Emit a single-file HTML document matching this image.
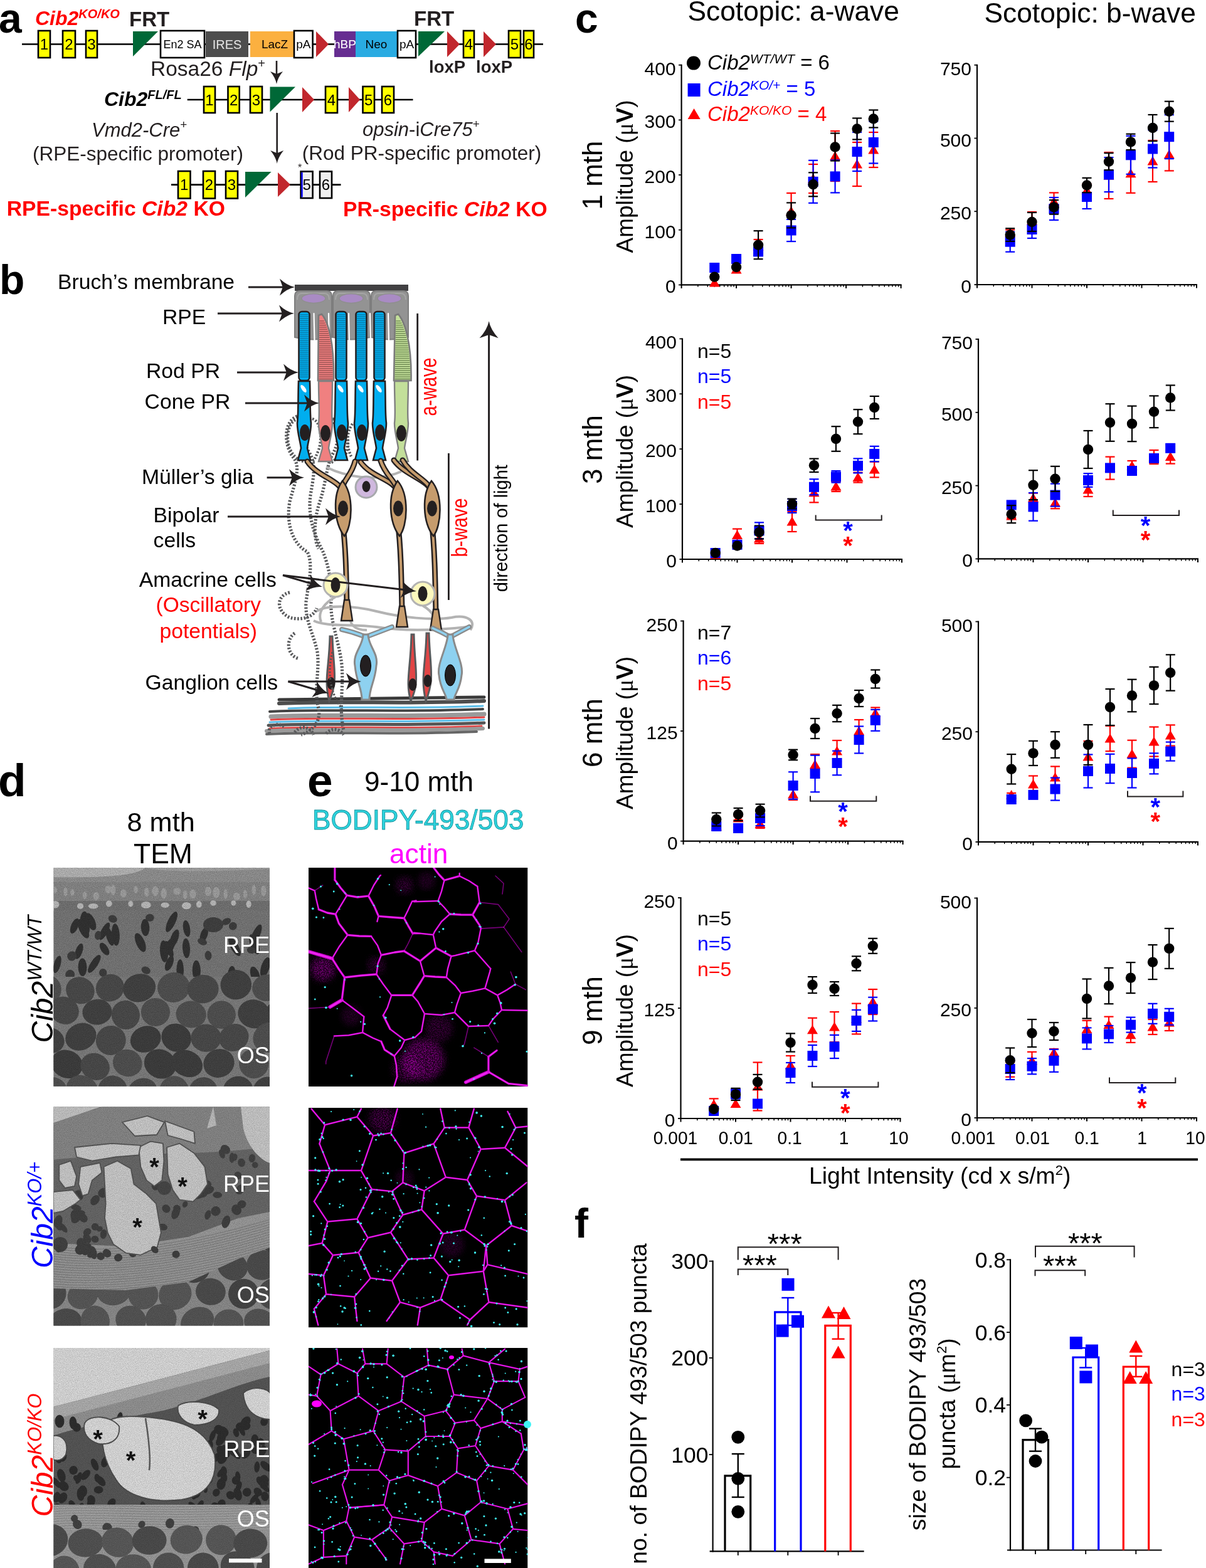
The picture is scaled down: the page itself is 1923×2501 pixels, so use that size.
<!DOCTYPE html>
<html><head><meta charset="utf-8"><title>Figure</title>
<style>
html,body{margin:0;padding:0;background:#fff;width:1923px;height:2501px;overflow:hidden}
svg{display:block}
text{font-family:"Liberation Sans", Arial, sans-serif}
</style></head><body>
<svg width="1923" height="2501" viewBox="0 0 1923 2501">
<text x="-2" y="52" font-size="66" font-weight="bold">a</text>
<line x1="35" y1="70.5" x2="866" y2="70.5" stroke="#000" stroke-width="2.6"/>
<rect x="61" y="49" width="19" height="43" fill="#FFFF00" stroke="#000" stroke-width="2.6"/>
<text x="70.5" y="79.1" font-size="24" text-anchor="middle">1</text>
<rect x="100" y="49" width="20" height="43" fill="#FFFF00" stroke="#000" stroke-width="2.6"/>
<text x="110" y="79.1" font-size="24" text-anchor="middle">2</text>
<rect x="137" y="49" width="18" height="43" fill="#FFFF00" stroke="#000" stroke-width="2.6"/>
<text x="146" y="79.1" font-size="24" text-anchor="middle">3</text>
<polygon points="212,50 252,50 212,90" fill="#006837"/>
<rect x="256" y="49" width="70" height="43" fill="#fff" stroke="#000" stroke-width="2.6"/>
<text x="291" y="77" font-size="18" text-anchor="middle">En2 SA</text>
<rect x="328" y="50" width="68" height="41" fill="#4D4D4D"/>
<text x="362" y="77.7" font-size="20" text-anchor="middle" fill="#E6E6E6">IRES</text>
<rect x="402" y="50" width="72" height="41" fill="#FBB040"/>
<text x="438" y="77.3" font-size="19" text-anchor="middle">LacZ</text>
<rect x="399" y="50" width="5" height="41" fill="#FBB040"/>
<rect x="469" y="49" width="29.6" height="43" fill="#fff" stroke="#000" stroke-width="2.6"/>
<text x="483.8" y="77.3" font-size="19" text-anchor="middle">pA</text>
<polygon points="504,50 524,70.5 504,91" fill="#C1272D"/>
<rect x="533" y="50" width="34" height="41" fill="#662D91"/>
<text x="550" y="77.3" font-size="19" text-anchor="middle" fill="#fff">hBP</text>
<rect x="567" y="50" width="66" height="41" fill="#29ABE2"/>
<text x="600" y="77.3" font-size="19" text-anchor="middle">Neo</text>
<rect x="634" y="49" width="29" height="43" fill="#fff" stroke="#000" stroke-width="2.6"/>
<text x="648.5" y="77.3" font-size="19" text-anchor="middle">pA</text>
<polygon points="667,50 709,50 667,90" fill="#006837"/>
<polygon points="713,50 733,70.5 713,91" fill="#C1272D"/>
<rect x="739" y="49" width="17" height="43" fill="#FFFF00" stroke="#000" stroke-width="2.6"/>
<text x="747.5" y="79.1" font-size="24" text-anchor="middle">4</text>
<polygon points="771,50 791,70.5 771,91" fill="#C1272D"/>
<rect x="811" y="49" width="19" height="43" fill="#FFFF00" stroke="#000" stroke-width="2.6"/>
<text x="820.5" y="79.1" font-size="24" text-anchor="middle">5</text>
<rect x="835" y="49" width="16" height="43" fill="#FFFF00" stroke="#000" stroke-width="2.6"/>
<text x="843" y="79.1" font-size="24" text-anchor="middle">6</text>
<text x="206" y="42" font-size="33" font-weight="bold" fill="#231F20">FRT</text>
<text x="660" y="41" font-size="33" font-weight="bold" fill="#231F20">FRT</text>
<text x="684" y="116" font-size="27.5" font-weight="bold" fill="#231F20">loxP</text>
<text x="759" y="116" font-size="27.5" font-weight="bold" fill="#231F20">loxP</text>
<text x="56" y="40" font-size="32" font-weight="bold" font-style="italic" fill="#FF0000">Cib2<tspan font-size="20" dy="-11">KO/KO</tspan></text>
<text x="240" y="120.5" font-size="33.5" fill="#231F20">Rosa26 <tspan font-style="italic">Flp</tspan><tspan font-size="20" dy="-13">+</tspan></text>
<line x1="441" y1="97" x2="441" y2="122" stroke="#231F20" stroke-width="2.6"/>
<path d="M441 134 Q439.2 124 431 114 L441 118 L451 114 Q442.8 124 441 134 Z" fill="#231F20"/>
<text x="166" y="169" font-size="32" font-weight="bold" font-style="italic" fill="#000">Cib2<tspan font-size="20" dy="-11">FL/FL</tspan></text>
<line x1="298.7" y1="159" x2="658.5" y2="159" stroke="#000" stroke-width="2.6"/>
<rect x="325" y="138" width="18" height="42" fill="#FFFF00" stroke="#000" stroke-width="2.6"/>
<text x="334" y="167.6" font-size="24" text-anchor="middle">1</text>
<rect x="363.5" y="138" width="18.2" height="42" fill="#FFFF00" stroke="#000" stroke-width="2.6"/>
<text x="372.6" y="167.6" font-size="24" text-anchor="middle">2</text>
<rect x="399" y="138" width="19" height="42" fill="#FFFF00" stroke="#000" stroke-width="2.6"/>
<text x="408.5" y="167.6" font-size="24" text-anchor="middle">3</text>
<polygon points="430.5,138.5 471,138.5 430.5,178.6" fill="#006837"/>
<polygon points="482,139 501,159 482,179" fill="#C1272D"/>
<rect x="519" y="138" width="19" height="42" fill="#FFFF00" stroke="#000" stroke-width="2.6"/>
<text x="528.5" y="167.6" font-size="24" text-anchor="middle">4</text>
<polygon points="556,139 574,159 556,179" fill="#C1272D"/>
<rect x="578.5" y="138" width="18.5" height="42" fill="#FFFF00" stroke="#000" stroke-width="2.6"/>
<text x="587.8" y="167.6" font-size="24" text-anchor="middle">5</text>
<rect x="609" y="138" width="19" height="42" fill="#FFFF00" stroke="#000" stroke-width="2.6"/>
<text x="618.5" y="167.6" font-size="24" text-anchor="middle">6</text>
<line x1="441.7" y1="180" x2="441.7" y2="248" stroke="#231F20" stroke-width="2.6"/>
<path d="M441.7 261 Q439.8 250.5 431.2 240 L441.7 244.2 L452.2 240 Q443.6 250.5 441.7 261 Z" fill="#231F20"/>
<text x="146" y="218" font-size="31" font-style="italic" fill="#231F20">Vmd2-Cre<tspan font-style="normal" font-size="19" dy="-13">+</tspan></text>
<text x="52" y="256" font-size="31.5" fill="#231F20">(RPE-specific promoter)</text>
<text x="578" y="216.7" font-size="31" fill="#231F20"><tspan font-style="italic">opsin</tspan>-i<tspan font-style="italic">Cre75</tspan><tspan font-size="19" dy="-13">+</tspan></text>
<text x="481.7" y="254.6" font-size="31.5" fill="#231F20">(Rod PR-specific promoter)</text>
<line x1="273" y1="294.6" x2="543.5" y2="294.6" stroke="#000" stroke-width="2.6"/>
<rect x="284" y="273" width="19.5" height="43.5" fill="#FFFF00" stroke="#000" stroke-width="2.6"/>
<text x="293.8" y="303.4" font-size="24" text-anchor="middle">1</text>
<rect x="324" y="273" width="19" height="43.5" fill="#FFFF00" stroke="#000" stroke-width="2.6"/>
<text x="333.5" y="303.4" font-size="24" text-anchor="middle">2</text>
<rect x="360" y="273" width="19" height="43.5" fill="#FFFF00" stroke="#000" stroke-width="2.6"/>
<text x="369.5" y="303.4" font-size="24" text-anchor="middle">3</text>
<polygon points="391,274 432.6,274 391,315" fill="#006837"/>
<polygon points="443,275 463,294.5 443,314" fill="#C1272D"/>
<rect x="479.6" y="273.5" width="19" height="42.5" fill="#EFEFEF" stroke="#000" stroke-width="2.6"/>
<text x="489.1" y="303.4" font-size="24" text-anchor="middle">5</text>
<line x1="481.5" y1="275" x2="481.5" y2="314.5" stroke="#0000FF" stroke-width="2.4"/>
<rect x="510" y="273.5" width="19" height="42.5" fill="#EFEFEF" stroke="#000" stroke-width="2.6"/>
<text x="519.5" y="303.4" font-size="24" text-anchor="middle">6</text>
<text x="475" y="273" font-size="16" fill="#231F20">*</text>
<text x="10.7" y="344" font-size="33.7" font-weight="bold" fill="#FF0000">RPE-specific <tspan font-style="italic">Cib2</tspan> KO</text>
<text x="547" y="345" font-size="33.7" font-weight="bold" fill="#FF0000">PR-specific <tspan font-style="italic">Cib2</tspan> KO</text>
<text x="-1" y="469" font-size="66" font-weight="bold">b</text>
<text x="92" y="461" font-size="33.7">Bruch’s membrane</text>
<text x="259" y="517" font-size="33.7">RPE</text>
<text x="233" y="603" font-size="33.7">Rod PR</text>
<text x="230.6" y="652" font-size="33.7">Cone PR</text>
<text x="226" y="772" font-size="33.7">Müller’s glia</text>
<text x="244.6" y="833" font-size="33.7">Bipolar</text>
<text x="244.6" y="873" font-size="33.7">cells</text>
<text x="221.7" y="935.8" font-size="33.7">Amacrine cells</text>
<text x="248.5" y="976" font-size="33.5" fill="#FF0000">(Oscillatory</text>
<text x="254.5" y="1017.6" font-size="33.7" fill="#FF0000">potentials)</text>
<text x="231.5" y="1100" font-size="33.7">Ganglion cells</text>
<path d="M445 1122 C 565 1117, 632 1124, 772 1118" fill="none" stroke="#4D4D4D" stroke-width="6" stroke-linecap="round"/>
<path d="M460 1130 C 580 1125, 630 1132, 770 1126" fill="none" stroke="#5BBDE8" stroke-width="3" stroke-linecap="round"/>
<path d="M430 1135 C 550 1130, 630 1137, 770 1131" fill="none" stroke="#444" stroke-width="4" stroke-linecap="round"/>
<path d="M432 1143 C 552 1138, 632 1145, 772 1139" fill="none" stroke="#9A9A9A" stroke-width="7" stroke-linecap="round"/>
<path d="M432 1148 C 552 1143, 632 1150, 772 1144" fill="none" stroke="#E24545" stroke-width="3" stroke-linecap="round"/>
<path d="M430 1152 C 550 1147, 632 1154, 772 1148" fill="none" stroke="#5BBDE8" stroke-width="3" stroke-linecap="round"/>
<path d="M428 1157 C 548 1152, 632 1159, 772 1153" fill="none" stroke="#555" stroke-width="5" stroke-linecap="round"/>
<path d="M430 1162 C 550 1157, 628 1164, 768 1158" fill="none" stroke="#E24545" stroke-width="3" stroke-linecap="round"/>
<path d="M425 1166 C 545 1161, 630 1168, 770 1162" fill="none" stroke="#9A9A9A" stroke-width="6" stroke-linecap="round"/>
<path d="M425 1171 C 545 1166, 620 1173, 760 1167" fill="none" stroke="#666" stroke-width="4" stroke-linecap="round"/>
<line x1="445" y1="1116" x2="772" y2="1112" stroke="#3a3a3a" stroke-width="5" stroke-linecap="round"/>
<path d="M474 664 C452 672 452 710 468 730 C480 745 470 770 462 800 C455 840 470 870 490 880 C500 900 492 930 488 960 C486 990 500 1010 506 1040 C510 1070 500 1100 508 1130 C512 1150 500 1165 480 1172" fill="none" stroke="#58595B" stroke-width="5.2" stroke-dasharray="2.6 2.6" stroke-linecap="butt"/>
<path d="M495 660 C482 668 480 700 492 720 C505 740 500 760 495 790 C490 830 505 860 515 880 C525 905 530 935 528 960 C526 990 540 1020 545 1060 C548 1100 540 1130 548 1165" fill="none" stroke="#58595B" stroke-width="5.2" stroke-dasharray="2.6 2.6" stroke-linecap="butt"/>
<path d="M520 664 C540 670 545 700 530 725 C520 745 520 770 510 800 C500 830 500 860 508 875" fill="none" stroke="#58595B" stroke-width="5.2" stroke-dasharray="2.6 2.6" stroke-linecap="butt"/>
<path d="M538 670 C555 680 560 710 548 730" fill="none" stroke="#58595B" stroke-width="5.2" stroke-dasharray="2.6 2.6" stroke-linecap="butt"/>
<path d="M462 945 C440 950 440 975 462 985 C480 990 500 985 505 970" fill="none" stroke="#58595B" stroke-width="5.2" stroke-dasharray="2.6 2.6" stroke-linecap="butt"/>
<path d="M470 1010 C455 1020 458 1045 475 1050" fill="none" stroke="#58595B" stroke-width="5.2" stroke-dasharray="2.6 2.6" stroke-linecap="butt"/>
<path d="M430 1170 C425 1160 440 1150 455 1160 M470 1168 C480 1155 495 1160 500 1172 M520 1170 C530 1160 540 1162 548 1172" fill="none" stroke="#58595B" stroke-width="5.2" stroke-dasharray="2.6 2.6" stroke-linecap="butt"/>
<path d="M476 668 C458 672 456 700 462 715 C468 730 480 738 492 736" fill="none" stroke="#58595B" stroke-width="4.4" stroke-dasharray="2.6 2.6" stroke-linecap="butt"/>
<path d="M498 668 C512 672 514 700 508 718 C503 730 500 736 497 738" fill="none" stroke="#58595B" stroke-width="4.4" stroke-dasharray="2.6 2.6" stroke-linecap="butt"/>
<path d="M530 668 C546 672 548 700 542 718 C538 730 532 736 528 738" fill="none" stroke="#58595B" stroke-width="4.4" stroke-dasharray="2.6 2.6" stroke-linecap="butt"/>
<path d="M562 676 C552 690 552 712 560 728" fill="none" stroke="#58595B" stroke-width="4.4" stroke-dasharray="2.6 2.6" stroke-linecap="butt"/>
<path d="M505 975 C520 965 560 965 600 975 C640 985 690 990 720 985 C745 980 760 990 750 1005" fill="none" stroke="#B3B3B3" stroke-width="4"/>
<path d="M500 990 C520 1000 560 995 600 1000 C650 1008 700 1005 745 1000" fill="none" stroke="#B3B3B3" stroke-width="4"/>
<path d="M535 952 C520 960 505 975 512 992" fill="none" stroke="#B3B3B3" stroke-width="4"/>
<path d="M674 966 C690 975 700 990 690 1005" fill="none" stroke="#B3B3B3" stroke-width="4"/>
<path d="M560 980 C555 995 565 1005 585 1005" fill="none" stroke="#B3B3B3" stroke-width="4"/>
<rect x="470" y="454" width="181" height="10" fill="#414042"/>
<path d="M470 472 Q470 464 478 464 H521 Q529 464 529 472 V538 Q499 545 470 538 Z" fill="#939393" stroke="#7d7d7d" stroke-width="2"/>
<path d="M474 478 Q474 468 481 468 H517 Q525 468 525 478" fill="none" stroke="#a5a5a5" stroke-width="2"/>
<path d="M531 472 Q531 464 539 464 H582 Q590 464 590 472 V538 Q560 545 531 538 Z" fill="#939393" stroke="#7d7d7d" stroke-width="2"/>
<path d="M535 478 Q535 468 542 468 H578 Q586 468 586 478" fill="none" stroke="#a5a5a5" stroke-width="2"/>
<path d="M592 472 Q592 464 600 464 H643 Q651 464 651 472 V538 Q621 545 592 538 Z" fill="#939393" stroke="#7d7d7d" stroke-width="2"/>
<path d="M596 478 Q596 468 603 468 H639 Q647 468 647 478" fill="none" stroke="#a5a5a5" stroke-width="2"/>
<path d="M500.5 500 L501.5 544" fill="none" stroke="#ffffff" stroke-width="2.2" stroke-linecap="round"/>
<path d="M524 500 L525 544" fill="none" stroke="#ffffff" stroke-width="2.2" stroke-linecap="round"/>
<path d="M556 500 L557 544" fill="none" stroke="#ffffff" stroke-width="2.2" stroke-linecap="round"/>
<path d="M590 500 L591 544" fill="none" stroke="#ffffff" stroke-width="2.2" stroke-linecap="round"/>
<path d="M619 500 L620 544" fill="none" stroke="#ffffff" stroke-width="2.2" stroke-linecap="round"/>
<ellipse cx="500" cy="476" rx="19" ry="7.5" fill="#A98BC4" stroke="#8f8f8f" stroke-width="1.5"/>
<ellipse cx="560" cy="476" rx="19" ry="7.5" fill="#A98BC4" stroke="#8f8f8f" stroke-width="1.5"/>
<ellipse cx="621" cy="476" rx="19" ry="7.5" fill="#A98BC4" stroke="#8f8f8f" stroke-width="1.5"/>
<rect x="476.5" y="497" width="17" height="110" fill="#00AEEF" stroke="#231F20" stroke-width="2.6" rx="5"/>
<line x1="477.5" y1="502" x2="492.5" y2="502" stroke="#0b6a92" stroke-width="1.1"/>
<line x1="477.5" y1="505.2" x2="492.5" y2="505.2" stroke="#0b6a92" stroke-width="1.1"/>
<line x1="477.5" y1="508.4" x2="492.5" y2="508.4" stroke="#0b6a92" stroke-width="1.1"/>
<line x1="477.5" y1="511.6" x2="492.5" y2="511.6" stroke="#0b6a92" stroke-width="1.1"/>
<line x1="477.5" y1="514.8" x2="492.5" y2="514.8" stroke="#0b6a92" stroke-width="1.1"/>
<line x1="477.5" y1="518" x2="492.5" y2="518" stroke="#0b6a92" stroke-width="1.1"/>
<line x1="477.5" y1="521.2" x2="492.5" y2="521.2" stroke="#0b6a92" stroke-width="1.1"/>
<line x1="477.5" y1="524.4" x2="492.5" y2="524.4" stroke="#0b6a92" stroke-width="1.1"/>
<line x1="477.5" y1="527.6" x2="492.5" y2="527.6" stroke="#0b6a92" stroke-width="1.1"/>
<line x1="477.5" y1="530.8" x2="492.5" y2="530.8" stroke="#0b6a92" stroke-width="1.1"/>
<line x1="477.5" y1="534" x2="492.5" y2="534" stroke="#0b6a92" stroke-width="1.1"/>
<line x1="477.5" y1="537.2" x2="492.5" y2="537.2" stroke="#0b6a92" stroke-width="1.1"/>
<line x1="477.5" y1="540.4" x2="492.5" y2="540.4" stroke="#0b6a92" stroke-width="1.1"/>
<line x1="477.5" y1="543.6" x2="492.5" y2="543.6" stroke="#0b6a92" stroke-width="1.1"/>
<line x1="477.5" y1="546.8" x2="492.5" y2="546.8" stroke="#0b6a92" stroke-width="1.1"/>
<line x1="477.5" y1="550" x2="492.5" y2="550" stroke="#0b6a92" stroke-width="1.1"/>
<line x1="477.5" y1="553.2" x2="492.5" y2="553.2" stroke="#0b6a92" stroke-width="1.1"/>
<line x1="477.5" y1="556.4" x2="492.5" y2="556.4" stroke="#0b6a92" stroke-width="1.1"/>
<line x1="477.5" y1="559.6" x2="492.5" y2="559.6" stroke="#0b6a92" stroke-width="1.1"/>
<line x1="477.5" y1="562.8" x2="492.5" y2="562.8" stroke="#0b6a92" stroke-width="1.1"/>
<line x1="477.5" y1="566" x2="492.5" y2="566" stroke="#0b6a92" stroke-width="1.1"/>
<line x1="477.5" y1="569.2" x2="492.5" y2="569.2" stroke="#0b6a92" stroke-width="1.1"/>
<line x1="477.5" y1="572.4" x2="492.5" y2="572.4" stroke="#0b6a92" stroke-width="1.1"/>
<line x1="477.5" y1="575.6" x2="492.5" y2="575.6" stroke="#0b6a92" stroke-width="1.1"/>
<line x1="477.5" y1="578.8" x2="492.5" y2="578.8" stroke="#0b6a92" stroke-width="1.1"/>
<line x1="477.5" y1="582" x2="492.5" y2="582" stroke="#0b6a92" stroke-width="1.1"/>
<line x1="477.5" y1="585.2" x2="492.5" y2="585.2" stroke="#0b6a92" stroke-width="1.1"/>
<line x1="477.5" y1="588.4" x2="492.5" y2="588.4" stroke="#0b6a92" stroke-width="1.1"/>
<line x1="477.5" y1="591.6" x2="492.5" y2="591.6" stroke="#0b6a92" stroke-width="1.1"/>
<line x1="477.5" y1="594.8" x2="492.5" y2="594.8" stroke="#0b6a92" stroke-width="1.1"/>
<line x1="477.5" y1="598" x2="492.5" y2="598" stroke="#0b6a92" stroke-width="1.1"/>
<line x1="477.5" y1="601.2" x2="492.5" y2="601.2" stroke="#0b6a92" stroke-width="1.1"/>
<path d="M476 608 C475 640 476 660 474 675 C474 690 479 705 480 715 L475 734 L495 734 L490 715 C491 705 496 690 496 675 C494 660 495 640 494 608 Z" fill="#00AEEF" stroke="#231F20" stroke-width="2.6"/>
<ellipse cx="486" cy="690" rx="8" ry="13" fill="#231F20"/>
<ellipse cx="484" cy="620" rx="3" ry="7" fill="#fff" transform="rotate(-35 484 620)"/>
<path d="M508 503 L507 607 L532 607 C533 548 524 514 513 501 Z" fill="#F08080" stroke="#7a7a7a" stroke-width="2.6"/>
<line x1="509.4" y1="512" x2="516.8" y2="512" stroke="#8c4a4a" stroke-width="1.2"/>
<line x1="509.4" y1="515.3" x2="518.4" y2="515.3" stroke="#8c4a4a" stroke-width="1.2"/>
<line x1="509.4" y1="518.6" x2="520" y2="518.6" stroke="#8c4a4a" stroke-width="1.2"/>
<line x1="509.3" y1="521.9" x2="520.9" y2="521.9" stroke="#8c4a4a" stroke-width="1.2"/>
<line x1="509.3" y1="525.2" x2="521.9" y2="525.2" stroke="#8c4a4a" stroke-width="1.2"/>
<line x1="509.3" y1="528.5" x2="523.2" y2="528.5" stroke="#8c4a4a" stroke-width="1.2"/>
<line x1="509.2" y1="531.8" x2="524.1" y2="531.8" stroke="#8c4a4a" stroke-width="1.2"/>
<line x1="509.2" y1="535.1" x2="524.9" y2="535.1" stroke="#8c4a4a" stroke-width="1.2"/>
<line x1="509.2" y1="538.4" x2="525.2" y2="538.4" stroke="#8c4a4a" stroke-width="1.2"/>
<line x1="509.1" y1="541.7" x2="526" y2="541.7" stroke="#8c4a4a" stroke-width="1.2"/>
<line x1="509.1" y1="545" x2="526.7" y2="545" stroke="#8c4a4a" stroke-width="1.2"/>
<line x1="509.1" y1="548.3" x2="527.3" y2="548.3" stroke="#8c4a4a" stroke-width="1.2"/>
<line x1="509" y1="551.6" x2="527.6" y2="551.6" stroke="#8c4a4a" stroke-width="1.2"/>
<line x1="509" y1="554.9" x2="528.1" y2="554.9" stroke="#8c4a4a" stroke-width="1.2"/>
<line x1="509" y1="558.2" x2="528.4" y2="558.2" stroke="#8c4a4a" stroke-width="1.2"/>
<line x1="508.9" y1="561.5" x2="528.9" y2="561.5" stroke="#8c4a4a" stroke-width="1.2"/>
<line x1="508.9" y1="564.8" x2="529.1" y2="564.8" stroke="#8c4a4a" stroke-width="1.2"/>
<line x1="508.9" y1="568.1" x2="529.5" y2="568.1" stroke="#8c4a4a" stroke-width="1.2"/>
<line x1="508.8" y1="571.4" x2="529.6" y2="571.4" stroke="#8c4a4a" stroke-width="1.2"/>
<line x1="508.8" y1="574.7" x2="529.9" y2="574.7" stroke="#8c4a4a" stroke-width="1.2"/>
<line x1="508.8" y1="578" x2="530.1" y2="578" stroke="#8c4a4a" stroke-width="1.2"/>
<line x1="508.7" y1="581.3" x2="530.2" y2="581.3" stroke="#8c4a4a" stroke-width="1.2"/>
<line x1="508.7" y1="584.6" x2="530.3" y2="584.6" stroke="#8c4a4a" stroke-width="1.2"/>
<line x1="508.7" y1="587.9" x2="530.5" y2="587.9" stroke="#8c4a4a" stroke-width="1.2"/>
<line x1="508.7" y1="591.2" x2="530.5" y2="591.2" stroke="#8c4a4a" stroke-width="1.2"/>
<line x1="508.6" y1="594.5" x2="530.5" y2="594.5" stroke="#8c4a4a" stroke-width="1.2"/>
<line x1="508.6" y1="597.8" x2="530.6" y2="597.8" stroke="#8c4a4a" stroke-width="1.2"/>
<line x1="508.6" y1="601.1" x2="530.6" y2="601.1" stroke="#8c4a4a" stroke-width="1.2"/>
<line x1="508.5" y1="604.4" x2="530.6" y2="604.4" stroke="#8c4a4a" stroke-width="1.2"/>
<path d="M508 608 C508 640 510 660 508 675 C508 690 513 705 514 715 L508 736 L530 736 L524 715 C525 705 530 690 530 675 C528 660 530 640 530 608 Z" fill="#F08080" stroke="#808080" stroke-width="2.4"/>
<ellipse cx="519" cy="691" rx="8" ry="13" fill="#231F20"/>
<rect x="535.5" y="497" width="17" height="110" fill="#00AEEF" stroke="#231F20" stroke-width="2.6" rx="5"/>
<line x1="536.5" y1="502" x2="551.5" y2="502" stroke="#0b6a92" stroke-width="1.1"/>
<line x1="536.5" y1="505.2" x2="551.5" y2="505.2" stroke="#0b6a92" stroke-width="1.1"/>
<line x1="536.5" y1="508.4" x2="551.5" y2="508.4" stroke="#0b6a92" stroke-width="1.1"/>
<line x1="536.5" y1="511.6" x2="551.5" y2="511.6" stroke="#0b6a92" stroke-width="1.1"/>
<line x1="536.5" y1="514.8" x2="551.5" y2="514.8" stroke="#0b6a92" stroke-width="1.1"/>
<line x1="536.5" y1="518" x2="551.5" y2="518" stroke="#0b6a92" stroke-width="1.1"/>
<line x1="536.5" y1="521.2" x2="551.5" y2="521.2" stroke="#0b6a92" stroke-width="1.1"/>
<line x1="536.5" y1="524.4" x2="551.5" y2="524.4" stroke="#0b6a92" stroke-width="1.1"/>
<line x1="536.5" y1="527.6" x2="551.5" y2="527.6" stroke="#0b6a92" stroke-width="1.1"/>
<line x1="536.5" y1="530.8" x2="551.5" y2="530.8" stroke="#0b6a92" stroke-width="1.1"/>
<line x1="536.5" y1="534" x2="551.5" y2="534" stroke="#0b6a92" stroke-width="1.1"/>
<line x1="536.5" y1="537.2" x2="551.5" y2="537.2" stroke="#0b6a92" stroke-width="1.1"/>
<line x1="536.5" y1="540.4" x2="551.5" y2="540.4" stroke="#0b6a92" stroke-width="1.1"/>
<line x1="536.5" y1="543.6" x2="551.5" y2="543.6" stroke="#0b6a92" stroke-width="1.1"/>
<line x1="536.5" y1="546.8" x2="551.5" y2="546.8" stroke="#0b6a92" stroke-width="1.1"/>
<line x1="536.5" y1="550" x2="551.5" y2="550" stroke="#0b6a92" stroke-width="1.1"/>
<line x1="536.5" y1="553.2" x2="551.5" y2="553.2" stroke="#0b6a92" stroke-width="1.1"/>
<line x1="536.5" y1="556.4" x2="551.5" y2="556.4" stroke="#0b6a92" stroke-width="1.1"/>
<line x1="536.5" y1="559.6" x2="551.5" y2="559.6" stroke="#0b6a92" stroke-width="1.1"/>
<line x1="536.5" y1="562.8" x2="551.5" y2="562.8" stroke="#0b6a92" stroke-width="1.1"/>
<line x1="536.5" y1="566" x2="551.5" y2="566" stroke="#0b6a92" stroke-width="1.1"/>
<line x1="536.5" y1="569.2" x2="551.5" y2="569.2" stroke="#0b6a92" stroke-width="1.1"/>
<line x1="536.5" y1="572.4" x2="551.5" y2="572.4" stroke="#0b6a92" stroke-width="1.1"/>
<line x1="536.5" y1="575.6" x2="551.5" y2="575.6" stroke="#0b6a92" stroke-width="1.1"/>
<line x1="536.5" y1="578.8" x2="551.5" y2="578.8" stroke="#0b6a92" stroke-width="1.1"/>
<line x1="536.5" y1="582" x2="551.5" y2="582" stroke="#0b6a92" stroke-width="1.1"/>
<line x1="536.5" y1="585.2" x2="551.5" y2="585.2" stroke="#0b6a92" stroke-width="1.1"/>
<line x1="536.5" y1="588.4" x2="551.5" y2="588.4" stroke="#0b6a92" stroke-width="1.1"/>
<line x1="536.5" y1="591.6" x2="551.5" y2="591.6" stroke="#0b6a92" stroke-width="1.1"/>
<line x1="536.5" y1="594.8" x2="551.5" y2="594.8" stroke="#0b6a92" stroke-width="1.1"/>
<line x1="536.5" y1="598" x2="551.5" y2="598" stroke="#0b6a92" stroke-width="1.1"/>
<line x1="536.5" y1="601.2" x2="551.5" y2="601.2" stroke="#0b6a92" stroke-width="1.1"/>
<path d="M535 608 C534 640 535 660 533 675 C533 690 538 705 539 715 L534 734 L554 734 L549 715 C550 705 555 690 555 675 C553 660 554 640 553 608 Z" fill="#00AEEF" stroke="#231F20" stroke-width="2.6"/>
<ellipse cx="545" cy="690" rx="8" ry="13" fill="#231F20"/>
<ellipse cx="543" cy="620" rx="3" ry="7" fill="#fff" transform="rotate(-35 543 620)"/>
<rect x="567.5" y="497" width="17" height="110" fill="#00AEEF" stroke="#231F20" stroke-width="2.6" rx="5"/>
<line x1="568.5" y1="502" x2="583.5" y2="502" stroke="#0b6a92" stroke-width="1.1"/>
<line x1="568.5" y1="505.2" x2="583.5" y2="505.2" stroke="#0b6a92" stroke-width="1.1"/>
<line x1="568.5" y1="508.4" x2="583.5" y2="508.4" stroke="#0b6a92" stroke-width="1.1"/>
<line x1="568.5" y1="511.6" x2="583.5" y2="511.6" stroke="#0b6a92" stroke-width="1.1"/>
<line x1="568.5" y1="514.8" x2="583.5" y2="514.8" stroke="#0b6a92" stroke-width="1.1"/>
<line x1="568.5" y1="518" x2="583.5" y2="518" stroke="#0b6a92" stroke-width="1.1"/>
<line x1="568.5" y1="521.2" x2="583.5" y2="521.2" stroke="#0b6a92" stroke-width="1.1"/>
<line x1="568.5" y1="524.4" x2="583.5" y2="524.4" stroke="#0b6a92" stroke-width="1.1"/>
<line x1="568.5" y1="527.6" x2="583.5" y2="527.6" stroke="#0b6a92" stroke-width="1.1"/>
<line x1="568.5" y1="530.8" x2="583.5" y2="530.8" stroke="#0b6a92" stroke-width="1.1"/>
<line x1="568.5" y1="534" x2="583.5" y2="534" stroke="#0b6a92" stroke-width="1.1"/>
<line x1="568.5" y1="537.2" x2="583.5" y2="537.2" stroke="#0b6a92" stroke-width="1.1"/>
<line x1="568.5" y1="540.4" x2="583.5" y2="540.4" stroke="#0b6a92" stroke-width="1.1"/>
<line x1="568.5" y1="543.6" x2="583.5" y2="543.6" stroke="#0b6a92" stroke-width="1.1"/>
<line x1="568.5" y1="546.8" x2="583.5" y2="546.8" stroke="#0b6a92" stroke-width="1.1"/>
<line x1="568.5" y1="550" x2="583.5" y2="550" stroke="#0b6a92" stroke-width="1.1"/>
<line x1="568.5" y1="553.2" x2="583.5" y2="553.2" stroke="#0b6a92" stroke-width="1.1"/>
<line x1="568.5" y1="556.4" x2="583.5" y2="556.4" stroke="#0b6a92" stroke-width="1.1"/>
<line x1="568.5" y1="559.6" x2="583.5" y2="559.6" stroke="#0b6a92" stroke-width="1.1"/>
<line x1="568.5" y1="562.8" x2="583.5" y2="562.8" stroke="#0b6a92" stroke-width="1.1"/>
<line x1="568.5" y1="566" x2="583.5" y2="566" stroke="#0b6a92" stroke-width="1.1"/>
<line x1="568.5" y1="569.2" x2="583.5" y2="569.2" stroke="#0b6a92" stroke-width="1.1"/>
<line x1="568.5" y1="572.4" x2="583.5" y2="572.4" stroke="#0b6a92" stroke-width="1.1"/>
<line x1="568.5" y1="575.6" x2="583.5" y2="575.6" stroke="#0b6a92" stroke-width="1.1"/>
<line x1="568.5" y1="578.8" x2="583.5" y2="578.8" stroke="#0b6a92" stroke-width="1.1"/>
<line x1="568.5" y1="582" x2="583.5" y2="582" stroke="#0b6a92" stroke-width="1.1"/>
<line x1="568.5" y1="585.2" x2="583.5" y2="585.2" stroke="#0b6a92" stroke-width="1.1"/>
<line x1="568.5" y1="588.4" x2="583.5" y2="588.4" stroke="#0b6a92" stroke-width="1.1"/>
<line x1="568.5" y1="591.6" x2="583.5" y2="591.6" stroke="#0b6a92" stroke-width="1.1"/>
<line x1="568.5" y1="594.8" x2="583.5" y2="594.8" stroke="#0b6a92" stroke-width="1.1"/>
<line x1="568.5" y1="598" x2="583.5" y2="598" stroke="#0b6a92" stroke-width="1.1"/>
<line x1="568.5" y1="601.2" x2="583.5" y2="601.2" stroke="#0b6a92" stroke-width="1.1"/>
<path d="M567 608 C566 640 567 660 565 675 C565 690 570 705 571 715 L566 734 L586 734 L581 715 C582 705 587 690 587 675 C585 660 586 640 585 608 Z" fill="#00AEEF" stroke="#231F20" stroke-width="2.6"/>
<ellipse cx="577" cy="690" rx="8" ry="13" fill="#231F20"/>
<ellipse cx="575" cy="620" rx="3" ry="7" fill="#fff" transform="rotate(-35 575 620)"/>
<rect x="596.5" y="497" width="17" height="110" fill="#00AEEF" stroke="#231F20" stroke-width="2.6" rx="5"/>
<line x1="597.5" y1="502" x2="612.5" y2="502" stroke="#0b6a92" stroke-width="1.1"/>
<line x1="597.5" y1="505.2" x2="612.5" y2="505.2" stroke="#0b6a92" stroke-width="1.1"/>
<line x1="597.5" y1="508.4" x2="612.5" y2="508.4" stroke="#0b6a92" stroke-width="1.1"/>
<line x1="597.5" y1="511.6" x2="612.5" y2="511.6" stroke="#0b6a92" stroke-width="1.1"/>
<line x1="597.5" y1="514.8" x2="612.5" y2="514.8" stroke="#0b6a92" stroke-width="1.1"/>
<line x1="597.5" y1="518" x2="612.5" y2="518" stroke="#0b6a92" stroke-width="1.1"/>
<line x1="597.5" y1="521.2" x2="612.5" y2="521.2" stroke="#0b6a92" stroke-width="1.1"/>
<line x1="597.5" y1="524.4" x2="612.5" y2="524.4" stroke="#0b6a92" stroke-width="1.1"/>
<line x1="597.5" y1="527.6" x2="612.5" y2="527.6" stroke="#0b6a92" stroke-width="1.1"/>
<line x1="597.5" y1="530.8" x2="612.5" y2="530.8" stroke="#0b6a92" stroke-width="1.1"/>
<line x1="597.5" y1="534" x2="612.5" y2="534" stroke="#0b6a92" stroke-width="1.1"/>
<line x1="597.5" y1="537.2" x2="612.5" y2="537.2" stroke="#0b6a92" stroke-width="1.1"/>
<line x1="597.5" y1="540.4" x2="612.5" y2="540.4" stroke="#0b6a92" stroke-width="1.1"/>
<line x1="597.5" y1="543.6" x2="612.5" y2="543.6" stroke="#0b6a92" stroke-width="1.1"/>
<line x1="597.5" y1="546.8" x2="612.5" y2="546.8" stroke="#0b6a92" stroke-width="1.1"/>
<line x1="597.5" y1="550" x2="612.5" y2="550" stroke="#0b6a92" stroke-width="1.1"/>
<line x1="597.5" y1="553.2" x2="612.5" y2="553.2" stroke="#0b6a92" stroke-width="1.1"/>
<line x1="597.5" y1="556.4" x2="612.5" y2="556.4" stroke="#0b6a92" stroke-width="1.1"/>
<line x1="597.5" y1="559.6" x2="612.5" y2="559.6" stroke="#0b6a92" stroke-width="1.1"/>
<line x1="597.5" y1="562.8" x2="612.5" y2="562.8" stroke="#0b6a92" stroke-width="1.1"/>
<line x1="597.5" y1="566" x2="612.5" y2="566" stroke="#0b6a92" stroke-width="1.1"/>
<line x1="597.5" y1="569.2" x2="612.5" y2="569.2" stroke="#0b6a92" stroke-width="1.1"/>
<line x1="597.5" y1="572.4" x2="612.5" y2="572.4" stroke="#0b6a92" stroke-width="1.1"/>
<line x1="597.5" y1="575.6" x2="612.5" y2="575.6" stroke="#0b6a92" stroke-width="1.1"/>
<line x1="597.5" y1="578.8" x2="612.5" y2="578.8" stroke="#0b6a92" stroke-width="1.1"/>
<line x1="597.5" y1="582" x2="612.5" y2="582" stroke="#0b6a92" stroke-width="1.1"/>
<line x1="597.5" y1="585.2" x2="612.5" y2="585.2" stroke="#0b6a92" stroke-width="1.1"/>
<line x1="597.5" y1="588.4" x2="612.5" y2="588.4" stroke="#0b6a92" stroke-width="1.1"/>
<line x1="597.5" y1="591.6" x2="612.5" y2="591.6" stroke="#0b6a92" stroke-width="1.1"/>
<line x1="597.5" y1="594.8" x2="612.5" y2="594.8" stroke="#0b6a92" stroke-width="1.1"/>
<line x1="597.5" y1="598" x2="612.5" y2="598" stroke="#0b6a92" stroke-width="1.1"/>
<line x1="597.5" y1="601.2" x2="612.5" y2="601.2" stroke="#0b6a92" stroke-width="1.1"/>
<path d="M596 608 C595 640 596 660 594 675 C594 690 599 705 600 715 L595 734 L615 734 L610 715 C611 705 616 690 616 675 C614 660 615 640 614 608 Z" fill="#00AEEF" stroke="#231F20" stroke-width="2.6"/>
<ellipse cx="606" cy="690" rx="8" ry="13" fill="#231F20"/>
<ellipse cx="604" cy="620" rx="3" ry="7" fill="#fff" transform="rotate(-35 604 620)"/>
<path d="M630 503 L628 607 L655.5 607 C656.5 548 646 514 635 501 Z" fill="#C3DF9A" stroke="#7a7a7a" stroke-width="2.6"/>
<line x1="631.3" y1="512" x2="638.9" y2="512" stroke="#5f7a45" stroke-width="1.2"/>
<line x1="631.3" y1="515.3" x2="640.6" y2="515.3" stroke="#5f7a45" stroke-width="1.2"/>
<line x1="631.2" y1="518.6" x2="642.3" y2="518.6" stroke="#5f7a45" stroke-width="1.2"/>
<line x1="631.1" y1="521.9" x2="643.3" y2="521.9" stroke="#5f7a45" stroke-width="1.2"/>
<line x1="631.1" y1="525.2" x2="644.3" y2="525.2" stroke="#5f7a45" stroke-width="1.2"/>
<line x1="631" y1="528.5" x2="645.8" y2="528.5" stroke="#5f7a45" stroke-width="1.2"/>
<line x1="630.9" y1="531.8" x2="646.7" y2="531.8" stroke="#5f7a45" stroke-width="1.2"/>
<line x1="630.9" y1="535.1" x2="647.6" y2="535.1" stroke="#5f7a45" stroke-width="1.2"/>
<line x1="630.8" y1="538.4" x2="648" y2="538.4" stroke="#5f7a45" stroke-width="1.2"/>
<line x1="630.8" y1="541.7" x2="648.8" y2="541.7" stroke="#5f7a45" stroke-width="1.2"/>
<line x1="630.7" y1="545" x2="649.6" y2="545" stroke="#5f7a45" stroke-width="1.2"/>
<line x1="630.6" y1="548.3" x2="650.3" y2="548.3" stroke="#5f7a45" stroke-width="1.2"/>
<line x1="630.6" y1="551.6" x2="650.6" y2="551.6" stroke="#5f7a45" stroke-width="1.2"/>
<line x1="630.5" y1="554.9" x2="651.2" y2="554.9" stroke="#5f7a45" stroke-width="1.2"/>
<line x1="630.4" y1="558.2" x2="651.5" y2="558.2" stroke="#5f7a45" stroke-width="1.2"/>
<line x1="630.4" y1="561.5" x2="652" y2="561.5" stroke="#5f7a45" stroke-width="1.2"/>
<line x1="630.3" y1="564.8" x2="652.3" y2="564.8" stroke="#5f7a45" stroke-width="1.2"/>
<line x1="630.2" y1="568.1" x2="652.7" y2="568.1" stroke="#5f7a45" stroke-width="1.2"/>
<line x1="630.2" y1="571.4" x2="652.9" y2="571.4" stroke="#5f7a45" stroke-width="1.2"/>
<line x1="630.1" y1="574.7" x2="653.3" y2="574.7" stroke="#5f7a45" stroke-width="1.2"/>
<line x1="630.1" y1="578" x2="653.4" y2="578" stroke="#5f7a45" stroke-width="1.2"/>
<line x1="630" y1="581.3" x2="653.6" y2="581.3" stroke="#5f7a45" stroke-width="1.2"/>
<line x1="629.9" y1="584.6" x2="653.7" y2="584.6" stroke="#5f7a45" stroke-width="1.2"/>
<line x1="629.9" y1="587.9" x2="653.9" y2="587.9" stroke="#5f7a45" stroke-width="1.2"/>
<line x1="629.8" y1="591.2" x2="654" y2="591.2" stroke="#5f7a45" stroke-width="1.2"/>
<line x1="629.7" y1="594.5" x2="654" y2="594.5" stroke="#5f7a45" stroke-width="1.2"/>
<line x1="629.7" y1="597.8" x2="654" y2="597.8" stroke="#5f7a45" stroke-width="1.2"/>
<line x1="629.6" y1="601.1" x2="654.1" y2="601.1" stroke="#5f7a45" stroke-width="1.2"/>
<line x1="629.6" y1="604.4" x2="654.1" y2="604.4" stroke="#5f7a45" stroke-width="1.2"/>
<path d="M629 608 C629 640 631 660 629 675 C629 690 634 705 635 715 L629 736 L651 736 L645 715 C646 705 651 690 651 675 C649 660 651 640 651 608 Z" fill="#C3DF9A" stroke="#808080" stroke-width="2.4"/>
<ellipse cx="640" cy="691" rx="8" ry="13" fill="#231F20"/>
<path d="M520 745 C550 760 600 770 640 752" fill="none" stroke="#B3B3B3" stroke-width="4"/>
<circle cx="584" cy="777" r="17" fill="#CFB8DE" stroke="#A7A9AC" stroke-width="3"/>
<ellipse cx="584" cy="776" rx="6.5" ry="9" fill="#231F20"/>
<path d="M490 736 C506.8 761 544 766 546 786" fill="none" stroke="#231F20" stroke-width="9" stroke-linecap="round"/>
<path d="M490 736 C506.8 761 544 766 546 786" fill="none" stroke="#C69C6D" stroke-width="4.4" stroke-linecap="round"/>
<path d="M566 736 C560 761 544 766 546 786" fill="none" stroke="#231F20" stroke-width="9" stroke-linecap="round"/>
<path d="M566 736 C560 761 544 766 546 786" fill="none" stroke="#C69C6D" stroke-width="4.4" stroke-linecap="round"/>
<path d="M546 831 C551 871 552 905 553 965" fill="none" stroke="#231F20" stroke-width="9"/>
<path d="M546 831 C551 871 552 905 553 965" fill="none" stroke="#C69C6D" stroke-width="4"/>
<polygon points="549,957 557,957 562,990 544,990" fill="#C69C6D" stroke="#231F20" stroke-width="2.4"/>
<path d="M546 767 C565 789 562 839 549 855 C532 833 530 789 546 767 Z" fill="#C69C6D" stroke="#231F20" stroke-width="2.6"/>
<ellipse cx="547" cy="811" rx="8" ry="12.5" fill="#231F20"/>
<path d="M575 737 C592.7 762 632 766 634 786" fill="none" stroke="#231F20" stroke-width="9" stroke-linecap="round"/>
<path d="M575 737 C592.7 762 632 766 634 786" fill="none" stroke="#C69C6D" stroke-width="4.4" stroke-linecap="round"/>
<path d="M607 735 C615.1 760 632 766 634 786" fill="none" stroke="#231F20" stroke-width="9" stroke-linecap="round"/>
<path d="M607 735 C615.1 760 632 766 634 786" fill="none" stroke="#C69C6D" stroke-width="4.4" stroke-linecap="round"/>
<path d="M634 831 C639 871 640 915 641 975" fill="none" stroke="#231F20" stroke-width="9"/>
<path d="M634 831 C639 871 640 915 641 975" fill="none" stroke="#C69C6D" stroke-width="4"/>
<polygon points="637,967 645,967 650,1000 632,1000" fill="#C69C6D" stroke="#231F20" stroke-width="2.4"/>
<path d="M634 767 C653 789 650 839 637 855 C620 833 618 789 634 767 Z" fill="#C69C6D" stroke="#231F20" stroke-width="2.6"/>
<ellipse cx="635" cy="811" rx="8" ry="12.5" fill="#231F20"/>
<path d="M628 734 C646 759 686 766 688 786" fill="none" stroke="#231F20" stroke-width="9" stroke-linecap="round"/>
<path d="M628 734 C646 759 686 766 688 786" fill="none" stroke="#C69C6D" stroke-width="4.4" stroke-linecap="round"/>
<path d="M642 734 C655.8 759 686 766 688 786" fill="none" stroke="#231F20" stroke-width="9" stroke-linecap="round"/>
<path d="M642 734 C655.8 759 686 766 688 786" fill="none" stroke="#C69C6D" stroke-width="4.4" stroke-linecap="round"/>
<path d="M688 831 C693 871 694 920 695 980" fill="none" stroke="#231F20" stroke-width="9"/>
<path d="M688 831 C693 871 694 920 695 980" fill="none" stroke="#C69C6D" stroke-width="4"/>
<polygon points="691,972 699,972 704,1005 686,1005" fill="#C69C6D" stroke="#231F20" stroke-width="2.4"/>
<path d="M688 767 C707 789 704 839 691 855 C674 833 672 789 688 767 Z" fill="#C69C6D" stroke="#231F20" stroke-width="2.6"/>
<ellipse cx="689" cy="811" rx="8" ry="12.5" fill="#231F20"/>
<circle cx="535" cy="933" r="19" fill="#FCF8BE" stroke="#B3B3B3" stroke-width="3"/>
<ellipse cx="535" cy="933" rx="7.5" ry="12" fill="#231F20"/>
<circle cx="674" cy="947" r="19" fill="#FCF8BE" stroke="#B3B3B3" stroke-width="3"/>
<ellipse cx="674" cy="947" rx="7.5" ry="12" fill="#231F20"/>
<path d="M583 1016 Q564 1008 545 1004" fill="none" stroke="#8A8A8A" stroke-width="8" stroke-linecap="round"/>
<path d="M583 1016 Q564 1008 545 1004" fill="none" stroke="#8ED1F0" stroke-width="3.5" stroke-linecap="round"/>
<path d="M583 1016 Q604 1008 625 1000" fill="none" stroke="#8A8A8A" stroke-width="8" stroke-linecap="round"/>
<path d="M583 1016 Q604 1008 625 1000" fill="none" stroke="#8ED1F0" stroke-width="3.5" stroke-linecap="round"/>
<path d="M579 1012 C579 1030 562 1042.2 566 1062 C568 1087.2 577 1096.2 577 1116 L589 1116 C589 1096.2 598 1087.2 600 1062 C604 1042.2 587 1030 587 1012 Z" fill="#8ED1F0" stroke="#8A8A8A" stroke-width="3"/>
<ellipse cx="583" cy="1062" rx="8.5" ry="17" fill="#231F20" stroke="#000" stroke-width="1"/>
<path d="M718 1016 Q704 1008 690 1002" fill="none" stroke="#8A8A8A" stroke-width="8" stroke-linecap="round"/>
<path d="M718 1016 Q704 1008 690 1002" fill="none" stroke="#8ED1F0" stroke-width="3.5" stroke-linecap="round"/>
<path d="M718 1016 Q733 1008 748 1000" fill="none" stroke="#8A8A8A" stroke-width="8" stroke-linecap="round"/>
<path d="M718 1016 Q733 1008 748 1000" fill="none" stroke="#8ED1F0" stroke-width="3.5" stroke-linecap="round"/>
<path d="M714 1012 C714 1030 696 1059.4 700 1077 C702 1099.4 712 1107.4 712 1116 L724 1116 C724 1107.4 734 1099.4 736 1077 C740 1059.4 722 1030 722 1012 Z" fill="#8ED1F0" stroke="#8A8A8A" stroke-width="3"/>
<ellipse cx="718" cy="1077" rx="8.5" ry="17" fill="#231F20" stroke="#000" stroke-width="1"/>
<path d="M526 1015 C525 1065 516 1085 525 1118 C540 1085 531 1065 530 1015 Z" fill="#E24545" stroke="#58595B" stroke-width="3"/>
<ellipse cx="528" cy="1090" rx="6.5" ry="10" fill="#231F20"/>
<path d="M656 1012 C655 1067 646 1087 655 1118 C670 1087 661 1067 660 1012 Z" fill="#E24545" stroke="#58595B" stroke-width="3"/>
<ellipse cx="658" cy="1092" rx="6.5" ry="10" fill="#231F20"/>
<path d="M680 1010 C679 1061 670 1081 679 1118 C694 1081 685 1061 684 1010 Z" fill="#E24545" stroke="#58595B" stroke-width="3"/>
<ellipse cx="682" cy="1086" rx="6.5" ry="10" fill="#231F20"/>
<path d="M530 1040 C520 1080 530 1110 545 1130" fill="none" stroke="#555" stroke-width="3.2" stroke-dasharray="2.6 2.6" stroke-linecap="butt"/>
<line x1="396" y1="458" x2="453.2" y2="458" stroke="#231F20" stroke-width="3"/>
<path d="M470 458 Q458 460.4 446 471.5 L450.8 458 L446 444.5 Q458 455.6 470 458 Z" fill="#231F20"/>
<line x1="347" y1="500" x2="452.2" y2="500" stroke="#231F20" stroke-width="3"/>
<path d="M469 500 Q457 502.4 445 513.5 L449.8 500 L445 486.5 Q457 497.6 469 500 Z" fill="#231F20"/>
<line x1="378" y1="594" x2="459.2" y2="594" stroke="#231F20" stroke-width="3"/>
<path d="M476 594 Q464 596.4 452 607.5 L456.8 594 L452 580.5 Q464 591.6 476 594 Z" fill="#231F20"/>
<line x1="391" y1="643" x2="492.2" y2="643" stroke="#231F20" stroke-width="3"/>
<path d="M509 643 Q497 645.4 485 656.5 L489.8 643 L485 629.5 Q497 640.6 509 643 Z" fill="#231F20"/>
<line x1="425.6" y1="761.7" x2="468.2" y2="761.7" stroke="#231F20" stroke-width="3"/>
<path d="M485 761.7 Q473 764.1 461 775.2 L465.8 761.7 L461 748.2 Q473 759.3 485 761.7 Z" fill="#231F20"/>
<line x1="363" y1="824" x2="526.2" y2="824" stroke="#231F20" stroke-width="3"/>
<path d="M543 824 Q531 826.4 519 837.5 L523.8 824 L519 810.5 Q531 821.6 543 824 Z" fill="#231F20"/>
<line x1="451" y1="917.6" x2="497.9" y2="931.3" stroke="#231F20" stroke-width="3"/>
<path d="M514 936 Q501.8 935 487.2 942.2 L495.6 930.6 L494.7 916.3 Q503.2 930.3 514 936 Z" fill="#231F20"/>
<line x1="451" y1="917.6" x2="647.3" y2="941" stroke="#231F20" stroke-width="3"/>
<path d="M664 943 Q651.8 944 638.6 953.6 L644.9 940.7 L641.8 926.8 Q652.4 939.2 664 943 Z" fill="#231F20"/>
<line x1="459.5" y1="1087" x2="507.9" y2="1101.3" stroke="#231F20" stroke-width="3"/>
<path d="M524 1106 Q511.8 1104.9 497.2 1112.2 L505.6 1100.6 L504.8 1086.3 Q513.2 1100.3 524 1106 Z" fill="#231F20"/>
<line x1="459.5" y1="1087" x2="559.2" y2="1087" stroke="#231F20" stroke-width="3"/>
<path d="M576 1087 Q564 1089.4 552 1100.5 L556.8 1087 L552 1073.5 Q564 1084.6 576 1087 Z" fill="#231F20"/>
<line x1="665.7" y1="500" x2="665.7" y2="734.5" stroke="#231F20" stroke-width="2.8"/>
<line x1="715.4" y1="723" x2="715.4" y2="957" stroke="#231F20" stroke-width="2.8"/>
<text transform="translate(695.8,617) rotate(-90)" font-size="37" text-anchor="middle" fill="#FF0000" textLength="93" lengthAdjust="spacingAndGlyphs">a-wave</text>
<text transform="translate(745.3,841.5) rotate(-90)" font-size="35" text-anchor="middle" fill="#FF0000" textLength="94" lengthAdjust="spacingAndGlyphs">b-wave</text>
<line x1="779.6" y1="530" x2="779.6" y2="1162.5" stroke="#231F20" stroke-width="3"/>
<path d="M779.6 512.3 Q782.3 525.8 794.6 539.3 L779.6 533.9 L764.6 539.3 Q776.9 525.8 779.6 512.3 Z" fill="#231F20"/>
<text transform="translate(808.5,842.7) rotate(-90)" font-size="29" text-anchor="middle">direction of light</text>
<text x="917" y="52" font-size="66" font-weight="bold">c</text>
<text x="1096.5" y="33" font-size="44.3">Scotopic: a-wave</text>
<text x="1569.5" y="36" font-size="44.3">Scotopic: b-wave</text>
<text transform="translate(960,279.5) rotate(-90)" font-size="44" text-anchor="middle">1 mth</text>
<text transform="translate(1008.5,281.5) rotate(-90)" font-size="37" text-anchor="middle">Amplitude (<tspan font-family="Liberation Serif">μ</tspan><tspan font-weight="bold">V</tspan>)</text>
<text transform="translate(960,717) rotate(-90)" font-size="44" text-anchor="middle">3 mth</text>
<text transform="translate(1008.5,720) rotate(-90)" font-size="37" text-anchor="middle">Amplitude (<tspan font-family="Liberation Serif">μ</tspan><tspan font-weight="bold">V</tspan>)</text>
<text transform="translate(960,1169) rotate(-90)" font-size="44" text-anchor="middle">6 mth</text>
<text transform="translate(1008.5,1169) rotate(-90)" font-size="37" text-anchor="middle">Amplitude (<tspan font-family="Liberation Serif">μ</tspan><tspan font-weight="bold">V</tspan>)</text>
<text transform="translate(960,1612) rotate(-90)" font-size="44" text-anchor="middle">9 mth</text>
<text transform="translate(1008.5,1612) rotate(-90)" font-size="37" text-anchor="middle">Amplitude (<tspan font-family="Liberation Serif">μ</tspan><tspan font-weight="bold">V</tspan>)</text>
<line x1="1086.6" y1="102.7" x2="1086.6" y2="455.4" stroke="#000" stroke-width="2.2"/>
<line x1="1082.1" y1="454.4" x2="1086.6" y2="454.4" stroke="#000" stroke-width="1.8"/>
<text x="1077.6" y="467.4" font-size="30" text-anchor="end">0</text>
<line x1="1082.1" y1="366.7" x2="1086.6" y2="366.7" stroke="#000" stroke-width="1.8"/>
<text x="1077.6" y="379.7" font-size="30" text-anchor="end">100</text>
<line x1="1082.1" y1="279" x2="1086.6" y2="279" stroke="#000" stroke-width="1.8"/>
<text x="1077.6" y="292" font-size="30" text-anchor="end">200</text>
<line x1="1082.1" y1="191.4" x2="1086.6" y2="191.4" stroke="#000" stroke-width="1.8"/>
<text x="1077.6" y="204.4" font-size="30" text-anchor="end">300</text>
<line x1="1082.1" y1="103.7" x2="1086.6" y2="103.7" stroke="#000" stroke-width="1.8"/>
<text x="1077.6" y="119.7" font-size="30" text-anchor="end">400</text>
<line x1="1085.6" y1="454.4" x2="1437.6" y2="454.4" stroke="#000" stroke-width="2.2"/>
<line x1="1086.6" y1="454.4" x2="1086.6" y2="459.9" stroke="#000" stroke-width="2"/>
<line x1="1112.9" y1="454.4" x2="1112.9" y2="457.6" stroke="#000" stroke-width="1.5"/>
<line x1="1128.3" y1="454.4" x2="1128.3" y2="457.6" stroke="#000" stroke-width="1.5"/>
<line x1="1139.3" y1="454.4" x2="1139.3" y2="457.6" stroke="#000" stroke-width="1.5"/>
<line x1="1147.8" y1="454.4" x2="1147.8" y2="457.6" stroke="#000" stroke-width="1.5"/>
<line x1="1154.7" y1="454.4" x2="1154.7" y2="457.6" stroke="#000" stroke-width="1.5"/>
<line x1="1160.5" y1="454.4" x2="1160.5" y2="457.6" stroke="#000" stroke-width="1.5"/>
<line x1="1165.6" y1="454.4" x2="1165.6" y2="457.6" stroke="#000" stroke-width="1.5"/>
<line x1="1170.1" y1="454.4" x2="1170.1" y2="457.6" stroke="#000" stroke-width="1.5"/>
<line x1="1174.1" y1="454.4" x2="1174.1" y2="459.9" stroke="#000" stroke-width="2"/>
<line x1="1200.4" y1="454.4" x2="1200.4" y2="457.6" stroke="#000" stroke-width="1.5"/>
<line x1="1215.8" y1="454.4" x2="1215.8" y2="457.6" stroke="#000" stroke-width="1.5"/>
<line x1="1226.8" y1="454.4" x2="1226.8" y2="457.6" stroke="#000" stroke-width="1.5"/>
<line x1="1235.3" y1="454.4" x2="1235.3" y2="457.6" stroke="#000" stroke-width="1.5"/>
<line x1="1242.2" y1="454.4" x2="1242.2" y2="457.6" stroke="#000" stroke-width="1.5"/>
<line x1="1248" y1="454.4" x2="1248" y2="457.6" stroke="#000" stroke-width="1.5"/>
<line x1="1253.1" y1="454.4" x2="1253.1" y2="457.6" stroke="#000" stroke-width="1.5"/>
<line x1="1257.6" y1="454.4" x2="1257.6" y2="457.6" stroke="#000" stroke-width="1.5"/>
<line x1="1261.6" y1="454.4" x2="1261.6" y2="459.9" stroke="#000" stroke-width="2"/>
<line x1="1287.9" y1="454.4" x2="1287.9" y2="457.6" stroke="#000" stroke-width="1.5"/>
<line x1="1303.3" y1="454.4" x2="1303.3" y2="457.6" stroke="#000" stroke-width="1.5"/>
<line x1="1314.3" y1="454.4" x2="1314.3" y2="457.6" stroke="#000" stroke-width="1.5"/>
<line x1="1322.8" y1="454.4" x2="1322.8" y2="457.6" stroke="#000" stroke-width="1.5"/>
<line x1="1329.7" y1="454.4" x2="1329.7" y2="457.6" stroke="#000" stroke-width="1.5"/>
<line x1="1335.5" y1="454.4" x2="1335.5" y2="457.6" stroke="#000" stroke-width="1.5"/>
<line x1="1340.6" y1="454.4" x2="1340.6" y2="457.6" stroke="#000" stroke-width="1.5"/>
<line x1="1345.1" y1="454.4" x2="1345.1" y2="457.6" stroke="#000" stroke-width="1.5"/>
<line x1="1349.1" y1="454.4" x2="1349.1" y2="459.9" stroke="#000" stroke-width="2"/>
<line x1="1375.4" y1="454.4" x2="1375.4" y2="457.6" stroke="#000" stroke-width="1.5"/>
<line x1="1390.8" y1="454.4" x2="1390.8" y2="457.6" stroke="#000" stroke-width="1.5"/>
<line x1="1401.8" y1="454.4" x2="1401.8" y2="457.6" stroke="#000" stroke-width="1.5"/>
<line x1="1410.3" y1="454.4" x2="1410.3" y2="457.6" stroke="#000" stroke-width="1.5"/>
<line x1="1417.2" y1="454.4" x2="1417.2" y2="457.6" stroke="#000" stroke-width="1.5"/>
<line x1="1423" y1="454.4" x2="1423" y2="457.6" stroke="#000" stroke-width="1.5"/>
<line x1="1428.1" y1="454.4" x2="1428.1" y2="457.6" stroke="#000" stroke-width="1.5"/>
<line x1="1432.6" y1="454.4" x2="1432.6" y2="457.6" stroke="#000" stroke-width="1.5"/>
<line x1="1436.6" y1="454.4" x2="1436.6" y2="459.9" stroke="#000" stroke-width="2"/>
<line x1="1558" y1="102.7" x2="1558" y2="455" stroke="#000" stroke-width="2.2"/>
<line x1="1553.5" y1="454" x2="1558" y2="454" stroke="#000" stroke-width="1.8"/>
<text x="1549" y="467" font-size="30" text-anchor="end">0</text>
<line x1="1553.5" y1="337.2" x2="1558" y2="337.2" stroke="#000" stroke-width="1.8"/>
<text x="1549" y="350.2" font-size="30" text-anchor="end">250</text>
<line x1="1553.5" y1="220.5" x2="1558" y2="220.5" stroke="#000" stroke-width="1.8"/>
<text x="1549" y="233.5" font-size="30" text-anchor="end">500</text>
<line x1="1553.5" y1="103.7" x2="1558" y2="103.7" stroke="#000" stroke-width="1.8"/>
<text x="1549" y="119.7" font-size="30" text-anchor="end">750</text>
<line x1="1557" y1="454" x2="1909" y2="454" stroke="#000" stroke-width="2.2"/>
<line x1="1558" y1="454" x2="1558" y2="459.5" stroke="#000" stroke-width="2"/>
<line x1="1584.3" y1="454" x2="1584.3" y2="457.2" stroke="#000" stroke-width="1.5"/>
<line x1="1599.7" y1="454" x2="1599.7" y2="457.2" stroke="#000" stroke-width="1.5"/>
<line x1="1610.7" y1="454" x2="1610.7" y2="457.2" stroke="#000" stroke-width="1.5"/>
<line x1="1619.2" y1="454" x2="1619.2" y2="457.2" stroke="#000" stroke-width="1.5"/>
<line x1="1626.1" y1="454" x2="1626.1" y2="457.2" stroke="#000" stroke-width="1.5"/>
<line x1="1631.9" y1="454" x2="1631.9" y2="457.2" stroke="#000" stroke-width="1.5"/>
<line x1="1637" y1="454" x2="1637" y2="457.2" stroke="#000" stroke-width="1.5"/>
<line x1="1641.5" y1="454" x2="1641.5" y2="457.2" stroke="#000" stroke-width="1.5"/>
<line x1="1645.5" y1="454" x2="1645.5" y2="459.5" stroke="#000" stroke-width="2"/>
<line x1="1671.8" y1="454" x2="1671.8" y2="457.2" stroke="#000" stroke-width="1.5"/>
<line x1="1687.2" y1="454" x2="1687.2" y2="457.2" stroke="#000" stroke-width="1.5"/>
<line x1="1698.2" y1="454" x2="1698.2" y2="457.2" stroke="#000" stroke-width="1.5"/>
<line x1="1706.7" y1="454" x2="1706.7" y2="457.2" stroke="#000" stroke-width="1.5"/>
<line x1="1713.6" y1="454" x2="1713.6" y2="457.2" stroke="#000" stroke-width="1.5"/>
<line x1="1719.4" y1="454" x2="1719.4" y2="457.2" stroke="#000" stroke-width="1.5"/>
<line x1="1724.5" y1="454" x2="1724.5" y2="457.2" stroke="#000" stroke-width="1.5"/>
<line x1="1729" y1="454" x2="1729" y2="457.2" stroke="#000" stroke-width="1.5"/>
<line x1="1733" y1="454" x2="1733" y2="459.5" stroke="#000" stroke-width="2"/>
<line x1="1759.3" y1="454" x2="1759.3" y2="457.2" stroke="#000" stroke-width="1.5"/>
<line x1="1774.7" y1="454" x2="1774.7" y2="457.2" stroke="#000" stroke-width="1.5"/>
<line x1="1785.7" y1="454" x2="1785.7" y2="457.2" stroke="#000" stroke-width="1.5"/>
<line x1="1794.2" y1="454" x2="1794.2" y2="457.2" stroke="#000" stroke-width="1.5"/>
<line x1="1801.1" y1="454" x2="1801.1" y2="457.2" stroke="#000" stroke-width="1.5"/>
<line x1="1806.9" y1="454" x2="1806.9" y2="457.2" stroke="#000" stroke-width="1.5"/>
<line x1="1812" y1="454" x2="1812" y2="457.2" stroke="#000" stroke-width="1.5"/>
<line x1="1816.5" y1="454" x2="1816.5" y2="457.2" stroke="#000" stroke-width="1.5"/>
<line x1="1820.5" y1="454" x2="1820.5" y2="459.5" stroke="#000" stroke-width="2"/>
<line x1="1846.8" y1="454" x2="1846.8" y2="457.2" stroke="#000" stroke-width="1.5"/>
<line x1="1862.2" y1="454" x2="1862.2" y2="457.2" stroke="#000" stroke-width="1.5"/>
<line x1="1873.2" y1="454" x2="1873.2" y2="457.2" stroke="#000" stroke-width="1.5"/>
<line x1="1881.7" y1="454" x2="1881.7" y2="457.2" stroke="#000" stroke-width="1.5"/>
<line x1="1888.6" y1="454" x2="1888.6" y2="457.2" stroke="#000" stroke-width="1.5"/>
<line x1="1894.4" y1="454" x2="1894.4" y2="457.2" stroke="#000" stroke-width="1.5"/>
<line x1="1899.5" y1="454" x2="1899.5" y2="457.2" stroke="#000" stroke-width="1.5"/>
<line x1="1904" y1="454" x2="1904" y2="457.2" stroke="#000" stroke-width="1.5"/>
<line x1="1908" y1="454" x2="1908" y2="459.5" stroke="#000" stroke-width="2"/>
<circle cx="1106" cy="100.6" r="11" fill="#000"/>
<text x="1128" y="111" font-size="33"><tspan font-style="italic">Cib2</tspan><tspan font-size="21" dy="-10" font-style="italic">WT/WT</tspan><tspan dy="10"> = 6</tspan></text>
<rect x="1096.6" y="133" width="20" height="21" fill="#0000FF"/>
<text x="1128" y="152.5" font-size="33" fill="#0000FF"><tspan font-style="italic">Cib2</tspan><tspan font-size="21" dy="-10" font-style="italic">KO/+</tspan><tspan dy="10"> = 5</tspan></text>
<polygon points="1096.6,190 1116.7,190 1106.6,173" fill="#FF0000"/>
<text x="1128" y="193" font-size="33" fill="#FF0000"><tspan font-style="italic">Cib2</tspan><tspan font-size="21" dy="-10" font-style="italic">KO/KO</tspan><tspan dy="10"> = 4</tspan></text>
<line x1="1209.1" y1="382" x2="1209.1" y2="404" stroke="#FF0000" stroke-width="2.2"/>
<line x1="1201.6" y1="382" x2="1216.6" y2="382" stroke="#FF0000" stroke-width="2.2"/>
<line x1="1201.6" y1="404" x2="1216.6" y2="404" stroke="#FF0000" stroke-width="2.2"/>
<line x1="1261.6" y1="308" x2="1261.6" y2="366" stroke="#FF0000" stroke-width="2.2"/>
<line x1="1254.1" y1="308" x2="1269.1" y2="308" stroke="#FF0000" stroke-width="2.2"/>
<line x1="1254.1" y1="366" x2="1269.1" y2="366" stroke="#FF0000" stroke-width="2.2"/>
<line x1="1296.6" y1="262" x2="1296.6" y2="308" stroke="#FF0000" stroke-width="2.2"/>
<line x1="1289.1" y1="262" x2="1304.1" y2="262" stroke="#FF0000" stroke-width="2.2"/>
<line x1="1289.1" y1="308" x2="1304.1" y2="308" stroke="#FF0000" stroke-width="2.2"/>
<line x1="1331.6" y1="209" x2="1331.6" y2="289" stroke="#FF0000" stroke-width="2.2"/>
<line x1="1324.1" y1="209" x2="1339.1" y2="209" stroke="#FF0000" stroke-width="2.2"/>
<line x1="1324.1" y1="289" x2="1339.1" y2="289" stroke="#FF0000" stroke-width="2.2"/>
<line x1="1366.6" y1="227" x2="1366.6" y2="297" stroke="#FF0000" stroke-width="2.2"/>
<line x1="1359.1" y1="227" x2="1374.1" y2="227" stroke="#FF0000" stroke-width="2.2"/>
<line x1="1359.1" y1="297" x2="1374.1" y2="297" stroke="#FF0000" stroke-width="2.2"/>
<line x1="1392.8" y1="211" x2="1392.8" y2="267" stroke="#FF0000" stroke-width="2.2"/>
<line x1="1385.3" y1="211" x2="1400.3" y2="211" stroke="#FF0000" stroke-width="2.2"/>
<line x1="1385.3" y1="267" x2="1400.3" y2="267" stroke="#FF0000" stroke-width="2.2"/>
<polygon points="1130.8,457.5 1147.8,457.5 1139.3,443" fill="#FF0000"/>
<polygon points="1165.6,436.5 1182.6,436.5 1174.1,422" fill="#FF0000"/>
<polygon points="1200.6,399.5 1217.6,399.5 1209.1,385" fill="#FF0000"/>
<polygon points="1253.1,343.5 1270.1,343.5 1261.6,329" fill="#FF0000"/>
<polygon points="1288.1,291.5 1305.1,291.5 1296.6,277" fill="#FF0000"/>
<polygon points="1323.1,255.5 1340.1,255.5 1331.6,241" fill="#FF0000"/>
<polygon points="1358.1,268.5 1375.1,268.5 1366.6,254" fill="#FF0000"/>
<polygon points="1384.3,245.5 1401.3,245.5 1392.8,231" fill="#FF0000"/>
<line x1="1209.1" y1="395.4" x2="1209.1" y2="407.4" stroke="#0000FF" stroke-width="2.2"/>
<line x1="1201.6" y1="395.4" x2="1216.6" y2="395.4" stroke="#0000FF" stroke-width="2.2"/>
<line x1="1201.6" y1="407.4" x2="1216.6" y2="407.4" stroke="#0000FF" stroke-width="2.2"/>
<line x1="1261.6" y1="349.9" x2="1261.6" y2="385.1" stroke="#0000FF" stroke-width="2.2"/>
<line x1="1254.1" y1="349.9" x2="1269.1" y2="349.9" stroke="#0000FF" stroke-width="2.2"/>
<line x1="1254.1" y1="385.1" x2="1269.1" y2="385.1" stroke="#0000FF" stroke-width="2.2"/>
<line x1="1296.6" y1="255.8" x2="1296.6" y2="323.8" stroke="#0000FF" stroke-width="2.2"/>
<line x1="1289.1" y1="255.8" x2="1304.1" y2="255.8" stroke="#0000FF" stroke-width="2.2"/>
<line x1="1289.1" y1="323.8" x2="1304.1" y2="323.8" stroke="#0000FF" stroke-width="2.2"/>
<line x1="1331.6" y1="255.4" x2="1331.6" y2="307.4" stroke="#0000FF" stroke-width="2.2"/>
<line x1="1324.1" y1="255.4" x2="1339.1" y2="255.4" stroke="#0000FF" stroke-width="2.2"/>
<line x1="1324.1" y1="307.4" x2="1339.1" y2="307.4" stroke="#0000FF" stroke-width="2.2"/>
<line x1="1366.6" y1="211" x2="1366.6" y2="273" stroke="#0000FF" stroke-width="2.2"/>
<line x1="1359.1" y1="211" x2="1374.1" y2="211" stroke="#0000FF" stroke-width="2.2"/>
<line x1="1359.1" y1="273" x2="1374.1" y2="273" stroke="#0000FF" stroke-width="2.2"/>
<line x1="1392.8" y1="193.5" x2="1392.8" y2="260.5" stroke="#0000FF" stroke-width="2.2"/>
<line x1="1385.3" y1="193.5" x2="1400.3" y2="193.5" stroke="#0000FF" stroke-width="2.2"/>
<line x1="1385.3" y1="260.5" x2="1400.3" y2="260.5" stroke="#0000FF" stroke-width="2.2"/>
<rect x="1131.3" y="419" width="16" height="16" fill="#0000FF"/>
<rect x="1166.1" y="405" width="16" height="16" fill="#0000FF"/>
<rect x="1201.1" y="393.4" width="16" height="16" fill="#0000FF"/>
<rect x="1253.6" y="359.5" width="16" height="16" fill="#0000FF"/>
<rect x="1288.6" y="281.8" width="16" height="16" fill="#0000FF"/>
<rect x="1323.6" y="273.4" width="16" height="16" fill="#0000FF"/>
<rect x="1358.6" y="234" width="16" height="16" fill="#0000FF"/>
<rect x="1384.8" y="219" width="16" height="16" fill="#0000FF"/>
<line x1="1209.1" y1="368.2" x2="1209.1" y2="413.2" stroke="#000" stroke-width="2.2"/>
<line x1="1201.6" y1="368.2" x2="1216.6" y2="368.2" stroke="#000" stroke-width="2.2"/>
<line x1="1201.6" y1="413.2" x2="1216.6" y2="413.2" stroke="#000" stroke-width="2.2"/>
<line x1="1261.6" y1="323.4" x2="1261.6" y2="363.4" stroke="#000" stroke-width="2.2"/>
<line x1="1254.1" y1="323.4" x2="1269.1" y2="323.4" stroke="#000" stroke-width="2.2"/>
<line x1="1254.1" y1="363.4" x2="1269.1" y2="363.4" stroke="#000" stroke-width="2.2"/>
<line x1="1296.6" y1="275.3" x2="1296.6" y2="313.3" stroke="#000" stroke-width="2.2"/>
<line x1="1289.1" y1="275.3" x2="1304.1" y2="275.3" stroke="#000" stroke-width="2.2"/>
<line x1="1289.1" y1="313.3" x2="1304.1" y2="313.3" stroke="#000" stroke-width="2.2"/>
<line x1="1331.6" y1="212.5" x2="1331.6" y2="256.5" stroke="#000" stroke-width="2.2"/>
<line x1="1324.1" y1="212.5" x2="1339.1" y2="212.5" stroke="#000" stroke-width="2.2"/>
<line x1="1324.1" y1="256.5" x2="1339.1" y2="256.5" stroke="#000" stroke-width="2.2"/>
<line x1="1366.6" y1="188.5" x2="1366.6" y2="222.5" stroke="#000" stroke-width="2.2"/>
<line x1="1359.1" y1="188.5" x2="1374.1" y2="188.5" stroke="#000" stroke-width="2.2"/>
<line x1="1359.1" y1="222.5" x2="1374.1" y2="222.5" stroke="#000" stroke-width="2.2"/>
<line x1="1392.8" y1="175.5" x2="1392.8" y2="203.5" stroke="#000" stroke-width="2.2"/>
<line x1="1385.3" y1="175.5" x2="1400.3" y2="175.5" stroke="#000" stroke-width="2.2"/>
<line x1="1385.3" y1="203.5" x2="1400.3" y2="203.5" stroke="#000" stroke-width="2.2"/>
<circle cx="1139.3" cy="441.6" r="8.2" fill="#000"/>
<circle cx="1174.1" cy="426" r="8.2" fill="#000"/>
<circle cx="1209.1" cy="390.7" r="8.2" fill="#000"/>
<circle cx="1261.6" cy="343.4" r="8.2" fill="#000"/>
<circle cx="1296.6" cy="294.3" r="8.2" fill="#000"/>
<circle cx="1331.6" cy="234.5" r="8.2" fill="#000"/>
<circle cx="1366.6" cy="205.5" r="8.2" fill="#000"/>
<circle cx="1392.8" cy="189.5" r="8.2" fill="#000"/>
<line x1="1610.7" y1="366.5" x2="1610.7" y2="375.5" stroke="#FF0000" stroke-width="2.2"/>
<line x1="1603.2" y1="366.5" x2="1618.2" y2="366.5" stroke="#FF0000" stroke-width="2.2"/>
<line x1="1603.2" y1="375.5" x2="1618.2" y2="375.5" stroke="#FF0000" stroke-width="2.2"/>
<line x1="1645.5" y1="338" x2="1645.5" y2="366" stroke="#FF0000" stroke-width="2.2"/>
<line x1="1638" y1="338" x2="1653" y2="338" stroke="#FF0000" stroke-width="2.2"/>
<line x1="1638" y1="366" x2="1653" y2="366" stroke="#FF0000" stroke-width="2.2"/>
<line x1="1680.5" y1="307.4" x2="1680.5" y2="335.4" stroke="#FF0000" stroke-width="2.2"/>
<line x1="1673" y1="307.4" x2="1688" y2="307.4" stroke="#FF0000" stroke-width="2.2"/>
<line x1="1673" y1="335.4" x2="1688" y2="335.4" stroke="#FF0000" stroke-width="2.2"/>
<line x1="1733" y1="293.6" x2="1733" y2="313.6" stroke="#FF0000" stroke-width="2.2"/>
<line x1="1725.5" y1="293.6" x2="1740.5" y2="293.6" stroke="#FF0000" stroke-width="2.2"/>
<line x1="1725.5" y1="313.6" x2="1740.5" y2="313.6" stroke="#FF0000" stroke-width="2.2"/>
<line x1="1768" y1="243" x2="1768" y2="317" stroke="#FF0000" stroke-width="2.2"/>
<line x1="1760.5" y1="243" x2="1775.5" y2="243" stroke="#FF0000" stroke-width="2.2"/>
<line x1="1760.5" y1="317" x2="1775.5" y2="317" stroke="#FF0000" stroke-width="2.2"/>
<line x1="1803" y1="245.8" x2="1803" y2="307.8" stroke="#FF0000" stroke-width="2.2"/>
<line x1="1795.5" y1="245.8" x2="1810.5" y2="245.8" stroke="#FF0000" stroke-width="2.2"/>
<line x1="1795.5" y1="307.8" x2="1810.5" y2="307.8" stroke="#FF0000" stroke-width="2.2"/>
<line x1="1838" y1="224" x2="1838" y2="290" stroke="#FF0000" stroke-width="2.2"/>
<line x1="1830.5" y1="224" x2="1845.5" y2="224" stroke="#FF0000" stroke-width="2.2"/>
<line x1="1830.5" y1="290" x2="1845.5" y2="290" stroke="#FF0000" stroke-width="2.2"/>
<line x1="1864.2" y1="220.4" x2="1864.2" y2="272.4" stroke="#FF0000" stroke-width="2.2"/>
<line x1="1856.8" y1="220.4" x2="1871.8" y2="220.4" stroke="#FF0000" stroke-width="2.2"/>
<line x1="1856.8" y1="272.4" x2="1871.8" y2="272.4" stroke="#FF0000" stroke-width="2.2"/>
<polygon points="1602.2,377.5 1619.2,377.5 1610.7,363" fill="#FF0000"/>
<polygon points="1637,358.5 1654,358.5 1645.5,344" fill="#FF0000"/>
<polygon points="1672,327.9 1689,327.9 1680.5,313.4" fill="#FF0000"/>
<polygon points="1724.5,310.1 1741.5,310.1 1733,295.6" fill="#FF0000"/>
<polygon points="1759.5,286.5 1776.5,286.5 1768,272" fill="#FF0000"/>
<polygon points="1794.5,283.3 1811.5,283.3 1803,268.8" fill="#FF0000"/>
<polygon points="1829.5,263.5 1846.5,263.5 1838,249" fill="#FF0000"/>
<polygon points="1855.8,252.9 1872.8,252.9 1864.2,238.4" fill="#FF0000"/>
<line x1="1610.7" y1="369.7" x2="1610.7" y2="401.7" stroke="#0000FF" stroke-width="2.2"/>
<line x1="1603.2" y1="369.7" x2="1618.2" y2="369.7" stroke="#0000FF" stroke-width="2.2"/>
<line x1="1603.2" y1="401.7" x2="1618.2" y2="401.7" stroke="#0000FF" stroke-width="2.2"/>
<line x1="1645.5" y1="352" x2="1645.5" y2="380" stroke="#0000FF" stroke-width="2.2"/>
<line x1="1638" y1="352" x2="1653" y2="352" stroke="#0000FF" stroke-width="2.2"/>
<line x1="1638" y1="380" x2="1653" y2="380" stroke="#0000FF" stroke-width="2.2"/>
<line x1="1680.5" y1="315" x2="1680.5" y2="351" stroke="#0000FF" stroke-width="2.2"/>
<line x1="1673" y1="315" x2="1688" y2="315" stroke="#0000FF" stroke-width="2.2"/>
<line x1="1673" y1="351" x2="1688" y2="351" stroke="#0000FF" stroke-width="2.2"/>
<line x1="1733" y1="295" x2="1733" y2="333" stroke="#0000FF" stroke-width="2.2"/>
<line x1="1725.5" y1="295" x2="1740.5" y2="295" stroke="#0000FF" stroke-width="2.2"/>
<line x1="1725.5" y1="333" x2="1740.5" y2="333" stroke="#0000FF" stroke-width="2.2"/>
<line x1="1768" y1="251.1" x2="1768" y2="306.1" stroke="#0000FF" stroke-width="2.2"/>
<line x1="1760.5" y1="251.1" x2="1775.5" y2="251.1" stroke="#0000FF" stroke-width="2.2"/>
<line x1="1760.5" y1="306.1" x2="1775.5" y2="306.1" stroke="#0000FF" stroke-width="2.2"/>
<line x1="1803" y1="216.8" x2="1803" y2="277.8" stroke="#0000FF" stroke-width="2.2"/>
<line x1="1795.5" y1="216.8" x2="1810.5" y2="216.8" stroke="#0000FF" stroke-width="2.2"/>
<line x1="1795.5" y1="277.8" x2="1810.5" y2="277.8" stroke="#0000FF" stroke-width="2.2"/>
<line x1="1838" y1="207.5" x2="1838" y2="267.5" stroke="#0000FF" stroke-width="2.2"/>
<line x1="1830.5" y1="207.5" x2="1845.5" y2="207.5" stroke="#0000FF" stroke-width="2.2"/>
<line x1="1830.5" y1="267.5" x2="1845.5" y2="267.5" stroke="#0000FF" stroke-width="2.2"/>
<line x1="1864.2" y1="183.2" x2="1864.2" y2="253.2" stroke="#0000FF" stroke-width="2.2"/>
<line x1="1856.8" y1="183.2" x2="1871.8" y2="183.2" stroke="#0000FF" stroke-width="2.2"/>
<line x1="1856.8" y1="253.2" x2="1871.8" y2="253.2" stroke="#0000FF" stroke-width="2.2"/>
<rect x="1602.7" y="377.7" width="16" height="16" fill="#0000FF"/>
<rect x="1637.5" y="358" width="16" height="16" fill="#0000FF"/>
<rect x="1672.5" y="325" width="16" height="16" fill="#0000FF"/>
<rect x="1725" y="306" width="16" height="16" fill="#0000FF"/>
<rect x="1760" y="270.6" width="16" height="16" fill="#0000FF"/>
<rect x="1795" y="239.3" width="16" height="16" fill="#0000FF"/>
<rect x="1830" y="229.5" width="16" height="16" fill="#0000FF"/>
<rect x="1856.2" y="210.2" width="16" height="16" fill="#0000FF"/>
<line x1="1610.7" y1="364.3" x2="1610.7" y2="384.9" stroke="#000" stroke-width="2.2"/>
<line x1="1603.2" y1="364.3" x2="1618.2" y2="364.3" stroke="#000" stroke-width="2.2"/>
<line x1="1603.2" y1="384.9" x2="1618.2" y2="384.9" stroke="#000" stroke-width="2.2"/>
<line x1="1645.5" y1="339" x2="1645.5" y2="369" stroke="#000" stroke-width="2.2"/>
<line x1="1638" y1="339" x2="1653" y2="339" stroke="#000" stroke-width="2.2"/>
<line x1="1638" y1="369" x2="1653" y2="369" stroke="#000" stroke-width="2.2"/>
<line x1="1680.5" y1="319.1" x2="1680.5" y2="341.7" stroke="#000" stroke-width="2.2"/>
<line x1="1673" y1="319.1" x2="1688" y2="319.1" stroke="#000" stroke-width="2.2"/>
<line x1="1673" y1="341.7" x2="1688" y2="341.7" stroke="#000" stroke-width="2.2"/>
<line x1="1733" y1="283.8" x2="1733" y2="307.2" stroke="#000" stroke-width="2.2"/>
<line x1="1725.5" y1="283.8" x2="1740.5" y2="283.8" stroke="#000" stroke-width="2.2"/>
<line x1="1725.5" y1="307.2" x2="1740.5" y2="307.2" stroke="#000" stroke-width="2.2"/>
<line x1="1768" y1="244.2" x2="1768" y2="271.2" stroke="#000" stroke-width="2.2"/>
<line x1="1760.5" y1="244.2" x2="1775.5" y2="244.2" stroke="#000" stroke-width="2.2"/>
<line x1="1760.5" y1="271.2" x2="1775.5" y2="271.2" stroke="#000" stroke-width="2.2"/>
<line x1="1803" y1="213.7" x2="1803" y2="239.1" stroke="#000" stroke-width="2.2"/>
<line x1="1795.5" y1="213.7" x2="1810.5" y2="213.7" stroke="#000" stroke-width="2.2"/>
<line x1="1795.5" y1="239.1" x2="1810.5" y2="239.1" stroke="#000" stroke-width="2.2"/>
<line x1="1838" y1="183" x2="1838" y2="225" stroke="#000" stroke-width="2.2"/>
<line x1="1830.5" y1="183" x2="1845.5" y2="183" stroke="#000" stroke-width="2.2"/>
<line x1="1830.5" y1="225" x2="1845.5" y2="225" stroke="#000" stroke-width="2.2"/>
<line x1="1864.2" y1="161.7" x2="1864.2" y2="193.7" stroke="#000" stroke-width="2.2"/>
<line x1="1856.8" y1="161.7" x2="1871.8" y2="161.7" stroke="#000" stroke-width="2.2"/>
<line x1="1856.8" y1="193.7" x2="1871.8" y2="193.7" stroke="#000" stroke-width="2.2"/>
<circle cx="1610.7" cy="374.6" r="8.2" fill="#000"/>
<circle cx="1645.5" cy="354" r="8.2" fill="#000"/>
<circle cx="1680.5" cy="330.4" r="8.2" fill="#000"/>
<circle cx="1733" cy="295.5" r="8.2" fill="#000"/>
<circle cx="1768" cy="257.7" r="8.2" fill="#000"/>
<circle cx="1803" cy="226.4" r="8.2" fill="#000"/>
<circle cx="1838" cy="204" r="8.2" fill="#000"/>
<circle cx="1864.2" cy="177.7" r="8.2" fill="#000"/>
<line x1="1088" y1="539.4" x2="1088" y2="893" stroke="#000" stroke-width="2.2"/>
<line x1="1083.5" y1="892" x2="1088" y2="892" stroke="#000" stroke-width="1.8"/>
<text x="1079" y="905" font-size="30" text-anchor="end">0</text>
<line x1="1083.5" y1="804.1" x2="1088" y2="804.1" stroke="#000" stroke-width="1.8"/>
<text x="1079" y="817.1" font-size="30" text-anchor="end">100</text>
<line x1="1083.5" y1="716.2" x2="1088" y2="716.2" stroke="#000" stroke-width="1.8"/>
<text x="1079" y="729.2" font-size="30" text-anchor="end">200</text>
<line x1="1083.5" y1="628.3" x2="1088" y2="628.3" stroke="#000" stroke-width="1.8"/>
<text x="1079" y="641.3" font-size="30" text-anchor="end">300</text>
<line x1="1083.5" y1="540.4" x2="1088" y2="540.4" stroke="#000" stroke-width="1.8"/>
<text x="1079" y="556.4" font-size="30" text-anchor="end">400</text>
<line x1="1087" y1="892" x2="1439" y2="892" stroke="#000" stroke-width="2.2"/>
<line x1="1088" y1="892" x2="1088" y2="897.5" stroke="#000" stroke-width="2"/>
<line x1="1114.3" y1="892" x2="1114.3" y2="895.2" stroke="#000" stroke-width="1.5"/>
<line x1="1129.7" y1="892" x2="1129.7" y2="895.2" stroke="#000" stroke-width="1.5"/>
<line x1="1140.7" y1="892" x2="1140.7" y2="895.2" stroke="#000" stroke-width="1.5"/>
<line x1="1149.2" y1="892" x2="1149.2" y2="895.2" stroke="#000" stroke-width="1.5"/>
<line x1="1156.1" y1="892" x2="1156.1" y2="895.2" stroke="#000" stroke-width="1.5"/>
<line x1="1161.9" y1="892" x2="1161.9" y2="895.2" stroke="#000" stroke-width="1.5"/>
<line x1="1167" y1="892" x2="1167" y2="895.2" stroke="#000" stroke-width="1.5"/>
<line x1="1171.5" y1="892" x2="1171.5" y2="895.2" stroke="#000" stroke-width="1.5"/>
<line x1="1175.5" y1="892" x2="1175.5" y2="897.5" stroke="#000" stroke-width="2"/>
<line x1="1201.8" y1="892" x2="1201.8" y2="895.2" stroke="#000" stroke-width="1.5"/>
<line x1="1217.2" y1="892" x2="1217.2" y2="895.2" stroke="#000" stroke-width="1.5"/>
<line x1="1228.2" y1="892" x2="1228.2" y2="895.2" stroke="#000" stroke-width="1.5"/>
<line x1="1236.7" y1="892" x2="1236.7" y2="895.2" stroke="#000" stroke-width="1.5"/>
<line x1="1243.6" y1="892" x2="1243.6" y2="895.2" stroke="#000" stroke-width="1.5"/>
<line x1="1249.4" y1="892" x2="1249.4" y2="895.2" stroke="#000" stroke-width="1.5"/>
<line x1="1254.5" y1="892" x2="1254.5" y2="895.2" stroke="#000" stroke-width="1.5"/>
<line x1="1259" y1="892" x2="1259" y2="895.2" stroke="#000" stroke-width="1.5"/>
<line x1="1263" y1="892" x2="1263" y2="897.5" stroke="#000" stroke-width="2"/>
<line x1="1289.3" y1="892" x2="1289.3" y2="895.2" stroke="#000" stroke-width="1.5"/>
<line x1="1304.7" y1="892" x2="1304.7" y2="895.2" stroke="#000" stroke-width="1.5"/>
<line x1="1315.7" y1="892" x2="1315.7" y2="895.2" stroke="#000" stroke-width="1.5"/>
<line x1="1324.2" y1="892" x2="1324.2" y2="895.2" stroke="#000" stroke-width="1.5"/>
<line x1="1331.1" y1="892" x2="1331.1" y2="895.2" stroke="#000" stroke-width="1.5"/>
<line x1="1336.9" y1="892" x2="1336.9" y2="895.2" stroke="#000" stroke-width="1.5"/>
<line x1="1342" y1="892" x2="1342" y2="895.2" stroke="#000" stroke-width="1.5"/>
<line x1="1346.5" y1="892" x2="1346.5" y2="895.2" stroke="#000" stroke-width="1.5"/>
<line x1="1350.5" y1="892" x2="1350.5" y2="897.5" stroke="#000" stroke-width="2"/>
<line x1="1376.8" y1="892" x2="1376.8" y2="895.2" stroke="#000" stroke-width="1.5"/>
<line x1="1392.2" y1="892" x2="1392.2" y2="895.2" stroke="#000" stroke-width="1.5"/>
<line x1="1403.2" y1="892" x2="1403.2" y2="895.2" stroke="#000" stroke-width="1.5"/>
<line x1="1411.7" y1="892" x2="1411.7" y2="895.2" stroke="#000" stroke-width="1.5"/>
<line x1="1418.6" y1="892" x2="1418.6" y2="895.2" stroke="#000" stroke-width="1.5"/>
<line x1="1424.4" y1="892" x2="1424.4" y2="895.2" stroke="#000" stroke-width="1.5"/>
<line x1="1429.5" y1="892" x2="1429.5" y2="895.2" stroke="#000" stroke-width="1.5"/>
<line x1="1434" y1="892" x2="1434" y2="895.2" stroke="#000" stroke-width="1.5"/>
<line x1="1438" y1="892" x2="1438" y2="897.5" stroke="#000" stroke-width="2"/>
<line x1="1560" y1="540" x2="1560" y2="892.4" stroke="#000" stroke-width="2.2"/>
<line x1="1555.5" y1="891.4" x2="1560" y2="891.4" stroke="#000" stroke-width="1.8"/>
<text x="1551" y="904.4" font-size="30" text-anchor="end">0</text>
<line x1="1555.5" y1="774.6" x2="1560" y2="774.6" stroke="#000" stroke-width="1.8"/>
<text x="1551" y="787.6" font-size="30" text-anchor="end">250</text>
<line x1="1555.5" y1="657.8" x2="1560" y2="657.8" stroke="#000" stroke-width="1.8"/>
<text x="1551" y="670.8" font-size="30" text-anchor="end">500</text>
<line x1="1555.5" y1="541" x2="1560" y2="541" stroke="#000" stroke-width="1.8"/>
<text x="1551" y="557" font-size="30" text-anchor="end">750</text>
<line x1="1559" y1="891.4" x2="1911" y2="891.4" stroke="#000" stroke-width="2.2"/>
<line x1="1560" y1="891.4" x2="1560" y2="896.9" stroke="#000" stroke-width="2"/>
<line x1="1586.3" y1="891.4" x2="1586.3" y2="894.6" stroke="#000" stroke-width="1.5"/>
<line x1="1601.7" y1="891.4" x2="1601.7" y2="894.6" stroke="#000" stroke-width="1.5"/>
<line x1="1612.7" y1="891.4" x2="1612.7" y2="894.6" stroke="#000" stroke-width="1.5"/>
<line x1="1621.2" y1="891.4" x2="1621.2" y2="894.6" stroke="#000" stroke-width="1.5"/>
<line x1="1628.1" y1="891.4" x2="1628.1" y2="894.6" stroke="#000" stroke-width="1.5"/>
<line x1="1633.9" y1="891.4" x2="1633.9" y2="894.6" stroke="#000" stroke-width="1.5"/>
<line x1="1639" y1="891.4" x2="1639" y2="894.6" stroke="#000" stroke-width="1.5"/>
<line x1="1643.5" y1="891.4" x2="1643.5" y2="894.6" stroke="#000" stroke-width="1.5"/>
<line x1="1647.5" y1="891.4" x2="1647.5" y2="896.9" stroke="#000" stroke-width="2"/>
<line x1="1673.8" y1="891.4" x2="1673.8" y2="894.6" stroke="#000" stroke-width="1.5"/>
<line x1="1689.2" y1="891.4" x2="1689.2" y2="894.6" stroke="#000" stroke-width="1.5"/>
<line x1="1700.2" y1="891.4" x2="1700.2" y2="894.6" stroke="#000" stroke-width="1.5"/>
<line x1="1708.7" y1="891.4" x2="1708.7" y2="894.6" stroke="#000" stroke-width="1.5"/>
<line x1="1715.6" y1="891.4" x2="1715.6" y2="894.6" stroke="#000" stroke-width="1.5"/>
<line x1="1721.4" y1="891.4" x2="1721.4" y2="894.6" stroke="#000" stroke-width="1.5"/>
<line x1="1726.5" y1="891.4" x2="1726.5" y2="894.6" stroke="#000" stroke-width="1.5"/>
<line x1="1731" y1="891.4" x2="1731" y2="894.6" stroke="#000" stroke-width="1.5"/>
<line x1="1735" y1="891.4" x2="1735" y2="896.9" stroke="#000" stroke-width="2"/>
<line x1="1761.3" y1="891.4" x2="1761.3" y2="894.6" stroke="#000" stroke-width="1.5"/>
<line x1="1776.7" y1="891.4" x2="1776.7" y2="894.6" stroke="#000" stroke-width="1.5"/>
<line x1="1787.7" y1="891.4" x2="1787.7" y2="894.6" stroke="#000" stroke-width="1.5"/>
<line x1="1796.2" y1="891.4" x2="1796.2" y2="894.6" stroke="#000" stroke-width="1.5"/>
<line x1="1803.1" y1="891.4" x2="1803.1" y2="894.6" stroke="#000" stroke-width="1.5"/>
<line x1="1808.9" y1="891.4" x2="1808.9" y2="894.6" stroke="#000" stroke-width="1.5"/>
<line x1="1814" y1="891.4" x2="1814" y2="894.6" stroke="#000" stroke-width="1.5"/>
<line x1="1818.5" y1="891.4" x2="1818.5" y2="894.6" stroke="#000" stroke-width="1.5"/>
<line x1="1822.5" y1="891.4" x2="1822.5" y2="896.9" stroke="#000" stroke-width="2"/>
<line x1="1848.8" y1="891.4" x2="1848.8" y2="894.6" stroke="#000" stroke-width="1.5"/>
<line x1="1864.2" y1="891.4" x2="1864.2" y2="894.6" stroke="#000" stroke-width="1.5"/>
<line x1="1875.2" y1="891.4" x2="1875.2" y2="894.6" stroke="#000" stroke-width="1.5"/>
<line x1="1883.7" y1="891.4" x2="1883.7" y2="894.6" stroke="#000" stroke-width="1.5"/>
<line x1="1890.6" y1="891.4" x2="1890.6" y2="894.6" stroke="#000" stroke-width="1.5"/>
<line x1="1896.4" y1="891.4" x2="1896.4" y2="894.6" stroke="#000" stroke-width="1.5"/>
<line x1="1901.5" y1="891.4" x2="1901.5" y2="894.6" stroke="#000" stroke-width="1.5"/>
<line x1="1906" y1="891.4" x2="1906" y2="894.6" stroke="#000" stroke-width="1.5"/>
<line x1="1910" y1="891.4" x2="1910" y2="896.9" stroke="#000" stroke-width="2"/>
<text x="1112" y="571" font-size="32">n=5</text>
<text x="1112" y="611" font-size="32" fill="#0000FF">n=5</text>
<text x="1112" y="652" font-size="32" fill="#FF0000">n=5</text>
<line x1="1175.5" y1="843.6" x2="1175.5" y2="863.6" stroke="#FF0000" stroke-width="2.2"/>
<line x1="1168" y1="843.6" x2="1183" y2="843.6" stroke="#FF0000" stroke-width="2.2"/>
<line x1="1168" y1="863.6" x2="1183" y2="863.6" stroke="#FF0000" stroke-width="2.2"/>
<line x1="1210.5" y1="851" x2="1210.5" y2="867" stroke="#FF0000" stroke-width="2.2"/>
<line x1="1203" y1="851" x2="1218" y2="851" stroke="#FF0000" stroke-width="2.2"/>
<line x1="1203" y1="867" x2="1218" y2="867" stroke="#FF0000" stroke-width="2.2"/>
<line x1="1263" y1="816" x2="1263" y2="848" stroke="#FF0000" stroke-width="2.2"/>
<line x1="1255.5" y1="816" x2="1270.5" y2="816" stroke="#FF0000" stroke-width="2.2"/>
<line x1="1255.5" y1="848" x2="1270.5" y2="848" stroke="#FF0000" stroke-width="2.2"/>
<line x1="1298" y1="770" x2="1298" y2="801.4" stroke="#FF0000" stroke-width="2.2"/>
<line x1="1290.5" y1="770" x2="1305.5" y2="770" stroke="#FF0000" stroke-width="2.2"/>
<line x1="1290.5" y1="801.4" x2="1305.5" y2="801.4" stroke="#FF0000" stroke-width="2.2"/>
<line x1="1333" y1="768" x2="1333" y2="784" stroke="#FF0000" stroke-width="2.2"/>
<line x1="1325.5" y1="768" x2="1340.5" y2="768" stroke="#FF0000" stroke-width="2.2"/>
<line x1="1325.5" y1="784" x2="1340.5" y2="784" stroke="#FF0000" stroke-width="2.2"/>
<line x1="1368" y1="753.6" x2="1368" y2="769.6" stroke="#FF0000" stroke-width="2.2"/>
<line x1="1360.5" y1="753.6" x2="1375.5" y2="753.6" stroke="#FF0000" stroke-width="2.2"/>
<line x1="1360.5" y1="769.6" x2="1375.5" y2="769.6" stroke="#FF0000" stroke-width="2.2"/>
<line x1="1394.2" y1="736.6" x2="1394.2" y2="761.4" stroke="#FF0000" stroke-width="2.2"/>
<line x1="1386.8" y1="736.6" x2="1401.8" y2="736.6" stroke="#FF0000" stroke-width="2.2"/>
<line x1="1386.8" y1="761.4" x2="1401.8" y2="761.4" stroke="#FF0000" stroke-width="2.2"/>
<polygon points="1132.2,891.5 1149.2,891.5 1140.7,877" fill="#FF0000"/>
<polygon points="1167,860.1 1184,860.1 1175.5,845.6" fill="#FF0000"/>
<polygon points="1202,865.5 1219,865.5 1210.5,851" fill="#FF0000"/>
<polygon points="1254.5,838.5 1271.5,838.5 1263,824" fill="#FF0000"/>
<polygon points="1289.5,792.2 1306.5,792.2 1298,777.7" fill="#FF0000"/>
<polygon points="1324.5,782.5 1341.5,782.5 1333,768" fill="#FF0000"/>
<polygon points="1359.5,768.1 1376.5,768.1 1368,753.6" fill="#FF0000"/>
<polygon points="1385.8,755.5 1402.8,755.5 1394.2,741" fill="#FF0000"/>
<line x1="1210.5" y1="833.4" x2="1210.5" y2="859.4" stroke="#0000FF" stroke-width="2.2"/>
<line x1="1203" y1="833.4" x2="1218" y2="833.4" stroke="#0000FF" stroke-width="2.2"/>
<line x1="1203" y1="859.4" x2="1218" y2="859.4" stroke="#0000FF" stroke-width="2.2"/>
<line x1="1263" y1="796" x2="1263" y2="818" stroke="#0000FF" stroke-width="2.2"/>
<line x1="1255.5" y1="796" x2="1270.5" y2="796" stroke="#0000FF" stroke-width="2.2"/>
<line x1="1255.5" y1="818" x2="1270.5" y2="818" stroke="#0000FF" stroke-width="2.2"/>
<line x1="1298" y1="764.3" x2="1298" y2="789.3" stroke="#0000FF" stroke-width="2.2"/>
<line x1="1290.5" y1="764.3" x2="1305.5" y2="764.3" stroke="#0000FF" stroke-width="2.2"/>
<line x1="1290.5" y1="789.3" x2="1305.5" y2="789.3" stroke="#0000FF" stroke-width="2.2"/>
<line x1="1333" y1="751.1" x2="1333" y2="769.7" stroke="#0000FF" stroke-width="2.2"/>
<line x1="1325.5" y1="751.1" x2="1340.5" y2="751.1" stroke="#0000FF" stroke-width="2.2"/>
<line x1="1325.5" y1="769.7" x2="1340.5" y2="769.7" stroke="#0000FF" stroke-width="2.2"/>
<line x1="1368" y1="731.4" x2="1368" y2="754.4" stroke="#0000FF" stroke-width="2.2"/>
<line x1="1360.5" y1="731.4" x2="1375.5" y2="731.4" stroke="#0000FF" stroke-width="2.2"/>
<line x1="1360.5" y1="754.4" x2="1375.5" y2="754.4" stroke="#0000FF" stroke-width="2.2"/>
<line x1="1394.2" y1="711.8" x2="1394.2" y2="736.2" stroke="#0000FF" stroke-width="2.2"/>
<line x1="1386.8" y1="711.8" x2="1401.8" y2="711.8" stroke="#0000FF" stroke-width="2.2"/>
<line x1="1386.8" y1="736.2" x2="1401.8" y2="736.2" stroke="#0000FF" stroke-width="2.2"/>
<rect x="1132.7" y="874" width="16" height="16" fill="#0000FF"/>
<rect x="1167.5" y="860.8" width="16" height="16" fill="#0000FF"/>
<rect x="1202.5" y="838.4" width="16" height="16" fill="#0000FF"/>
<rect x="1255" y="799" width="16" height="16" fill="#0000FF"/>
<rect x="1290" y="768.8" width="16" height="16" fill="#0000FF"/>
<rect x="1325" y="752.4" width="16" height="16" fill="#0000FF"/>
<rect x="1360" y="734.9" width="16" height="16" fill="#0000FF"/>
<rect x="1386.2" y="716" width="16" height="16" fill="#0000FF"/>
<line x1="1210.5" y1="838.5" x2="1210.5" y2="859.5" stroke="#000" stroke-width="2.2"/>
<line x1="1203" y1="838.5" x2="1218" y2="838.5" stroke="#000" stroke-width="2.2"/>
<line x1="1203" y1="859.5" x2="1218" y2="859.5" stroke="#000" stroke-width="2.2"/>
<line x1="1263" y1="795.6" x2="1263" y2="811.6" stroke="#000" stroke-width="2.2"/>
<line x1="1255.5" y1="795.6" x2="1270.5" y2="795.6" stroke="#000" stroke-width="2.2"/>
<line x1="1255.5" y1="811.6" x2="1270.5" y2="811.6" stroke="#000" stroke-width="2.2"/>
<line x1="1298" y1="731.6" x2="1298" y2="753" stroke="#000" stroke-width="2.2"/>
<line x1="1290.5" y1="731.6" x2="1305.5" y2="731.6" stroke="#000" stroke-width="2.2"/>
<line x1="1290.5" y1="753" x2="1305.5" y2="753" stroke="#000" stroke-width="2.2"/>
<line x1="1333" y1="680.2" x2="1333" y2="719.8" stroke="#000" stroke-width="2.2"/>
<line x1="1325.5" y1="680.2" x2="1340.5" y2="680.2" stroke="#000" stroke-width="2.2"/>
<line x1="1325.5" y1="719.8" x2="1340.5" y2="719.8" stroke="#000" stroke-width="2.2"/>
<line x1="1368" y1="653.2" x2="1368" y2="692.2" stroke="#000" stroke-width="2.2"/>
<line x1="1360.5" y1="653.2" x2="1375.5" y2="653.2" stroke="#000" stroke-width="2.2"/>
<line x1="1360.5" y1="692.2" x2="1375.5" y2="692.2" stroke="#000" stroke-width="2.2"/>
<line x1="1394.2" y1="632" x2="1394.2" y2="668" stroke="#000" stroke-width="2.2"/>
<line x1="1386.8" y1="632" x2="1401.8" y2="632" stroke="#000" stroke-width="2.2"/>
<line x1="1386.8" y1="668" x2="1401.8" y2="668" stroke="#000" stroke-width="2.2"/>
<circle cx="1140.7" cy="882" r="8.2" fill="#000"/>
<circle cx="1175.5" cy="870.5" r="8.2" fill="#000"/>
<circle cx="1210.5" cy="849" r="8.2" fill="#000"/>
<circle cx="1263" cy="803.6" r="8.2" fill="#000"/>
<circle cx="1298" cy="742.3" r="8.2" fill="#000"/>
<circle cx="1333" cy="700" r="8.2" fill="#000"/>
<circle cx="1368" cy="672.7" r="8.2" fill="#000"/>
<circle cx="1394.2" cy="650" r="8.2" fill="#000"/>
<path d="M1300.7 821.4 V829.5 H1405.7 V821.4" fill="none" stroke="#231F20" stroke-width="2"/>
<text x="1352" y="860" font-size="40" text-anchor="middle" font-weight="bold" fill="#0000FF">*</text>
<text x="1352" y="884.3" font-size="40" text-anchor="middle" font-weight="bold" fill="#FF0000">*</text>
<line x1="1612.7" y1="820" x2="1612.7" y2="826" stroke="#FF0000" stroke-width="2.2"/>
<line x1="1605.2" y1="820" x2="1620.2" y2="820" stroke="#FF0000" stroke-width="2.2"/>
<line x1="1605.2" y1="826" x2="1620.2" y2="826" stroke="#FF0000" stroke-width="2.2"/>
<line x1="1647.5" y1="786.6" x2="1647.5" y2="802.6" stroke="#FF0000" stroke-width="2.2"/>
<line x1="1640" y1="786.6" x2="1655" y2="786.6" stroke="#FF0000" stroke-width="2.2"/>
<line x1="1640" y1="802.6" x2="1655" y2="802.6" stroke="#FF0000" stroke-width="2.2"/>
<line x1="1682.5" y1="792.3" x2="1682.5" y2="811.3" stroke="#FF0000" stroke-width="2.2"/>
<line x1="1675" y1="792.3" x2="1690" y2="792.3" stroke="#FF0000" stroke-width="2.2"/>
<line x1="1675" y1="811.3" x2="1690" y2="811.3" stroke="#FF0000" stroke-width="2.2"/>
<line x1="1735" y1="770" x2="1735" y2="792" stroke="#FF0000" stroke-width="2.2"/>
<line x1="1727.5" y1="770" x2="1742.5" y2="770" stroke="#FF0000" stroke-width="2.2"/>
<line x1="1727.5" y1="792" x2="1742.5" y2="792" stroke="#FF0000" stroke-width="2.2"/>
<line x1="1770" y1="728.6" x2="1770" y2="764.6" stroke="#FF0000" stroke-width="2.2"/>
<line x1="1762.5" y1="728.6" x2="1777.5" y2="728.6" stroke="#FF0000" stroke-width="2.2"/>
<line x1="1762.5" y1="764.6" x2="1777.5" y2="764.6" stroke="#FF0000" stroke-width="2.2"/>
<line x1="1805" y1="735" x2="1805" y2="751" stroke="#FF0000" stroke-width="2.2"/>
<line x1="1797.5" y1="735" x2="1812.5" y2="735" stroke="#FF0000" stroke-width="2.2"/>
<line x1="1797.5" y1="751" x2="1812.5" y2="751" stroke="#FF0000" stroke-width="2.2"/>
<line x1="1840" y1="718" x2="1840" y2="740" stroke="#FF0000" stroke-width="2.2"/>
<line x1="1832.5" y1="718" x2="1847.5" y2="718" stroke="#FF0000" stroke-width="2.2"/>
<line x1="1832.5" y1="740" x2="1847.5" y2="740" stroke="#FF0000" stroke-width="2.2"/>
<line x1="1866.2" y1="717.6" x2="1866.2" y2="739.6" stroke="#FF0000" stroke-width="2.2"/>
<line x1="1858.8" y1="717.6" x2="1873.8" y2="717.6" stroke="#FF0000" stroke-width="2.2"/>
<line x1="1858.8" y1="739.6" x2="1873.8" y2="739.6" stroke="#FF0000" stroke-width="2.2"/>
<polygon points="1604.2,829.5 1621.2,829.5 1612.7,815" fill="#FF0000"/>
<polygon points="1639,801.1 1656,801.1 1647.5,786.6" fill="#FF0000"/>
<polygon points="1674,808.3 1691,808.3 1682.5,793.8" fill="#FF0000"/>
<polygon points="1726.5,787.5 1743.5,787.5 1735,773" fill="#FF0000"/>
<polygon points="1761.5,753.1 1778.5,753.1 1770,738.6" fill="#FF0000"/>
<polygon points="1796.5,749.5 1813.5,749.5 1805,735" fill="#FF0000"/>
<polygon points="1831.5,735.5 1848.5,735.5 1840,721" fill="#FF0000"/>
<polygon points="1857.8,735.1 1874.8,735.1 1866.2,720.6" fill="#FF0000"/>
<line x1="1612.7" y1="802.4" x2="1612.7" y2="808.4" stroke="#0000FF" stroke-width="2.2"/>
<line x1="1605.2" y1="802.4" x2="1620.2" y2="802.4" stroke="#0000FF" stroke-width="2.2"/>
<line x1="1605.2" y1="808.4" x2="1620.2" y2="808.4" stroke="#0000FF" stroke-width="2.2"/>
<line x1="1647.5" y1="786.1" x2="1647.5" y2="830.7" stroke="#0000FF" stroke-width="2.2"/>
<line x1="1640" y1="786.1" x2="1655" y2="786.1" stroke="#0000FF" stroke-width="2.2"/>
<line x1="1640" y1="830.7" x2="1655" y2="830.7" stroke="#0000FF" stroke-width="2.2"/>
<line x1="1682.5" y1="771.6" x2="1682.5" y2="807.6" stroke="#0000FF" stroke-width="2.2"/>
<line x1="1675" y1="771.6" x2="1690" y2="771.6" stroke="#0000FF" stroke-width="2.2"/>
<line x1="1675" y1="807.6" x2="1690" y2="807.6" stroke="#0000FF" stroke-width="2.2"/>
<line x1="1735" y1="755.2" x2="1735" y2="776.8" stroke="#0000FF" stroke-width="2.2"/>
<line x1="1727.5" y1="755.2" x2="1742.5" y2="755.2" stroke="#0000FF" stroke-width="2.2"/>
<line x1="1727.5" y1="776.8" x2="1742.5" y2="776.8" stroke="#0000FF" stroke-width="2.2"/>
<line x1="1770" y1="741.4" x2="1770" y2="751.4" stroke="#0000FF" stroke-width="2.2"/>
<line x1="1762.5" y1="741.4" x2="1777.5" y2="741.4" stroke="#0000FF" stroke-width="2.2"/>
<line x1="1762.5" y1="751.4" x2="1777.5" y2="751.4" stroke="#0000FF" stroke-width="2.2"/>
<line x1="1805" y1="746" x2="1805" y2="756" stroke="#0000FF" stroke-width="2.2"/>
<line x1="1797.5" y1="746" x2="1812.5" y2="746" stroke="#0000FF" stroke-width="2.2"/>
<line x1="1797.5" y1="756" x2="1812.5" y2="756" stroke="#0000FF" stroke-width="2.2"/>
<line x1="1840" y1="726" x2="1840" y2="736" stroke="#0000FF" stroke-width="2.2"/>
<line x1="1832.5" y1="726" x2="1847.5" y2="726" stroke="#0000FF" stroke-width="2.2"/>
<line x1="1832.5" y1="736" x2="1847.5" y2="736" stroke="#0000FF" stroke-width="2.2"/>
<line x1="1866.2" y1="709.8" x2="1866.2" y2="719.8" stroke="#0000FF" stroke-width="2.2"/>
<line x1="1858.8" y1="709.8" x2="1873.8" y2="709.8" stroke="#0000FF" stroke-width="2.2"/>
<line x1="1858.8" y1="719.8" x2="1873.8" y2="719.8" stroke="#0000FF" stroke-width="2.2"/>
<rect x="1604.7" y="797.4" width="16" height="16" fill="#0000FF"/>
<rect x="1639.5" y="800.4" width="16" height="16" fill="#0000FF"/>
<rect x="1674.5" y="781.6" width="16" height="16" fill="#0000FF"/>
<rect x="1727" y="758" width="16" height="16" fill="#0000FF"/>
<rect x="1762" y="738.4" width="16" height="16" fill="#0000FF"/>
<rect x="1797" y="743" width="16" height="16" fill="#0000FF"/>
<rect x="1832" y="723" width="16" height="16" fill="#0000FF"/>
<rect x="1858.2" y="706.8" width="16" height="16" fill="#0000FF"/>
<line x1="1612.7" y1="806.2" x2="1612.7" y2="834.2" stroke="#000" stroke-width="2.2"/>
<line x1="1605.2" y1="806.2" x2="1620.2" y2="806.2" stroke="#000" stroke-width="2.2"/>
<line x1="1605.2" y1="834.2" x2="1620.2" y2="834.2" stroke="#000" stroke-width="2.2"/>
<line x1="1647.5" y1="750.2" x2="1647.5" y2="797.2" stroke="#000" stroke-width="2.2"/>
<line x1="1640" y1="750.2" x2="1655" y2="750.2" stroke="#000" stroke-width="2.2"/>
<line x1="1640" y1="797.2" x2="1655" y2="797.2" stroke="#000" stroke-width="2.2"/>
<line x1="1682.5" y1="743.8" x2="1682.5" y2="783.8" stroke="#000" stroke-width="2.2"/>
<line x1="1675" y1="743.8" x2="1690" y2="743.8" stroke="#000" stroke-width="2.2"/>
<line x1="1675" y1="783.8" x2="1690" y2="783.8" stroke="#000" stroke-width="2.2"/>
<line x1="1735" y1="687" x2="1735" y2="747" stroke="#000" stroke-width="2.2"/>
<line x1="1727.5" y1="687" x2="1742.5" y2="687" stroke="#000" stroke-width="2.2"/>
<line x1="1727.5" y1="747" x2="1742.5" y2="747" stroke="#000" stroke-width="2.2"/>
<line x1="1770" y1="644.2" x2="1770" y2="703.8" stroke="#000" stroke-width="2.2"/>
<line x1="1762.5" y1="644.2" x2="1777.5" y2="644.2" stroke="#000" stroke-width="2.2"/>
<line x1="1762.5" y1="703.8" x2="1777.5" y2="703.8" stroke="#000" stroke-width="2.2"/>
<line x1="1805" y1="647.6" x2="1805" y2="704.2" stroke="#000" stroke-width="2.2"/>
<line x1="1797.5" y1="647.6" x2="1812.5" y2="647.6" stroke="#000" stroke-width="2.2"/>
<line x1="1797.5" y1="704.2" x2="1812.5" y2="704.2" stroke="#000" stroke-width="2.2"/>
<line x1="1840" y1="631.4" x2="1840" y2="682.2" stroke="#000" stroke-width="2.2"/>
<line x1="1832.5" y1="631.4" x2="1847.5" y2="631.4" stroke="#000" stroke-width="2.2"/>
<line x1="1832.5" y1="682.2" x2="1847.5" y2="682.2" stroke="#000" stroke-width="2.2"/>
<line x1="1866.2" y1="614.5" x2="1866.2" y2="654.5" stroke="#000" stroke-width="2.2"/>
<line x1="1858.8" y1="614.5" x2="1873.8" y2="614.5" stroke="#000" stroke-width="2.2"/>
<line x1="1858.8" y1="654.5" x2="1873.8" y2="654.5" stroke="#000" stroke-width="2.2"/>
<circle cx="1612.7" cy="820.2" r="8.2" fill="#000"/>
<circle cx="1647.5" cy="773.8" r="8.2" fill="#000"/>
<circle cx="1682.5" cy="763.8" r="8.2" fill="#000"/>
<circle cx="1735" cy="717" r="8.2" fill="#000"/>
<circle cx="1770" cy="674" r="8.2" fill="#000"/>
<circle cx="1805" cy="675.9" r="8.2" fill="#000"/>
<circle cx="1840" cy="656.8" r="8.2" fill="#000"/>
<circle cx="1866.2" cy="634.5" r="8.2" fill="#000"/>
<path d="M1774.8 813.4 V822 H1880 V813.4" fill="none" stroke="#231F20" stroke-width="2"/>
<text x="1826.6" y="852" font-size="40" text-anchor="middle" font-weight="bold" fill="#0000FF">*</text>
<text x="1826.6" y="875.4" font-size="40" text-anchor="middle" font-weight="bold" fill="#FF0000">*</text>
<line x1="1089.6" y1="989.5" x2="1089.6" y2="1342.6" stroke="#000" stroke-width="2.2"/>
<line x1="1085.1" y1="1341.6" x2="1089.6" y2="1341.6" stroke="#000" stroke-width="1.8"/>
<text x="1080.6" y="1354.6" font-size="30" text-anchor="end">0</text>
<line x1="1085.1" y1="1166" x2="1089.6" y2="1166" stroke="#000" stroke-width="1.8"/>
<text x="1080.6" y="1179" font-size="30" text-anchor="end">125</text>
<line x1="1085.1" y1="990.5" x2="1089.6" y2="990.5" stroke="#000" stroke-width="1.8"/>
<text x="1080.6" y="1006.5" font-size="30" text-anchor="end">250</text>
<line x1="1088.6" y1="1341.6" x2="1440.6" y2="1341.6" stroke="#000" stroke-width="2.2"/>
<line x1="1089.6" y1="1341.6" x2="1089.6" y2="1347.1" stroke="#000" stroke-width="2"/>
<line x1="1115.9" y1="1341.6" x2="1115.9" y2="1344.8" stroke="#000" stroke-width="1.5"/>
<line x1="1131.3" y1="1341.6" x2="1131.3" y2="1344.8" stroke="#000" stroke-width="1.5"/>
<line x1="1142.3" y1="1341.6" x2="1142.3" y2="1344.8" stroke="#000" stroke-width="1.5"/>
<line x1="1150.8" y1="1341.6" x2="1150.8" y2="1344.8" stroke="#000" stroke-width="1.5"/>
<line x1="1157.7" y1="1341.6" x2="1157.7" y2="1344.8" stroke="#000" stroke-width="1.5"/>
<line x1="1163.5" y1="1341.6" x2="1163.5" y2="1344.8" stroke="#000" stroke-width="1.5"/>
<line x1="1168.6" y1="1341.6" x2="1168.6" y2="1344.8" stroke="#000" stroke-width="1.5"/>
<line x1="1173.1" y1="1341.6" x2="1173.1" y2="1344.8" stroke="#000" stroke-width="1.5"/>
<line x1="1177.1" y1="1341.6" x2="1177.1" y2="1347.1" stroke="#000" stroke-width="2"/>
<line x1="1203.4" y1="1341.6" x2="1203.4" y2="1344.8" stroke="#000" stroke-width="1.5"/>
<line x1="1218.8" y1="1341.6" x2="1218.8" y2="1344.8" stroke="#000" stroke-width="1.5"/>
<line x1="1229.8" y1="1341.6" x2="1229.8" y2="1344.8" stroke="#000" stroke-width="1.5"/>
<line x1="1238.3" y1="1341.6" x2="1238.3" y2="1344.8" stroke="#000" stroke-width="1.5"/>
<line x1="1245.2" y1="1341.6" x2="1245.2" y2="1344.8" stroke="#000" stroke-width="1.5"/>
<line x1="1251" y1="1341.6" x2="1251" y2="1344.8" stroke="#000" stroke-width="1.5"/>
<line x1="1256.1" y1="1341.6" x2="1256.1" y2="1344.8" stroke="#000" stroke-width="1.5"/>
<line x1="1260.6" y1="1341.6" x2="1260.6" y2="1344.8" stroke="#000" stroke-width="1.5"/>
<line x1="1264.6" y1="1341.6" x2="1264.6" y2="1347.1" stroke="#000" stroke-width="2"/>
<line x1="1290.9" y1="1341.6" x2="1290.9" y2="1344.8" stroke="#000" stroke-width="1.5"/>
<line x1="1306.3" y1="1341.6" x2="1306.3" y2="1344.8" stroke="#000" stroke-width="1.5"/>
<line x1="1317.3" y1="1341.6" x2="1317.3" y2="1344.8" stroke="#000" stroke-width="1.5"/>
<line x1="1325.8" y1="1341.6" x2="1325.8" y2="1344.8" stroke="#000" stroke-width="1.5"/>
<line x1="1332.7" y1="1341.6" x2="1332.7" y2="1344.8" stroke="#000" stroke-width="1.5"/>
<line x1="1338.5" y1="1341.6" x2="1338.5" y2="1344.8" stroke="#000" stroke-width="1.5"/>
<line x1="1343.6" y1="1341.6" x2="1343.6" y2="1344.8" stroke="#000" stroke-width="1.5"/>
<line x1="1348.1" y1="1341.6" x2="1348.1" y2="1344.8" stroke="#000" stroke-width="1.5"/>
<line x1="1352.1" y1="1341.6" x2="1352.1" y2="1347.1" stroke="#000" stroke-width="2"/>
<line x1="1378.4" y1="1341.6" x2="1378.4" y2="1344.8" stroke="#000" stroke-width="1.5"/>
<line x1="1393.8" y1="1341.6" x2="1393.8" y2="1344.8" stroke="#000" stroke-width="1.5"/>
<line x1="1404.8" y1="1341.6" x2="1404.8" y2="1344.8" stroke="#000" stroke-width="1.5"/>
<line x1="1413.3" y1="1341.6" x2="1413.3" y2="1344.8" stroke="#000" stroke-width="1.5"/>
<line x1="1420.2" y1="1341.6" x2="1420.2" y2="1344.8" stroke="#000" stroke-width="1.5"/>
<line x1="1426" y1="1341.6" x2="1426" y2="1344.8" stroke="#000" stroke-width="1.5"/>
<line x1="1431.1" y1="1341.6" x2="1431.1" y2="1344.8" stroke="#000" stroke-width="1.5"/>
<line x1="1435.6" y1="1341.6" x2="1435.6" y2="1344.8" stroke="#000" stroke-width="1.5"/>
<line x1="1439.6" y1="1341.6" x2="1439.6" y2="1347.1" stroke="#000" stroke-width="2"/>
<line x1="1560" y1="990.5" x2="1560" y2="1343.9" stroke="#000" stroke-width="2.2"/>
<line x1="1555.5" y1="1342.9" x2="1560" y2="1342.9" stroke="#000" stroke-width="1.8"/>
<text x="1551" y="1355.9" font-size="30" text-anchor="end">0</text>
<line x1="1555.5" y1="1167.2" x2="1560" y2="1167.2" stroke="#000" stroke-width="1.8"/>
<text x="1551" y="1180.2" font-size="30" text-anchor="end">250</text>
<line x1="1555.5" y1="991.5" x2="1560" y2="991.5" stroke="#000" stroke-width="1.8"/>
<text x="1551" y="1007.5" font-size="30" text-anchor="end">500</text>
<line x1="1559" y1="1342.9" x2="1911" y2="1342.9" stroke="#000" stroke-width="2.2"/>
<line x1="1560" y1="1342.9" x2="1560" y2="1348.4" stroke="#000" stroke-width="2"/>
<line x1="1586.3" y1="1342.9" x2="1586.3" y2="1346.1" stroke="#000" stroke-width="1.5"/>
<line x1="1601.7" y1="1342.9" x2="1601.7" y2="1346.1" stroke="#000" stroke-width="1.5"/>
<line x1="1612.7" y1="1342.9" x2="1612.7" y2="1346.1" stroke="#000" stroke-width="1.5"/>
<line x1="1621.2" y1="1342.9" x2="1621.2" y2="1346.1" stroke="#000" stroke-width="1.5"/>
<line x1="1628.1" y1="1342.9" x2="1628.1" y2="1346.1" stroke="#000" stroke-width="1.5"/>
<line x1="1633.9" y1="1342.9" x2="1633.9" y2="1346.1" stroke="#000" stroke-width="1.5"/>
<line x1="1639" y1="1342.9" x2="1639" y2="1346.1" stroke="#000" stroke-width="1.5"/>
<line x1="1643.5" y1="1342.9" x2="1643.5" y2="1346.1" stroke="#000" stroke-width="1.5"/>
<line x1="1647.5" y1="1342.9" x2="1647.5" y2="1348.4" stroke="#000" stroke-width="2"/>
<line x1="1673.8" y1="1342.9" x2="1673.8" y2="1346.1" stroke="#000" stroke-width="1.5"/>
<line x1="1689.2" y1="1342.9" x2="1689.2" y2="1346.1" stroke="#000" stroke-width="1.5"/>
<line x1="1700.2" y1="1342.9" x2="1700.2" y2="1346.1" stroke="#000" stroke-width="1.5"/>
<line x1="1708.7" y1="1342.9" x2="1708.7" y2="1346.1" stroke="#000" stroke-width="1.5"/>
<line x1="1715.6" y1="1342.9" x2="1715.6" y2="1346.1" stroke="#000" stroke-width="1.5"/>
<line x1="1721.4" y1="1342.9" x2="1721.4" y2="1346.1" stroke="#000" stroke-width="1.5"/>
<line x1="1726.5" y1="1342.9" x2="1726.5" y2="1346.1" stroke="#000" stroke-width="1.5"/>
<line x1="1731" y1="1342.9" x2="1731" y2="1346.1" stroke="#000" stroke-width="1.5"/>
<line x1="1735" y1="1342.9" x2="1735" y2="1348.4" stroke="#000" stroke-width="2"/>
<line x1="1761.3" y1="1342.9" x2="1761.3" y2="1346.1" stroke="#000" stroke-width="1.5"/>
<line x1="1776.7" y1="1342.9" x2="1776.7" y2="1346.1" stroke="#000" stroke-width="1.5"/>
<line x1="1787.7" y1="1342.9" x2="1787.7" y2="1346.1" stroke="#000" stroke-width="1.5"/>
<line x1="1796.2" y1="1342.9" x2="1796.2" y2="1346.1" stroke="#000" stroke-width="1.5"/>
<line x1="1803.1" y1="1342.9" x2="1803.1" y2="1346.1" stroke="#000" stroke-width="1.5"/>
<line x1="1808.9" y1="1342.9" x2="1808.9" y2="1346.1" stroke="#000" stroke-width="1.5"/>
<line x1="1814" y1="1342.9" x2="1814" y2="1346.1" stroke="#000" stroke-width="1.5"/>
<line x1="1818.5" y1="1342.9" x2="1818.5" y2="1346.1" stroke="#000" stroke-width="1.5"/>
<line x1="1822.5" y1="1342.9" x2="1822.5" y2="1348.4" stroke="#000" stroke-width="2"/>
<line x1="1848.8" y1="1342.9" x2="1848.8" y2="1346.1" stroke="#000" stroke-width="1.5"/>
<line x1="1864.2" y1="1342.9" x2="1864.2" y2="1346.1" stroke="#000" stroke-width="1.5"/>
<line x1="1875.2" y1="1342.9" x2="1875.2" y2="1346.1" stroke="#000" stroke-width="1.5"/>
<line x1="1883.7" y1="1342.9" x2="1883.7" y2="1346.1" stroke="#000" stroke-width="1.5"/>
<line x1="1890.6" y1="1342.9" x2="1890.6" y2="1346.1" stroke="#000" stroke-width="1.5"/>
<line x1="1896.4" y1="1342.9" x2="1896.4" y2="1346.1" stroke="#000" stroke-width="1.5"/>
<line x1="1901.5" y1="1342.9" x2="1901.5" y2="1346.1" stroke="#000" stroke-width="1.5"/>
<line x1="1906" y1="1342.9" x2="1906" y2="1346.1" stroke="#000" stroke-width="1.5"/>
<line x1="1910" y1="1342.9" x2="1910" y2="1348.4" stroke="#000" stroke-width="2"/>
<text x="1112" y="1019.5" font-size="32">n=7</text>
<text x="1112" y="1059.6" font-size="32" fill="#0000FF">n=6</text>
<text x="1112" y="1100.5" font-size="32" fill="#FF0000">n=5</text>
<line x1="1142.3" y1="1315" x2="1142.3" y2="1321" stroke="#FF0000" stroke-width="2.2"/>
<line x1="1134.8" y1="1315" x2="1149.8" y2="1315" stroke="#FF0000" stroke-width="2.2"/>
<line x1="1134.8" y1="1321" x2="1149.8" y2="1321" stroke="#FF0000" stroke-width="2.2"/>
<line x1="1177.1" y1="1302" x2="1177.1" y2="1308" stroke="#FF0000" stroke-width="2.2"/>
<line x1="1169.6" y1="1302" x2="1184.6" y2="1302" stroke="#FF0000" stroke-width="2.2"/>
<line x1="1169.6" y1="1308" x2="1184.6" y2="1308" stroke="#FF0000" stroke-width="2.2"/>
<line x1="1212.1" y1="1307" x2="1212.1" y2="1321" stroke="#FF0000" stroke-width="2.2"/>
<line x1="1204.6" y1="1307" x2="1219.6" y2="1307" stroke="#FF0000" stroke-width="2.2"/>
<line x1="1204.6" y1="1321" x2="1219.6" y2="1321" stroke="#FF0000" stroke-width="2.2"/>
<line x1="1264.6" y1="1258" x2="1264.6" y2="1276" stroke="#FF0000" stroke-width="2.2"/>
<line x1="1257.1" y1="1258" x2="1272.1" y2="1258" stroke="#FF0000" stroke-width="2.2"/>
<line x1="1257.1" y1="1276" x2="1272.1" y2="1276" stroke="#FF0000" stroke-width="2.2"/>
<line x1="1299.6" y1="1203.1" x2="1299.6" y2="1236.1" stroke="#FF0000" stroke-width="2.2"/>
<line x1="1292.1" y1="1203.1" x2="1307.1" y2="1203.1" stroke="#FF0000" stroke-width="2.2"/>
<line x1="1292.1" y1="1236.1" x2="1307.1" y2="1236.1" stroke="#FF0000" stroke-width="2.2"/>
<line x1="1334.6" y1="1181" x2="1334.6" y2="1215" stroke="#FF0000" stroke-width="2.2"/>
<line x1="1327.1" y1="1181" x2="1342.1" y2="1181" stroke="#FF0000" stroke-width="2.2"/>
<line x1="1327.1" y1="1215" x2="1342.1" y2="1215" stroke="#FF0000" stroke-width="2.2"/>
<line x1="1369.6" y1="1148" x2="1369.6" y2="1184" stroke="#FF0000" stroke-width="2.2"/>
<line x1="1362.1" y1="1148" x2="1377.1" y2="1148" stroke="#FF0000" stroke-width="2.2"/>
<line x1="1362.1" y1="1184" x2="1377.1" y2="1184" stroke="#FF0000" stroke-width="2.2"/>
<line x1="1395.8" y1="1128.5" x2="1395.8" y2="1146.5" stroke="#FF0000" stroke-width="2.2"/>
<line x1="1388.3" y1="1128.5" x2="1403.3" y2="1128.5" stroke="#FF0000" stroke-width="2.2"/>
<line x1="1388.3" y1="1146.5" x2="1403.3" y2="1146.5" stroke="#FF0000" stroke-width="2.2"/>
<polygon points="1133.8,1324.5 1150.8,1324.5 1142.3,1310" fill="#FF0000"/>
<polygon points="1168.6,1311.5 1185.6,1311.5 1177.1,1297" fill="#FF0000"/>
<polygon points="1203.6,1320.5 1220.6,1320.5 1212.1,1306" fill="#FF0000"/>
<polygon points="1256.1,1273.5 1273.1,1273.5 1264.6,1259" fill="#FF0000"/>
<polygon points="1291.1,1226.1 1308.1,1226.1 1299.6,1211.6" fill="#FF0000"/>
<polygon points="1326.1,1204.5 1343.1,1204.5 1334.6,1190" fill="#FF0000"/>
<polygon points="1361.1,1172.5 1378.1,1172.5 1369.6,1158" fill="#FF0000"/>
<polygon points="1387.3,1144 1404.3,1144 1395.8,1129.5" fill="#FF0000"/>
<line x1="1142.3" y1="1315" x2="1142.3" y2="1321" stroke="#0000FF" stroke-width="2.2"/>
<line x1="1134.8" y1="1315" x2="1149.8" y2="1315" stroke="#0000FF" stroke-width="2.2"/>
<line x1="1134.8" y1="1321" x2="1149.8" y2="1321" stroke="#0000FF" stroke-width="2.2"/>
<line x1="1177.1" y1="1318" x2="1177.1" y2="1324" stroke="#0000FF" stroke-width="2.2"/>
<line x1="1169.6" y1="1318" x2="1184.6" y2="1318" stroke="#0000FF" stroke-width="2.2"/>
<line x1="1169.6" y1="1324" x2="1184.6" y2="1324" stroke="#0000FF" stroke-width="2.2"/>
<line x1="1212.1" y1="1293" x2="1212.1" y2="1317" stroke="#0000FF" stroke-width="2.2"/>
<line x1="1204.6" y1="1293" x2="1219.6" y2="1293" stroke="#0000FF" stroke-width="2.2"/>
<line x1="1204.6" y1="1317" x2="1219.6" y2="1317" stroke="#0000FF" stroke-width="2.2"/>
<line x1="1264.6" y1="1231.3" x2="1264.6" y2="1274.7" stroke="#0000FF" stroke-width="2.2"/>
<line x1="1257.1" y1="1231.3" x2="1272.1" y2="1231.3" stroke="#0000FF" stroke-width="2.2"/>
<line x1="1257.1" y1="1274.7" x2="1272.1" y2="1274.7" stroke="#0000FF" stroke-width="2.2"/>
<line x1="1299.6" y1="1204.7" x2="1299.6" y2="1263.3" stroke="#0000FF" stroke-width="2.2"/>
<line x1="1292.1" y1="1204.7" x2="1307.1" y2="1204.7" stroke="#0000FF" stroke-width="2.2"/>
<line x1="1292.1" y1="1263.3" x2="1307.1" y2="1263.3" stroke="#0000FF" stroke-width="2.2"/>
<line x1="1334.6" y1="1197.7" x2="1334.6" y2="1236.3" stroke="#0000FF" stroke-width="2.2"/>
<line x1="1327.1" y1="1197.7" x2="1342.1" y2="1197.7" stroke="#0000FF" stroke-width="2.2"/>
<line x1="1327.1" y1="1236.3" x2="1342.1" y2="1236.3" stroke="#0000FF" stroke-width="2.2"/>
<line x1="1369.6" y1="1158.5" x2="1369.6" y2="1201.5" stroke="#0000FF" stroke-width="2.2"/>
<line x1="1362.1" y1="1158.5" x2="1377.1" y2="1158.5" stroke="#0000FF" stroke-width="2.2"/>
<line x1="1362.1" y1="1201.5" x2="1377.1" y2="1201.5" stroke="#0000FF" stroke-width="2.2"/>
<line x1="1395.8" y1="1131.8" x2="1395.8" y2="1165.8" stroke="#0000FF" stroke-width="2.2"/>
<line x1="1388.3" y1="1131.8" x2="1403.3" y2="1131.8" stroke="#0000FF" stroke-width="2.2"/>
<line x1="1388.3" y1="1165.8" x2="1403.3" y2="1165.8" stroke="#0000FF" stroke-width="2.2"/>
<rect x="1134.3" y="1310" width="16" height="16" fill="#0000FF"/>
<rect x="1169.1" y="1313" width="16" height="16" fill="#0000FF"/>
<rect x="1204.1" y="1297" width="16" height="16" fill="#0000FF"/>
<rect x="1256.6" y="1245" width="16" height="16" fill="#0000FF"/>
<rect x="1291.6" y="1226" width="16" height="16" fill="#0000FF"/>
<rect x="1326.6" y="1209" width="16" height="16" fill="#0000FF"/>
<rect x="1361.6" y="1172" width="16" height="16" fill="#0000FF"/>
<rect x="1387.8" y="1140.8" width="16" height="16" fill="#0000FF"/>
<line x1="1142.3" y1="1296.5" x2="1142.3" y2="1317.5" stroke="#000" stroke-width="2.2"/>
<line x1="1134.8" y1="1296.5" x2="1149.8" y2="1296.5" stroke="#000" stroke-width="2.2"/>
<line x1="1134.8" y1="1317.5" x2="1149.8" y2="1317.5" stroke="#000" stroke-width="2.2"/>
<line x1="1177.1" y1="1289" x2="1177.1" y2="1309" stroke="#000" stroke-width="2.2"/>
<line x1="1169.6" y1="1289" x2="1184.6" y2="1289" stroke="#000" stroke-width="2.2"/>
<line x1="1169.6" y1="1309" x2="1184.6" y2="1309" stroke="#000" stroke-width="2.2"/>
<line x1="1212.1" y1="1282.7" x2="1212.1" y2="1303.3" stroke="#000" stroke-width="2.2"/>
<line x1="1204.6" y1="1282.7" x2="1219.6" y2="1282.7" stroke="#000" stroke-width="2.2"/>
<line x1="1204.6" y1="1303.3" x2="1219.6" y2="1303.3" stroke="#000" stroke-width="2.2"/>
<line x1="1264.6" y1="1195.7" x2="1264.6" y2="1212.3" stroke="#000" stroke-width="2.2"/>
<line x1="1257.1" y1="1195.7" x2="1272.1" y2="1195.7" stroke="#000" stroke-width="2.2"/>
<line x1="1257.1" y1="1212.3" x2="1272.1" y2="1212.3" stroke="#000" stroke-width="2.2"/>
<line x1="1299.6" y1="1146" x2="1299.6" y2="1178" stroke="#000" stroke-width="2.2"/>
<line x1="1292.1" y1="1146" x2="1307.1" y2="1146" stroke="#000" stroke-width="2.2"/>
<line x1="1292.1" y1="1178" x2="1307.1" y2="1178" stroke="#000" stroke-width="2.2"/>
<line x1="1334.6" y1="1124.8" x2="1334.6" y2="1151.2" stroke="#000" stroke-width="2.2"/>
<line x1="1327.1" y1="1124.8" x2="1342.1" y2="1124.8" stroke="#000" stroke-width="2.2"/>
<line x1="1327.1" y1="1151.2" x2="1342.1" y2="1151.2" stroke="#000" stroke-width="2.2"/>
<line x1="1369.6" y1="1101" x2="1369.6" y2="1127" stroke="#000" stroke-width="2.2"/>
<line x1="1362.1" y1="1101" x2="1377.1" y2="1101" stroke="#000" stroke-width="2.2"/>
<line x1="1362.1" y1="1127" x2="1377.1" y2="1127" stroke="#000" stroke-width="2.2"/>
<line x1="1395.8" y1="1068.5" x2="1395.8" y2="1097.5" stroke="#000" stroke-width="2.2"/>
<line x1="1388.3" y1="1068.5" x2="1403.3" y2="1068.5" stroke="#000" stroke-width="2.2"/>
<line x1="1388.3" y1="1097.5" x2="1403.3" y2="1097.5" stroke="#000" stroke-width="2.2"/>
<circle cx="1142.3" cy="1307" r="8.2" fill="#000"/>
<circle cx="1177.1" cy="1299" r="8.2" fill="#000"/>
<circle cx="1212.1" cy="1293" r="8.2" fill="#000"/>
<circle cx="1264.6" cy="1204" r="8.2" fill="#000"/>
<circle cx="1299.6" cy="1162" r="8.2" fill="#000"/>
<circle cx="1334.6" cy="1138" r="8.2" fill="#000"/>
<circle cx="1369.6" cy="1114" r="8.2" fill="#000"/>
<circle cx="1395.8" cy="1083" r="8.2" fill="#000"/>
<path d="M1292 1269.6 V1277.7 H1397.3 V1269.6" fill="none" stroke="#231F20" stroke-width="2"/>
<text x="1344" y="1308.4" font-size="40" text-anchor="middle" font-weight="bold" fill="#0000FF">*</text>
<text x="1344" y="1331.6" font-size="40" text-anchor="middle" font-weight="bold" fill="#FF0000">*</text>
<line x1="1612.7" y1="1265" x2="1612.7" y2="1271" stroke="#FF0000" stroke-width="2.2"/>
<line x1="1605.2" y1="1265" x2="1620.2" y2="1265" stroke="#FF0000" stroke-width="2.2"/>
<line x1="1605.2" y1="1271" x2="1620.2" y2="1271" stroke="#FF0000" stroke-width="2.2"/>
<line x1="1647.5" y1="1237.5" x2="1647.5" y2="1264.5" stroke="#FF0000" stroke-width="2.2"/>
<line x1="1640" y1="1237.5" x2="1655" y2="1237.5" stroke="#FF0000" stroke-width="2.2"/>
<line x1="1640" y1="1264.5" x2="1655" y2="1264.5" stroke="#FF0000" stroke-width="2.2"/>
<line x1="1682.5" y1="1222.5" x2="1682.5" y2="1257.5" stroke="#FF0000" stroke-width="2.2"/>
<line x1="1675" y1="1222.5" x2="1690" y2="1222.5" stroke="#FF0000" stroke-width="2.2"/>
<line x1="1675" y1="1257.5" x2="1690" y2="1257.5" stroke="#FF0000" stroke-width="2.2"/>
<line x1="1735" y1="1182" x2="1735" y2="1232" stroke="#FF0000" stroke-width="2.2"/>
<line x1="1727.5" y1="1182" x2="1742.5" y2="1182" stroke="#FF0000" stroke-width="2.2"/>
<line x1="1727.5" y1="1232" x2="1742.5" y2="1232" stroke="#FF0000" stroke-width="2.2"/>
<line x1="1770" y1="1157.8" x2="1770" y2="1198.2" stroke="#FF0000" stroke-width="2.2"/>
<line x1="1762.5" y1="1157.8" x2="1777.5" y2="1157.8" stroke="#FF0000" stroke-width="2.2"/>
<line x1="1762.5" y1="1198.2" x2="1777.5" y2="1198.2" stroke="#FF0000" stroke-width="2.2"/>
<line x1="1805" y1="1180.7" x2="1805" y2="1224.7" stroke="#FF0000" stroke-width="2.2"/>
<line x1="1797.5" y1="1180.7" x2="1812.5" y2="1180.7" stroke="#FF0000" stroke-width="2.2"/>
<line x1="1797.5" y1="1224.7" x2="1812.5" y2="1224.7" stroke="#FF0000" stroke-width="2.2"/>
<line x1="1840" y1="1159.5" x2="1840" y2="1206.5" stroke="#FF0000" stroke-width="2.2"/>
<line x1="1832.5" y1="1159.5" x2="1847.5" y2="1159.5" stroke="#FF0000" stroke-width="2.2"/>
<line x1="1832.5" y1="1206.5" x2="1847.5" y2="1206.5" stroke="#FF0000" stroke-width="2.2"/>
<line x1="1866.2" y1="1156.4" x2="1866.2" y2="1189.6" stroke="#FF0000" stroke-width="2.2"/>
<line x1="1858.8" y1="1156.4" x2="1873.8" y2="1156.4" stroke="#FF0000" stroke-width="2.2"/>
<line x1="1858.8" y1="1189.6" x2="1873.8" y2="1189.6" stroke="#FF0000" stroke-width="2.2"/>
<polygon points="1604.2,1274.5 1621.2,1274.5 1612.7,1260" fill="#FF0000"/>
<polygon points="1639,1257.5 1656,1257.5 1647.5,1243" fill="#FF0000"/>
<polygon points="1674,1246.5 1691,1246.5 1682.5,1232" fill="#FF0000"/>
<polygon points="1726.5,1213.5 1743.5,1213.5 1735,1199" fill="#FF0000"/>
<polygon points="1761.5,1184.5 1778.5,1184.5 1770,1170" fill="#FF0000"/>
<polygon points="1796.5,1209.2 1813.5,1209.2 1805,1194.7" fill="#FF0000"/>
<polygon points="1831.5,1189.5 1848.5,1189.5 1840,1175" fill="#FF0000"/>
<polygon points="1857.8,1179.5 1874.8,1179.5 1866.2,1165" fill="#FF0000"/>
<line x1="1612.7" y1="1272" x2="1612.7" y2="1278" stroke="#0000FF" stroke-width="2.2"/>
<line x1="1605.2" y1="1272" x2="1620.2" y2="1272" stroke="#0000FF" stroke-width="2.2"/>
<line x1="1605.2" y1="1278" x2="1620.2" y2="1278" stroke="#0000FF" stroke-width="2.2"/>
<line x1="1647.5" y1="1264.9" x2="1647.5" y2="1270.9" stroke="#0000FF" stroke-width="2.2"/>
<line x1="1640" y1="1264.9" x2="1655" y2="1264.9" stroke="#0000FF" stroke-width="2.2"/>
<line x1="1640" y1="1270.9" x2="1655" y2="1270.9" stroke="#0000FF" stroke-width="2.2"/>
<line x1="1682.5" y1="1240.6" x2="1682.5" y2="1276.6" stroke="#0000FF" stroke-width="2.2"/>
<line x1="1675" y1="1240.6" x2="1690" y2="1240.6" stroke="#0000FF" stroke-width="2.2"/>
<line x1="1675" y1="1276.6" x2="1690" y2="1276.6" stroke="#0000FF" stroke-width="2.2"/>
<line x1="1735" y1="1203.5" x2="1735" y2="1256.5" stroke="#0000FF" stroke-width="2.2"/>
<line x1="1727.5" y1="1203.5" x2="1742.5" y2="1203.5" stroke="#0000FF" stroke-width="2.2"/>
<line x1="1727.5" y1="1256.5" x2="1742.5" y2="1256.5" stroke="#0000FF" stroke-width="2.2"/>
<line x1="1770" y1="1202.8" x2="1770" y2="1249.2" stroke="#0000FF" stroke-width="2.2"/>
<line x1="1762.5" y1="1202.8" x2="1777.5" y2="1202.8" stroke="#0000FF" stroke-width="2.2"/>
<line x1="1762.5" y1="1249.2" x2="1777.5" y2="1249.2" stroke="#0000FF" stroke-width="2.2"/>
<line x1="1805" y1="1209.5" x2="1805" y2="1256.5" stroke="#0000FF" stroke-width="2.2"/>
<line x1="1797.5" y1="1209.5" x2="1812.5" y2="1209.5" stroke="#0000FF" stroke-width="2.2"/>
<line x1="1797.5" y1="1256.5" x2="1812.5" y2="1256.5" stroke="#0000FF" stroke-width="2.2"/>
<line x1="1840" y1="1201.4" x2="1840" y2="1234.4" stroke="#0000FF" stroke-width="2.2"/>
<line x1="1832.5" y1="1201.4" x2="1847.5" y2="1201.4" stroke="#0000FF" stroke-width="2.2"/>
<line x1="1832.5" y1="1234.4" x2="1847.5" y2="1234.4" stroke="#0000FF" stroke-width="2.2"/>
<line x1="1866.2" y1="1183.6" x2="1866.2" y2="1213.6" stroke="#0000FF" stroke-width="2.2"/>
<line x1="1858.8" y1="1183.6" x2="1873.8" y2="1183.6" stroke="#0000FF" stroke-width="2.2"/>
<line x1="1858.8" y1="1213.6" x2="1873.8" y2="1213.6" stroke="#0000FF" stroke-width="2.2"/>
<rect x="1604.7" y="1267" width="16" height="16" fill="#0000FF"/>
<rect x="1639.5" y="1259.9" width="16" height="16" fill="#0000FF"/>
<rect x="1674.5" y="1250.6" width="16" height="16" fill="#0000FF"/>
<rect x="1727" y="1222" width="16" height="16" fill="#0000FF"/>
<rect x="1762" y="1218" width="16" height="16" fill="#0000FF"/>
<rect x="1797" y="1225" width="16" height="16" fill="#0000FF"/>
<rect x="1832" y="1209.9" width="16" height="16" fill="#0000FF"/>
<rect x="1858.2" y="1190.6" width="16" height="16" fill="#0000FF"/>
<line x1="1612.7" y1="1203.1" x2="1612.7" y2="1250.5" stroke="#000" stroke-width="2.2"/>
<line x1="1605.2" y1="1203.1" x2="1620.2" y2="1203.1" stroke="#000" stroke-width="2.2"/>
<line x1="1605.2" y1="1250.5" x2="1620.2" y2="1250.5" stroke="#000" stroke-width="2.2"/>
<line x1="1647.5" y1="1181.8" x2="1647.5" y2="1221" stroke="#000" stroke-width="2.2"/>
<line x1="1640" y1="1181.8" x2="1655" y2="1181.8" stroke="#000" stroke-width="2.2"/>
<line x1="1640" y1="1221" x2="1655" y2="1221" stroke="#000" stroke-width="2.2"/>
<line x1="1682.5" y1="1167.2" x2="1682.5" y2="1208.8" stroke="#000" stroke-width="2.2"/>
<line x1="1675" y1="1167.2" x2="1690" y2="1167.2" stroke="#000" stroke-width="2.2"/>
<line x1="1675" y1="1208.8" x2="1690" y2="1208.8" stroke="#000" stroke-width="2.2"/>
<line x1="1735" y1="1156" x2="1735" y2="1220" stroke="#000" stroke-width="2.2"/>
<line x1="1727.5" y1="1156" x2="1742.5" y2="1156" stroke="#000" stroke-width="2.2"/>
<line x1="1727.5" y1="1220" x2="1742.5" y2="1220" stroke="#000" stroke-width="2.2"/>
<line x1="1770" y1="1099" x2="1770" y2="1157" stroke="#000" stroke-width="2.2"/>
<line x1="1762.5" y1="1099" x2="1777.5" y2="1099" stroke="#000" stroke-width="2.2"/>
<line x1="1762.5" y1="1157" x2="1777.5" y2="1157" stroke="#000" stroke-width="2.2"/>
<line x1="1805" y1="1083.7" x2="1805" y2="1135.3" stroke="#000" stroke-width="2.2"/>
<line x1="1797.5" y1="1083.7" x2="1812.5" y2="1083.7" stroke="#000" stroke-width="2.2"/>
<line x1="1797.5" y1="1135.3" x2="1812.5" y2="1135.3" stroke="#000" stroke-width="2.2"/>
<line x1="1840" y1="1063.8" x2="1840" y2="1123" stroke="#000" stroke-width="2.2"/>
<line x1="1832.5" y1="1063.8" x2="1847.5" y2="1063.8" stroke="#000" stroke-width="2.2"/>
<line x1="1832.5" y1="1123" x2="1847.5" y2="1123" stroke="#000" stroke-width="2.2"/>
<line x1="1866.2" y1="1044.3" x2="1866.2" y2="1101.7" stroke="#000" stroke-width="2.2"/>
<line x1="1858.8" y1="1044.3" x2="1873.8" y2="1044.3" stroke="#000" stroke-width="2.2"/>
<line x1="1858.8" y1="1101.7" x2="1873.8" y2="1101.7" stroke="#000" stroke-width="2.2"/>
<circle cx="1612.7" cy="1226.8" r="8.2" fill="#000"/>
<circle cx="1647.5" cy="1201.4" r="8.2" fill="#000"/>
<circle cx="1682.5" cy="1188" r="8.2" fill="#000"/>
<circle cx="1735" cy="1188" r="8.2" fill="#000"/>
<circle cx="1770" cy="1128" r="8.2" fill="#000"/>
<circle cx="1805" cy="1109.5" r="8.2" fill="#000"/>
<circle cx="1840" cy="1093.4" r="8.2" fill="#000"/>
<circle cx="1866.2" cy="1073" r="8.2" fill="#000"/>
<path d="M1798 1261.6 V1270.5 H1886.4 V1261.6" fill="none" stroke="#231F20" stroke-width="2"/>
<text x="1842.3" y="1301" font-size="40" text-anchor="middle" font-weight="bold" fill="#0000FF">*</text>
<text x="1842.3" y="1323.6" font-size="40" text-anchor="middle" font-weight="bold" fill="#FF0000">*</text>
<line x1="1085.5" y1="1431" x2="1085.5" y2="1785" stroke="#000" stroke-width="2.2"/>
<line x1="1081" y1="1784" x2="1085.5" y2="1784" stroke="#000" stroke-width="1.8"/>
<text x="1076.5" y="1797" font-size="30" text-anchor="end">0</text>
<line x1="1081" y1="1608" x2="1085.5" y2="1608" stroke="#000" stroke-width="1.8"/>
<text x="1076.5" y="1621" font-size="30" text-anchor="end">125</text>
<line x1="1081" y1="1432" x2="1085.5" y2="1432" stroke="#000" stroke-width="1.8"/>
<text x="1076.5" y="1448" font-size="30" text-anchor="end">250</text>
<line x1="1084.5" y1="1784" x2="1436.5" y2="1784" stroke="#000" stroke-width="2.2"/>
<line x1="1085.5" y1="1784" x2="1085.5" y2="1789.5" stroke="#000" stroke-width="2"/>
<line x1="1111.8" y1="1784" x2="1111.8" y2="1787.2" stroke="#000" stroke-width="1.5"/>
<line x1="1127.2" y1="1784" x2="1127.2" y2="1787.2" stroke="#000" stroke-width="1.5"/>
<line x1="1138.2" y1="1784" x2="1138.2" y2="1787.2" stroke="#000" stroke-width="1.5"/>
<line x1="1146.7" y1="1784" x2="1146.7" y2="1787.2" stroke="#000" stroke-width="1.5"/>
<line x1="1153.6" y1="1784" x2="1153.6" y2="1787.2" stroke="#000" stroke-width="1.5"/>
<line x1="1159.4" y1="1784" x2="1159.4" y2="1787.2" stroke="#000" stroke-width="1.5"/>
<line x1="1164.5" y1="1784" x2="1164.5" y2="1787.2" stroke="#000" stroke-width="1.5"/>
<line x1="1169" y1="1784" x2="1169" y2="1787.2" stroke="#000" stroke-width="1.5"/>
<line x1="1173" y1="1784" x2="1173" y2="1789.5" stroke="#000" stroke-width="2"/>
<line x1="1199.3" y1="1784" x2="1199.3" y2="1787.2" stroke="#000" stroke-width="1.5"/>
<line x1="1214.7" y1="1784" x2="1214.7" y2="1787.2" stroke="#000" stroke-width="1.5"/>
<line x1="1225.7" y1="1784" x2="1225.7" y2="1787.2" stroke="#000" stroke-width="1.5"/>
<line x1="1234.2" y1="1784" x2="1234.2" y2="1787.2" stroke="#000" stroke-width="1.5"/>
<line x1="1241.1" y1="1784" x2="1241.1" y2="1787.2" stroke="#000" stroke-width="1.5"/>
<line x1="1246.9" y1="1784" x2="1246.9" y2="1787.2" stroke="#000" stroke-width="1.5"/>
<line x1="1252" y1="1784" x2="1252" y2="1787.2" stroke="#000" stroke-width="1.5"/>
<line x1="1256.5" y1="1784" x2="1256.5" y2="1787.2" stroke="#000" stroke-width="1.5"/>
<line x1="1260.5" y1="1784" x2="1260.5" y2="1789.5" stroke="#000" stroke-width="2"/>
<line x1="1286.8" y1="1784" x2="1286.8" y2="1787.2" stroke="#000" stroke-width="1.5"/>
<line x1="1302.2" y1="1784" x2="1302.2" y2="1787.2" stroke="#000" stroke-width="1.5"/>
<line x1="1313.2" y1="1784" x2="1313.2" y2="1787.2" stroke="#000" stroke-width="1.5"/>
<line x1="1321.7" y1="1784" x2="1321.7" y2="1787.2" stroke="#000" stroke-width="1.5"/>
<line x1="1328.6" y1="1784" x2="1328.6" y2="1787.2" stroke="#000" stroke-width="1.5"/>
<line x1="1334.4" y1="1784" x2="1334.4" y2="1787.2" stroke="#000" stroke-width="1.5"/>
<line x1="1339.5" y1="1784" x2="1339.5" y2="1787.2" stroke="#000" stroke-width="1.5"/>
<line x1="1344" y1="1784" x2="1344" y2="1787.2" stroke="#000" stroke-width="1.5"/>
<line x1="1348" y1="1784" x2="1348" y2="1789.5" stroke="#000" stroke-width="2"/>
<line x1="1374.3" y1="1784" x2="1374.3" y2="1787.2" stroke="#000" stroke-width="1.5"/>
<line x1="1389.7" y1="1784" x2="1389.7" y2="1787.2" stroke="#000" stroke-width="1.5"/>
<line x1="1400.7" y1="1784" x2="1400.7" y2="1787.2" stroke="#000" stroke-width="1.5"/>
<line x1="1409.2" y1="1784" x2="1409.2" y2="1787.2" stroke="#000" stroke-width="1.5"/>
<line x1="1416.1" y1="1784" x2="1416.1" y2="1787.2" stroke="#000" stroke-width="1.5"/>
<line x1="1421.9" y1="1784" x2="1421.9" y2="1787.2" stroke="#000" stroke-width="1.5"/>
<line x1="1427" y1="1784" x2="1427" y2="1787.2" stroke="#000" stroke-width="1.5"/>
<line x1="1431.5" y1="1784" x2="1431.5" y2="1787.2" stroke="#000" stroke-width="1.5"/>
<line x1="1435.5" y1="1784" x2="1435.5" y2="1789.5" stroke="#000" stroke-width="2"/>
<line x1="1558" y1="1431.5" x2="1558" y2="1784" stroke="#000" stroke-width="2.2"/>
<line x1="1553.5" y1="1783" x2="1558" y2="1783" stroke="#000" stroke-width="1.8"/>
<text x="1549" y="1796" font-size="30" text-anchor="end">0</text>
<line x1="1553.5" y1="1607.8" x2="1558" y2="1607.8" stroke="#000" stroke-width="1.8"/>
<text x="1549" y="1620.8" font-size="30" text-anchor="end">250</text>
<line x1="1553.5" y1="1432.5" x2="1558" y2="1432.5" stroke="#000" stroke-width="1.8"/>
<text x="1549" y="1448.5" font-size="30" text-anchor="end">500</text>
<line x1="1557" y1="1783" x2="1909" y2="1783" stroke="#000" stroke-width="2.2"/>
<line x1="1558" y1="1783" x2="1558" y2="1788.5" stroke="#000" stroke-width="2"/>
<line x1="1584.3" y1="1783" x2="1584.3" y2="1786.2" stroke="#000" stroke-width="1.5"/>
<line x1="1599.7" y1="1783" x2="1599.7" y2="1786.2" stroke="#000" stroke-width="1.5"/>
<line x1="1610.7" y1="1783" x2="1610.7" y2="1786.2" stroke="#000" stroke-width="1.5"/>
<line x1="1619.2" y1="1783" x2="1619.2" y2="1786.2" stroke="#000" stroke-width="1.5"/>
<line x1="1626.1" y1="1783" x2="1626.1" y2="1786.2" stroke="#000" stroke-width="1.5"/>
<line x1="1631.9" y1="1783" x2="1631.9" y2="1786.2" stroke="#000" stroke-width="1.5"/>
<line x1="1637" y1="1783" x2="1637" y2="1786.2" stroke="#000" stroke-width="1.5"/>
<line x1="1641.5" y1="1783" x2="1641.5" y2="1786.2" stroke="#000" stroke-width="1.5"/>
<line x1="1645.5" y1="1783" x2="1645.5" y2="1788.5" stroke="#000" stroke-width="2"/>
<line x1="1671.8" y1="1783" x2="1671.8" y2="1786.2" stroke="#000" stroke-width="1.5"/>
<line x1="1687.2" y1="1783" x2="1687.2" y2="1786.2" stroke="#000" stroke-width="1.5"/>
<line x1="1698.2" y1="1783" x2="1698.2" y2="1786.2" stroke="#000" stroke-width="1.5"/>
<line x1="1706.7" y1="1783" x2="1706.7" y2="1786.2" stroke="#000" stroke-width="1.5"/>
<line x1="1713.6" y1="1783" x2="1713.6" y2="1786.2" stroke="#000" stroke-width="1.5"/>
<line x1="1719.4" y1="1783" x2="1719.4" y2="1786.2" stroke="#000" stroke-width="1.5"/>
<line x1="1724.5" y1="1783" x2="1724.5" y2="1786.2" stroke="#000" stroke-width="1.5"/>
<line x1="1729" y1="1783" x2="1729" y2="1786.2" stroke="#000" stroke-width="1.5"/>
<line x1="1733" y1="1783" x2="1733" y2="1788.5" stroke="#000" stroke-width="2"/>
<line x1="1759.3" y1="1783" x2="1759.3" y2="1786.2" stroke="#000" stroke-width="1.5"/>
<line x1="1774.7" y1="1783" x2="1774.7" y2="1786.2" stroke="#000" stroke-width="1.5"/>
<line x1="1785.7" y1="1783" x2="1785.7" y2="1786.2" stroke="#000" stroke-width="1.5"/>
<line x1="1794.2" y1="1783" x2="1794.2" y2="1786.2" stroke="#000" stroke-width="1.5"/>
<line x1="1801.1" y1="1783" x2="1801.1" y2="1786.2" stroke="#000" stroke-width="1.5"/>
<line x1="1806.9" y1="1783" x2="1806.9" y2="1786.2" stroke="#000" stroke-width="1.5"/>
<line x1="1812" y1="1783" x2="1812" y2="1786.2" stroke="#000" stroke-width="1.5"/>
<line x1="1816.5" y1="1783" x2="1816.5" y2="1786.2" stroke="#000" stroke-width="1.5"/>
<line x1="1820.5" y1="1783" x2="1820.5" y2="1788.5" stroke="#000" stroke-width="2"/>
<line x1="1846.8" y1="1783" x2="1846.8" y2="1786.2" stroke="#000" stroke-width="1.5"/>
<line x1="1862.2" y1="1783" x2="1862.2" y2="1786.2" stroke="#000" stroke-width="1.5"/>
<line x1="1873.2" y1="1783" x2="1873.2" y2="1786.2" stroke="#000" stroke-width="1.5"/>
<line x1="1881.7" y1="1783" x2="1881.7" y2="1786.2" stroke="#000" stroke-width="1.5"/>
<line x1="1888.6" y1="1783" x2="1888.6" y2="1786.2" stroke="#000" stroke-width="1.5"/>
<line x1="1894.4" y1="1783" x2="1894.4" y2="1786.2" stroke="#000" stroke-width="1.5"/>
<line x1="1899.5" y1="1783" x2="1899.5" y2="1786.2" stroke="#000" stroke-width="1.5"/>
<line x1="1904" y1="1783" x2="1904" y2="1786.2" stroke="#000" stroke-width="1.5"/>
<line x1="1908" y1="1783" x2="1908" y2="1788.5" stroke="#000" stroke-width="2"/>
<text x="1112" y="1475.5" font-size="32">n=5</text>
<text x="1112" y="1515.7" font-size="32" fill="#0000FF">n=5</text>
<text x="1112" y="1556.9" font-size="32" fill="#FF0000">n=5</text>
<line x1="1138.2" y1="1752.4" x2="1138.2" y2="1770.4" stroke="#FF0000" stroke-width="2.2"/>
<line x1="1130.7" y1="1752.4" x2="1145.7" y2="1752.4" stroke="#FF0000" stroke-width="2.2"/>
<line x1="1130.7" y1="1770.4" x2="1145.7" y2="1770.4" stroke="#FF0000" stroke-width="2.2"/>
<line x1="1208" y1="1694.5" x2="1208" y2="1771.5" stroke="#FF0000" stroke-width="2.2"/>
<line x1="1200.5" y1="1694.5" x2="1215.5" y2="1694.5" stroke="#FF0000" stroke-width="2.2"/>
<line x1="1200.5" y1="1771.5" x2="1215.5" y2="1771.5" stroke="#FF0000" stroke-width="2.2"/>
<line x1="1260.5" y1="1684" x2="1260.5" y2="1714" stroke="#FF0000" stroke-width="2.2"/>
<line x1="1253" y1="1684" x2="1268" y2="1684" stroke="#FF0000" stroke-width="2.2"/>
<line x1="1253" y1="1714" x2="1268" y2="1714" stroke="#FF0000" stroke-width="2.2"/>
<line x1="1295.5" y1="1623.7" x2="1295.5" y2="1661.7" stroke="#FF0000" stroke-width="2.2"/>
<line x1="1288" y1="1623.7" x2="1303" y2="1623.7" stroke="#FF0000" stroke-width="2.2"/>
<line x1="1288" y1="1661.7" x2="1303" y2="1661.7" stroke="#FF0000" stroke-width="2.2"/>
<line x1="1330.5" y1="1614" x2="1330.5" y2="1662" stroke="#FF0000" stroke-width="2.2"/>
<line x1="1323" y1="1614" x2="1338" y2="1614" stroke="#FF0000" stroke-width="2.2"/>
<line x1="1323" y1="1662" x2="1338" y2="1662" stroke="#FF0000" stroke-width="2.2"/>
<line x1="1365.5" y1="1600.6" x2="1365.5" y2="1649.4" stroke="#FF0000" stroke-width="2.2"/>
<line x1="1358" y1="1600.6" x2="1373" y2="1600.6" stroke="#FF0000" stroke-width="2.2"/>
<line x1="1358" y1="1649.4" x2="1373" y2="1649.4" stroke="#FF0000" stroke-width="2.2"/>
<line x1="1391.8" y1="1578" x2="1391.8" y2="1618" stroke="#FF0000" stroke-width="2.2"/>
<line x1="1384.2" y1="1578" x2="1399.2" y2="1578" stroke="#FF0000" stroke-width="2.2"/>
<line x1="1384.2" y1="1618" x2="1399.2" y2="1618" stroke="#FF0000" stroke-width="2.2"/>
<polygon points="1129.7,1767.9 1146.7,1767.9 1138.2,1753.4" fill="#FF0000"/>
<polygon points="1164.5,1767 1181.5,1767 1173,1752.5" fill="#FF0000"/>
<polygon points="1199.5,1739.5 1216.5,1739.5 1208,1725" fill="#FF0000"/>
<polygon points="1252,1705.5 1269,1705.5 1260.5,1691" fill="#FF0000"/>
<polygon points="1287,1649.2 1304,1649.2 1295.5,1634.7" fill="#FF0000"/>
<polygon points="1322,1644.5 1339,1644.5 1330.5,1630" fill="#FF0000"/>
<polygon points="1357,1631.5 1374,1631.5 1365.5,1617" fill="#FF0000"/>
<polygon points="1383.2,1604.5 1400.2,1604.5 1391.8,1590" fill="#FF0000"/>
<line x1="1173" y1="1736.5" x2="1173" y2="1752.5" stroke="#0000FF" stroke-width="2.2"/>
<line x1="1165.5" y1="1736.5" x2="1180.5" y2="1736.5" stroke="#0000FF" stroke-width="2.2"/>
<line x1="1165.5" y1="1752.5" x2="1180.5" y2="1752.5" stroke="#0000FF" stroke-width="2.2"/>
<line x1="1260.5" y1="1695" x2="1260.5" y2="1727" stroke="#0000FF" stroke-width="2.2"/>
<line x1="1253" y1="1695" x2="1268" y2="1695" stroke="#0000FF" stroke-width="2.2"/>
<line x1="1253" y1="1727" x2="1268" y2="1727" stroke="#0000FF" stroke-width="2.2"/>
<line x1="1295.5" y1="1667" x2="1295.5" y2="1701" stroke="#0000FF" stroke-width="2.2"/>
<line x1="1288" y1="1667" x2="1303" y2="1667" stroke="#0000FF" stroke-width="2.2"/>
<line x1="1288" y1="1701" x2="1303" y2="1701" stroke="#0000FF" stroke-width="2.2"/>
<line x1="1330.5" y1="1650.9" x2="1330.5" y2="1688.1" stroke="#0000FF" stroke-width="2.2"/>
<line x1="1323" y1="1650.9" x2="1338" y2="1650.9" stroke="#0000FF" stroke-width="2.2"/>
<line x1="1323" y1="1688.1" x2="1338" y2="1688.1" stroke="#0000FF" stroke-width="2.2"/>
<line x1="1365.5" y1="1610.9" x2="1365.5" y2="1644.9" stroke="#0000FF" stroke-width="2.2"/>
<line x1="1358" y1="1610.9" x2="1373" y2="1610.9" stroke="#0000FF" stroke-width="2.2"/>
<line x1="1358" y1="1644.9" x2="1373" y2="1644.9" stroke="#0000FF" stroke-width="2.2"/>
<line x1="1391.8" y1="1590.7" x2="1391.8" y2="1628.5" stroke="#0000FF" stroke-width="2.2"/>
<line x1="1384.2" y1="1590.7" x2="1399.2" y2="1590.7" stroke="#0000FF" stroke-width="2.2"/>
<line x1="1384.2" y1="1628.5" x2="1399.2" y2="1628.5" stroke="#0000FF" stroke-width="2.2"/>
<rect x="1130.2" y="1764" width="16" height="16" fill="#0000FF"/>
<rect x="1165" y="1736.5" width="16" height="16" fill="#0000FF"/>
<rect x="1200" y="1752.5" width="16" height="16" fill="#0000FF"/>
<rect x="1252.5" y="1703" width="16" height="16" fill="#0000FF"/>
<rect x="1287.5" y="1676" width="16" height="16" fill="#0000FF"/>
<rect x="1322.5" y="1661.5" width="16" height="16" fill="#0000FF"/>
<rect x="1357.5" y="1619.9" width="16" height="16" fill="#0000FF"/>
<rect x="1383.8" y="1601.6" width="16" height="16" fill="#0000FF"/>
<line x1="1173" y1="1735.8" x2="1173" y2="1755" stroke="#000" stroke-width="2.2"/>
<line x1="1165.5" y1="1735.8" x2="1180.5" y2="1735.8" stroke="#000" stroke-width="2.2"/>
<line x1="1165.5" y1="1755" x2="1180.5" y2="1755" stroke="#000" stroke-width="2.2"/>
<line x1="1208" y1="1713.9" x2="1208" y2="1737.5" stroke="#000" stroke-width="2.2"/>
<line x1="1200.5" y1="1713.9" x2="1215.5" y2="1713.9" stroke="#000" stroke-width="2.2"/>
<line x1="1200.5" y1="1737.5" x2="1215.5" y2="1737.5" stroke="#000" stroke-width="2.2"/>
<line x1="1260.5" y1="1648.4" x2="1260.5" y2="1677.6" stroke="#000" stroke-width="2.2"/>
<line x1="1253" y1="1648.4" x2="1268" y2="1648.4" stroke="#000" stroke-width="2.2"/>
<line x1="1253" y1="1677.6" x2="1268" y2="1677.6" stroke="#000" stroke-width="2.2"/>
<line x1="1295.5" y1="1558" x2="1295.5" y2="1584" stroke="#000" stroke-width="2.2"/>
<line x1="1288" y1="1558" x2="1303" y2="1558" stroke="#000" stroke-width="2.2"/>
<line x1="1288" y1="1584" x2="1303" y2="1584" stroke="#000" stroke-width="2.2"/>
<line x1="1330.5" y1="1566" x2="1330.5" y2="1588" stroke="#000" stroke-width="2.2"/>
<line x1="1323" y1="1566" x2="1338" y2="1566" stroke="#000" stroke-width="2.2"/>
<line x1="1323" y1="1588" x2="1338" y2="1588" stroke="#000" stroke-width="2.2"/>
<line x1="1365.5" y1="1525.3" x2="1365.5" y2="1548.3" stroke="#000" stroke-width="2.2"/>
<line x1="1358" y1="1525.3" x2="1373" y2="1525.3" stroke="#000" stroke-width="2.2"/>
<line x1="1358" y1="1548.3" x2="1373" y2="1548.3" stroke="#000" stroke-width="2.2"/>
<line x1="1391.8" y1="1496.8" x2="1391.8" y2="1520.8" stroke="#000" stroke-width="2.2"/>
<line x1="1384.2" y1="1496.8" x2="1399.2" y2="1496.8" stroke="#000" stroke-width="2.2"/>
<line x1="1384.2" y1="1520.8" x2="1399.2" y2="1520.8" stroke="#000" stroke-width="2.2"/>
<circle cx="1138.2" cy="1769" r="8.2" fill="#000"/>
<circle cx="1173" cy="1745.4" r="8.2" fill="#000"/>
<circle cx="1208" cy="1725.7" r="8.2" fill="#000"/>
<circle cx="1260.5" cy="1663" r="8.2" fill="#000"/>
<circle cx="1295.5" cy="1571" r="8.2" fill="#000"/>
<circle cx="1330.5" cy="1577" r="8.2" fill="#000"/>
<circle cx="1365.5" cy="1536.8" r="8.2" fill="#000"/>
<circle cx="1391.8" cy="1508.8" r="8.2" fill="#000"/>
<path d="M1295 1725.4 V1733.8 H1400.4 V1725.4" fill="none" stroke="#231F20" stroke-width="2"/>
<text x="1347.7" y="1765.4" font-size="40" text-anchor="middle" font-weight="bold" fill="#0000FF">*</text>
<text x="1347.7" y="1788.6" font-size="40" text-anchor="middle" font-weight="bold" fill="#FF0000">*</text>
<line x1="1610.7" y1="1694.3" x2="1610.7" y2="1717.7" stroke="#FF0000" stroke-width="2.2"/>
<line x1="1603.2" y1="1694.3" x2="1618.2" y2="1694.3" stroke="#FF0000" stroke-width="2.2"/>
<line x1="1603.2" y1="1717.7" x2="1618.2" y2="1717.7" stroke="#FF0000" stroke-width="2.2"/>
<line x1="1645.5" y1="1677.8" x2="1645.5" y2="1705.8" stroke="#FF0000" stroke-width="2.2"/>
<line x1="1638" y1="1677.8" x2="1653" y2="1677.8" stroke="#FF0000" stroke-width="2.2"/>
<line x1="1638" y1="1705.8" x2="1653" y2="1705.8" stroke="#FF0000" stroke-width="2.2"/>
<line x1="1680.5" y1="1673" x2="1680.5" y2="1685" stroke="#FF0000" stroke-width="2.2"/>
<line x1="1673" y1="1673" x2="1688" y2="1673" stroke="#FF0000" stroke-width="2.2"/>
<line x1="1673" y1="1685" x2="1688" y2="1685" stroke="#FF0000" stroke-width="2.2"/>
<line x1="1733" y1="1627.8" x2="1733" y2="1655.8" stroke="#FF0000" stroke-width="2.2"/>
<line x1="1725.5" y1="1627.8" x2="1740.5" y2="1627.8" stroke="#FF0000" stroke-width="2.2"/>
<line x1="1725.5" y1="1655.8" x2="1740.5" y2="1655.8" stroke="#FF0000" stroke-width="2.2"/>
<line x1="1768" y1="1621.6" x2="1768" y2="1647.6" stroke="#FF0000" stroke-width="2.2"/>
<line x1="1760.5" y1="1621.6" x2="1775.5" y2="1621.6" stroke="#FF0000" stroke-width="2.2"/>
<line x1="1760.5" y1="1647.6" x2="1775.5" y2="1647.6" stroke="#FF0000" stroke-width="2.2"/>
<line x1="1803" y1="1638.5" x2="1803" y2="1662.9" stroke="#FF0000" stroke-width="2.2"/>
<line x1="1795.5" y1="1638.5" x2="1810.5" y2="1638.5" stroke="#FF0000" stroke-width="2.2"/>
<line x1="1795.5" y1="1662.9" x2="1810.5" y2="1662.9" stroke="#FF0000" stroke-width="2.2"/>
<line x1="1838" y1="1626" x2="1838" y2="1650" stroke="#FF0000" stroke-width="2.2"/>
<line x1="1830.5" y1="1626" x2="1845.5" y2="1626" stroke="#FF0000" stroke-width="2.2"/>
<line x1="1830.5" y1="1650" x2="1845.5" y2="1650" stroke="#FF0000" stroke-width="2.2"/>
<line x1="1864.2" y1="1618" x2="1864.2" y2="1644" stroke="#FF0000" stroke-width="2.2"/>
<line x1="1856.8" y1="1618" x2="1871.8" y2="1618" stroke="#FF0000" stroke-width="2.2"/>
<line x1="1856.8" y1="1644" x2="1871.8" y2="1644" stroke="#FF0000" stroke-width="2.2"/>
<polygon points="1602.2,1712.5 1619.2,1712.5 1610.7,1698" fill="#FF0000"/>
<polygon points="1637,1698.3 1654,1698.3 1645.5,1683.8" fill="#FF0000"/>
<polygon points="1672,1685.5 1689,1685.5 1680.5,1671" fill="#FF0000"/>
<polygon points="1724.5,1648.3 1741.5,1648.3 1733,1633.8" fill="#FF0000"/>
<polygon points="1759.5,1641.1 1776.5,1641.1 1768,1626.6" fill="#FF0000"/>
<polygon points="1794.5,1657.2 1811.5,1657.2 1803,1642.7" fill="#FF0000"/>
<polygon points="1829.5,1644.5 1846.5,1644.5 1838,1630" fill="#FF0000"/>
<polygon points="1855.8,1637.5 1872.8,1637.5 1864.2,1623" fill="#FF0000"/>
<line x1="1610.7" y1="1688" x2="1610.7" y2="1722" stroke="#0000FF" stroke-width="2.2"/>
<line x1="1603.2" y1="1688" x2="1618.2" y2="1688" stroke="#0000FF" stroke-width="2.2"/>
<line x1="1603.2" y1="1722" x2="1618.2" y2="1722" stroke="#0000FF" stroke-width="2.2"/>
<line x1="1645.5" y1="1688.1" x2="1645.5" y2="1713.3" stroke="#0000FF" stroke-width="2.2"/>
<line x1="1638" y1="1688.1" x2="1653" y2="1688.1" stroke="#0000FF" stroke-width="2.2"/>
<line x1="1638" y1="1713.3" x2="1653" y2="1713.3" stroke="#0000FF" stroke-width="2.2"/>
<line x1="1680.5" y1="1673.8" x2="1680.5" y2="1709.8" stroke="#0000FF" stroke-width="2.2"/>
<line x1="1673" y1="1673.8" x2="1688" y2="1673.8" stroke="#0000FF" stroke-width="2.2"/>
<line x1="1673" y1="1709.8" x2="1688" y2="1709.8" stroke="#0000FF" stroke-width="2.2"/>
<line x1="1733" y1="1639.4" x2="1733" y2="1673.4" stroke="#0000FF" stroke-width="2.2"/>
<line x1="1725.5" y1="1639.4" x2="1740.5" y2="1639.4" stroke="#0000FF" stroke-width="2.2"/>
<line x1="1725.5" y1="1673.4" x2="1740.5" y2="1673.4" stroke="#0000FF" stroke-width="2.2"/>
<line x1="1768" y1="1636" x2="1768" y2="1663" stroke="#0000FF" stroke-width="2.2"/>
<line x1="1760.5" y1="1636" x2="1775.5" y2="1636" stroke="#0000FF" stroke-width="2.2"/>
<line x1="1760.5" y1="1663" x2="1775.5" y2="1663" stroke="#0000FF" stroke-width="2.2"/>
<line x1="1803" y1="1622.6" x2="1803" y2="1646.6" stroke="#0000FF" stroke-width="2.2"/>
<line x1="1795.5" y1="1622.6" x2="1810.5" y2="1622.6" stroke="#0000FF" stroke-width="2.2"/>
<line x1="1795.5" y1="1646.6" x2="1810.5" y2="1646.6" stroke="#0000FF" stroke-width="2.2"/>
<line x1="1838" y1="1600.8" x2="1838" y2="1632.8" stroke="#0000FF" stroke-width="2.2"/>
<line x1="1830.5" y1="1600.8" x2="1845.5" y2="1600.8" stroke="#0000FF" stroke-width="2.2"/>
<line x1="1830.5" y1="1632.8" x2="1845.5" y2="1632.8" stroke="#0000FF" stroke-width="2.2"/>
<line x1="1864.2" y1="1608.8" x2="1864.2" y2="1634.8" stroke="#0000FF" stroke-width="2.2"/>
<line x1="1856.8" y1="1608.8" x2="1871.8" y2="1608.8" stroke="#0000FF" stroke-width="2.2"/>
<line x1="1856.8" y1="1634.8" x2="1871.8" y2="1634.8" stroke="#0000FF" stroke-width="2.2"/>
<rect x="1602.7" y="1697" width="16" height="16" fill="#0000FF"/>
<rect x="1637.5" y="1692.7" width="16" height="16" fill="#0000FF"/>
<rect x="1672.5" y="1683.8" width="16" height="16" fill="#0000FF"/>
<rect x="1725" y="1648.4" width="16" height="16" fill="#0000FF"/>
<rect x="1760" y="1641.5" width="16" height="16" fill="#0000FF"/>
<rect x="1795" y="1626.6" width="16" height="16" fill="#0000FF"/>
<rect x="1830" y="1608.8" width="16" height="16" fill="#0000FF"/>
<rect x="1856.2" y="1613.8" width="16" height="16" fill="#0000FF"/>
<line x1="1610.7" y1="1671.5" x2="1610.7" y2="1711" stroke="#000" stroke-width="2.2"/>
<line x1="1603.2" y1="1671.5" x2="1618.2" y2="1671.5" stroke="#000" stroke-width="2.2"/>
<line x1="1603.2" y1="1711" x2="1618.2" y2="1711" stroke="#000" stroke-width="2.2"/>
<line x1="1645.5" y1="1626" x2="1645.5" y2="1670" stroke="#000" stroke-width="2.2"/>
<line x1="1638" y1="1626" x2="1653" y2="1626" stroke="#000" stroke-width="2.2"/>
<line x1="1638" y1="1670" x2="1653" y2="1670" stroke="#000" stroke-width="2.2"/>
<line x1="1680.5" y1="1631" x2="1680.5" y2="1659" stroke="#000" stroke-width="2.2"/>
<line x1="1673" y1="1631" x2="1688" y2="1631" stroke="#000" stroke-width="2.2"/>
<line x1="1673" y1="1659" x2="1688" y2="1659" stroke="#000" stroke-width="2.2"/>
<line x1="1733" y1="1561.5" x2="1733" y2="1624.5" stroke="#000" stroke-width="2.2"/>
<line x1="1725.5" y1="1561.5" x2="1740.5" y2="1561.5" stroke="#000" stroke-width="2.2"/>
<line x1="1725.5" y1="1624.5" x2="1740.5" y2="1624.5" stroke="#000" stroke-width="2.2"/>
<line x1="1768" y1="1543.8" x2="1768" y2="1601.2" stroke="#000" stroke-width="2.2"/>
<line x1="1760.5" y1="1543.8" x2="1775.5" y2="1543.8" stroke="#000" stroke-width="2.2"/>
<line x1="1760.5" y1="1601.2" x2="1775.5" y2="1601.2" stroke="#000" stroke-width="2.2"/>
<line x1="1803" y1="1535.1" x2="1803" y2="1584.1" stroke="#000" stroke-width="2.2"/>
<line x1="1795.5" y1="1535.1" x2="1810.5" y2="1535.1" stroke="#000" stroke-width="2.2"/>
<line x1="1795.5" y1="1584.1" x2="1810.5" y2="1584.1" stroke="#000" stroke-width="2.2"/>
<line x1="1838" y1="1507.1" x2="1838" y2="1562.1" stroke="#000" stroke-width="2.2"/>
<line x1="1830.5" y1="1507.1" x2="1845.5" y2="1507.1" stroke="#000" stroke-width="2.2"/>
<line x1="1830.5" y1="1562.1" x2="1845.5" y2="1562.1" stroke="#000" stroke-width="2.2"/>
<line x1="1864.2" y1="1480.9" x2="1864.2" y2="1544.9" stroke="#000" stroke-width="2.2"/>
<line x1="1856.8" y1="1480.9" x2="1871.8" y2="1480.9" stroke="#000" stroke-width="2.2"/>
<line x1="1856.8" y1="1544.9" x2="1871.8" y2="1544.9" stroke="#000" stroke-width="2.2"/>
<circle cx="1610.7" cy="1691.2" r="8.2" fill="#000"/>
<circle cx="1645.5" cy="1648" r="8.2" fill="#000"/>
<circle cx="1680.5" cy="1645" r="8.2" fill="#000"/>
<circle cx="1733" cy="1593" r="8.2" fill="#000"/>
<circle cx="1768" cy="1572.5" r="8.2" fill="#000"/>
<circle cx="1803" cy="1559.6" r="8.2" fill="#000"/>
<circle cx="1838" cy="1534.6" r="8.2" fill="#000"/>
<circle cx="1864.2" cy="1512.9" r="8.2" fill="#000"/>
<path d="M1769 1718.6 V1727 H1874.3 V1718.6" fill="none" stroke="#231F20" stroke-width="2"/>
<text x="1820.9" y="1757.3" font-size="40" text-anchor="middle" font-weight="bold" fill="#0000FF">*</text>
<text x="1820.9" y="1780.5" font-size="40" text-anchor="middle" font-weight="bold" fill="#FF0000">*</text>
<text transform="translate(1077,1825) scale(0.94,1)" font-size="30" text-anchor="middle">0.001</text>
<text transform="translate(1173.3,1825) scale(0.94,1)" font-size="30" text-anchor="middle">0.01</text>
<text transform="translate(1259.2,1825) scale(0.94,1)" font-size="30" text-anchor="middle">0.1</text>
<text transform="translate(1345.5,1825) scale(0.94,1)" font-size="30" text-anchor="middle">1</text>
<text transform="translate(1433,1825) scale(0.94,1)" font-size="30" text-anchor="middle">10</text>
<text transform="translate(1551.8,1825) scale(0.94,1)" font-size="30" text-anchor="middle">0.001</text>
<text transform="translate(1646.5,1825) scale(0.94,1)" font-size="30" text-anchor="middle">0.01</text>
<text transform="translate(1733,1825) scale(0.94,1)" font-size="30" text-anchor="middle">0.1</text>
<text transform="translate(1821,1825) scale(0.94,1)" font-size="30" text-anchor="middle">1</text>
<text transform="translate(1906,1825) scale(0.94,1)" font-size="30" text-anchor="middle">10</text>
<rect x="1085" y="1847.5" width="825" height="3.8" fill="#000"/>
<text x="1290" y="1887.7" font-size="37.4">Light Intensity (cd x s/m<tspan font-size="22" dy="-14">2</tspan><tspan dy="14">)</tspan></text>
<text x="-3" y="1269.6" font-size="73" font-weight="bold">d</text>
<text x="490" y="1269.6" font-size="73" font-weight="bold">e</text>
<text x="202.5" y="1326" font-size="43.3">8 mth</text>
<text x="213" y="1376.8" font-size="44.5">TEM</text>
<text x="581" y="1261.6" font-size="44.1">9-10 mth</text>
<text x="498" y="1323" font-size="44.2" fill="#2ED3DD" stroke="#0E8E98" stroke-width="0.8">BODIPY-493/503</text>
<text x="621" y="1376.8" font-size="44.2" fill="#FF00FF">actin</text>
<text transform="translate(84,1561.6) rotate(-90)" font-size="48" font-style="italic" text-anchor="middle">Cib2<tspan font-size="31" dy="-18">WT/WT</tspan></text>
<text transform="translate(84,1938) rotate(-90)" font-size="48" font-style="italic" text-anchor="middle" fill="#0000FF">Cib2<tspan font-size="31" dy="-18">KO/+</tspan></text>
<text transform="translate(84,2321) rotate(-90)" font-size="48" font-style="italic" text-anchor="middle" fill="#FF0000">Cib2<tspan font-size="31" dy="-18">KO/KO</tspan></text>
<defs>
<filter id="grain" x="0" y="0" width="100%" height="100%">
<feTurbulence type="fractalNoise" baseFrequency="0.9" numOctaves="2" seed="3" result="n"/>
<feColorMatrix type="matrix" values="0 0 0 0 0  0 0 0 0 0  0 0 0 0 0  0 0 0 -1.2 1.1"/>
</filter>
<filter id="blur2"><feGaussianBlur stdDeviation="2"/></filter>
<filter id="blur1"><feGaussianBlur stdDeviation="1"/></filter>
<filter id="blur4"><feGaussianBlur stdDeviation="4"/></filter>
<filter id="speck" x="-20%" y="-20%" width="140%" height="140%">
<feTurbulence type="fractalNoise" baseFrequency="0.55" numOctaves="2" seed="5" result="n"/>
<feColorMatrix in="n" type="matrix" values="0 0 0 0 0.8  0 0 0 0 0  0 0 0 0 0.82  0 0 0 7 -3.3" result="m"/>
<feGaussianBlur in="SourceGraphic" stdDeviation="7" result="b"/>
<feComposite in="m" in2="b" operator="in"/>
</filter>
<clipPath id="cT1"><rect x="85.4" y="1383.9" width="344.6" height="348.8"/></clipPath>
<clipPath id="cT2"><rect x="85.4" y="1765.4" width="344.6" height="349"/></clipPath>
<clipPath id="cT3"><rect x="85.4" y="2150" width="344.6" height="351"/></clipPath>
<clipPath id="cC1"><rect x="491.9" y="1383.9" width="349.6" height="349.2"/></clipPath>
<clipPath id="cC2"><rect x="491.9" y="1766.9" width="349.6" height="350.5"/></clipPath>
<clipPath id="cC3"><rect x="491.9" y="2150" width="349.6" height="351"/></clipPath>
</defs>
<g clip-path="url(#cT1)">
<rect x="85.4" y="1383.9" width="344.6" height="348.8" fill="#838383"/>
<rect x="85.4" y="1383.9" width="344.6" height="24" fill="#a4a4a4"/>
<path d="M85 1384 H232 C222 1393 190 1401 85 1399 Z" fill="#cdcdcd"/>
<path d="M232 1384 C260 1390 300 1392 430 1386 V1384 Z" fill="#b8b8b8"/>
<rect x="85.4" y="1407" width="344.6" height="30" fill="#999999"/>
<ellipse cx="86.2" cy="1419.8" rx="5" ry="5.3" fill="#b5b5b5"/>
<ellipse cx="104.4" cy="1422.4" rx="3.2" ry="7" fill="#b5b5b5"/>
<ellipse cx="115.4" cy="1423.2" rx="3.2" ry="5.4" fill="#b5b5b5"/>
<ellipse cx="135.2" cy="1427.9" rx="3.4" ry="5.9" fill="#b5b5b5"/>
<ellipse cx="153.3" cy="1429.4" rx="4.7" ry="6.6" fill="#b5b5b5"/>
<ellipse cx="172.8" cy="1418.6" rx="5.6" ry="6.2" fill="#b5b5b5"/>
<ellipse cx="180.4" cy="1419.4" rx="3.9" ry="8.3" fill="#b5b5b5"/>
<ellipse cx="196.8" cy="1425" rx="4.9" ry="6.5" fill="#b5b5b5"/>
<ellipse cx="216.5" cy="1418.8" rx="3.2" ry="5.8" fill="#b5b5b5"/>
<ellipse cx="233.8" cy="1423.1" rx="3.9" ry="7.3" fill="#b5b5b5"/>
<ellipse cx="247.5" cy="1421.6" rx="5.4" ry="7.8" fill="#b5b5b5"/>
<ellipse cx="261.4" cy="1424.9" rx="4.6" ry="8.5" fill="#b5b5b5"/>
<ellipse cx="282.3" cy="1421.5" rx="5.9" ry="5.5" fill="#b5b5b5"/>
<ellipse cx="295.2" cy="1427.1" rx="3.5" ry="7" fill="#b5b5b5"/>
<ellipse cx="307.4" cy="1426" rx="5.3" ry="7.3" fill="#b5b5b5"/>
<ellipse cx="331.8" cy="1421.8" rx="5.1" ry="7.4" fill="#b5b5b5"/>
<ellipse cx="344.8" cy="1423.5" rx="5.5" ry="8.8" fill="#b5b5b5"/>
<ellipse cx="359.7" cy="1426" rx="3.2" ry="7.8" fill="#b5b5b5"/>
<ellipse cx="377.5" cy="1429.9" rx="5.5" ry="6.1" fill="#b5b5b5"/>
<ellipse cx="390.9" cy="1426" rx="3.1" ry="6.8" fill="#b5b5b5"/>
<ellipse cx="404.7" cy="1419.4" rx="3.2" ry="8.1" fill="#b5b5b5"/>
<ellipse cx="420.3" cy="1421" rx="4.2" ry="8.5" fill="#b5b5b5"/>
<ellipse cx="88.3" cy="1442.7" rx="6.2" ry="5.8" fill="#d4d4d4"/>
<ellipse cx="128.1" cy="1445.2" rx="5.1" ry="4.8" fill="#d4d4d4"/>
<ellipse cx="148.7" cy="1445.3" rx="7.8" ry="4.3" fill="#d4d4d4"/>
<ellipse cx="173.8" cy="1441.4" rx="4.9" ry="5" fill="#d4d4d4"/>
<ellipse cx="208.4" cy="1441.6" rx="4" ry="4.8" fill="#d4d4d4"/>
<ellipse cx="232.9" cy="1443.4" rx="7.8" ry="5.4" fill="#d4d4d4"/>
<ellipse cx="263.2" cy="1443.7" rx="6.7" ry="4.1" fill="#d4d4d4"/>
<ellipse cx="297.4" cy="1444.7" rx="7.5" ry="5.6" fill="#d4d4d4"/>
<ellipse cx="317.3" cy="1442.4" rx="4.4" ry="5.3" fill="#d4d4d4"/>
<ellipse cx="340" cy="1440.4" rx="4.8" ry="4.3" fill="#d4d4d4"/>
<ellipse cx="372.4" cy="1440.3" rx="4" ry="4.3" fill="#d4d4d4"/>
<ellipse cx="396.6" cy="1442.2" rx="4.1" ry="5.7" fill="#d4d4d4"/>
<rect x="85.4" y="1452" width="344.6" height="110" fill="#878787"/>
<ellipse cx="297.6" cy="1481.1" rx="5.5" ry="13.4" fill="#3a3a3a" transform="rotate(-9.5 297.6 1481.1)"/>
<ellipse cx="131.5" cy="1542.7" rx="7" ry="14.3" fill="#3a3a3a" transform="rotate(-1.1 131.5 1542.7)"/>
<ellipse cx="119" cy="1477" rx="5.7" ry="12.9" fill="#3a3a3a" transform="rotate(23 119 1477)"/>
<ellipse cx="144.6" cy="1470" rx="6.9" ry="14.7" fill="#3a3a3a" transform="rotate(-24.7 144.6 1470)"/>
<ellipse cx="273.6" cy="1470.4" rx="6.1" ry="17.8" fill="#3a3a3a" transform="rotate(25.4 273.6 1470.4)"/>
<ellipse cx="325.3" cy="1491" rx="5.7" ry="12.2" fill="#3a3a3a" transform="rotate(19 325.3 1491)"/>
<ellipse cx="270" cy="1536.6" rx="5.7" ry="12.6" fill="#3a3a3a" transform="rotate(21.8 270 1536.6)"/>
<ellipse cx="422.9" cy="1543" rx="6.6" ry="16.7" fill="#3a3a3a" transform="rotate(16.8 422.9 1543)"/>
<ellipse cx="166.6" cy="1513.6" rx="5.7" ry="11.2" fill="#3a3a3a" transform="rotate(-33 166.6 1513.6)"/>
<ellipse cx="184.4" cy="1490.8" rx="6.4" ry="17.7" fill="#3a3a3a" transform="rotate(-3.7 184.4 1490.8)"/>
<ellipse cx="406.7" cy="1554.9" rx="6.9" ry="13.6" fill="#3a3a3a" transform="rotate(-19.6 406.7 1554.9)"/>
<ellipse cx="166.7" cy="1485.3" rx="5.4" ry="15.4" fill="#3a3a3a" transform="rotate(28 166.7 1485.3)"/>
<ellipse cx="374.1" cy="1510.2" rx="6.3" ry="16.6" fill="#3a3a3a" transform="rotate(-29.1 374.1 1510.2)"/>
<ellipse cx="313.3" cy="1548.1" rx="6.6" ry="16.3" fill="#3a3a3a" transform="rotate(-1.5 313.3 1548.1)"/>
<ellipse cx="150.3" cy="1537.4" rx="5.7" ry="16.6" fill="#3a3a3a" transform="rotate(33 150.3 1537.4)"/>
<ellipse cx="223.8" cy="1503.3" rx="6.9" ry="16.1" fill="#3a3a3a" transform="rotate(-23.1 223.8 1503.3)"/>
<ellipse cx="132.9" cy="1481.3" rx="6.8" ry="16.6" fill="#3a3a3a" transform="rotate(-24.8 132.9 1481.3)"/>
<ellipse cx="369.4" cy="1554.3" rx="6.3" ry="13.5" fill="#3a3a3a" transform="rotate(3.4 369.4 1554.3)"/>
<ellipse cx="134.3" cy="1469.3" rx="6.9" ry="15.5" fill="#3a3a3a" transform="rotate(1.9 134.3 1469.3)"/>
<ellipse cx="405.6" cy="1506.2" rx="6.7" ry="16.8" fill="#3a3a3a" transform="rotate(-20.2 405.6 1506.2)"/>
<ellipse cx="175.1" cy="1493.8" rx="5.5" ry="15.1" fill="#3a3a3a" transform="rotate(-16.8 175.1 1493.8)"/>
<ellipse cx="231.6" cy="1479.5" rx="6.8" ry="13.5" fill="#3a3a3a" transform="rotate(-2.9 231.6 1479.5)"/>
<ellipse cx="287.2" cy="1547.6" rx="5.8" ry="17.4" fill="#3a3a3a" transform="rotate(0.1 287.2 1547.6)"/>
<ellipse cx="269.8" cy="1514.1" rx="5" ry="14.1" fill="#3a3a3a" transform="rotate(-22.2 269.8 1514.1)"/>
<ellipse cx="91.3" cy="1538.3" rx="5.3" ry="14.3" fill="#3a3a3a" transform="rotate(15.8 91.3 1538.3)"/>
<ellipse cx="278.1" cy="1496.7" rx="6" ry="14.9" fill="#3a3a3a" transform="rotate(19.9 278.1 1496.7)"/>
<ellipse cx="125.9" cy="1517.3" rx="5.5" ry="12.9" fill="#3a3a3a" transform="rotate(19.1 125.9 1517.3)"/>
<ellipse cx="261.6" cy="1517.4" rx="6.5" ry="17.4" fill="#3a3a3a" transform="rotate(-4 261.6 1517.4)"/>
<ellipse cx="297" cy="1512.5" rx="6" ry="15.8" fill="#3a3a3a" transform="rotate(-3.3 297 1512.5)"/>
<ellipse cx="270.3" cy="1510.1" rx="6.9" ry="15.9" fill="#3a3a3a" transform="rotate(26.4 270.3 1510.1)"/>
<ellipse cx="408.5" cy="1490.8" rx="6.1" ry="17.6" fill="#3a3a3a" transform="rotate(23.8 408.5 1490.8)"/>
<ellipse cx="136.4" cy="1478.7" rx="5.9" ry="11.5" fill="#3a3a3a" transform="rotate(-18.2 136.4 1478.7)"/>
<ellipse cx="114.7" cy="1524.9" rx="7.4" ry="7.7" fill="#474747" transform="rotate(27.8 114.7 1524.9)"/>
<ellipse cx="332" cy="1524.1" rx="5.4" ry="7.6" fill="#474747" transform="rotate(174.2 332 1524.1)"/>
<ellipse cx="164.2" cy="1551.5" rx="6.2" ry="6.5" fill="#474747" transform="rotate(178.2 164.2 1551.5)"/>
<ellipse cx="371.4" cy="1477.2" rx="6.3" ry="6.5" fill="#474747" transform="rotate(61 371.4 1477.2)"/>
<ellipse cx="156.2" cy="1491.9" rx="7.2" ry="5.1" fill="#474747" transform="rotate(99.7 156.2 1491.9)"/>
<ellipse cx="238.9" cy="1463.7" rx="6" ry="6.9" fill="#474747" transform="rotate(92.2 238.9 1463.7)"/>
<ellipse cx="111.7" cy="1554.6" rx="7.4" ry="7.9" fill="#474747" transform="rotate(18.9 111.7 1554.6)"/>
<ellipse cx="179.8" cy="1465.7" rx="7.3" ry="5.8" fill="#474747" transform="rotate(23.3 179.8 1465.7)"/>
<ellipse cx="232.7" cy="1547.7" rx="7.5" ry="5.8" fill="#474747" transform="rotate(26.9 232.7 1547.7)"/>
<ellipse cx="400.7" cy="1515.6" rx="7.1" ry="5.3" fill="#474747" transform="rotate(10.4 400.7 1515.6)"/>
<ellipse cx="322.6" cy="1502" rx="5.2" ry="7.8" fill="#474747" transform="rotate(114.2 322.6 1502)"/>
<ellipse cx="361" cy="1469.9" rx="7.6" ry="5.2" fill="#474747" transform="rotate(155.3 361 1469.9)"/>
<ellipse cx="340" cy="1475" rx="16" ry="12" fill="#4a4a4a"/>
<rect x="85.4" y="1558" width="344.6" height="175" fill="#8e8e8e"/>
<ellipse cx="74.3" cy="1578.8" rx="23.9" ry="23.7" fill="#5c5c5c" transform="rotate(7.3 78.2 1574.8)"/>
<ellipse cx="129.9" cy="1578.6" rx="23.2" ry="21.1" fill="#555555" transform="rotate(25.9 126.4 1574.8)"/>
<ellipse cx="175.2" cy="1574.8" rx="22.8" ry="21.6" fill="#555555" transform="rotate(-28.9 176.9 1574.8)"/>
<ellipse cx="222" cy="1574.8" rx="26.3" ry="22.3" fill="#4c4c4c" transform="rotate(-15.3 225.9 1574.8)"/>
<ellipse cx="276.9" cy="1575.2" rx="25.9" ry="23.9" fill="#5c5c5c" transform="rotate(-11.5 275.7 1574.8)"/>
<ellipse cx="323.3" cy="1577.5" rx="25.1" ry="22.7" fill="#555555" transform="rotate(-5.7 324.5 1574.8)"/>
<ellipse cx="376.6" cy="1570.9" rx="24.8" ry="23.6" fill="#4c4c4c" transform="rotate(-4.2 373.9 1574.8)"/>
<ellipse cx="425.1" cy="1576.2" rx="23.3" ry="21.3" fill="#5c5c5c" transform="rotate(-12.4 422.2 1574.8)"/>
<ellipse cx="100.4" cy="1612.1" rx="23.7" ry="21.6" fill="#555555" transform="rotate(29.1 102.2 1616.1)"/>
<ellipse cx="155.2" cy="1614.6" rx="23.6" ry="20.4" fill="#4c4c4c" transform="rotate(-7.1 151.5 1616.1)"/>
<ellipse cx="199.4" cy="1618.3" rx="22.5" ry="23.3" fill="#555555" transform="rotate(-21.4 201.4 1616.1)"/>
<ellipse cx="247.9" cy="1614.5" rx="23.1" ry="22.5" fill="#5c5c5c" transform="rotate(1.8 251.7 1616.1)"/>
<ellipse cx="304.9" cy="1617.8" rx="24.2" ry="21.4" fill="#5c5c5c" transform="rotate(7.1 302.7 1616.1)"/>
<ellipse cx="353.2" cy="1618.6" rx="22.7" ry="22.3" fill="#5c5c5c" transform="rotate(0.3 351.3 1616.1)"/>
<ellipse cx="405.3" cy="1616.8" rx="25.9" ry="22.9" fill="#4c4c4c" transform="rotate(11.6 402.7 1616.1)"/>
<ellipse cx="447.9" cy="1617.2" rx="26.2" ry="21.8" fill="#4c4c4c" transform="rotate(-2.9 451.6 1616.1)"/>
<ellipse cx="79.2" cy="1658.8" rx="24.2" ry="20.4" fill="#4c4c4c" transform="rotate(17.9 78.2 1657.4)"/>
<ellipse cx="130.5" cy="1653.9" rx="25.3" ry="21.3" fill="#4c4c4c" transform="rotate(-25.5 129.2 1657.4)"/>
<ellipse cx="176.1" cy="1658.6" rx="24.1" ry="23.4" fill="#555555" transform="rotate(-25.4 178.3 1657.4)"/>
<ellipse cx="232" cy="1658.3" rx="24.9" ry="20.7" fill="#474747" transform="rotate(-21.2 229.9 1657.4)"/>
<ellipse cx="279.9" cy="1654.4" rx="24.2" ry="22.1" fill="#474747" transform="rotate(28.4 278.9 1657.4)"/>
<ellipse cx="328.7" cy="1655.7" rx="24.3" ry="22.1" fill="#555555" transform="rotate(-2 327.3 1657.4)"/>
<ellipse cx="374.3" cy="1654" rx="24.1" ry="21.4" fill="#555555" transform="rotate(-25.4 375.8 1657.4)"/>
<ellipse cx="429.8" cy="1656.5" rx="26" ry="23.7" fill="#5c5c5c" transform="rotate(-25.5 425.8 1657.4)"/>
<ellipse cx="105.8" cy="1695.7" rx="25.6" ry="22.2" fill="#474747" transform="rotate(23.2 102.2 1698.6)"/>
<ellipse cx="153" cy="1701.6" rx="23.8" ry="21" fill="#555555" transform="rotate(27 153 1698.6)"/>
<ellipse cx="202.2" cy="1695.8" rx="23.6" ry="21.5" fill="#5c5c5c" transform="rotate(20.4 203.7 1698.6)"/>
<ellipse cx="254.5" cy="1695.6" rx="26.1" ry="23" fill="#474747" transform="rotate(24.1 251.7 1698.6)"/>
<ellipse cx="297.4" cy="1697.8" rx="25.8" ry="20.7" fill="#474747" transform="rotate(25.5 300.9 1698.6)"/>
<ellipse cx="350.2" cy="1695.1" rx="24.9" ry="22.7" fill="#4c4c4c" transform="rotate(-21.1 351.9 1698.6)"/>
<ellipse cx="403.9" cy="1696.2" rx="23.7" ry="23.8" fill="#5c5c5c" transform="rotate(23.1 403.8 1698.6)"/>
<ellipse cx="81.5" cy="1743.4" rx="24.5" ry="23" fill="#5c5c5c" transform="rotate(-27 78.2 1739.9)"/>
<ellipse cx="130" cy="1737" rx="25.8" ry="22.1" fill="#5c5c5c" transform="rotate(24.7 129.1 1739.9)"/>
<ellipse cx="179.1" cy="1738.7" rx="23.4" ry="23.1" fill="#555555" transform="rotate(28.6 179.3 1739.9)"/>
<ellipse cx="226.8" cy="1740.4" rx="23.8" ry="21" fill="#555555" transform="rotate(-20.3 228.4 1739.9)"/>
<ellipse cx="277.6" cy="1739.5" rx="23.5" ry="23.1" fill="#5c5c5c" transform="rotate(-4.4 277.2 1739.9)"/>
<ellipse cx="324.1" cy="1738.7" rx="22.5" ry="21.3" fill="#555555" transform="rotate(-14.5 327.4 1739.9)"/>
<ellipse cx="379.7" cy="1739.2" rx="23.9" ry="22.3" fill="#4c4c4c" transform="rotate(-7.4 377.7 1739.9)"/>
<ellipse cx="427" cy="1740.5" rx="23.6" ry="22.9" fill="#4c4c4c" transform="rotate(1.8 427 1739.9)"/>
<rect x="85.4" y="1383.9" width="344.6" height="348.8" filter="url(#grain)" opacity="0.35"/>
</g>
<text x="356" y="1520" font-size="36" fill="#fff">RPE</text>
<text x="377.7" y="1695.5" font-size="36" fill="#fff">OS</text>
<g clip-path="url(#cT2)">
<rect x="85.4" y="1765.4" width="344.6" height="349" fill="#737373"/>
<rect x="85.4" y="1960" width="344.6" height="155" fill="#9a9a9a"/>
<ellipse cx="74.6" cy="1980.7" rx="24.7" ry="23.7" fill="#5e5e5e" transform="rotate(-4.1 77.9 1977.5)"/>
<ellipse cx="126.2" cy="1976.9" rx="26.4" ry="24.3" fill="#555555" transform="rotate(28.1 129.1 1977.5)"/>
<ellipse cx="180.2" cy="1980.9" rx="26.7" ry="24.5" fill="#555555" transform="rotate(28.3 181.1 1977.5)"/>
<ellipse cx="229.9" cy="1974.7" rx="27.4" ry="21.7" fill="#555555" transform="rotate(19.5 232.1 1977.5)"/>
<ellipse cx="281.6" cy="1979.7" rx="23" ry="21.7" fill="#626262" transform="rotate(4.2 284.9 1977.5)"/>
<ellipse cx="338.8" cy="1978.5" rx="25.4" ry="22.9" fill="#4d4d4d" transform="rotate(15.8 335.1 1977.5)"/>
<ellipse cx="385.6" cy="1978.2" rx="24.7" ry="22.1" fill="#4d4d4d" transform="rotate(6.1 385.5 1977.5)"/>
<ellipse cx="439.5" cy="1975.7" rx="24.4" ry="24.4" fill="#4d4d4d" transform="rotate(-15.5 435.5 1977.5)"/>
<ellipse cx="99.1" cy="2019.8" rx="25.9" ry="21.5" fill="#5e5e5e" transform="rotate(-18.4 102.9 2020.5)"/>
<ellipse cx="153.1" cy="2018.3" rx="24.9" ry="22.6" fill="#626262" transform="rotate(-0.4 156.4 2020.5)"/>
<ellipse cx="208.1" cy="2019.7" rx="23" ry="22.3" fill="#626262" transform="rotate(20.7 209.2 2020.5)"/>
<ellipse cx="263.3" cy="2019" rx="26.7" ry="22.1" fill="#626262" transform="rotate(-16.7 259.5 2020.5)"/>
<ellipse cx="309.4" cy="2021.5" rx="25.7" ry="24.6" fill="#4d4d4d" transform="rotate(-0.9 312.5 2020.5)"/>
<ellipse cx="369.8" cy="2017.7" rx="24.8" ry="22" fill="#555555" transform="rotate(28.4 366.2 2020.5)"/>
<ellipse cx="418.4" cy="2018" rx="25" ry="23.9" fill="#555555" transform="rotate(-11.1 416.7 2020.5)"/>
<ellipse cx="81.4" cy="2062.1" rx="23.8" ry="24.8" fill="#555555" transform="rotate(14.8 77.9 2063.5)"/>
<ellipse cx="130.7" cy="2067.4" rx="25" ry="21.7" fill="#626262" transform="rotate(-25.3 128 2063.5)"/>
<ellipse cx="182" cy="2060.5" rx="27.3" ry="22" fill="#626262" transform="rotate(-8.6 178.4 2063.5)"/>
<ellipse cx="228.3" cy="2065.1" rx="23.9" ry="23.3" fill="#626262" transform="rotate(-3.2 231.6 2063.5)"/>
<ellipse cx="279.2" cy="2062.8" rx="26.7" ry="24.1" fill="#626262" transform="rotate(-27.6 282.9 2063.5)"/>
<ellipse cx="335.5" cy="2060" rx="23.9" ry="21.5" fill="#555555" transform="rotate(6.3 333.1 2063.5)"/>
<ellipse cx="388.2" cy="2064.4" rx="24.2" ry="23.9" fill="#4d4d4d" transform="rotate(-11 384.5 2063.5)"/>
<ellipse cx="437.4" cy="2064.3" rx="26.6" ry="24.8" fill="#555555" transform="rotate(-26.1 435.6 2063.5)"/>
<ellipse cx="102.7" cy="2110.2" rx="27.3" ry="22.7" fill="#555555" transform="rotate(-14.9 102.9 2106.5)"/>
<ellipse cx="151.7" cy="2106.5" rx="23" ry="24.7" fill="#626262" transform="rotate(-11.8 154.6 2106.5)"/>
<ellipse cx="208.2" cy="2105.1" rx="24.4" ry="22.6" fill="#5e5e5e" transform="rotate(16.9 207.4 2106.5)"/>
<ellipse cx="256.8" cy="2103.8" rx="24.8" ry="23.7" fill="#5e5e5e" transform="rotate(-1.1 257.7 2106.5)"/>
<ellipse cx="313.7" cy="2109.6" rx="27.4" ry="22.2" fill="#5e5e5e" transform="rotate(-25 309.9 2106.5)"/>
<ellipse cx="364.2" cy="2110.3" rx="23.8" ry="21.7" fill="#626262" transform="rotate(-2.3 360.3 2106.5)"/>
<ellipse cx="415.8" cy="2109.3" rx="26" ry="21.7" fill="#5e5e5e" transform="rotate(20.5 413.8 2106.5)"/>
<path d="M85 1765 H430 V1935 L380 1945 L300 1975 L200 1990 L85 1985 Z" fill="#737373"/>
<clipPath id="cBand2"><path d="M85 1983 L200 1988 L300 1973 L380 1943 L430 1933 V1990 L380 2008 L300 2045 L200 2058 L85 2055 Z"/></clipPath>
<path d="M85 1983 L200 1988 L300 1973 L380 1943 L430 1933 V1990 L380 2008 L300 2045 L200 2058 L85 2055 Z" fill="#a9a9a9"/>
<g clip-path="url(#cBand2)">
<path d="M85 1988 C200 2004 330 1975 430 1945" fill="none" stroke="#858585" stroke-width="1.3" opacity="0.75"/>
<path d="M85 1992 C200 2007.5 330 1979 430 1949" fill="none" stroke="#858585" stroke-width="1.3" opacity="0.75"/>
<path d="M85 1996 C200 2011 330 1983 430 1953" fill="none" stroke="#858585" stroke-width="1.3" opacity="0.75"/>
<path d="M85 2000 C200 2014.5 330 1987 430 1957" fill="none" stroke="#858585" stroke-width="1.3" opacity="0.75"/>
<path d="M85 2004 C200 2018 330 1991 430 1961" fill="none" stroke="#858585" stroke-width="1.3" opacity="0.75"/>
<path d="M85 2008 C200 2021.5 330 1995 430 1965" fill="none" stroke="#858585" stroke-width="1.3" opacity="0.75"/>
<path d="M85 2012 C200 2025 330 1999 430 1969" fill="none" stroke="#858585" stroke-width="1.3" opacity="0.75"/>
<path d="M85 2016 C200 2028.5 330 2003 430 1973" fill="none" stroke="#858585" stroke-width="1.3" opacity="0.75"/>
<path d="M85 2020 C200 2032 330 2007 430 1977" fill="none" stroke="#858585" stroke-width="1.3" opacity="0.75"/>
<path d="M85 2024 C200 2035.5 330 2011 430 1981" fill="none" stroke="#858585" stroke-width="1.3" opacity="0.75"/>
<path d="M85 2028 C200 2039 330 2015 430 1985" fill="none" stroke="#858585" stroke-width="1.3" opacity="0.75"/>
<path d="M85 2032 C200 2042.5 330 2019 430 1989" fill="none" stroke="#858585" stroke-width="1.3" opacity="0.75"/>
<path d="M85 2036 C200 2046 330 2023 430 1993" fill="none" stroke="#858585" stroke-width="1.3" opacity="0.75"/>
<path d="M85 2040 C200 2049.5 330 2027 430 1997" fill="none" stroke="#858585" stroke-width="1.3" opacity="0.75"/>
<path d="M85 2044 C200 2053 330 2031 430 2001" fill="none" stroke="#858585" stroke-width="1.3" opacity="0.75"/>
<path d="M85 2048 C200 2056.5 330 2035 430 2005" fill="none" stroke="#858585" stroke-width="1.3" opacity="0.75"/>
<path d="M85 2052 C200 2060 330 2039 430 2009" fill="none" stroke="#858585" stroke-width="1.3" opacity="0.75"/>
<path d="M85 2056 C200 2063.5 330 2043 430 2013" fill="none" stroke="#858585" stroke-width="1.3" opacity="0.75"/>
<path d="M85 2060 C200 2067 330 2047 430 2017" fill="none" stroke="#858585" stroke-width="1.3" opacity="0.75"/>
<path d="M85 2064 C200 2070.5 330 2051 430 2021" fill="none" stroke="#858585" stroke-width="1.3" opacity="0.75"/>
<path d="M85 2068 C200 2074 330 2055 430 2025" fill="none" stroke="#858585" stroke-width="1.3" opacity="0.75"/>
<path d="M85 2072 C200 2077.5 330 2059 430 2029" fill="none" stroke="#858585" stroke-width="1.3" opacity="0.75"/>
</g>
<path d="M85 1790 L165 1765 H430 V1830 C380 1835 330 1840 250 1840 C180 1845 120 1845 85 1850 Z" fill="#959595"/>
<path d="M85 1765 H162 L85 1791 Z" fill="#d8d8d8"/>
<path d="M317 1765 H430 V1855 C415 1850 395 1830 388 1800 L384 1765 Z" fill="#dcdcdc"/>
<path d="M340 1765 L330 1800 L345 1795 Z" fill="#d0d0d0"/>
<ellipse cx="264.9" cy="1927.9" rx="7" ry="6.2" fill="#474747" transform="rotate(44.5 264.9 1927.9)"/>
<ellipse cx="164.5" cy="1902.6" rx="7.5" ry="8.5" fill="#474747" transform="rotate(58.7 164.5 1902.6)"/>
<ellipse cx="211.6" cy="1999.1" rx="6" ry="6.4" fill="#474747" transform="rotate(145.5 211.6 1999.1)"/>
<ellipse cx="119.9" cy="1939.6" rx="7.3" ry="10" fill="#474747" transform="rotate(164.6 119.9 1939.6)"/>
<ellipse cx="125.2" cy="1906.8" rx="7.9" ry="8.5" fill="#474747" transform="rotate(167.4 125.2 1906.8)"/>
<ellipse cx="204.1" cy="1984.6" rx="5.8" ry="6.6" fill="#474747" transform="rotate(140 204.1 1984.6)"/>
<ellipse cx="383.1" cy="1897.2" rx="6.4" ry="8.7" fill="#474747" transform="rotate(39.2 383.1 1897.2)"/>
<ellipse cx="151.6" cy="1914.3" rx="6.4" ry="8.9" fill="#474747" transform="rotate(36.6 151.6 1914.3)"/>
<ellipse cx="91.6" cy="1922.6" rx="6.7" ry="6.1" fill="#474747" transform="rotate(56.2 91.6 1922.6)"/>
<ellipse cx="151.5" cy="1976.5" rx="6.2" ry="5.4" fill="#474747" transform="rotate(18.2 151.5 1976.5)"/>
<ellipse cx="139.1" cy="1965" rx="5.6" ry="6.7" fill="#474747" transform="rotate(55.4 139.1 1965)"/>
<ellipse cx="385.4" cy="1920.9" rx="6.3" ry="7.1" fill="#474747" transform="rotate(75 385.4 1920.9)"/>
<ellipse cx="315.1" cy="1908.4" rx="4" ry="10.4" fill="#474747" transform="rotate(76.3 315.1 1908.4)"/>
<ellipse cx="344" cy="1931.7" rx="7.5" ry="7.8" fill="#474747" transform="rotate(29.3 344 1931.7)"/>
<ellipse cx="92.6" cy="1948.4" rx="6.6" ry="10.5" fill="#474747" transform="rotate(16 92.6 1948.4)"/>
<ellipse cx="282.1" cy="1927.6" rx="6" ry="5.9" fill="#474747" transform="rotate(51 282.1 1927.6)"/>
<ellipse cx="121.9" cy="1941.4" rx="7.2" ry="10.8" fill="#474747" transform="rotate(35.5 121.9 1941.4)"/>
<ellipse cx="127.5" cy="1993.5" rx="7.9" ry="7.9" fill="#474747" transform="rotate(9.6 127.5 1993.5)"/>
<ellipse cx="377" cy="1929.6" rx="7.6" ry="8.7" fill="#474747" transform="rotate(148.4 377 1929.6)"/>
<ellipse cx="138" cy="1975.4" rx="4.9" ry="7.4" fill="#474747" transform="rotate(152.3 138 1975.4)"/>
<ellipse cx="346.7" cy="1906" rx="4.9" ry="7.4" fill="#474747" transform="rotate(93.2 346.7 1906)"/>
<ellipse cx="165.1" cy="1968.4" rx="7.6" ry="5.2" fill="#474747" transform="rotate(101.2 165.1 1968.4)"/>
<ellipse cx="324.3" cy="1889.4" rx="7.4" ry="5.7" fill="#474747" transform="rotate(107.9 324.3 1889.4)"/>
<ellipse cx="259.6" cy="1957.1" rx="5.2" ry="7.5" fill="#474747" transform="rotate(104.9 259.6 1957.1)"/>
<ellipse cx="95.3" cy="1956.2" rx="6" ry="6.4" fill="#474747" transform="rotate(137.4 95.3 1956.2)"/>
<ellipse cx="331.4" cy="1937.7" rx="4.7" ry="7.8" fill="#474747" transform="rotate(19.3 331.4 1937.7)"/>
<ellipse cx="128.1" cy="1934.5" rx="4.4" ry="7.7" fill="#474747" transform="rotate(91.8 128.1 1934.5)"/>
<ellipse cx="100.7" cy="1958.2" rx="4.3" ry="9.4" fill="#474747" transform="rotate(140 100.7 1958.2)"/>
<ellipse cx="247.6" cy="1891.2" rx="6" ry="7.3" fill="#474747" transform="rotate(171.2 247.6 1891.2)"/>
<ellipse cx="130.5" cy="1983.6" rx="8" ry="9.4" fill="#474747" transform="rotate(146.7 130.5 1983.6)"/>
<ellipse cx="148.4" cy="1997.9" rx="6" ry="10.7" fill="#474747" transform="rotate(164.9 148.4 1997.9)"/>
<ellipse cx="139.5" cy="1975.7" rx="7.7" ry="5.4" fill="#474747" transform="rotate(63.2 139.5 1975.7)"/>
<ellipse cx="323.9" cy="1903.3" rx="7.6" ry="6.6" fill="#474747" transform="rotate(146.8 323.9 1903.3)"/>
<ellipse cx="132.8" cy="1942.8" rx="7.7" ry="6.2" fill="#474747" transform="rotate(47.3 132.8 1942.8)"/>
<ellipse cx="138.3" cy="1992.7" rx="6.7" ry="10.4" fill="#474747" transform="rotate(30.4 138.3 1992.7)"/>
<ellipse cx="332.9" cy="1898.2" rx="6.1" ry="8.8" fill="#474747" transform="rotate(64.8 332.9 1898.2)"/>
<ellipse cx="360.4" cy="1948.8" rx="6.3" ry="10.3" fill="#474747" transform="rotate(18.8 360.4 1948.8)"/>
<ellipse cx="170.6" cy="1998.9" rx="6.3" ry="7.2" fill="#474747" transform="rotate(137.6 170.6 1998.9)"/>
<ellipse cx="320" cy="1890.6" rx="7.3" ry="6.5" fill="#474747" transform="rotate(115.1 320 1890.6)"/>
<ellipse cx="295.1" cy="1921" rx="4" ry="5.2" fill="#474747" transform="rotate(26.9 295.1 1921)"/>
<ellipse cx="280.2" cy="1934.7" rx="6.1" ry="10.4" fill="#474747" transform="rotate(23.8 280.2 1934.7)"/>
<ellipse cx="158.9" cy="1960.1" rx="4.1" ry="5" fill="#474747" transform="rotate(63.9 158.9 1960.1)"/>
<ellipse cx="121.2" cy="1926.1" rx="4.9" ry="8.5" fill="#474747" transform="rotate(106 121.2 1926.1)"/>
<ellipse cx="151.7" cy="1956.8" rx="5.9" ry="5.8" fill="#474747" transform="rotate(168.6 151.7 1956.8)"/>
<ellipse cx="353.9" cy="1840.5" rx="4.3" ry="7.6" fill="#4a4a4a" transform="rotate(156.8 353.9 1840.5)"/>
<ellipse cx="406.7" cy="1858.1" rx="4.8" ry="5" fill="#4a4a4a" transform="rotate(116.1 406.7 1858.1)"/>
<ellipse cx="385.1" cy="1854.5" rx="5.9" ry="6.8" fill="#4a4a4a" transform="rotate(168.7 385.1 1854.5)"/>
<ellipse cx="401.9" cy="1847.4" rx="6.7" ry="5.2" fill="#4a4a4a" transform="rotate(95.7 401.9 1847.4)"/>
<ellipse cx="369.8" cy="1846.6" rx="4.2" ry="8.1" fill="#4a4a4a" transform="rotate(2.2 369.8 1846.6)"/>
<ellipse cx="384" cy="1895.9" rx="4.4" ry="5.8" fill="#4a4a4a" transform="rotate(109.5 384 1895.9)"/>
<ellipse cx="379.7" cy="1874.9" rx="6.4" ry="5.7" fill="#4a4a4a" transform="rotate(55.7 379.7 1874.9)"/>
<ellipse cx="359.4" cy="1833.4" rx="6.7" ry="8.1" fill="#4a4a4a" transform="rotate(128.8 359.4 1833.4)"/>
<ellipse cx="330.6" cy="1889.1" rx="6.2" ry="6.9" fill="#4a4a4a" transform="rotate(133.5 330.6 1889.1)"/>
<ellipse cx="374.3" cy="1845.8" rx="4.3" ry="5.9" fill="#4a4a4a" transform="rotate(7 374.3 1845.8)"/>
<circle cx="262" cy="1895" r="11" fill="#4f4f4f"/>
<circle cx="96" cy="1985" r="12" fill="#4a4a4a"/>
<path d="M168.6 1919.8 L165.5 1861 L187.1 1851.7 L208.8 1864 L213.5 1888.8 L233.6 1904.3 L249 1919.8 L256.8 1966.2 L250.6 1989.4 L224.3 2001.8 L201 1998.7 L181 1984.8 L171.7 1966.2 L167 1943 Z" fill="#dedede" stroke="#5e5e5e" stroke-width="1.8" stroke-linejoin="round"/>
<path d="M221.2 1830 L239.8 1820.7 L259.9 1823.8 L261.4 1851.7 L258.3 1882.6 L246 1891.9 L233.6 1882.6 L224.3 1861 Z" fill="#dedede" stroke="#5e5e5e" stroke-width="1.8" stroke-linejoin="round"/>
<path d="M266 1830 L286.2 1823.8 L309.4 1839.3 L326.4 1861 L331 1888.8 L320.2 1904.3 L307.9 1916.7 L286.2 1913.6 L275.4 1898 L267.6 1873.3 Z" fill="#dedede" stroke="#5e5e5e" stroke-width="1.8" stroke-linejoin="round"/>
<path d="M128.3 1861 L159.3 1854.8 L162.4 1870.2 L146.9 1882.6 L140.7 1904.3 L131.4 1907.4 L125.2 1888.8 Z" fill="#dedede" stroke="#5e5e5e" stroke-width="1.8" stroke-linejoin="round"/>
<path d="M94.3 1857.9 L112.9 1851.7 L122.1 1876.4 L119 1891.9 L103.6 1895 L94.3 1882.6 Z" fill="#dedede" stroke="#5e5e5e" stroke-width="1.8" stroke-linejoin="round"/>
<path d="M85 1901.2 L116 1898 L128.3 1913.6 L120.6 1919.8 L100.5 1932 L85 1935 Z" fill="#dedede" stroke="#5e5e5e" stroke-width="1.8" stroke-linejoin="round"/>
<path d="M119 1830 L177.9 1823.8 L224.3 1826.9 L221.2 1842.4 L184 1845.5 L146.9 1851.7 L122.1 1845.5 Z" fill="#dedede" stroke="#5e5e5e" stroke-width="1.8" stroke-linejoin="round"/>
<path d="M263 1788 L309.4 1805 L311 1823.8 L286 1816 L267.6 1811 Z" fill="#dedede" stroke="#5e5e5e" stroke-width="1.8" stroke-linejoin="round"/>
<path d="M195 1790 L235 1780 L262 1790 L250 1810 L215 1812 Z" fill="#dedede" stroke="#5e5e5e" stroke-width="1.8" stroke-linejoin="round"/>
<ellipse cx="160.5" cy="2003.7" rx="6.1" ry="6.5" fill="#474747" transform="rotate(128.1 160.5 2003.7)"/>
<ellipse cx="145.9" cy="1998.8" rx="5.3" ry="6.4" fill="#474747" transform="rotate(94.2 145.9 1998.8)"/>
<ellipse cx="145.7" cy="2001.1" rx="6.9" ry="4.7" fill="#474747" transform="rotate(158.4 145.7 2001.1)"/>
<ellipse cx="93.2" cy="1991.5" rx="4.7" ry="6.2" fill="#474747" transform="rotate(170 93.2 1991.5)"/>
<ellipse cx="246.7" cy="1993.2" rx="6.6" ry="5" fill="#474747" transform="rotate(43.1 246.7 1993.2)"/>
<ellipse cx="280.6" cy="2000.8" rx="6.1" ry="6" fill="#474747" transform="rotate(176.2 280.6 2000.8)"/>
<ellipse cx="188.6" cy="2006" rx="6.1" ry="6.6" fill="#474747" transform="rotate(78.7 188.6 2006)"/>
<rect x="85.4" y="1765.4" width="344.6" height="349" filter="url(#grain)" opacity="0.3"/>
</g>
<text x="356" y="1900.7" font-size="36" fill="#fff">RPE</text>
<text x="377.7" y="2077.5" font-size="36" fill="#fff">OS</text>
<text x="246" y="1874.5" font-size="40" text-anchor="middle" font-weight="bold" fill="#111">*</text>
<text x="291" y="1905.5" font-size="40" text-anchor="middle" font-weight="bold" fill="#111">*</text>
<text x="219" y="1971.1" font-size="40" text-anchor="middle" font-weight="bold" fill="#111">*</text>
<g clip-path="url(#cT3)">
<rect x="85.4" y="2150" width="344.6" height="351" fill="#606060"/>
<path d="M85 2244 L430 2154 V2150 H85 Z" fill="#f0f0f0"/>
<path d="M85 2244 L430 2154 V2176 L85 2266 Z" fill="#c0c0c0"/>
<path d="M85 2264 L430 2174 V2196 C380 2206 330 2232 260 2250 C190 2262 120 2278 85 2290 Z" fill="#a2a2a2"/>
<ellipse cx="335.8" cy="2347.6" rx="5.1" ry="7.1" fill="#333333" transform="rotate(12.3 335.8 2347.6)"/>
<ellipse cx="114.6" cy="2398.6" rx="4.5" ry="6.1" fill="#333333" transform="rotate(-39.3 114.6 2398.6)"/>
<ellipse cx="405.7" cy="2313.7" rx="4.5" ry="6.1" fill="#333333" transform="rotate(-45.8 405.7 2313.7)"/>
<ellipse cx="326.4" cy="2372.5" rx="4.2" ry="9" fill="#333333" transform="rotate(-13.7 326.4 2372.5)"/>
<ellipse cx="367.6" cy="2384.9" rx="7.1" ry="6.3" fill="#333333" transform="rotate(36.8 367.6 2384.9)"/>
<ellipse cx="400.7" cy="2403.6" rx="4.4" ry="7" fill="#333333" transform="rotate(-38.8 400.7 2403.6)"/>
<ellipse cx="99.8" cy="2389.2" rx="6.8" ry="9.2" fill="#333333" transform="rotate(32.5 99.8 2389.2)"/>
<ellipse cx="122.2" cy="2276.7" rx="6.7" ry="7" fill="#333333" transform="rotate(-18.1 122.2 2276.7)"/>
<ellipse cx="332.8" cy="2317.2" rx="5.1" ry="10.8" fill="#333333" transform="rotate(0.4 332.8 2317.2)"/>
<ellipse cx="379.2" cy="2354.7" rx="4.1" ry="8.1" fill="#333333" transform="rotate(-6.4 379.2 2354.7)"/>
<ellipse cx="352.4" cy="2314" rx="6.5" ry="8.7" fill="#333333" transform="rotate(-28.3 352.4 2314)"/>
<ellipse cx="382.9" cy="2275.6" rx="6.9" ry="6.9" fill="#333333" transform="rotate(-49.9 382.9 2275.6)"/>
<ellipse cx="157.1" cy="2376.3" rx="7.4" ry="6" fill="#333333" transform="rotate(-0.9 157.1 2376.3)"/>
<ellipse cx="151.1" cy="2336.2" rx="5.2" ry="10.2" fill="#333333" transform="rotate(-23.9 151.1 2336.2)"/>
<ellipse cx="410.8" cy="2304.6" rx="4.8" ry="9.5" fill="#333333" transform="rotate(-0.2 410.8 2304.6)"/>
<ellipse cx="125.6" cy="2357.5" rx="4.3" ry="9.9" fill="#333333" transform="rotate(19.7 125.6 2357.5)"/>
<ellipse cx="357.1" cy="2356.2" rx="5.2" ry="8" fill="#333333" transform="rotate(-10.5 357.1 2356.2)"/>
<ellipse cx="392.5" cy="2274.9" rx="7.1" ry="6.1" fill="#333333" transform="rotate(-29.4 392.5 2274.9)"/>
<ellipse cx="178" cy="2397.2" rx="5.8" ry="7.9" fill="#333333" transform="rotate(38.4 178 2397.2)"/>
<ellipse cx="167.9" cy="2331.1" rx="5.9" ry="9.8" fill="#333333" transform="rotate(25.3 167.9 2331.1)"/>
<ellipse cx="376.3" cy="2361.3" rx="6.6" ry="6.8" fill="#333333" transform="rotate(-6.1 376.3 2361.3)"/>
<ellipse cx="352.5" cy="2348.9" rx="4.4" ry="8.3" fill="#333333" transform="rotate(38.5 352.5 2348.9)"/>
<ellipse cx="376.5" cy="2285.2" rx="4.5" ry="7.2" fill="#333333" transform="rotate(-17.3 376.5 2285.2)"/>
<ellipse cx="421.5" cy="2371.3" rx="4.4" ry="10.8" fill="#333333" transform="rotate(-39.8 421.5 2371.3)"/>
<ellipse cx="219.4" cy="2409.6" rx="6.8" ry="9.7" fill="#333333" transform="rotate(-6.5 219.4 2409.6)"/>
<ellipse cx="155.1" cy="2357.7" rx="4.4" ry="7" fill="#333333" transform="rotate(-11.2 155.1 2357.7)"/>
<ellipse cx="99.6" cy="2321.9" rx="6.8" ry="9.5" fill="#333333" transform="rotate(0 99.6 2321.9)"/>
<ellipse cx="136.5" cy="2352.6" rx="5.4" ry="9.7" fill="#333333" transform="rotate(40.8 136.5 2352.6)"/>
<ellipse cx="344.2" cy="2325.2" rx="4.8" ry="9.6" fill="#333333" transform="rotate(38 344.2 2325.2)"/>
<ellipse cx="352.7" cy="2367" rx="7" ry="9.4" fill="#333333" transform="rotate(14.2 352.7 2367)"/>
<ellipse cx="331.9" cy="2356.4" rx="4.9" ry="8.1" fill="#333333" transform="rotate(-4.5 331.9 2356.4)"/>
<ellipse cx="318.9" cy="2401.5" rx="4.6" ry="9.3" fill="#333333" transform="rotate(27.8 318.9 2401.5)"/>
<ellipse cx="421.3" cy="2267.7" rx="5.9" ry="6.8" fill="#333333" transform="rotate(28.2 421.3 2267.7)"/>
<ellipse cx="409.7" cy="2339.9" rx="4.4" ry="8.9" fill="#333333" transform="rotate(4.1 409.7 2339.9)"/>
<ellipse cx="333.3" cy="2338.8" rx="6.2" ry="10.1" fill="#333333" transform="rotate(2.2 333.3 2338.8)"/>
<ellipse cx="228.3" cy="2404.2" rx="4.7" ry="9.4" fill="#333333" transform="rotate(-10.8 228.3 2404.2)"/>
<ellipse cx="348.8" cy="2280.4" rx="7.4" ry="7.8" fill="#333333" transform="rotate(-44.3 348.8 2280.4)"/>
<ellipse cx="92.6" cy="2324.8" rx="5.5" ry="9.5" fill="#333333" transform="rotate(-14.8 92.6 2324.8)"/>
<ellipse cx="341.6" cy="2403" rx="5.8" ry="7.1" fill="#333333" transform="rotate(30.1 341.6 2403)"/>
<ellipse cx="132.2" cy="2378.5" rx="6.8" ry="9.2" fill="#333333" transform="rotate(-3.1 132.2 2378.5)"/>
<ellipse cx="417.6" cy="2315" rx="6.2" ry="10.1" fill="#333333" transform="rotate(31.6 417.6 2315)"/>
<ellipse cx="373.1" cy="2315.2" rx="7" ry="7.3" fill="#333333" transform="rotate(-12.4 373.1 2315.2)"/>
<ellipse cx="334.9" cy="2304.2" rx="4.9" ry="7.5" fill="#333333" transform="rotate(-2 334.9 2304.2)"/>
<ellipse cx="405.6" cy="2390.2" rx="4.2" ry="10.1" fill="#333333" transform="rotate(40.6 405.6 2390.2)"/>
<ellipse cx="356.1" cy="2283.1" rx="6.9" ry="9.2" fill="#333333" transform="rotate(-48.5 356.1 2283.1)"/>
<ellipse cx="91.9" cy="2404.8" rx="6.3" ry="7.3" fill="#333333" transform="rotate(-39.8 91.9 2404.8)"/>
<ellipse cx="353.5" cy="2314" rx="4.5" ry="10.5" fill="#333333" transform="rotate(29.2 353.5 2314)"/>
<ellipse cx="145.4" cy="2395.7" rx="6.1" ry="9.9" fill="#333333" transform="rotate(16.8 145.4 2395.7)"/>
<ellipse cx="393.7" cy="2380.2" rx="6.9" ry="7" fill="#333333" transform="rotate(19.3 393.7 2380.2)"/>
<ellipse cx="90.3" cy="2388.1" rx="5.6" ry="8.8" fill="#333333" transform="rotate(16.5 90.3 2388.1)"/>
<ellipse cx="375.5" cy="2318.2" rx="5.5" ry="10.8" fill="#333333" transform="rotate(-42.5 375.5 2318.2)"/>
<ellipse cx="97.8" cy="2353.5" rx="6.4" ry="10.7" fill="#333333" transform="rotate(-17 97.8 2353.5)"/>
<ellipse cx="423.7" cy="2338.6" rx="5.7" ry="10.5" fill="#333333" transform="rotate(-46.6 423.7 2338.6)"/>
<ellipse cx="333.6" cy="2355.8" rx="5.2" ry="10.3" fill="#333333" transform="rotate(-13.4 333.6 2355.8)"/>
<ellipse cx="351.5" cy="2293.6" rx="5.5" ry="8.1" fill="#333333" transform="rotate(5.4 351.5 2293.6)"/>
<ellipse cx="370.7" cy="2305.9" rx="6.9" ry="8" fill="#333333" transform="rotate(0.4 370.7 2305.9)"/>
<ellipse cx="421.4" cy="2360.2" rx="6.8" ry="7.7" fill="#333333" transform="rotate(-18.3 421.4 2360.2)"/>
<ellipse cx="101.7" cy="2370.4" rx="7.1" ry="8.7" fill="#333333" transform="rotate(-45 101.7 2370.4)"/>
<ellipse cx="190.7" cy="2262.9" rx="4.7" ry="10.6" fill="#333333" transform="rotate(10.9 190.7 2262.9)"/>
<ellipse cx="313" cy="2380.4" rx="7.2" ry="9.1" fill="#333333" transform="rotate(11.7 313 2380.4)"/>
<ellipse cx="160.7" cy="2362.1" rx="5.6" ry="9.8" fill="#333333" transform="rotate(-39.9 160.7 2362.1)"/>
<ellipse cx="352.9" cy="2399.1" rx="6.3" ry="7.8" fill="#333333" transform="rotate(32.3 352.9 2399.1)"/>
<ellipse cx="357" cy="2346.3" rx="4.9" ry="7.5" fill="#333333" transform="rotate(-7.8 357 2346.3)"/>
<ellipse cx="307.5" cy="2402.1" rx="4.2" ry="8.8" fill="#333333" transform="rotate(-46.1 307.5 2402.1)"/>
<ellipse cx="128.6" cy="2383.5" rx="6" ry="10.6" fill="#333333" transform="rotate(-5.4 128.6 2383.5)"/>
<ellipse cx="92.8" cy="2320.1" rx="6.1" ry="10.7" fill="#333333" transform="rotate(48.1 92.8 2320.1)"/>
<ellipse cx="122.9" cy="2358.7" rx="4.7" ry="6.8" fill="#333333" transform="rotate(-48.4 122.9 2358.7)"/>
<ellipse cx="89.6" cy="2364.6" rx="4.4" ry="10.8" fill="#333333" transform="rotate(-41.2 89.6 2364.6)"/>
<ellipse cx="385.4" cy="2281.3" rx="4.1" ry="9.6" fill="#333333" transform="rotate(-25.8 385.4 2281.3)"/>
<ellipse cx="338.9" cy="2290.1" rx="4.2" ry="9.9" fill="#333333" transform="rotate(21.4 338.9 2290.1)"/>
<ellipse cx="380.6" cy="2371.5" rx="4.3" ry="9.1" fill="#333333" transform="rotate(20.9 380.6 2371.5)"/>
<ellipse cx="174.9" cy="2406.6" rx="6.5" ry="6.1" fill="#333333" transform="rotate(-48.5 174.9 2406.6)"/>
<ellipse cx="310.5" cy="2384.6" rx="4.3" ry="7.6" fill="#333333" transform="rotate(22.9 310.5 2384.6)"/>
<ellipse cx="144.8" cy="2391.1" rx="5.7" ry="6.3" fill="#333333" transform="rotate(-13.2 144.8 2391.1)"/>
<ellipse cx="360.7" cy="2316.5" rx="6.3" ry="9.1" fill="#333333" transform="rotate(-8.2 360.7 2316.5)"/>
<ellipse cx="411.2" cy="2379.7" rx="6" ry="7.5" fill="#333333" transform="rotate(-43.9 411.2 2379.7)"/>
<ellipse cx="421.1" cy="2367.5" rx="6.9" ry="7.7" fill="#333333" transform="rotate(10.6 421.1 2367.5)"/>
<ellipse cx="422.3" cy="2386.7" rx="6.1" ry="7.5" fill="#333333" transform="rotate(-7.1 422.3 2386.7)"/>
<ellipse cx="391.7" cy="2318.5" rx="6.4" ry="9" fill="#333333" transform="rotate(39.6 391.7 2318.5)"/>
<ellipse cx="364.2" cy="2304.5" rx="4" ry="7.3" fill="#333333" transform="rotate(-7.7 364.2 2304.5)"/>
<ellipse cx="391.5" cy="2268.3" rx="6.9" ry="10.1" fill="#333333" transform="rotate(36.7 391.5 2268.3)"/>
<ellipse cx="379.1" cy="2383.1" rx="6.4" ry="10.6" fill="#333333" transform="rotate(-15.3 379.1 2383.1)"/>
<ellipse cx="117.1" cy="2345.1" rx="6.8" ry="7" fill="#333333" transform="rotate(25 117.1 2345.1)"/>
<ellipse cx="406.6" cy="2297.1" rx="6.1" ry="9.4" fill="#333333" transform="rotate(-3.5 406.6 2297.1)"/>
<ellipse cx="344.9" cy="2380.7" rx="5.6" ry="6.4" fill="#333333" transform="rotate(30.7 344.9 2380.7)"/>
<ellipse cx="352.1" cy="2296.9" rx="6" ry="10.5" fill="#333333" transform="rotate(38.5 352.1 2296.9)"/>
<ellipse cx="103.3" cy="2411.6" rx="5.3" ry="6.5" fill="#333333" transform="rotate(13.3 103.3 2411.6)"/>
<ellipse cx="357.3" cy="2285.4" rx="6.1" ry="7.7" fill="#333333" transform="rotate(1.9 357.3 2285.4)"/>
<ellipse cx="95" cy="2267" rx="7.5" ry="10.3" fill="#333333" transform="rotate(-1.4 95 2267)"/>
<ellipse cx="354.5" cy="2325.9" rx="7.3" ry="9.8" fill="#333333" transform="rotate(31.9 354.5 2325.9)"/>
<ellipse cx="417.5" cy="2300.1" rx="4.1" ry="7" fill="#333333" transform="rotate(-31.9 417.5 2300.1)"/>
<ellipse cx="116.6" cy="2269.6" rx="6" ry="10.4" fill="#333333" transform="rotate(-4.2 116.6 2269.6)"/>
<ellipse cx="411.9" cy="2398.5" rx="4.2" ry="9" fill="#333333" transform="rotate(-10.3 411.9 2398.5)"/>
<ellipse cx="129" cy="2405.9" rx="4.9" ry="8.8" fill="#333333" transform="rotate(14.1 129 2405.9)"/>
<ellipse cx="415.1" cy="2362.5" rx="5.4" ry="8.2" fill="#333333" transform="rotate(-34 415.1 2362.5)"/>
<path d="M165 2275 C175 2255 215 2258 250 2262 C300 2268 330 2285 342 2320 C348 2360 330 2385 290 2392 C240 2398 200 2385 185 2360 C165 2330 160 2300 165 2275 Z" fill="#f2f2f2" stroke="#555" stroke-width="1.8"/>
<path d="M135 2270 C143 2255 178 2258 190 2275 C192 2295 178 2305 158 2303 C140 2298 131 2285 135 2270 Z" fill="#f2f2f2" stroke="#555" stroke-width="1.8"/>
<path d="M284 2242 C300 2232 335 2235 349 2248 C351 2263 335 2273 310 2273 C292 2269 281 2256 284 2242 Z" fill="#f2f2f2" stroke="#555" stroke-width="1.8"/>
<path d="M388 2222 C400 2210 430 2212 432 2226 V2264 C410 2264 390 2252 388 2222 Z" fill="#f2f2f2" stroke="#555" stroke-width="1.8"/>
<path d="M85 2290 C100 2288 110 2300 105 2320 C100 2330 90 2330 85 2328 Z" fill="#f2f2f2" stroke="#555" stroke-width="1.8"/>
<path d="M232 2262 C238 2300 240 2330 238 2345" fill="none" stroke="#666" stroke-width="2.5"/>
<rect x="85.4" y="2400" width="344.6" height="42" fill="#b3b3b3"/>
<path d="M85 2403 C150 2397 250 2409 430 2400" fill="none" stroke="#8a8a8a" stroke-width="1.2" opacity="0.7"/>
<path d="M85 2407 C150 2401 250 2413 430 2404" fill="none" stroke="#8a8a8a" stroke-width="1.2" opacity="0.7"/>
<path d="M85 2411 C150 2405 250 2417 430 2408" fill="none" stroke="#8a8a8a" stroke-width="1.2" opacity="0.7"/>
<path d="M85 2415 C150 2409 250 2421 430 2412" fill="none" stroke="#8a8a8a" stroke-width="1.2" opacity="0.7"/>
<path d="M85 2419 C150 2413 250 2425 430 2416" fill="none" stroke="#8a8a8a" stroke-width="1.2" opacity="0.7"/>
<path d="M85 2423 C150 2417 250 2429 430 2420" fill="none" stroke="#8a8a8a" stroke-width="1.2" opacity="0.7"/>
<path d="M85 2427 C150 2421 250 2433 430 2424" fill="none" stroke="#8a8a8a" stroke-width="1.2" opacity="0.7"/>
<path d="M85 2431 C150 2425 250 2437 430 2428" fill="none" stroke="#8a8a8a" stroke-width="1.2" opacity="0.7"/>
<path d="M85 2435 C150 2429 250 2441 430 2432" fill="none" stroke="#8a8a8a" stroke-width="1.2" opacity="0.7"/>
<path d="M85 2439 C150 2433 250 2445 430 2436" fill="none" stroke="#8a8a8a" stroke-width="1.2" opacity="0.7"/>
<ellipse cx="312.1" cy="2439.7" rx="5.7" ry="5.1" fill="#4a4a4a" transform="rotate(46.1 312.1 2439.7)"/>
<ellipse cx="171" cy="2436.6" rx="7.7" ry="7.5" fill="#4a4a4a" transform="rotate(8.5 171 2436.6)"/>
<ellipse cx="270.9" cy="2429.8" rx="6.9" ry="8" fill="#4a4a4a" transform="rotate(10 270.9 2429.8)"/>
<ellipse cx="123.3" cy="2431.4" rx="7.8" ry="7" fill="#4a4a4a" transform="rotate(53.8 123.3 2431.4)"/>
<ellipse cx="226" cy="2431.5" rx="5.3" ry="6" fill="#4a4a4a" transform="rotate(46.3 226 2431.5)"/>
<ellipse cx="118.6" cy="2421.8" rx="5.5" ry="5.7" fill="#4a4a4a" transform="rotate(25.8 118.6 2421.8)"/>
<rect x="85.4" y="2440" width="344.6" height="65" fill="#aaaaaa"/>
<ellipse cx="80.7" cy="2457.9" rx="28.2" ry="25.2" fill="#555555" transform="rotate(-20.6 77.6 2458.2)"/>
<ellipse cx="136.4" cy="2461.1" rx="28.1" ry="22.6" fill="#5c5c5c" transform="rotate(-3.2 132.9 2458.2)"/>
<ellipse cx="188.1" cy="2459.2" rx="26" ry="23.4" fill="#646464" transform="rotate(19.4 185.3 2458.2)"/>
<ellipse cx="238.2" cy="2456.9" rx="27.4" ry="22.8" fill="#555555" transform="rotate(-2.9 239.2 2458.2)"/>
<ellipse cx="297.8" cy="2456.3" rx="25.8" ry="22.7" fill="#646464" transform="rotate(-13.7 294.8 2458.2)"/>
<ellipse cx="352.6" cy="2456.3" rx="24.4" ry="23.9" fill="#646464" transform="rotate(-1.1 350.1 2458.2)"/>
<ellipse cx="399.2" cy="2461.4" rx="27" ry="22.9" fill="#555555" transform="rotate(-1.4 402.8 2458.2)"/>
<ellipse cx="457.9" cy="2462" rx="25.9" ry="23.1" fill="#646464" transform="rotate(-15.7 455.9 2458.2)"/>
<ellipse cx="101.9" cy="2506.1" rx="24.2" ry="24.9" fill="#646464" transform="rotate(-12.4 103.6 2502.9)"/>
<ellipse cx="159.1" cy="2503" rx="26.3" ry="23.8" fill="#5c5c5c" transform="rotate(17.4 159.5 2502.9)"/>
<ellipse cx="212.8" cy="2502.4" rx="28.2" ry="23" fill="#646464" transform="rotate(4.3 215.3 2502.9)"/>
<ellipse cx="268" cy="2500.8" rx="24.7" ry="24.4" fill="#5c5c5c" transform="rotate(19.7 267.8 2502.9)"/>
<ellipse cx="323.4" cy="2501.1" rx="24.9" ry="24.5" fill="#555555" transform="rotate(12.5 323.4 2502.9)"/>
<ellipse cx="377.1" cy="2499" rx="27.2" ry="24.1" fill="#555555" transform="rotate(20.5 378.6 2502.9)"/>
<ellipse cx="436.8" cy="2501.6" rx="27.9" ry="25.5" fill="#555555" transform="rotate(-0.4 434.3 2502.9)"/>
<rect x="85.4" y="2150" width="344.6" height="351" filter="url(#grain)" opacity="0.3"/>
</g>
<text x="356.4" y="2324" font-size="36" fill="#fff">RPE</text>
<text x="377.8" y="2434.5" font-size="36" fill="#fff">OS</text>
<text x="156" y="2309.2" font-size="40" text-anchor="middle" font-weight="bold" fill="#111">*</text>
<text x="208.6" y="2342.5" font-size="40" text-anchor="middle" font-weight="bold" fill="#111">*</text>
<text x="323" y="2277.1" font-size="40" text-anchor="middle" font-weight="bold" fill="#111">*</text>
<rect x="365" y="2486" width="52.5" height="6.4" fill="#fff"/>
<g clip-path="url(#cC1)">
<rect x="491.9" y="1383.9" width="349.6" height="349.2" fill="#000"/>
<circle cx="675" cy="1690" r="34" fill="#B000B0" opacity="0.2" filter="url(#blur4)"/>
<circle cx="675" cy="1690" r="32.3" fill="#FF00FF" opacity="0.4" filter="url(#speck)"/>
<circle cx="648" cy="1705" r="22" fill="#B000B0" opacity="0.1" filter="url(#blur4)"/>
<circle cx="648" cy="1705" r="20.9" fill="#FF00FF" opacity="0.3" filter="url(#speck)"/>
<circle cx="645" cy="1412" r="14" fill="#B000B0" opacity="0.1" filter="url(#blur4)"/>
<circle cx="645" cy="1412" r="13.3" fill="#FF00FF" opacity="0.2" filter="url(#speck)"/>
<circle cx="515" cy="1545" r="20" fill="#B000B0" opacity="0.2" filter="url(#blur4)"/>
<circle cx="515" cy="1545" r="19" fill="#FF00FF" opacity="0.4" filter="url(#speck)"/>
<circle cx="680" cy="1405" r="14" fill="#B000B0" opacity="0.1" filter="url(#blur4)"/>
<circle cx="680" cy="1405" r="13.3" fill="#FF00FF" opacity="0.1" filter="url(#speck)"/>
<circle cx="700" cy="1640" r="22" fill="#B000B0" opacity="0.1" filter="url(#blur4)"/>
<circle cx="700" cy="1640" r="20.9" fill="#FF00FF" opacity="0.2" filter="url(#speck)"/>
<circle cx="600" cy="1540" r="14" fill="#B000B0" opacity="0.1" filter="url(#blur4)"/>
<circle cx="600" cy="1540" r="13.3" fill="#FF00FF" opacity="0.2" filter="url(#speck)"/>
<circle cx="560" cy="1620" r="16" fill="#B000B0" opacity="0.1" filter="url(#blur4)"/>
<circle cx="560" cy="1620" r="15.2" fill="#FF00FF" opacity="0.1" filter="url(#speck)"/>
<path d="M533.9 1383 L533.9 1403.4" fill="none" stroke="#D400D8" stroke-width="3.3" stroke-linecap="round" stroke-linejoin="round" opacity="1"/>
<path d="M533.9 1383 L533.9 1403.4" fill="none" stroke="#FF4DFF" stroke-width="1.3" stroke-linecap="round" stroke-linejoin="round" opacity="0.6"/>
<path d="M533.9 1403.4 L543 1416 L553.2 1428.1" fill="none" stroke="#D400D8" stroke-width="3.3" stroke-linecap="round" stroke-linejoin="round" opacity="1"/>
<path d="M533.9 1403.4 L543 1416 L553.2 1428.1" fill="none" stroke="#FF4DFF" stroke-width="1.3" stroke-linecap="round" stroke-linejoin="round" opacity="0.6"/>
<path d="M553.2 1428.1 L570 1431 L587.5 1429.1" fill="none" stroke="#D400D8" stroke-width="3.3" stroke-linecap="round" stroke-linejoin="round" opacity="1"/>
<path d="M553.2 1428.1 L570 1431 L587.5 1429.1" fill="none" stroke="#FF4DFF" stroke-width="1.3" stroke-linecap="round" stroke-linejoin="round" opacity="0.6"/>
<path d="M587.5 1429.1 L596 1412 L605.7 1397" fill="none" stroke="#D400D8" stroke-width="2.5" stroke-linecap="round" stroke-linejoin="round" opacity="1"/>
<path d="M587.5 1429.1 L596 1412 L605.7 1397" fill="none" stroke="#FF4DFF" stroke-width="1" stroke-linecap="round" stroke-linejoin="round" opacity="0.6"/>
<path d="M605.7 1397 L607 1396" fill="none" stroke="#D400D8" stroke-width="2.5" stroke-linecap="round" stroke-linejoin="round" opacity="1"/>
<path d="M605.7 1397 L607 1396" fill="none" stroke="#FF4DFF" stroke-width="1" stroke-linecap="round" stroke-linejoin="round" opacity="0.6"/>
<path d="M587.5 1429.1 L597 1446 L603.6 1461.3" fill="none" stroke="#D400D8" stroke-width="3.3" stroke-linecap="round" stroke-linejoin="round" opacity="1"/>
<path d="M587.5 1429.1 L597 1446 L603.6 1461.3" fill="none" stroke="#FF4DFF" stroke-width="1.3" stroke-linecap="round" stroke-linejoin="round" opacity="0.6"/>
<path d="M603.6 1461.3 L624 1463 L644.3 1464.5" fill="none" stroke="#D400D8" stroke-width="3.3" stroke-linecap="round" stroke-linejoin="round" opacity="1"/>
<path d="M603.6 1461.3 L624 1463 L644.3 1464.5" fill="none" stroke="#FF4DFF" stroke-width="1.3" stroke-linecap="round" stroke-linejoin="round" opacity="0.6"/>
<path d="M553.2 1428.1 L543.6 1444 L535 1458.1" fill="none" stroke="#D400D8" stroke-width="2.5" stroke-linecap="round" stroke-linejoin="round" opacity="1"/>
<path d="M553.2 1428.1 L543.6 1444 L535 1458.1" fill="none" stroke="#FF4DFF" stroke-width="1" stroke-linecap="round" stroke-linejoin="round" opacity="0.6"/>
<path d="M535 1458.1 L522 1456 L508.2 1450.6" fill="none" stroke="#D400D8" stroke-width="3.3" stroke-linecap="round" stroke-linejoin="round" opacity="1"/>
<path d="M535 1458.1 L522 1456 L508.2 1450.6" fill="none" stroke="#FF4DFF" stroke-width="1.3" stroke-linecap="round" stroke-linejoin="round" opacity="0.6"/>
<path d="M508.2 1450.6 L504 1433 L501.8 1420.6" fill="none" stroke="#D400D8" stroke-width="2.5" stroke-linecap="round" stroke-linejoin="round" opacity="1"/>
<path d="M508.2 1450.6 L504 1433 L501.8 1420.6" fill="none" stroke="#FF4DFF" stroke-width="1" stroke-linecap="round" stroke-linejoin="round" opacity="0.6"/>
<path d="M501.8 1420.6 L492 1416.3" fill="none" stroke="#D400D8" stroke-width="2.5" stroke-linecap="round" stroke-linejoin="round" opacity="1"/>
<path d="M501.8 1420.6 L492 1416.3" fill="none" stroke="#FF4DFF" stroke-width="1" stroke-linecap="round" stroke-linejoin="round" opacity="0.6"/>
<path d="M501.8 1420.6 L514.6 1412" fill="none" stroke="#D400D8" stroke-width="1.6" stroke-linecap="round" stroke-linejoin="round" opacity="0.55"/>
<path d="M535 1458.1 L540.4 1473 L554.3 1491.3" fill="none" stroke="#D400D8" stroke-width="3.3" stroke-linecap="round" stroke-linejoin="round" opacity="1"/>
<path d="M535 1458.1 L540.4 1473 L554.3 1491.3" fill="none" stroke="#FF4DFF" stroke-width="1.3" stroke-linecap="round" stroke-linejoin="round" opacity="0.6"/>
<path d="M554.3 1491.3 L573 1493 L591.8 1493.4" fill="none" stroke="#D400D8" stroke-width="3.3" stroke-linecap="round" stroke-linejoin="round" opacity="1"/>
<path d="M554.3 1491.3 L573 1493 L591.8 1493.4" fill="none" stroke="#FF4DFF" stroke-width="1.3" stroke-linecap="round" stroke-linejoin="round" opacity="0.6"/>
<path d="M591.8 1493.4 L602 1508 L607.9 1523.4" fill="none" stroke="#D400D8" stroke-width="2.5" stroke-linecap="round" stroke-linejoin="round" opacity="1"/>
<path d="M591.8 1493.4 L602 1508 L607.9 1523.4" fill="none" stroke="#FF4DFF" stroke-width="1" stroke-linecap="round" stroke-linejoin="round" opacity="0.6"/>
<path d="M607.9 1523.4 L629.3 1519 L644.3 1517" fill="none" stroke="#D400D8" stroke-width="3.3" stroke-linecap="round" stroke-linejoin="round" opacity="1"/>
<path d="M607.9 1523.4 L629.3 1519 L644.3 1517" fill="none" stroke="#FF4DFF" stroke-width="1.3" stroke-linecap="round" stroke-linejoin="round" opacity="0.6"/>
<path d="M644.3 1464.5 L650.7 1476.3 L658.2 1489.1" fill="none" stroke="#D400D8" stroke-width="3.3" stroke-linecap="round" stroke-linejoin="round" opacity="1"/>
<path d="M644.3 1464.5 L650.7 1476.3 L658.2 1489.1" fill="none" stroke="#FF4DFF" stroke-width="1.3" stroke-linecap="round" stroke-linejoin="round" opacity="0.6"/>
<path d="M658.2 1489.1 L670 1489.1" fill="none" stroke="#D400D8" stroke-width="2.5" stroke-linecap="round" stroke-linejoin="round" opacity="1"/>
<path d="M658.2 1489.1 L670 1489.1" fill="none" stroke="#FF4DFF" stroke-width="1" stroke-linecap="round" stroke-linejoin="round" opacity="0.6"/>
<path d="M644.3 1464.5 L650.7 1451.6 L657.1 1437.7" fill="none" stroke="#D400D8" stroke-width="2.5" stroke-linecap="round" stroke-linejoin="round" opacity="1"/>
<path d="M644.3 1464.5 L650.7 1451.6 L657.1 1437.7" fill="none" stroke="#FF4DFF" stroke-width="1" stroke-linecap="round" stroke-linejoin="round" opacity="0.6"/>
<path d="M657.1 1437.7 L663.6 1436.6" fill="none" stroke="#D400D8" stroke-width="2.5" stroke-linecap="round" stroke-linejoin="round" opacity="1"/>
<path d="M657.1 1437.7 L663.6 1436.6" fill="none" stroke="#FF4DFF" stroke-width="1" stroke-linecap="round" stroke-linejoin="round" opacity="0.6"/>
<path d="M658.2 1489.1 L650.7 1505.2 L644.3 1517" fill="none" stroke="#D400D8" stroke-width="1.6" stroke-linecap="round" stroke-linejoin="round" opacity="0.55"/>
<path d="M644.3 1517 L669.9 1532.9" fill="none" stroke="#D400D8" stroke-width="3.3" stroke-linecap="round" stroke-linejoin="round" opacity="1"/>
<path d="M644.3 1517 L669.9 1532.9" fill="none" stroke="#FF4DFF" stroke-width="1.3" stroke-linecap="round" stroke-linejoin="round" opacity="0.6"/>
<path d="M554.3 1491.3 L540.4 1510.6 L529.6 1528.8" fill="none" stroke="#D400D8" stroke-width="2.5" stroke-linecap="round" stroke-linejoin="round" opacity="1"/>
<path d="M554.3 1491.3 L540.4 1510.6 L529.6 1528.8" fill="none" stroke="#FF4DFF" stroke-width="1" stroke-linecap="round" stroke-linejoin="round" opacity="0.6"/>
<path d="M529.6 1528.8 L493.2 1518.1" fill="none" stroke="#D400D8" stroke-width="5.5" stroke-linecap="round" stroke-linejoin="round" opacity="1"/>
<path d="M529.6 1528.8 L493.2 1518.1" fill="none" stroke="#FF4DFF" stroke-width="2.2" stroke-linecap="round" stroke-linejoin="round" opacity="0.6"/>
<path d="M529.6 1528.8 L540.4 1546 L549.5 1559" fill="none" stroke="#D400D8" stroke-width="3.3" stroke-linecap="round" stroke-linejoin="round" opacity="1"/>
<path d="M529.6 1528.8 L540.4 1546 L549.5 1559" fill="none" stroke="#FF4DFF" stroke-width="1.3" stroke-linecap="round" stroke-linejoin="round" opacity="0.6"/>
<path d="M607.9 1523.4 L602.5 1537.4 L600.4 1554" fill="none" stroke="#D400D8" stroke-width="2.5" stroke-linecap="round" stroke-linejoin="round" opacity="1"/>
<path d="M607.9 1523.4 L602.5 1537.4 L600.4 1554" fill="none" stroke="#FF4DFF" stroke-width="1" stroke-linecap="round" stroke-linejoin="round" opacity="0.6"/>
<path d="M600.4 1554 L575.7 1556 L549.5 1559" fill="none" stroke="#D400D8" stroke-width="3.3" stroke-linecap="round" stroke-linejoin="round" opacity="1"/>
<path d="M600.4 1554 L575.7 1556 L549.5 1559" fill="none" stroke="#FF4DFF" stroke-width="1.3" stroke-linecap="round" stroke-linejoin="round" opacity="0.6"/>
<path d="M603.6 1461.3 L601.4 1469.9" fill="none" stroke="#D400D8" stroke-width="2.5" stroke-linecap="round" stroke-linejoin="round" opacity="1"/>
<path d="M603.6 1461.3 L601.4 1469.9" fill="none" stroke="#FF4DFF" stroke-width="1" stroke-linecap="round" stroke-linejoin="round" opacity="0.6"/>
<path d="M690.8 1383 L700 1395 L708.5 1404" fill="none" stroke="#D400D8" stroke-width="3.3" stroke-linecap="round" stroke-linejoin="round" opacity="1"/>
<path d="M690.8 1383 L700 1395 L708.5 1404" fill="none" stroke="#FF4DFF" stroke-width="1.3" stroke-linecap="round" stroke-linejoin="round" opacity="0.6"/>
<path d="M708.5 1404 L732.7 1397.4" fill="none" stroke="#D400D8" stroke-width="3.3" stroke-linecap="round" stroke-linejoin="round" opacity="1"/>
<path d="M708.5 1404 L732.7 1397.4" fill="none" stroke="#FF4DFF" stroke-width="1.3" stroke-linecap="round" stroke-linejoin="round" opacity="0.6"/>
<path d="M732.7 1397.4 L732.7 1393" fill="none" stroke="#D400D8" stroke-width="2.5" stroke-linecap="round" stroke-linejoin="round" opacity="1"/>
<path d="M732.7 1397.4 L732.7 1393" fill="none" stroke="#FF4DFF" stroke-width="1" stroke-linecap="round" stroke-linejoin="round" opacity="0.6"/>
<path d="M732.7 1397.4 L748 1405 L761.3 1413.9" fill="none" stroke="#D400D8" stroke-width="2.5" stroke-linecap="round" stroke-linejoin="round" opacity="1"/>
<path d="M732.7 1397.4 L748 1405 L761.3 1413.9" fill="none" stroke="#FF4DFF" stroke-width="1" stroke-linecap="round" stroke-linejoin="round" opacity="0.6"/>
<path d="M761.3 1413.9 L764.6 1439.3" fill="none" stroke="#D400D8" stroke-width="2.5" stroke-linecap="round" stroke-linejoin="round" opacity="1"/>
<path d="M761.3 1413.9 L764.6 1439.3" fill="none" stroke="#FF4DFF" stroke-width="1" stroke-linecap="round" stroke-linejoin="round" opacity="0.6"/>
<path d="M764.6 1439.3 L753.6 1459.1" fill="none" stroke="#D400D8" stroke-width="3.3" stroke-linecap="round" stroke-linejoin="round" opacity="1"/>
<path d="M764.6 1439.3 L753.6 1459.1" fill="none" stroke="#FF4DFF" stroke-width="1.3" stroke-linecap="round" stroke-linejoin="round" opacity="0.6"/>
<path d="M753.6 1459.1 L735 1459 L717.3 1458" fill="none" stroke="#D400D8" stroke-width="3.3" stroke-linecap="round" stroke-linejoin="round" opacity="1"/>
<path d="M753.6 1459.1 L735 1459 L717.3 1458" fill="none" stroke="#FF4DFF" stroke-width="1.3" stroke-linecap="round" stroke-linejoin="round" opacity="0.6"/>
<path d="M717.3 1458 L708 1447 L698.5 1437.1" fill="none" stroke="#D400D8" stroke-width="2.5" stroke-linecap="round" stroke-linejoin="round" opacity="1"/>
<path d="M717.3 1458 L708 1447 L698.5 1437.1" fill="none" stroke="#FF4DFF" stroke-width="1" stroke-linecap="round" stroke-linejoin="round" opacity="0.6"/>
<path d="M698.5 1437.1 L660 1438.2" fill="none" stroke="#D400D8" stroke-width="2.5" stroke-linecap="round" stroke-linejoin="round" opacity="1"/>
<path d="M698.5 1437.1 L660 1438.2" fill="none" stroke="#FF4DFF" stroke-width="1" stroke-linecap="round" stroke-linejoin="round" opacity="0.6"/>
<path d="M708.5 1404 L704 1421.6 L698.5 1437.1" fill="none" stroke="#D400D8" stroke-width="2.5" stroke-linecap="round" stroke-linejoin="round" opacity="1"/>
<path d="M708.5 1404 L704 1421.6 L698.5 1437.1" fill="none" stroke="#FF4DFF" stroke-width="1" stroke-linecap="round" stroke-linejoin="round" opacity="0.6"/>
<path d="M717.3 1458 L704 1470 L693 1486 L690.8 1491" fill="none" stroke="#D400D8" stroke-width="2.5" stroke-linecap="round" stroke-linejoin="round" opacity="1"/>
<path d="M717.3 1458 L704 1470 L693 1486 L690.8 1491" fill="none" stroke="#FF4DFF" stroke-width="1" stroke-linecap="round" stroke-linejoin="round" opacity="0.6"/>
<path d="M690.8 1491 L660 1487.7" fill="none" stroke="#D400D8" stroke-width="2.5" stroke-linecap="round" stroke-linejoin="round" opacity="1"/>
<path d="M690.8 1491 L660 1487.7" fill="none" stroke="#FF4DFF" stroke-width="1" stroke-linecap="round" stroke-linejoin="round" opacity="0.6"/>
<path d="M690.8 1491 L695.2 1512" fill="none" stroke="#D400D8" stroke-width="2.5" stroke-linecap="round" stroke-linejoin="round" opacity="1"/>
<path d="M690.8 1491 L695.2 1512" fill="none" stroke="#FF4DFF" stroke-width="1" stroke-linecap="round" stroke-linejoin="round" opacity="0.6"/>
<path d="M695.2 1512 L719.5 1525.2" fill="none" stroke="#D400D8" stroke-width="3.3" stroke-linecap="round" stroke-linejoin="round" opacity="1"/>
<path d="M695.2 1512 L719.5 1525.2" fill="none" stroke="#FF4DFF" stroke-width="1.3" stroke-linecap="round" stroke-linejoin="round" opacity="0.6"/>
<path d="M695.2 1512 L669.9 1532.9" fill="none" stroke="#D400D8" stroke-width="3.3" stroke-linecap="round" stroke-linejoin="round" opacity="1"/>
<path d="M695.2 1512 L669.9 1532.9" fill="none" stroke="#FF4DFF" stroke-width="1.3" stroke-linecap="round" stroke-linejoin="round" opacity="0.6"/>
<path d="M669.9 1532.9 L676.5 1556.6" fill="none" stroke="#D400D8" stroke-width="2.5" stroke-linecap="round" stroke-linejoin="round" opacity="1"/>
<path d="M669.9 1532.9 L676.5 1556.6" fill="none" stroke="#FF4DFF" stroke-width="1" stroke-linecap="round" stroke-linejoin="round" opacity="0.6"/>
<path d="M676.5 1556.6 L694 1558 L711.8 1558.8" fill="none" stroke="#D400D8" stroke-width="3.3" stroke-linecap="round" stroke-linejoin="round" opacity="1"/>
<path d="M676.5 1556.6 L694 1558 L711.8 1558.8" fill="none" stroke="#FF4DFF" stroke-width="1.3" stroke-linecap="round" stroke-linejoin="round" opacity="0.6"/>
<path d="M719.5 1525.2 L714 1545 L711.8 1558.8" fill="none" stroke="#D400D8" stroke-width="2.5" stroke-linecap="round" stroke-linejoin="round" opacity="1"/>
<path d="M719.5 1525.2 L714 1545 L711.8 1558.8" fill="none" stroke="#FF4DFF" stroke-width="1" stroke-linecap="round" stroke-linejoin="round" opacity="0.6"/>
<path d="M753.6 1459.1 L764.6 1475.6 L766.8 1481.1" fill="none" stroke="#D400D8" stroke-width="3.3" stroke-linecap="round" stroke-linejoin="round" opacity="1"/>
<path d="M753.6 1459.1 L764.6 1475.6 L766.8 1481.1" fill="none" stroke="#FF4DFF" stroke-width="1.3" stroke-linecap="round" stroke-linejoin="round" opacity="0.6"/>
<path d="M766.8 1481.1 L762.4 1503 L756.9 1516.3" fill="none" stroke="#D400D8" stroke-width="2.5" stroke-linecap="round" stroke-linejoin="round" opacity="1"/>
<path d="M766.8 1481.1 L762.4 1503 L756.9 1516.3" fill="none" stroke="#FF4DFF" stroke-width="1" stroke-linecap="round" stroke-linejoin="round" opacity="0.6"/>
<path d="M756.9 1516.3 L726 1524 L719.5 1525.2" fill="none" stroke="#D400D8" stroke-width="2.5" stroke-linecap="round" stroke-linejoin="round" opacity="1"/>
<path d="M756.9 1516.3 L726 1524 L719.5 1525.2" fill="none" stroke="#FF4DFF" stroke-width="1" stroke-linecap="round" stroke-linejoin="round" opacity="0.6"/>
<path d="M756.9 1516.3 L782.2 1545" fill="none" stroke="#D400D8" stroke-width="2.5" stroke-linecap="round" stroke-linejoin="round" opacity="1"/>
<path d="M756.9 1516.3 L782.2 1545" fill="none" stroke="#FF4DFF" stroke-width="1" stroke-linecap="round" stroke-linejoin="round" opacity="0.6"/>
<path d="M782.2 1545 L781.1 1550 L773.4 1576.4" fill="none" stroke="#D400D8" stroke-width="2.5" stroke-linecap="round" stroke-linejoin="round" opacity="1"/>
<path d="M782.2 1545 L781.1 1550 L773.4 1576.4" fill="none" stroke="#FF4DFF" stroke-width="1" stroke-linecap="round" stroke-linejoin="round" opacity="0.6"/>
<path d="M766.8 1481.1 L803.2 1478.9" fill="none" stroke="#D400D8" stroke-width="1.6" stroke-linecap="round" stroke-linejoin="round" opacity="0.55"/>
<path d="M803.2 1478.9 L831.8 1518.5" fill="none" stroke="#D400D8" stroke-width="1.6" stroke-linecap="round" stroke-linejoin="round" opacity="0.55"/>
<path d="M764.6 1439.3 L794.3 1442.6 L812 1465.7 L803.2 1478.9" fill="none" stroke="#D400D8" stroke-width="1.6" stroke-linecap="round" stroke-linejoin="round" opacity="0.55"/>
<path d="M790 1397 L803 1409 L801 1426" fill="none" stroke="#D400D8" stroke-width="1.6" stroke-linecap="round" stroke-linejoin="round" opacity="0.55"/>
<path d="M549.5 1559 L547.3 1577.5 L545.1 1595.1" fill="none" stroke="#D400D8" stroke-width="3.3" stroke-linecap="round" stroke-linejoin="round" opacity="1"/>
<path d="M549.5 1559 L547.3 1577.5 L545.1 1595.1" fill="none" stroke="#FF4DFF" stroke-width="1.3" stroke-linecap="round" stroke-linejoin="round" opacity="0.6"/>
<path d="M545.1 1595.1 L526.3 1606.2" fill="none" stroke="#D400D8" stroke-width="5.5" stroke-linecap="round" stroke-linejoin="round" opacity="1"/>
<path d="M545.1 1595.1 L526.3 1606.2" fill="none" stroke="#FF4DFF" stroke-width="2.2" stroke-linecap="round" stroke-linejoin="round" opacity="0.6"/>
<path d="M526.3 1606.2 L492.2 1608.4" fill="none" stroke="#D400D8" stroke-width="1.6" stroke-linecap="round" stroke-linejoin="round" opacity="0.55"/>
<path d="M545.1 1595.1 L561.6 1607.3 L580.3 1621.6" fill="none" stroke="#D400D8" stroke-width="2.5" stroke-linecap="round" stroke-linejoin="round" opacity="1"/>
<path d="M545.1 1595.1 L561.6 1607.3 L580.3 1621.6" fill="none" stroke="#FF4DFF" stroke-width="1" stroke-linecap="round" stroke-linejoin="round" opacity="0.6"/>
<path d="M580.3 1621.6 L578.1 1646.9" fill="none" stroke="#D400D8" stroke-width="2.5" stroke-linecap="round" stroke-linejoin="round" opacity="1"/>
<path d="M580.3 1621.6 L578.1 1646.9" fill="none" stroke="#FF4DFF" stroke-width="1" stroke-linecap="round" stroke-linejoin="round" opacity="0.6"/>
<path d="M578.1 1646.9 L556 1651.3 L532.9 1652.4" fill="none" stroke="#D400D8" stroke-width="2.5" stroke-linecap="round" stroke-linejoin="round" opacity="1"/>
<path d="M578.1 1646.9 L556 1651.3 L532.9 1652.4" fill="none" stroke="#FF4DFF" stroke-width="1" stroke-linecap="round" stroke-linejoin="round" opacity="0.6"/>
<path d="M532.9 1652.4 L519.7 1693.2 L519.7 1697" fill="none" stroke="#D400D8" stroke-width="1.6" stroke-linecap="round" stroke-linejoin="round" opacity="0.55"/>
<path d="M578.1 1646.9 L594.6 1655.7 L607.8 1661.2" fill="none" stroke="#D400D8" stroke-width="2.5" stroke-linecap="round" stroke-linejoin="round" opacity="1"/>
<path d="M578.1 1646.9 L594.6 1655.7 L607.8 1661.2" fill="none" stroke="#FF4DFF" stroke-width="1" stroke-linecap="round" stroke-linejoin="round" opacity="0.6"/>
<path d="M607.8 1661.2 L613.3 1674.4 L628.8 1684.3" fill="none" stroke="#D400D8" stroke-width="3.3" stroke-linecap="round" stroke-linejoin="round" opacity="1"/>
<path d="M607.8 1661.2 L613.3 1674.4 L628.8 1684.3" fill="none" stroke="#FF4DFF" stroke-width="1.3" stroke-linecap="round" stroke-linejoin="round" opacity="0.6"/>
<path d="M628.8 1684.3 L639.8 1671 L645.3 1659" fill="none" stroke="#D400D8" stroke-width="2.5" stroke-linecap="round" stroke-linejoin="round" opacity="1"/>
<path d="M628.8 1684.3 L639.8 1671 L645.3 1659" fill="none" stroke="#FF4DFF" stroke-width="1" stroke-linecap="round" stroke-linejoin="round" opacity="0.6"/>
<path d="M622.1 1641.4 L645.3 1659" fill="none" stroke="#D400D8" stroke-width="2.5" stroke-linecap="round" stroke-linejoin="round" opacity="1"/>
<path d="M622.1 1641.4 L645.3 1659" fill="none" stroke="#FF4DFF" stroke-width="1" stroke-linecap="round" stroke-linejoin="round" opacity="0.6"/>
<path d="M622.1 1641.4 L616.6 1630.4 L611.1 1619.4" fill="none" stroke="#D400D8" stroke-width="3.3" stroke-linecap="round" stroke-linejoin="round" opacity="1"/>
<path d="M622.1 1641.4 L616.6 1630.4 L611.1 1619.4" fill="none" stroke="#FF4DFF" stroke-width="1.3" stroke-linecap="round" stroke-linejoin="round" opacity="0.6"/>
<path d="M611.1 1619.4 L617.7 1607.3 L624.3 1587.4" fill="none" stroke="#D400D8" stroke-width="2.5" stroke-linecap="round" stroke-linejoin="round" opacity="1"/>
<path d="M611.1 1619.4 L617.7 1607.3 L624.3 1587.4" fill="none" stroke="#FF4DFF" stroke-width="1" stroke-linecap="round" stroke-linejoin="round" opacity="0.6"/>
<path d="M624.3 1587.4 L611 1569.8 L600.4 1554" fill="none" stroke="#D400D8" stroke-width="2.5" stroke-linecap="round" stroke-linejoin="round" opacity="1"/>
<path d="M624.3 1587.4 L611 1569.8 L600.4 1554" fill="none" stroke="#FF4DFF" stroke-width="1" stroke-linecap="round" stroke-linejoin="round" opacity="0.6"/>
<path d="M624.3 1587.4 L657.4 1587.4" fill="none" stroke="#D400D8" stroke-width="3.3" stroke-linecap="round" stroke-linejoin="round" opacity="1"/>
<path d="M624.3 1587.4 L657.4 1587.4" fill="none" stroke="#FF4DFF" stroke-width="1.3" stroke-linecap="round" stroke-linejoin="round" opacity="0.6"/>
<path d="M657.4 1587.4 L670.6 1566.5 L676.5 1556.6" fill="none" stroke="#D400D8" stroke-width="3.3" stroke-linecap="round" stroke-linejoin="round" opacity="1"/>
<path d="M657.4 1587.4 L670.6 1566.5 L676.5 1556.6" fill="none" stroke="#FF4DFF" stroke-width="1.3" stroke-linecap="round" stroke-linejoin="round" opacity="0.6"/>
<path d="M657.4 1587.4 L666.2 1597.4 L677 1617" fill="none" stroke="#D400D8" stroke-width="2.5" stroke-linecap="round" stroke-linejoin="round" opacity="1"/>
<path d="M657.4 1587.4 L666.2 1597.4 L677 1617" fill="none" stroke="#FF4DFF" stroke-width="1" stroke-linecap="round" stroke-linejoin="round" opacity="0.6"/>
<path d="M645.3 1659 L661.8 1654.6" fill="none" stroke="#D400D8" stroke-width="2.5" stroke-linecap="round" stroke-linejoin="round" opacity="1"/>
<path d="M645.3 1659 L661.8 1654.6" fill="none" stroke="#FF4DFF" stroke-width="1" stroke-linecap="round" stroke-linejoin="round" opacity="0.6"/>
<path d="M628.8 1684.3 L631.9 1698.7 L633.2 1717.4 L627.7 1735" fill="none" stroke="#D400D8" stroke-width="2.5" stroke-linecap="round" stroke-linejoin="round" opacity="1"/>
<path d="M628.8 1684.3 L631.9 1698.7 L633.2 1717.4 L627.7 1735" fill="none" stroke="#FF4DFF" stroke-width="1" stroke-linecap="round" stroke-linejoin="round" opacity="0.6"/>
<path d="M677 1617 L704 1619 L725 1615" fill="none" stroke="#D400D8" stroke-width="2.5" stroke-linecap="round" stroke-linejoin="round" opacity="1"/>
<path d="M677 1617 L704 1619 L725 1615" fill="none" stroke="#FF4DFF" stroke-width="1" stroke-linecap="round" stroke-linejoin="round" opacity="0.6"/>
<path d="M725 1615 L728.3 1602.9 L734.9 1584.1" fill="none" stroke="#D400D8" stroke-width="2.5" stroke-linecap="round" stroke-linejoin="round" opacity="1"/>
<path d="M725 1615 L728.3 1602.9 L734.9 1584.1" fill="none" stroke="#FF4DFF" stroke-width="1" stroke-linecap="round" stroke-linejoin="round" opacity="0.6"/>
<path d="M734.9 1584.1 L726 1572 L711.8 1558.8" fill="none" stroke="#D400D8" stroke-width="2.5" stroke-linecap="round" stroke-linejoin="round" opacity="1"/>
<path d="M734.9 1584.1 L726 1572 L711.8 1558.8" fill="none" stroke="#FF4DFF" stroke-width="1" stroke-linecap="round" stroke-linejoin="round" opacity="0.6"/>
<path d="M725 1615 L737 1627 L747 1637" fill="none" stroke="#D400D8" stroke-width="2.5" stroke-linecap="round" stroke-linejoin="round" opacity="1"/>
<path d="M725 1615 L737 1627 L747 1637" fill="none" stroke="#FF4DFF" stroke-width="1" stroke-linecap="round" stroke-linejoin="round" opacity="0.6"/>
<path d="M747 1637 L778.9 1635.9" fill="none" stroke="#D400D8" stroke-width="2.5" stroke-linecap="round" stroke-linejoin="round" opacity="1"/>
<path d="M747 1637 L778.9 1635.9" fill="none" stroke="#FF4DFF" stroke-width="1" stroke-linecap="round" stroke-linejoin="round" opacity="0.6"/>
<path d="M747 1637 L740.4 1665.6 L737 1669" fill="none" stroke="#D400D8" stroke-width="1.6" stroke-linecap="round" stroke-linejoin="round" opacity="0.55"/>
<path d="M778.9 1635.9 L786.6 1624.9 L800 1611" fill="none" stroke="#D400D8" stroke-width="2.5" stroke-linecap="round" stroke-linejoin="round" opacity="1"/>
<path d="M778.9 1635.9 L786.6 1624.9 L800 1611" fill="none" stroke="#FF4DFF" stroke-width="1" stroke-linecap="round" stroke-linejoin="round" opacity="0.6"/>
<path d="M800 1611 L841.7 1611.7" fill="none" stroke="#D400D8" stroke-width="2.5" stroke-linecap="round" stroke-linejoin="round" opacity="1"/>
<path d="M800 1611 L841.7 1611.7" fill="none" stroke="#FF4DFF" stroke-width="1" stroke-linecap="round" stroke-linejoin="round" opacity="0.6"/>
<path d="M800 1611 L797.6 1599.6 L793.2 1587.4" fill="none" stroke="#D400D8" stroke-width="2.5" stroke-linecap="round" stroke-linejoin="round" opacity="1"/>
<path d="M800 1611 L797.6 1599.6 L793.2 1587.4" fill="none" stroke="#FF4DFF" stroke-width="1" stroke-linecap="round" stroke-linejoin="round" opacity="0.6"/>
<path d="M793.2 1587.4 L773.4 1576.4" fill="none" stroke="#D400D8" stroke-width="2.5" stroke-linecap="round" stroke-linejoin="round" opacity="1"/>
<path d="M793.2 1587.4 L773.4 1576.4" fill="none" stroke="#FF4DFF" stroke-width="1" stroke-linecap="round" stroke-linejoin="round" opacity="0.6"/>
<path d="M773.4 1576.4 L753.6 1580.8 L734.9 1584.1" fill="none" stroke="#D400D8" stroke-width="2.5" stroke-linecap="round" stroke-linejoin="round" opacity="1"/>
<path d="M773.4 1576.4 L753.6 1580.8 L734.9 1584.1" fill="none" stroke="#FF4DFF" stroke-width="1" stroke-linecap="round" stroke-linejoin="round" opacity="0.6"/>
<path d="M793.2 1587.4 L808.7 1578.6 L821.9 1569.8" fill="none" stroke="#D400D8" stroke-width="2.5" stroke-linecap="round" stroke-linejoin="round" opacity="1"/>
<path d="M793.2 1587.4 L808.7 1578.6 L821.9 1569.8" fill="none" stroke="#FF4DFF" stroke-width="1" stroke-linecap="round" stroke-linejoin="round" opacity="0.6"/>
<path d="M821.9 1569.8 L838.4 1578.6" fill="none" stroke="#D400D8" stroke-width="1.6" stroke-linecap="round" stroke-linejoin="round" opacity="0.55"/>
<path d="M821.9 1569.8 L814.2 1550" fill="none" stroke="#D400D8" stroke-width="1.6" stroke-linecap="round" stroke-linejoin="round" opacity="0.55"/>
<path d="M778.9 1635.9 L794.3 1662.3" fill="none" stroke="#D400D8" stroke-width="1.6" stroke-linecap="round" stroke-linejoin="round" opacity="0.55"/>
<path d="M677 1617 L672 1645 L661.8 1654.6" fill="none" stroke="#D400D8" stroke-width="2.5" stroke-linecap="round" stroke-linejoin="round" opacity="1"/>
<path d="M677 1617 L672 1645 L661.8 1654.6" fill="none" stroke="#FF4DFF" stroke-width="1" stroke-linecap="round" stroke-linejoin="round" opacity="0.6"/>
<path d="M661.8 1654.6 L660 1655" fill="none" stroke="#D400D8" stroke-width="2.5" stroke-linecap="round" stroke-linejoin="round" opacity="1"/>
<path d="M661.8 1654.6 L660 1655" fill="none" stroke="#FF4DFF" stroke-width="1" stroke-linecap="round" stroke-linejoin="round" opacity="0.6"/>
<path d="M778.9 1685.4 L755.8 1671.1" fill="none" stroke="#D400D8" stroke-width="1.6" stroke-linecap="round" stroke-linejoin="round" opacity="0.55"/>
<path d="M778.9 1685.4 L792.1 1675.5" fill="none" stroke="#D400D8" stroke-width="3.3" stroke-linecap="round" stroke-linejoin="round" opacity="1"/>
<path d="M778.9 1685.4 L792.1 1675.5" fill="none" stroke="#FF4DFF" stroke-width="1.3" stroke-linecap="round" stroke-linejoin="round" opacity="0.6"/>
<path d="M778.9 1685.4 L778.9 1709.7" fill="none" stroke="#D400D8" stroke-width="3.3" stroke-linecap="round" stroke-linejoin="round" opacity="1"/>
<path d="M778.9 1685.4 L778.9 1709.7" fill="none" stroke="#FF4DFF" stroke-width="1.3" stroke-linecap="round" stroke-linejoin="round" opacity="0.6"/>
<path d="M778.9 1709.7 L742.6 1726.2" fill="none" stroke="#D400D8" stroke-width="5.5" stroke-linecap="round" stroke-linejoin="round" opacity="1"/>
<path d="M778.9 1709.7 L742.6 1726.2" fill="none" stroke="#FF4DFF" stroke-width="2.2" stroke-linecap="round" stroke-linejoin="round" opacity="0.6"/>
<path d="M778.9 1709.7 L810.9 1728.4 L841.7 1731.7" fill="none" stroke="#D400D8" stroke-width="3.3" stroke-linecap="round" stroke-linejoin="round" opacity="1"/>
<path d="M778.9 1709.7 L810.9 1728.4 L841.7 1731.7" fill="none" stroke="#FF4DFF" stroke-width="1.3" stroke-linecap="round" stroke-linejoin="round" opacity="0.6"/>
<g fill="#3FF3F6"><circle cx="821.1" cy="1570.9" r="1.7"/><circle cx="762.6" cy="1635.2" r="1.3"/><circle cx="798.8" cy="1599.9" r="1.8"/><circle cx="720.5" cy="1598.9" r="1"/><circle cx="785.6" cy="1625.5" r="1.4"/><circle cx="606" cy="1590.3" r="1.1"/><circle cx="766.3" cy="1478.2" r="1.2"/><circle cx="840" cy="1677.3" r="1.5"/><circle cx="701.2" cy="1442.2" r="1"/><circle cx="759.7" cy="1466.9" r="0.9"/><circle cx="541.5" cy="1450.2" r="1"/><circle cx="764.1" cy="1478.1" r="1"/><circle cx="623.5" cy="1680.9" r="1"/><circle cx="708" cy="1618.1" r="1.1"/><circle cx="537.7" cy="1608.7" r="1"/><circle cx="766.1" cy="1441.2" r="1.4"/><circle cx="498.8" cy="1449.3" r="1.8"/><circle cx="693.6" cy="1398.6" r="1"/><circle cx="550.2" cy="1424.5" r="1"/><circle cx="658.7" cy="1654.3" r="1.5"/><circle cx="768" cy="1679.9" r="1.1"/><circle cx="699.2" cy="1437.7" r="1.6"/><circle cx="560.6" cy="1715.7" r="1.7"/><circle cx="639.2" cy="1420.2" r="0.9"/><circle cx="575.2" cy="1629.9" r="1.1"/><circle cx="700.4" cy="1486.4" r="1.1"/><circle cx="515.9" cy="1463.7" r="1.4"/><circle cx="706.7" cy="1481.8" r="1.7"/><circle cx="570.9" cy="1429.9" r="0.9"/><circle cx="792.8" cy="1616.4" r="1.7"/><circle cx="721.6" cy="1625.3" r="1.4"/><circle cx="596.2" cy="1444.1" r="1.2"/><circle cx="755.7" cy="1721.1" r="1.2"/><circle cx="518.2" cy="1574.6" r="1.6"/><circle cx="749.6" cy="1629.6" r="1.6"/><circle cx="614.9" cy="1623.2" r="1.7"/><circle cx="637.7" cy="1660" r="1.7"/><circle cx="710.4" cy="1517.4" r="1.4"/><circle cx="519.9" cy="1607.2" r="1.8"/><circle cx="746.5" cy="1519.5" r="1.6"/><circle cx="645.9" cy="1676.7" r="1"/><circle cx="502.3" cy="1593.9" r="1.3"/><circle cx="647.9" cy="1472" r="1.1"/><circle cx="762.1" cy="1505" r="1.6"/><circle cx="604.7" cy="1561.5" r="1.1"/><circle cx="772.9" cy="1647.4" r="1.1"/><circle cx="723.9" cy="1457" r="1.3"/><circle cx="788.6" cy="1632.3" r="1.8"/><circle cx="602.1" cy="1541" r="1.6"/><circle cx="738" cy="1668.6" r="1.8"/><circle cx="511.5" cy="1413.9" r="1.5"/><circle cx="550" cy="1562.8" r="1"/><circle cx="602.5" cy="1401.6" r="1.6"/><circle cx="532.2" cy="1422" r="1.4"/><circle cx="620.8" cy="1411.1" r="1.1"/><circle cx="581.4" cy="1633.3" r="1.6"/><circle cx="504.5" cy="1463" r="1.6"/><circle cx="822.9" cy="1558.6" r="1.8"/><circle cx="718.2" cy="1457.9" r="1"/><circle cx="537.6" cy="1409.7" r="1.6"/></g>
</g>
<g clip-path="url(#cC2)">
<rect x="491.9" y="1766.9" width="349.6" height="350.5" fill="#000"/>
<circle cx="610" cy="1785" r="22" fill="#B000B0" opacity="0.1" filter="url(#blur4)"/>
<circle cx="610" cy="1785" r="20.9" fill="#FF00FF" opacity="0.3" filter="url(#speck)"/>
<circle cx="645" cy="1880" r="14" fill="#B000B0" opacity="0.1" filter="url(#blur4)"/>
<circle cx="645" cy="1880" r="13.3" fill="#FF00FF" opacity="0.1" filter="url(#speck)"/>
<circle cx="720" cy="1985" r="20" fill="#B000B0" opacity="0.1" filter="url(#blur4)"/>
<circle cx="720" cy="1985" r="19" fill="#FF00FF" opacity="0.1" filter="url(#speck)"/>
<path d="M496.6 1768.6 L518 1794.3" fill="none" stroke="#D400D8" stroke-width="2.5" stroke-linecap="round" stroke-linejoin="round" opacity="1"/>
<path d="M496.6 1768.6 L518 1794.3" fill="none" stroke="#FF4DFF" stroke-width="1" stroke-linecap="round" stroke-linejoin="round" opacity="0.6"/>
<path d="M518 1794.3 L509.4 1824.3" fill="none" stroke="#D400D8" stroke-width="2.5" stroke-linecap="round" stroke-linejoin="round" opacity="1"/>
<path d="M518 1794.3 L509.4 1824.3" fill="none" stroke="#FF4DFF" stroke-width="1" stroke-linecap="round" stroke-linejoin="round" opacity="0.6"/>
<path d="M509.4 1824.3 L526.6 1867.1" fill="none" stroke="#D400D8" stroke-width="2.5" stroke-linecap="round" stroke-linejoin="round" opacity="1"/>
<path d="M509.4 1824.3 L526.6 1867.1" fill="none" stroke="#FF4DFF" stroke-width="1" stroke-linecap="round" stroke-linejoin="round" opacity="0.6"/>
<path d="M526.6 1867.1 L492.3 1867.1" fill="none" stroke="#D400D8" stroke-width="2.5" stroke-linecap="round" stroke-linejoin="round" opacity="1"/>
<path d="M526.6 1867.1 L492.3 1867.1" fill="none" stroke="#FF4DFF" stroke-width="1" stroke-linecap="round" stroke-linejoin="round" opacity="0.6"/>
<path d="M518 1794.3 L569.4 1781.4" fill="none" stroke="#D400D8" stroke-width="2.5" stroke-linecap="round" stroke-linejoin="round" opacity="1"/>
<path d="M518 1794.3 L569.4 1781.4" fill="none" stroke="#FF4DFF" stroke-width="1" stroke-linecap="round" stroke-linejoin="round" opacity="0.6"/>
<path d="M569.4 1781.4 L595.1 1811.4" fill="none" stroke="#D400D8" stroke-width="2.5" stroke-linecap="round" stroke-linejoin="round" opacity="1"/>
<path d="M569.4 1781.4 L595.1 1811.4" fill="none" stroke="#FF4DFF" stroke-width="1" stroke-linecap="round" stroke-linejoin="round" opacity="0.6"/>
<path d="M595.1 1811.4 L575.9 1867.1" fill="none" stroke="#D400D8" stroke-width="2.5" stroke-linecap="round" stroke-linejoin="round" opacity="1"/>
<path d="M595.1 1811.4 L575.9 1867.1" fill="none" stroke="#FF4DFF" stroke-width="1" stroke-linecap="round" stroke-linejoin="round" opacity="0.6"/>
<path d="M575.9 1867.1 L526.6 1867.1" fill="none" stroke="#D400D8" stroke-width="2.5" stroke-linecap="round" stroke-linejoin="round" opacity="1"/>
<path d="M575.9 1867.1 L526.6 1867.1" fill="none" stroke="#FF4DFF" stroke-width="1" stroke-linecap="round" stroke-linejoin="round" opacity="0.6"/>
<path d="M569.4 1781.4 L575.9 1768.6" fill="none" stroke="#D400D8" stroke-width="2.5" stroke-linecap="round" stroke-linejoin="round" opacity="1"/>
<path d="M569.4 1781.4 L575.9 1768.6" fill="none" stroke="#FF4DFF" stroke-width="1" stroke-linecap="round" stroke-linejoin="round" opacity="0.6"/>
<path d="M633.7 1768.6 L623 1807.1" fill="none" stroke="#D400D8" stroke-width="2.5" stroke-linecap="round" stroke-linejoin="round" opacity="1"/>
<path d="M633.7 1768.6 L623 1807.1" fill="none" stroke="#FF4DFF" stroke-width="1" stroke-linecap="round" stroke-linejoin="round" opacity="0.6"/>
<path d="M623 1807.1 L595.1 1811.4" fill="none" stroke="#D400D8" stroke-width="2.5" stroke-linecap="round" stroke-linejoin="round" opacity="1"/>
<path d="M623 1807.1 L595.1 1811.4" fill="none" stroke="#FF4DFF" stroke-width="1" stroke-linecap="round" stroke-linejoin="round" opacity="0.6"/>
<path d="M702.3 1768.6 L708.7 1798.6" fill="none" stroke="#D400D8" stroke-width="2.5" stroke-linecap="round" stroke-linejoin="round" opacity="1"/>
<path d="M702.3 1768.6 L708.7 1798.6" fill="none" stroke="#FF4DFF" stroke-width="1" stroke-linecap="round" stroke-linejoin="round" opacity="0.6"/>
<path d="M708.7 1798.6 L691.6 1824.3" fill="none" stroke="#D400D8" stroke-width="2.5" stroke-linecap="round" stroke-linejoin="round" opacity="1"/>
<path d="M708.7 1798.6 L691.6 1824.3" fill="none" stroke="#FF4DFF" stroke-width="1" stroke-linecap="round" stroke-linejoin="round" opacity="0.6"/>
<path d="M691.6 1824.3 L644.4 1839.3" fill="none" stroke="#D400D8" stroke-width="2.5" stroke-linecap="round" stroke-linejoin="round" opacity="1"/>
<path d="M691.6 1824.3 L644.4 1839.3" fill="none" stroke="#FF4DFF" stroke-width="1" stroke-linecap="round" stroke-linejoin="round" opacity="0.6"/>
<path d="M644.4 1839.3 L623 1807.1" fill="none" stroke="#D400D8" stroke-width="2.5" stroke-linecap="round" stroke-linejoin="round" opacity="1"/>
<path d="M644.4 1839.3 L623 1807.1" fill="none" stroke="#FF4DFF" stroke-width="1" stroke-linecap="round" stroke-linejoin="round" opacity="0.6"/>
<path d="M755.8 1768.6 L747.3 1798.6" fill="none" stroke="#D400D8" stroke-width="2.5" stroke-linecap="round" stroke-linejoin="round" opacity="1"/>
<path d="M755.8 1768.6 L747.3 1798.6" fill="none" stroke="#FF4DFF" stroke-width="1" stroke-linecap="round" stroke-linejoin="round" opacity="0.6"/>
<path d="M747.3 1798.6 L708.7 1798.6" fill="none" stroke="#D400D8" stroke-width="2.5" stroke-linecap="round" stroke-linejoin="round" opacity="1"/>
<path d="M747.3 1798.6 L708.7 1798.6" fill="none" stroke="#FF4DFF" stroke-width="1" stroke-linecap="round" stroke-linejoin="round" opacity="0.6"/>
<path d="M809.4 1772.9 L822.3 1798.6" fill="none" stroke="#D400D8" stroke-width="2.5" stroke-linecap="round" stroke-linejoin="round" opacity="1"/>
<path d="M809.4 1772.9 L822.3 1798.6" fill="none" stroke="#FF4DFF" stroke-width="1" stroke-linecap="round" stroke-linejoin="round" opacity="0.6"/>
<path d="M822.3 1798.6 L805.1 1830.7" fill="none" stroke="#D400D8" stroke-width="2.5" stroke-linecap="round" stroke-linejoin="round" opacity="1"/>
<path d="M822.3 1798.6 L805.1 1830.7" fill="none" stroke="#FF4DFF" stroke-width="1" stroke-linecap="round" stroke-linejoin="round" opacity="0.6"/>
<path d="M805.1 1830.7 L766.6 1832.9" fill="none" stroke="#D400D8" stroke-width="2.5" stroke-linecap="round" stroke-linejoin="round" opacity="1"/>
<path d="M805.1 1830.7 L766.6 1832.9" fill="none" stroke="#FF4DFF" stroke-width="1" stroke-linecap="round" stroke-linejoin="round" opacity="0.6"/>
<path d="M766.6 1832.9 L747.3 1798.6" fill="none" stroke="#D400D8" stroke-width="2.5" stroke-linecap="round" stroke-linejoin="round" opacity="1"/>
<path d="M766.6 1832.9 L747.3 1798.6" fill="none" stroke="#FF4DFF" stroke-width="1" stroke-linecap="round" stroke-linejoin="round" opacity="0.6"/>
<path d="M841.5 1796.4 L822.3 1798.6" fill="none" stroke="#D400D8" stroke-width="2.5" stroke-linecap="round" stroke-linejoin="round" opacity="1"/>
<path d="M841.5 1796.4 L822.3 1798.6" fill="none" stroke="#FF4DFF" stroke-width="1" stroke-linecap="round" stroke-linejoin="round" opacity="0.6"/>
<path d="M644.4 1839.3 L642.3 1886.4" fill="none" stroke="#D400D8" stroke-width="2.5" stroke-linecap="round" stroke-linejoin="round" opacity="1"/>
<path d="M644.4 1839.3 L642.3 1886.4" fill="none" stroke="#FF4DFF" stroke-width="1" stroke-linecap="round" stroke-linejoin="round" opacity="0.6"/>
<path d="M642.3 1886.4 L625.1 1900.3" fill="none" stroke="#D400D8" stroke-width="2.5" stroke-linecap="round" stroke-linejoin="round" opacity="1"/>
<path d="M642.3 1886.4 L625.1 1900.3" fill="none" stroke="#FF4DFF" stroke-width="1" stroke-linecap="round" stroke-linejoin="round" opacity="0.6"/>
<path d="M625.1 1900.3 L593 1897.1" fill="none" stroke="#D400D8" stroke-width="2.5" stroke-linecap="round" stroke-linejoin="round" opacity="1"/>
<path d="M625.1 1900.3 L593 1897.1" fill="none" stroke="#FF4DFF" stroke-width="1" stroke-linecap="round" stroke-linejoin="round" opacity="0.6"/>
<path d="M593 1897.1 L575.9 1867.1" fill="none" stroke="#D400D8" stroke-width="2.5" stroke-linecap="round" stroke-linejoin="round" opacity="1"/>
<path d="M593 1897.1 L575.9 1867.1" fill="none" stroke="#FF4DFF" stroke-width="1" stroke-linecap="round" stroke-linejoin="round" opacity="0.6"/>
<path d="M691.6 1824.3 L710.8 1877.8" fill="none" stroke="#D400D8" stroke-width="2.5" stroke-linecap="round" stroke-linejoin="round" opacity="1"/>
<path d="M691.6 1824.3 L710.8 1877.8" fill="none" stroke="#FF4DFF" stroke-width="1" stroke-linecap="round" stroke-linejoin="round" opacity="0.6"/>
<path d="M710.8 1877.8 L676.6 1899.3" fill="none" stroke="#D400D8" stroke-width="2.5" stroke-linecap="round" stroke-linejoin="round" opacity="1"/>
<path d="M710.8 1877.8 L676.6 1899.3" fill="none" stroke="#FF4DFF" stroke-width="1" stroke-linecap="round" stroke-linejoin="round" opacity="0.6"/>
<path d="M676.6 1899.3 L642.3 1886.4" fill="none" stroke="#D400D8" stroke-width="2.5" stroke-linecap="round" stroke-linejoin="round" opacity="1"/>
<path d="M676.6 1899.3 L642.3 1886.4" fill="none" stroke="#FF4DFF" stroke-width="1" stroke-linecap="round" stroke-linejoin="round" opacity="0.6"/>
<path d="M766.6 1832.9 L745.1 1882.1" fill="none" stroke="#D400D8" stroke-width="2.5" stroke-linecap="round" stroke-linejoin="round" opacity="1"/>
<path d="M766.6 1832.9 L745.1 1882.1" fill="none" stroke="#FF4DFF" stroke-width="1" stroke-linecap="round" stroke-linejoin="round" opacity="0.6"/>
<path d="M745.1 1882.1 L710.8 1877.8" fill="none" stroke="#D400D8" stroke-width="2.5" stroke-linecap="round" stroke-linejoin="round" opacity="1"/>
<path d="M745.1 1882.1 L710.8 1877.8" fill="none" stroke="#FF4DFF" stroke-width="1" stroke-linecap="round" stroke-linejoin="round" opacity="0.6"/>
<path d="M805.1 1830.7 L841.5 1860.7" fill="none" stroke="#D400D8" stroke-width="2.5" stroke-linecap="round" stroke-linejoin="round" opacity="1"/>
<path d="M805.1 1830.7 L841.5 1860.7" fill="none" stroke="#FF4DFF" stroke-width="1" stroke-linecap="round" stroke-linejoin="round" opacity="0.6"/>
<path d="M839.4 1886.4 L805.1 1914.3" fill="none" stroke="#D400D8" stroke-width="2.5" stroke-linecap="round" stroke-linejoin="round" opacity="1"/>
<path d="M839.4 1886.4 L805.1 1914.3" fill="none" stroke="#FF4DFF" stroke-width="1" stroke-linecap="round" stroke-linejoin="round" opacity="0.6"/>
<path d="M805.1 1914.3 L760.1 1907.8" fill="none" stroke="#D400D8" stroke-width="2.5" stroke-linecap="round" stroke-linejoin="round" opacity="1"/>
<path d="M805.1 1914.3 L760.1 1907.8" fill="none" stroke="#FF4DFF" stroke-width="1" stroke-linecap="round" stroke-linejoin="round" opacity="0.6"/>
<path d="M760.1 1907.8 L745.1 1882.1" fill="none" stroke="#D400D8" stroke-width="2.5" stroke-linecap="round" stroke-linejoin="round" opacity="1"/>
<path d="M760.1 1907.8 L745.1 1882.1" fill="none" stroke="#FF4DFF" stroke-width="1" stroke-linecap="round" stroke-linejoin="round" opacity="0.6"/>
<path d="M593 1897.1 L569.4 1944.3" fill="none" stroke="#D400D8" stroke-width="2.5" stroke-linecap="round" stroke-linejoin="round" opacity="1"/>
<path d="M593 1897.1 L569.4 1944.3" fill="none" stroke="#FF4DFF" stroke-width="1" stroke-linecap="round" stroke-linejoin="round" opacity="0.6"/>
<path d="M569.4 1944.3 L522.3 1948.6" fill="none" stroke="#D400D8" stroke-width="2.5" stroke-linecap="round" stroke-linejoin="round" opacity="1"/>
<path d="M569.4 1944.3 L522.3 1948.6" fill="none" stroke="#FF4DFF" stroke-width="1" stroke-linecap="round" stroke-linejoin="round" opacity="0.6"/>
<path d="M522.3 1948.6 L500.9 1916.4" fill="none" stroke="#D400D8" stroke-width="2.5" stroke-linecap="round" stroke-linejoin="round" opacity="1"/>
<path d="M522.3 1948.6 L500.9 1916.4" fill="none" stroke="#FF4DFF" stroke-width="1" stroke-linecap="round" stroke-linejoin="round" opacity="0.6"/>
<path d="M500.9 1916.4 L520.1 1884.3" fill="none" stroke="#D400D8" stroke-width="2.5" stroke-linecap="round" stroke-linejoin="round" opacity="1"/>
<path d="M500.9 1916.4 L520.1 1884.3" fill="none" stroke="#FF4DFF" stroke-width="1" stroke-linecap="round" stroke-linejoin="round" opacity="0.6"/>
<path d="M520.1 1884.3 L526.6 1867.1" fill="none" stroke="#D400D8" stroke-width="2.5" stroke-linecap="round" stroke-linejoin="round" opacity="1"/>
<path d="M520.1 1884.3 L526.6 1867.1" fill="none" stroke="#FF4DFF" stroke-width="1" stroke-linecap="round" stroke-linejoin="round" opacity="0.6"/>
<path d="M522.3 1948.6 L513.7 1982.8" fill="none" stroke="#D400D8" stroke-width="2.5" stroke-linecap="round" stroke-linejoin="round" opacity="1"/>
<path d="M522.3 1948.6 L513.7 1982.8" fill="none" stroke="#FF4DFF" stroke-width="1" stroke-linecap="round" stroke-linejoin="round" opacity="0.6"/>
<path d="M513.7 1982.8 L492.3 1987.1" fill="none" stroke="#D400D8" stroke-width="2.5" stroke-linecap="round" stroke-linejoin="round" opacity="1"/>
<path d="M513.7 1982.8 L492.3 1987.1" fill="none" stroke="#FF4DFF" stroke-width="1" stroke-linecap="round" stroke-linejoin="round" opacity="0.6"/>
<path d="M625.1 1900.3 L642.3 1937.8" fill="none" stroke="#D400D8" stroke-width="2.5" stroke-linecap="round" stroke-linejoin="round" opacity="1"/>
<path d="M625.1 1900.3 L642.3 1937.8" fill="none" stroke="#FF4DFF" stroke-width="1" stroke-linecap="round" stroke-linejoin="round" opacity="0.6"/>
<path d="M642.3 1937.8 L623 1965.7" fill="none" stroke="#D400D8" stroke-width="2.5" stroke-linecap="round" stroke-linejoin="round" opacity="1"/>
<path d="M642.3 1937.8 L623 1965.7" fill="none" stroke="#FF4DFF" stroke-width="1" stroke-linecap="round" stroke-linejoin="round" opacity="0.6"/>
<path d="M623 1965.7 L586.6 1974.3" fill="none" stroke="#D400D8" stroke-width="2.5" stroke-linecap="round" stroke-linejoin="round" opacity="1"/>
<path d="M623 1965.7 L586.6 1974.3" fill="none" stroke="#FF4DFF" stroke-width="1" stroke-linecap="round" stroke-linejoin="round" opacity="0.6"/>
<path d="M586.6 1974.3 L569.4 1944.3" fill="none" stroke="#D400D8" stroke-width="2.5" stroke-linecap="round" stroke-linejoin="round" opacity="1"/>
<path d="M586.6 1974.3 L569.4 1944.3" fill="none" stroke="#FF4DFF" stroke-width="1" stroke-linecap="round" stroke-linejoin="round" opacity="0.6"/>
<path d="M676.6 1899.3 L672.3 1929.3" fill="none" stroke="#D400D8" stroke-width="2.5" stroke-linecap="round" stroke-linejoin="round" opacity="1"/>
<path d="M676.6 1899.3 L672.3 1929.3" fill="none" stroke="#FF4DFF" stroke-width="1" stroke-linecap="round" stroke-linejoin="round" opacity="0.6"/>
<path d="M672.3 1929.3 L642.3 1937.8" fill="none" stroke="#D400D8" stroke-width="2.5" stroke-linecap="round" stroke-linejoin="round" opacity="1"/>
<path d="M672.3 1929.3 L642.3 1937.8" fill="none" stroke="#FF4DFF" stroke-width="1" stroke-linecap="round" stroke-linejoin="round" opacity="0.6"/>
<path d="M760.1 1907.8 L740.8 1961.4" fill="none" stroke="#D400D8" stroke-width="2.5" stroke-linecap="round" stroke-linejoin="round" opacity="1"/>
<path d="M760.1 1907.8 L740.8 1961.4" fill="none" stroke="#FF4DFF" stroke-width="1" stroke-linecap="round" stroke-linejoin="round" opacity="0.6"/>
<path d="M740.8 1961.4 L706.6 1967.8" fill="none" stroke="#D400D8" stroke-width="2.5" stroke-linecap="round" stroke-linejoin="round" opacity="1"/>
<path d="M740.8 1961.4 L706.6 1967.8" fill="none" stroke="#FF4DFF" stroke-width="1" stroke-linecap="round" stroke-linejoin="round" opacity="0.6"/>
<path d="M706.6 1967.8 L672.3 1929.3" fill="none" stroke="#D400D8" stroke-width="2.5" stroke-linecap="round" stroke-linejoin="round" opacity="1"/>
<path d="M706.6 1967.8 L672.3 1929.3" fill="none" stroke="#FF4DFF" stroke-width="1" stroke-linecap="round" stroke-linejoin="round" opacity="0.6"/>
<path d="M805.1 1914.3 L815.8 1955" fill="none" stroke="#D400D8" stroke-width="2.5" stroke-linecap="round" stroke-linejoin="round" opacity="1"/>
<path d="M805.1 1914.3 L815.8 1955" fill="none" stroke="#FF4DFF" stroke-width="1" stroke-linecap="round" stroke-linejoin="round" opacity="0.6"/>
<path d="M815.8 1955 L775.1 1987.1" fill="none" stroke="#D400D8" stroke-width="2.5" stroke-linecap="round" stroke-linejoin="round" opacity="1"/>
<path d="M815.8 1955 L775.1 1987.1" fill="none" stroke="#FF4DFF" stroke-width="1" stroke-linecap="round" stroke-linejoin="round" opacity="0.6"/>
<path d="M775.1 1987.1 L740.8 1961.4" fill="none" stroke="#D400D8" stroke-width="2.5" stroke-linecap="round" stroke-linejoin="round" opacity="1"/>
<path d="M775.1 1987.1 L740.8 1961.4" fill="none" stroke="#FF4DFF" stroke-width="1" stroke-linecap="round" stroke-linejoin="round" opacity="0.6"/>
<path d="M841.5 1963.6 L815.8 1955" fill="none" stroke="#D400D8" stroke-width="2.5" stroke-linecap="round" stroke-linejoin="round" opacity="1"/>
<path d="M841.5 1963.6 L815.8 1955" fill="none" stroke="#FF4DFF" stroke-width="1" stroke-linecap="round" stroke-linejoin="round" opacity="0.6"/>
<path d="M586.6 1974.3 L571.6 1997.8" fill="none" stroke="#D400D8" stroke-width="2.5" stroke-linecap="round" stroke-linejoin="round" opacity="1"/>
<path d="M586.6 1974.3 L571.6 1997.8" fill="none" stroke="#FF4DFF" stroke-width="1" stroke-linecap="round" stroke-linejoin="round" opacity="0.6"/>
<path d="M571.6 1997.8 L530.9 2002.1" fill="none" stroke="#D400D8" stroke-width="2.5" stroke-linecap="round" stroke-linejoin="round" opacity="1"/>
<path d="M571.6 1997.8 L530.9 2002.1" fill="none" stroke="#FF4DFF" stroke-width="1" stroke-linecap="round" stroke-linejoin="round" opacity="0.6"/>
<path d="M530.9 2002.1 L513.7 1982.8" fill="none" stroke="#D400D8" stroke-width="2.5" stroke-linecap="round" stroke-linejoin="round" opacity="1"/>
<path d="M530.9 2002.1 L513.7 1982.8" fill="none" stroke="#FF4DFF" stroke-width="1" stroke-linecap="round" stroke-linejoin="round" opacity="0.6"/>
<path d="M623 1965.7 L650.8 2008.6" fill="none" stroke="#D400D8" stroke-width="2.5" stroke-linecap="round" stroke-linejoin="round" opacity="1"/>
<path d="M623 1965.7 L650.8 2008.6" fill="none" stroke="#FF4DFF" stroke-width="1" stroke-linecap="round" stroke-linejoin="round" opacity="0.6"/>
<path d="M650.8 2008.6 L625.1 2042.8" fill="none" stroke="#D400D8" stroke-width="2.5" stroke-linecap="round" stroke-linejoin="round" opacity="1"/>
<path d="M650.8 2008.6 L625.1 2042.8" fill="none" stroke="#FF4DFF" stroke-width="1" stroke-linecap="round" stroke-linejoin="round" opacity="0.6"/>
<path d="M625.1 2042.8 L590.8 2038.6" fill="none" stroke="#D400D8" stroke-width="2.5" stroke-linecap="round" stroke-linejoin="round" opacity="1"/>
<path d="M625.1 2042.8 L590.8 2038.6" fill="none" stroke="#FF4DFF" stroke-width="1" stroke-linecap="round" stroke-linejoin="round" opacity="0.6"/>
<path d="M590.8 2038.6 L571.6 1997.8" fill="none" stroke="#D400D8" stroke-width="2.5" stroke-linecap="round" stroke-linejoin="round" opacity="1"/>
<path d="M590.8 2038.6 L571.6 1997.8" fill="none" stroke="#FF4DFF" stroke-width="1" stroke-linecap="round" stroke-linejoin="round" opacity="0.6"/>
<path d="M706.6 1967.8 L691.6 2006.4" fill="none" stroke="#D400D8" stroke-width="2.5" stroke-linecap="round" stroke-linejoin="round" opacity="1"/>
<path d="M706.6 1967.8 L691.6 2006.4" fill="none" stroke="#FF4DFF" stroke-width="1" stroke-linecap="round" stroke-linejoin="round" opacity="0.6"/>
<path d="M691.6 2006.4 L650.8 2008.6" fill="none" stroke="#D400D8" stroke-width="2.5" stroke-linecap="round" stroke-linejoin="round" opacity="1"/>
<path d="M691.6 2006.4 L650.8 2008.6" fill="none" stroke="#FF4DFF" stroke-width="1" stroke-linecap="round" stroke-linejoin="round" opacity="0.6"/>
<path d="M775.1 1987.1 L770.8 2027.8" fill="none" stroke="#D400D8" stroke-width="2.5" stroke-linecap="round" stroke-linejoin="round" opacity="1"/>
<path d="M775.1 1987.1 L770.8 2027.8" fill="none" stroke="#FF4DFF" stroke-width="1" stroke-linecap="round" stroke-linejoin="round" opacity="0.6"/>
<path d="M770.8 2027.8 L715.1 2034.3" fill="none" stroke="#D400D8" stroke-width="2.5" stroke-linecap="round" stroke-linejoin="round" opacity="1"/>
<path d="M770.8 2027.8 L715.1 2034.3" fill="none" stroke="#FF4DFF" stroke-width="1" stroke-linecap="round" stroke-linejoin="round" opacity="0.6"/>
<path d="M715.1 2034.3 L691.6 2006.4" fill="none" stroke="#D400D8" stroke-width="2.5" stroke-linecap="round" stroke-linejoin="round" opacity="1"/>
<path d="M715.1 2034.3 L691.6 2006.4" fill="none" stroke="#FF4DFF" stroke-width="1" stroke-linecap="round" stroke-linejoin="round" opacity="0.6"/>
<path d="M841.5 2032.1 L777.3 2017.1" fill="none" stroke="#D400D8" stroke-width="2.5" stroke-linecap="round" stroke-linejoin="round" opacity="1"/>
<path d="M841.5 2032.1 L777.3 2017.1" fill="none" stroke="#FF4DFF" stroke-width="1" stroke-linecap="round" stroke-linejoin="round" opacity="0.6"/>
<path d="M777.3 2017.1 L775.1 1987.1" fill="none" stroke="#D400D8" stroke-width="2.5" stroke-linecap="round" stroke-linejoin="round" opacity="1"/>
<path d="M777.3 2017.1 L775.1 1987.1" fill="none" stroke="#FF4DFF" stroke-width="1" stroke-linecap="round" stroke-linejoin="round" opacity="0.6"/>
<path d="M530.9 2002.1 L515.9 2034.3" fill="none" stroke="#D400D8" stroke-width="2.5" stroke-linecap="round" stroke-linejoin="round" opacity="1"/>
<path d="M530.9 2002.1 L515.9 2034.3" fill="none" stroke="#FF4DFF" stroke-width="1" stroke-linecap="round" stroke-linejoin="round" opacity="0.6"/>
<path d="M515.9 2034.3 L492.3 2032.1" fill="none" stroke="#D400D8" stroke-width="2.5" stroke-linecap="round" stroke-linejoin="round" opacity="1"/>
<path d="M515.9 2034.3 L492.3 2032.1" fill="none" stroke="#FF4DFF" stroke-width="1" stroke-linecap="round" stroke-linejoin="round" opacity="0.6"/>
<path d="M590.8 2038.6 L565.1 2068.5" fill="none" stroke="#D400D8" stroke-width="2.5" stroke-linecap="round" stroke-linejoin="round" opacity="1"/>
<path d="M590.8 2038.6 L565.1 2068.5" fill="none" stroke="#FF4DFF" stroke-width="1" stroke-linecap="round" stroke-linejoin="round" opacity="0.6"/>
<path d="M565.1 2068.5 L520.1 2064.3" fill="none" stroke="#D400D8" stroke-width="2.5" stroke-linecap="round" stroke-linejoin="round" opacity="1"/>
<path d="M565.1 2068.5 L520.1 2064.3" fill="none" stroke="#FF4DFF" stroke-width="1" stroke-linecap="round" stroke-linejoin="round" opacity="0.6"/>
<path d="M520.1 2064.3 L515.9 2034.3" fill="none" stroke="#D400D8" stroke-width="2.5" stroke-linecap="round" stroke-linejoin="round" opacity="1"/>
<path d="M520.1 2064.3 L515.9 2034.3" fill="none" stroke="#FF4DFF" stroke-width="1" stroke-linecap="round" stroke-linejoin="round" opacity="0.6"/>
<path d="M715.1 2034.3 L702.3 2072.8" fill="none" stroke="#D400D8" stroke-width="2.5" stroke-linecap="round" stroke-linejoin="round" opacity="1"/>
<path d="M715.1 2034.3 L702.3 2072.8" fill="none" stroke="#FF4DFF" stroke-width="1" stroke-linecap="round" stroke-linejoin="round" opacity="0.6"/>
<path d="M702.3 2072.8 L670.1 2085.7" fill="none" stroke="#D400D8" stroke-width="2.5" stroke-linecap="round" stroke-linejoin="round" opacity="1"/>
<path d="M702.3 2072.8 L670.1 2085.7" fill="none" stroke="#FF4DFF" stroke-width="1" stroke-linecap="round" stroke-linejoin="round" opacity="0.6"/>
<path d="M670.1 2085.7 L638 2077.1" fill="none" stroke="#D400D8" stroke-width="2.5" stroke-linecap="round" stroke-linejoin="round" opacity="1"/>
<path d="M670.1 2085.7 L638 2077.1" fill="none" stroke="#FF4DFF" stroke-width="1" stroke-linecap="round" stroke-linejoin="round" opacity="0.6"/>
<path d="M638 2077.1 L625.1 2042.8" fill="none" stroke="#D400D8" stroke-width="2.5" stroke-linecap="round" stroke-linejoin="round" opacity="1"/>
<path d="M638 2077.1 L625.1 2042.8" fill="none" stroke="#FF4DFF" stroke-width="1" stroke-linecap="round" stroke-linejoin="round" opacity="0.6"/>
<path d="M770.8 2027.8 L779.4 2077.1" fill="none" stroke="#D400D8" stroke-width="2.5" stroke-linecap="round" stroke-linejoin="round" opacity="1"/>
<path d="M770.8 2027.8 L779.4 2077.1" fill="none" stroke="#FF4DFF" stroke-width="1" stroke-linecap="round" stroke-linejoin="round" opacity="0.6"/>
<path d="M779.4 2077.1 L749.4 2105" fill="none" stroke="#D400D8" stroke-width="2.5" stroke-linecap="round" stroke-linejoin="round" opacity="1"/>
<path d="M779.4 2077.1 L749.4 2105" fill="none" stroke="#FF4DFF" stroke-width="1" stroke-linecap="round" stroke-linejoin="round" opacity="0.6"/>
<path d="M749.4 2105 L702.3 2072.8" fill="none" stroke="#D400D8" stroke-width="2.5" stroke-linecap="round" stroke-linejoin="round" opacity="1"/>
<path d="M749.4 2105 L702.3 2072.8" fill="none" stroke="#FF4DFF" stroke-width="1" stroke-linecap="round" stroke-linejoin="round" opacity="0.6"/>
<path d="M770.8 2027.8 L777.3 2017.1" fill="none" stroke="#D400D8" stroke-width="2.5" stroke-linecap="round" stroke-linejoin="round" opacity="1"/>
<path d="M770.8 2027.8 L777.3 2017.1" fill="none" stroke="#FF4DFF" stroke-width="1" stroke-linecap="round" stroke-linejoin="round" opacity="0.6"/>
<path d="M841.5 2085.7 L779.4 2077.1" fill="none" stroke="#D400D8" stroke-width="2.5" stroke-linecap="round" stroke-linejoin="round" opacity="1"/>
<path d="M841.5 2085.7 L779.4 2077.1" fill="none" stroke="#FF4DFF" stroke-width="1" stroke-linecap="round" stroke-linejoin="round" opacity="0.6"/>
<path d="M638 2077.1 L616.6 2107.1" fill="none" stroke="#D400D8" stroke-width="2.5" stroke-linecap="round" stroke-linejoin="round" opacity="1"/>
<path d="M638 2077.1 L616.6 2107.1" fill="none" stroke="#FF4DFF" stroke-width="1" stroke-linecap="round" stroke-linejoin="round" opacity="0.6"/>
<path d="M569.4 2107.1 L565.1 2068.5" fill="none" stroke="#D400D8" stroke-width="2.5" stroke-linecap="round" stroke-linejoin="round" opacity="1"/>
<path d="M569.4 2107.1 L565.1 2068.5" fill="none" stroke="#FF4DFF" stroke-width="1" stroke-linecap="round" stroke-linejoin="round" opacity="0.6"/>
<path d="M507.3 2113.5 L500.9 2087.8" fill="none" stroke="#D400D8" stroke-width="2.5" stroke-linecap="round" stroke-linejoin="round" opacity="1"/>
<path d="M507.3 2113.5 L500.9 2087.8" fill="none" stroke="#FF4DFF" stroke-width="1" stroke-linecap="round" stroke-linejoin="round" opacity="0.6"/>
<path d="M500.9 2087.8 L520.1 2064.3" fill="none" stroke="#D400D8" stroke-width="2.5" stroke-linecap="round" stroke-linejoin="round" opacity="1"/>
<path d="M500.9 2087.8 L520.1 2064.3" fill="none" stroke="#FF4DFF" stroke-width="1" stroke-linecap="round" stroke-linejoin="round" opacity="0.6"/>
<path d="M670.1 2085.7 L665.8 2113.5" fill="none" stroke="#D400D8" stroke-width="2.5" stroke-linecap="round" stroke-linejoin="round" opacity="1"/>
<path d="M670.1 2085.7 L665.8 2113.5" fill="none" stroke="#FF4DFF" stroke-width="1" stroke-linecap="round" stroke-linejoin="round" opacity="0.6"/>
<path d="M749.4 2105 L745.1 2113.5" fill="none" stroke="#D400D8" stroke-width="2.5" stroke-linecap="round" stroke-linejoin="round" opacity="1"/>
<path d="M749.4 2105 L745.1 2113.5" fill="none" stroke="#FF4DFF" stroke-width="1" stroke-linecap="round" stroke-linejoin="round" opacity="0.6"/>
<g fill="#3FF3F6"><circle cx="566.6" cy="2086.2" r="1.8"/><circle cx="792" cy="2079.2" r="1.4"/><circle cx="542.7" cy="1921.1" r="1"/><circle cx="512.5" cy="2053.9" r="1"/><circle cx="609.7" cy="1908.7" r="1.7"/><circle cx="536.1" cy="1866" r="1.8"/><circle cx="566.7" cy="1996.9" r="1.2"/><circle cx="549.1" cy="2011.1" r="0.9"/><circle cx="611.5" cy="1809.2" r="1.3"/><circle cx="502.9" cy="1865.9" r="1.6"/><circle cx="672.4" cy="1924.5" r="1.1"/><circle cx="658.2" cy="1933.7" r="0.9"/><circle cx="642.3" cy="1948.8" r="1.1"/><circle cx="734.3" cy="1963.7" r="1.1"/><circle cx="591.2" cy="1898.2" r="1.5"/><circle cx="632.6" cy="1981.3" r="1.5"/><circle cx="575.8" cy="2113.4" r="1.3"/><circle cx="555.5" cy="2035.5" r="1.1"/><circle cx="823.2" cy="2087.8" r="1.6"/><circle cx="512.7" cy="1807.8" r="1.2"/><circle cx="546" cy="2092" r="1.7"/><circle cx="589.6" cy="1808.3" r="1.6"/><circle cx="663.1" cy="1890.9" r="1.5"/><circle cx="758.4" cy="1815.6" r="1.2"/><circle cx="715.7" cy="1922.9" r="1.6"/><circle cx="674" cy="1776.9" r="0.9"/><circle cx="567.7" cy="2064.1" r="1.3"/><circle cx="687.7" cy="1985.9" r="1.7"/><circle cx="757.7" cy="1913.3" r="1.4"/><circle cx="767.8" cy="1970.2" r="1.2"/><circle cx="719.6" cy="1965.9" r="1.7"/><circle cx="805.7" cy="2086" r="1.4"/><circle cx="624.6" cy="1801.4" r="1.2"/><circle cx="746.4" cy="2111.3" r="1.1"/><circle cx="729.3" cy="1970.4" r="1"/><circle cx="602.5" cy="1808.4" r="1.2"/><circle cx="757.5" cy="1998" r="1.7"/><circle cx="519.9" cy="1867.1" r="1"/><circle cx="651.7" cy="2076.8" r="1"/><circle cx="676.4" cy="1911" r="1.2"/><circle cx="543.2" cy="2083.3" r="1.2"/><circle cx="627.8" cy="1942.5" r="1.5"/><circle cx="578" cy="1857.9" r="1.6"/><circle cx="507.5" cy="2075.9" r="1.4"/><circle cx="515" cy="1837.5" r="1.2"/><circle cx="647.6" cy="1889" r="1.3"/><circle cx="778.1" cy="1984.6" r="1.7"/><circle cx="604.1" cy="1811" r="1.5"/><circle cx="704.6" cy="2041.8" r="1.3"/><circle cx="583.9" cy="1909.5" r="1.2"/><circle cx="812.6" cy="1948.6" r="1.7"/><circle cx="750.5" cy="1895.7" r="1.7"/><circle cx="617.3" cy="2024.4" r="1.2"/><circle cx="524.3" cy="1871.5" r="0.9"/><circle cx="509.8" cy="1817.4" r="1.6"/><circle cx="835" cy="2038" r="1.4"/><circle cx="674.4" cy="1828.6" r="1"/><circle cx="716.4" cy="1799.1" r="1.3"/><circle cx="627.7" cy="1912.3" r="1.4"/><circle cx="589.3" cy="2091.1" r="1.3"/><circle cx="733.3" cy="2102.1" r="1.5"/><circle cx="814.9" cy="1951.8" r="1.7"/><circle cx="762.6" cy="1836.4" r="0.9"/><circle cx="630" cy="1818.9" r="1.6"/><circle cx="787.5" cy="2109.6" r="1.4"/><circle cx="772.8" cy="1987.4" r="1.3"/><circle cx="625.6" cy="2092.4" r="1"/><circle cx="825" cy="2112.7" r="1.6"/><circle cx="618.5" cy="1871.4" r="1.7"/><circle cx="725.8" cy="1771.3" r="1.1"/><circle cx="627.4" cy="1960.2" r="1.2"/><circle cx="837.9" cy="1936.9" r="1.1"/><circle cx="679.3" cy="1893.7" r="1.1"/><circle cx="777" cy="2056.3" r="1.3"/><circle cx="632.6" cy="1950.4" r="1.5"/><circle cx="512.7" cy="2033" r="1.2"/><circle cx="641.7" cy="1934" r="1.5"/><circle cx="820.6" cy="1984.4" r="1.5"/><circle cx="541.5" cy="1884.8" r="1.8"/><circle cx="506.9" cy="1882.1" r="1.4"/><circle cx="675.6" cy="2070.3" r="1"/><circle cx="705.3" cy="1788.5" r="1.2"/><circle cx="573.4" cy="1835.7" r="1.5"/><circle cx="698.1" cy="1934.7" r="1.8"/><circle cx="583.2" cy="2022" r="1.5"/><circle cx="575.5" cy="1951.3" r="1.6"/><circle cx="723.5" cy="1982.9" r="1.5"/><circle cx="519.3" cy="1882.6" r="1.2"/><circle cx="593.2" cy="1935.4" r="1.5"/><circle cx="693.7" cy="1829.7" r="1.3"/><circle cx="541.6" cy="1925.7" r="1.4"/><circle cx="695.2" cy="1830.3" r="1.3"/><circle cx="818.1" cy="1818.1" r="1.1"/><circle cx="809.9" cy="2093.5" r="1.4"/><circle cx="619.9" cy="1901.3" r="1"/><circle cx="547.1" cy="1785.9" r="1.5"/><circle cx="527.9" cy="2064.7" r="0.9"/><circle cx="570.5" cy="1949.2" r="1.7"/><circle cx="504.5" cy="2033.4" r="1.3"/><circle cx="638.9" cy="1930.7" r="1.8"/><circle cx="804.5" cy="1963.6" r="1"/><circle cx="507.6" cy="1867.3" r="1.8"/><circle cx="613.1" cy="1996.2" r="1.6"/><circle cx="819.8" cy="1801.8" r="1.4"/><circle cx="497.8" cy="2034.4" r="1.1"/><circle cx="568.6" cy="2101.4" r="1.2"/><circle cx="812.8" cy="1908.4" r="1.3"/><circle cx="524.8" cy="1863.4" r="1.5"/><circle cx="581.3" cy="1964.7" r="1.4"/><circle cx="808.2" cy="1871.6" r="1.7"/><circle cx="529.6" cy="1867.3" r="1.6"/><circle cx="801.1" cy="1797.5" r="1.8"/><circle cx="751.6" cy="2115.2" r="1.8"/><circle cx="748.2" cy="1889.5" r="1.2"/><circle cx="516.5" cy="1970" r="1.1"/><circle cx="697.2" cy="1817" r="1"/><circle cx="636.7" cy="2026.2" r="1.1"/><circle cx="539" cy="2006.1" r="1.4"/><circle cx="836.5" cy="1807.1" r="1.5"/><circle cx="817.3" cy="1905.8" r="1.5"/><circle cx="643.6" cy="1904.2" r="1.1"/><circle cx="811.3" cy="1994.8" r="1.5"/><circle cx="521.2" cy="2025.2" r="1.5"/><circle cx="600" cy="2041.3" r="1"/><circle cx="640.7" cy="1992" r="1"/><circle cx="665.1" cy="2085.6" r="1"/><circle cx="501.9" cy="2033.5" r="1.1"/><circle cx="511.2" cy="2035.2" r="1.5"/><circle cx="581.1" cy="1796.8" r="1.5"/><circle cx="686.6" cy="2002.5" r="1.5"/><circle cx="748.1" cy="1789.8" r="1.1"/><circle cx="775.6" cy="1993.8" r="1"/><circle cx="804.7" cy="1917.2" r="1"/><circle cx="748.2" cy="1887.5" r="1.2"/><circle cx="696.3" cy="1920.6" r="1.6"/><circle cx="575.3" cy="1993.2" r="1.2"/><circle cx="685.7" cy="1826.7" r="1.7"/><circle cx="579.7" cy="2017.5" r="0.9"/><circle cx="665.4" cy="2009.5" r="1.3"/><circle cx="720.7" cy="2009.4" r="1"/><circle cx="546.8" cy="1923" r="1.5"/><circle cx="780.8" cy="1876.4" r="1.2"/><circle cx="508.3" cy="2073.1" r="1.2"/><circle cx="517.7" cy="1976.2" r="1.6"/><circle cx="607.6" cy="1807.8" r="1.3"/><circle cx="520.4" cy="1877.8" r="1.1"/><circle cx="772.2" cy="1984.5" r="1.8"/><circle cx="750.1" cy="1846.4" r="1"/><circle cx="731.2" cy="2020.3" r="1"/><circle cx="679.1" cy="1797.7" r="1.1"/><circle cx="709.6" cy="1798.7" r="1"/><circle cx="615" cy="1934.4" r="1"/><circle cx="676.2" cy="2008.1" r="1.2"/><circle cx="812.8" cy="1776.8" r="1"/><circle cx="576.1" cy="1877.8" r="0.9"/><circle cx="524.2" cy="2014" r="1.7"/><circle cx="504.3" cy="2085.4" r="1.5"/><circle cx="711.3" cy="2046.2" r="1.3"/><circle cx="611.8" cy="2041.4" r="1.7"/><circle cx="607.2" cy="2019.3" r="1.1"/><circle cx="804.4" cy="2022" r="1.6"/><circle cx="499.6" cy="1939.7" r="1.6"/><circle cx="796.7" cy="2112.5" r="1.5"/><circle cx="549.1" cy="2085.9" r="1.7"/><circle cx="684.2" cy="1878.5" r="1.1"/><circle cx="646.1" cy="1838.7" r="1.8"/><circle cx="581.6" cy="2017.6" r="1.4"/><circle cx="704.9" cy="2073.1" r="1.5"/><circle cx="567.9" cy="2080.1" r="1.4"/><circle cx="585.5" cy="1879.3" r="1.7"/><circle cx="544.3" cy="2000.3" r="1.6"/><circle cx="642.5" cy="1855.4" r="1.1"/><circle cx="684.4" cy="1899.3" r="1.1"/><circle cx="521.9" cy="1955.8" r="1.3"/><circle cx="601.1" cy="1898.1" r="1"/><circle cx="643.3" cy="2031.8" r="1.2"/><circle cx="720.5" cy="1965.7" r="1.3"/><circle cx="542.5" cy="2051.1" r="1.3"/><circle cx="774.1" cy="1867.1" r="1.1"/><circle cx="638.8" cy="1982.3" r="1"/><circle cx="814.3" cy="1949.7" r="1.2"/><circle cx="514" cy="1813.7" r="1.6"/><circle cx="507.1" cy="1888.2" r="1.5"/><circle cx="579.6" cy="1926.4" r="1.5"/><circle cx="701.2" cy="1983.5" r="1.8"/><circle cx="634.2" cy="1982.9" r="1.1"/><circle cx="690.1" cy="2068.5" r="1.5"/><circle cx="664.9" cy="1896.8" r="1.3"/><circle cx="822.2" cy="1798.9" r="1.1"/><circle cx="709" cy="2052.2" r="1.5"/><circle cx="525.6" cy="1920.1" r="1.4"/><circle cx="816.6" cy="1842" r="1.5"/><circle cx="669.5" cy="2091.8" r="1.1"/><circle cx="628.6" cy="1975.3" r="1.7"/><circle cx="561.1" cy="2026.9" r="1.1"/><circle cx="495.6" cy="1969.1" r="1.6"/><circle cx="711.4" cy="1808.1" r="1.3"/><circle cx="622.4" cy="2027.6" r="1.4"/><circle cx="750.2" cy="1873.8" r="1.6"/><circle cx="641.2" cy="2018.8" r="1.3"/><circle cx="605.4" cy="1928.8" r="1.2"/><circle cx="706.2" cy="1982" r="1.4"/><circle cx="642.3" cy="1864.5" r="1.4"/><circle cx="637.8" cy="1957.1" r="1.8"/><circle cx="542.3" cy="2003.8" r="1.6"/><circle cx="669.4" cy="1918.3" r="1"/><circle cx="693" cy="2074.7" r="1.1"/><circle cx="800.5" cy="1916.5" r="1.8"/><circle cx="682.3" cy="1827.4" r="1.7"/><circle cx="659.2" cy="1893.9" r="1.2"/><circle cx="515.8" cy="1985.7" r="1.7"/><circle cx="656.5" cy="2007.8" r="1.7"/><circle cx="746.7" cy="1930" r="1.6"/><circle cx="704.4" cy="2004.1" r="1.6"/><circle cx="517.8" cy="2067.9" r="1.6"/><circle cx="633.5" cy="1886.7" r="0.9"/><circle cx="564.2" cy="1769.9" r="1"/><circle cx="730.6" cy="2084.3" r="1.5"/><circle cx="575.3" cy="2004.7" r="1.7"/><circle cx="760.1" cy="1774.9" r="1.8"/><circle cx="831" cy="1958.5" r="1.5"/><circle cx="507.6" cy="2048.4" r="1.8"/><circle cx="637.3" cy="1939.6" r="1.4"/><circle cx="643.6" cy="2073.2" r="1.1"/><circle cx="509.8" cy="1867.6" r="1.6"/><circle cx="777.2" cy="1988.4" r="1.2"/><circle cx="620.7" cy="2102.1" r="0.9"/><circle cx="512.3" cy="1951.4" r="1.1"/><circle cx="547.1" cy="1881.7" r="1.6"/><circle cx="538.4" cy="2112.1" r="0.9"/><circle cx="504.2" cy="2100.2" r="1"/><circle cx="579.9" cy="1977" r="1.3"/><circle cx="771.8" cy="1942.8" r="1.3"/><circle cx="550.7" cy="2086.8" r="1.3"/><circle cx="514.6" cy="2070.9" r="1.6"/><circle cx="495.5" cy="1964.3" r="1.5"/><circle cx="773.3" cy="1908.7" r="1.5"/><circle cx="611.1" cy="1871.2" r="1"/><circle cx="588.3" cy="1888.3" r="1.1"/><circle cx="664.8" cy="2070.6" r="1"/><circle cx="500.4" cy="2092.9" r="1.8"/><circle cx="603.1" cy="2027.7" r="1.2"/><circle cx="727.6" cy="1800.5" r="1.2"/><circle cx="623.7" cy="1882.8" r="1.3"/><circle cx="799.2" cy="2018.4" r="1.1"/><circle cx="748.4" cy="2106" r="1.1"/><circle cx="583" cy="1894.7" r="1.3"/><circle cx="508.6" cy="2051.2" r="1"/><circle cx="686.1" cy="2029.8" r="1.4"/><circle cx="732" cy="1818.1" r="1.1"/><circle cx="568.6" cy="1852.1" r="0.9"/><circle cx="767.4" cy="1780" r="1.7"/><circle cx="651.5" cy="2008.8" r="1.7"/><circle cx="771.4" cy="2064.3" r="1.4"/><circle cx="575.2" cy="2041.1" r="1"/><circle cx="815" cy="1832.4" r="1.4"/><circle cx="840" cy="1963.9" r="1.3"/><circle cx="647.6" cy="1862" r="1.3"/><circle cx="575.8" cy="2007.7" r="1.5"/><circle cx="518.1" cy="1961" r="1.4"/><circle cx="594.6" cy="1934.1" r="1"/><circle cx="528.1" cy="1773" r="1.1"/><circle cx="740.9" cy="2083.4" r="1.2"/><circle cx="516.5" cy="2034.5" r="1"/><circle cx="599.5" cy="1818.1" r="1.4"/><circle cx="626.3" cy="1901.1" r="1.4"/><circle cx="726.9" cy="1796.7" r="1.7"/><circle cx="667.3" cy="1930.6" r="1.6"/><circle cx="511.3" cy="1901.1" r="1.5"/><circle cx="763.8" cy="1829.7" r="1.6"/><circle cx="665.6" cy="1903.5" r="1"/><circle cx="668.5" cy="1865.3" r="1.1"/><circle cx="625.8" cy="1905.3" r="1.8"/><circle cx="664.4" cy="1893.9" r="1.7"/><circle cx="717.8" cy="2012.4" r="1.7"/><circle cx="581.2" cy="2024.1" r="1.7"/><circle cx="713.1" cy="1964.8" r="1.4"/><circle cx="684.6" cy="2006.5" r="1.3"/><circle cx="642.2" cy="1835.3" r="1.2"/><circle cx="573.5" cy="1772.5" r="1.2"/><circle cx="826.5" cy="2035.5" r="1"/><circle cx="502.7" cy="1846.9" r="1.6"/><circle cx="591.4" cy="1901.8" r="1.4"/><circle cx="732.1" cy="2010.3" r="1.7"/><circle cx="770.2" cy="2018" r="1.2"/><circle cx="793" cy="1911.8" r="1"/><circle cx="775.7" cy="2059.8" r="0.9"/><circle cx="757.4" cy="1814.7" r="1.3"/><circle cx="516.8" cy="1790.7" r="1.5"/><circle cx="590.4" cy="1898.9" r="1.7"/><circle cx="774.3" cy="2055.6" r="1.4"/><circle cx="840.2" cy="2075.3" r="1"/><circle cx="805.6" cy="2034.9" r="1.4"/><circle cx="638.8" cy="1930.2" r="1.2"/><circle cx="624.1" cy="1810.2" r="1.2"/><circle cx="575" cy="1897.5" r="1.5"/><circle cx="703.1" cy="1967.1" r="1.6"/><circle cx="744.6" cy="1816" r="1.4"/><circle cx="559" cy="1786.2" r="1.7"/><circle cx="515.7" cy="1815.9" r="1.2"/></g>
</g>
<g clip-path="url(#cC3)">
<rect x="491.9" y="2150" width="349.6" height="351" fill="#000"/>
<path d="M537.3 2151.7 L539.4 2175.3" fill="none" stroke="#D400D8" stroke-width="2.2" stroke-linecap="round" stroke-linejoin="round" opacity="1"/>
<path d="M537.3 2151.7 L539.4 2175.3" fill="none" stroke="#FF4DFF" stroke-width="0.9" stroke-linecap="round" stroke-linejoin="round" opacity="0.6"/>
<path d="M539.4 2175.3 L511.6 2192.4" fill="none" stroke="#D400D8" stroke-width="2.2" stroke-linecap="round" stroke-linejoin="round" opacity="1"/>
<path d="M539.4 2175.3 L511.6 2192.4" fill="none" stroke="#FF4DFF" stroke-width="0.9" stroke-linecap="round" stroke-linejoin="round" opacity="0.6"/>
<path d="M511.6 2192.4 L492.3 2179.6" fill="none" stroke="#D400D8" stroke-width="2.2" stroke-linecap="round" stroke-linejoin="round" opacity="1"/>
<path d="M511.6 2192.4 L492.3 2179.6" fill="none" stroke="#FF4DFF" stroke-width="0.9" stroke-linecap="round" stroke-linejoin="round" opacity="0.6"/>
<path d="M578 2151.7 L582.3 2175.3" fill="none" stroke="#D400D8" stroke-width="2.2" stroke-linecap="round" stroke-linejoin="round" opacity="1"/>
<path d="M578 2151.7 L582.3 2175.3" fill="none" stroke="#FF4DFF" stroke-width="0.9" stroke-linecap="round" stroke-linejoin="round" opacity="0.6"/>
<path d="M582.3 2175.3 L569.4 2190.3" fill="none" stroke="#D400D8" stroke-width="2.2" stroke-linecap="round" stroke-linejoin="round" opacity="1"/>
<path d="M582.3 2175.3 L569.4 2190.3" fill="none" stroke="#FF4DFF" stroke-width="0.9" stroke-linecap="round" stroke-linejoin="round" opacity="0.6"/>
<path d="M569.4 2190.3 L539.4 2175.3" fill="none" stroke="#D400D8" stroke-width="2.2" stroke-linecap="round" stroke-linejoin="round" opacity="1"/>
<path d="M569.4 2190.3 L539.4 2175.3" fill="none" stroke="#FF4DFF" stroke-width="0.9" stroke-linecap="round" stroke-linejoin="round" opacity="0.6"/>
<path d="M618.7 2151.7 L616.6 2175.3" fill="none" stroke="#D400D8" stroke-width="2.2" stroke-linecap="round" stroke-linejoin="round" opacity="1"/>
<path d="M618.7 2151.7 L616.6 2175.3" fill="none" stroke="#FF4DFF" stroke-width="0.9" stroke-linecap="round" stroke-linejoin="round" opacity="0.6"/>
<path d="M616.6 2175.3 L582.3 2175.3" fill="none" stroke="#D400D8" stroke-width="2.2" stroke-linecap="round" stroke-linejoin="round" opacity="1"/>
<path d="M616.6 2175.3 L582.3 2175.3" fill="none" stroke="#FF4DFF" stroke-width="0.9" stroke-linecap="round" stroke-linejoin="round" opacity="0.6"/>
<path d="M680.8 2151.7 L683 2177.4" fill="none" stroke="#D400D8" stroke-width="2.2" stroke-linecap="round" stroke-linejoin="round" opacity="1"/>
<path d="M680.8 2151.7 L683 2177.4" fill="none" stroke="#FF4DFF" stroke-width="0.9" stroke-linecap="round" stroke-linejoin="round" opacity="0.6"/>
<path d="M683 2177.4 L644.4 2196.7" fill="none" stroke="#D400D8" stroke-width="2.2" stroke-linecap="round" stroke-linejoin="round" opacity="1"/>
<path d="M683 2177.4 L644.4 2196.7" fill="none" stroke="#FF4DFF" stroke-width="0.9" stroke-linecap="round" stroke-linejoin="round" opacity="0.6"/>
<path d="M644.4 2196.7 L616.6 2175.3" fill="none" stroke="#D400D8" stroke-width="2.2" stroke-linecap="round" stroke-linejoin="round" opacity="1"/>
<path d="M644.4 2196.7 L616.6 2175.3" fill="none" stroke="#FF4DFF" stroke-width="0.9" stroke-linecap="round" stroke-linejoin="round" opacity="0.6"/>
<path d="M736.6 2151.7 L738.7 2162.4" fill="none" stroke="#D400D8" stroke-width="2.2" stroke-linecap="round" stroke-linejoin="round" opacity="1"/>
<path d="M736.6 2151.7 L738.7 2162.4" fill="none" stroke="#FF4DFF" stroke-width="0.9" stroke-linecap="round" stroke-linejoin="round" opacity="0.6"/>
<path d="M738.7 2162.4 L713 2183.9" fill="none" stroke="#D400D8" stroke-width="2.2" stroke-linecap="round" stroke-linejoin="round" opacity="1"/>
<path d="M738.7 2162.4 L713 2183.9" fill="none" stroke="#FF4DFF" stroke-width="0.9" stroke-linecap="round" stroke-linejoin="round" opacity="0.6"/>
<path d="M713 2183.9 L683 2177.4" fill="none" stroke="#D400D8" stroke-width="2.2" stroke-linecap="round" stroke-linejoin="round" opacity="1"/>
<path d="M713 2183.9 L683 2177.4" fill="none" stroke="#FF4DFF" stroke-width="0.9" stroke-linecap="round" stroke-linejoin="round" opacity="0.6"/>
<path d="M805.1 2151.7 L779.4 2173.1" fill="none" stroke="#D400D8" stroke-width="2.2" stroke-linecap="round" stroke-linejoin="round" opacity="1"/>
<path d="M805.1 2151.7 L779.4 2173.1" fill="none" stroke="#FF4DFF" stroke-width="0.9" stroke-linecap="round" stroke-linejoin="round" opacity="0.6"/>
<path d="M779.4 2173.1 L738.7 2162.4" fill="none" stroke="#D400D8" stroke-width="2.2" stroke-linecap="round" stroke-linejoin="round" opacity="1"/>
<path d="M779.4 2173.1 L738.7 2162.4" fill="none" stroke="#FF4DFF" stroke-width="0.9" stroke-linecap="round" stroke-linejoin="round" opacity="0.6"/>
<path d="M841.5 2179.6 L828.7 2183.9" fill="none" stroke="#D400D8" stroke-width="2.2" stroke-linecap="round" stroke-linejoin="round" opacity="1"/>
<path d="M841.5 2179.6 L828.7 2183.9" fill="none" stroke="#FF4DFF" stroke-width="0.9" stroke-linecap="round" stroke-linejoin="round" opacity="0.6"/>
<path d="M828.7 2183.9 L779.4 2173.1" fill="none" stroke="#D400D8" stroke-width="2.2" stroke-linecap="round" stroke-linejoin="round" opacity="1"/>
<path d="M828.7 2183.9 L779.4 2173.1" fill="none" stroke="#FF4DFF" stroke-width="0.9" stroke-linecap="round" stroke-linejoin="round" opacity="0.6"/>
<path d="M569.4 2190.3 L571.6 2226.7" fill="none" stroke="#D400D8" stroke-width="2.2" stroke-linecap="round" stroke-linejoin="round" opacity="1"/>
<path d="M569.4 2190.3 L571.6 2226.7" fill="none" stroke="#FF4DFF" stroke-width="0.9" stroke-linecap="round" stroke-linejoin="round" opacity="0.6"/>
<path d="M571.6 2226.7 L526.6 2250.3" fill="none" stroke="#D400D8" stroke-width="2.2" stroke-linecap="round" stroke-linejoin="round" opacity="1"/>
<path d="M571.6 2226.7 L526.6 2250.3" fill="none" stroke="#FF4DFF" stroke-width="0.9" stroke-linecap="round" stroke-linejoin="round" opacity="0.6"/>
<path d="M526.6 2250.3 L505.1 2226.7" fill="none" stroke="#D400D8" stroke-width="2.2" stroke-linecap="round" stroke-linejoin="round" opacity="1"/>
<path d="M526.6 2250.3 L505.1 2226.7" fill="none" stroke="#FF4DFF" stroke-width="0.9" stroke-linecap="round" stroke-linejoin="round" opacity="0.6"/>
<path d="M505.1 2226.7 L511.6 2192.4" fill="none" stroke="#D400D8" stroke-width="2.2" stroke-linecap="round" stroke-linejoin="round" opacity="1"/>
<path d="M505.1 2226.7 L511.6 2192.4" fill="none" stroke="#FF4DFF" stroke-width="0.9" stroke-linecap="round" stroke-linejoin="round" opacity="0.6"/>
<path d="M644.4 2196.7 L640.1 2235.3" fill="none" stroke="#D400D8" stroke-width="2.2" stroke-linecap="round" stroke-linejoin="round" opacity="1"/>
<path d="M644.4 2196.7 L640.1 2235.3" fill="none" stroke="#FF4DFF" stroke-width="0.9" stroke-linecap="round" stroke-linejoin="round" opacity="0.6"/>
<path d="M640.1 2235.3 L603.7 2250.3" fill="none" stroke="#D400D8" stroke-width="2.2" stroke-linecap="round" stroke-linejoin="round" opacity="1"/>
<path d="M640.1 2235.3 L603.7 2250.3" fill="none" stroke="#FF4DFF" stroke-width="0.9" stroke-linecap="round" stroke-linejoin="round" opacity="0.6"/>
<path d="M603.7 2250.3 L571.6 2226.7" fill="none" stroke="#D400D8" stroke-width="2.2" stroke-linecap="round" stroke-linejoin="round" opacity="1"/>
<path d="M603.7 2250.3 L571.6 2226.7" fill="none" stroke="#FF4DFF" stroke-width="0.9" stroke-linecap="round" stroke-linejoin="round" opacity="0.6"/>
<path d="M713 2183.9 L723.7 2224.6" fill="none" stroke="#D400D8" stroke-width="2.2" stroke-linecap="round" stroke-linejoin="round" opacity="1"/>
<path d="M713 2183.9 L723.7 2224.6" fill="none" stroke="#FF4DFF" stroke-width="0.9" stroke-linecap="round" stroke-linejoin="round" opacity="0.6"/>
<path d="M723.7 2224.6 L710.8 2250.3" fill="none" stroke="#D400D8" stroke-width="2.2" stroke-linecap="round" stroke-linejoin="round" opacity="1"/>
<path d="M723.7 2224.6 L710.8 2250.3" fill="none" stroke="#FF4DFF" stroke-width="0.9" stroke-linecap="round" stroke-linejoin="round" opacity="0.6"/>
<path d="M710.8 2250.3 L676.6 2258.8" fill="none" stroke="#D400D8" stroke-width="2.2" stroke-linecap="round" stroke-linejoin="round" opacity="1"/>
<path d="M710.8 2250.3 L676.6 2258.8" fill="none" stroke="#FF4DFF" stroke-width="0.9" stroke-linecap="round" stroke-linejoin="round" opacity="0.6"/>
<path d="M676.6 2258.8 L640.1 2235.3" fill="none" stroke="#D400D8" stroke-width="2.2" stroke-linecap="round" stroke-linejoin="round" opacity="1"/>
<path d="M676.6 2258.8 L640.1 2235.3" fill="none" stroke="#FF4DFF" stroke-width="0.9" stroke-linecap="round" stroke-linejoin="round" opacity="0.6"/>
<path d="M779.4 2173.1 L788 2203.1" fill="none" stroke="#D400D8" stroke-width="2.2" stroke-linecap="round" stroke-linejoin="round" opacity="1"/>
<path d="M779.4 2173.1 L788 2203.1" fill="none" stroke="#FF4DFF" stroke-width="0.9" stroke-linecap="round" stroke-linejoin="round" opacity="0.6"/>
<path d="M788 2203.1 L777.3 2231" fill="none" stroke="#D400D8" stroke-width="2.2" stroke-linecap="round" stroke-linejoin="round" opacity="1"/>
<path d="M788 2203.1 L777.3 2231" fill="none" stroke="#FF4DFF" stroke-width="0.9" stroke-linecap="round" stroke-linejoin="round" opacity="0.6"/>
<path d="M777.3 2231 L723.7 2224.6" fill="none" stroke="#D400D8" stroke-width="2.2" stroke-linecap="round" stroke-linejoin="round" opacity="1"/>
<path d="M777.3 2231 L723.7 2224.6" fill="none" stroke="#FF4DFF" stroke-width="0.9" stroke-linecap="round" stroke-linejoin="round" opacity="0.6"/>
<path d="M828.7 2183.9 L826.5 2203.1" fill="none" stroke="#D400D8" stroke-width="2.2" stroke-linecap="round" stroke-linejoin="round" opacity="1"/>
<path d="M828.7 2183.9 L826.5 2203.1" fill="none" stroke="#FF4DFF" stroke-width="0.9" stroke-linecap="round" stroke-linejoin="round" opacity="0.6"/>
<path d="M826.5 2203.1 L788 2203.1" fill="none" stroke="#D400D8" stroke-width="2.2" stroke-linecap="round" stroke-linejoin="round" opacity="1"/>
<path d="M826.5 2203.1 L788 2203.1" fill="none" stroke="#FF4DFF" stroke-width="0.9" stroke-linecap="round" stroke-linejoin="round" opacity="0.6"/>
<path d="M826.5 2203.1 L837.3 2228.9" fill="none" stroke="#D400D8" stroke-width="2.2" stroke-linecap="round" stroke-linejoin="round" opacity="1"/>
<path d="M826.5 2203.1 L837.3 2228.9" fill="none" stroke="#FF4DFF" stroke-width="0.9" stroke-linecap="round" stroke-linejoin="round" opacity="0.6"/>
<path d="M837.3 2228.9 L800.8 2248.1" fill="none" stroke="#D400D8" stroke-width="2.2" stroke-linecap="round" stroke-linejoin="round" opacity="1"/>
<path d="M837.3 2228.9 L800.8 2248.1" fill="none" stroke="#FF4DFF" stroke-width="0.9" stroke-linecap="round" stroke-linejoin="round" opacity="0.6"/>
<path d="M800.8 2248.1 L777.3 2231" fill="none" stroke="#D400D8" stroke-width="2.2" stroke-linecap="round" stroke-linejoin="round" opacity="1"/>
<path d="M800.8 2248.1 L777.3 2231" fill="none" stroke="#FF4DFF" stroke-width="0.9" stroke-linecap="round" stroke-linejoin="round" opacity="0.6"/>
<path d="M492.3 2224.6 L505.1 2226.7" fill="none" stroke="#D400D8" stroke-width="2.2" stroke-linecap="round" stroke-linejoin="round" opacity="1"/>
<path d="M492.3 2224.6 L505.1 2226.7" fill="none" stroke="#FF4DFF" stroke-width="0.9" stroke-linecap="round" stroke-linejoin="round" opacity="0.6"/>
<path d="M526.6 2250.3 L528.7 2282.4" fill="none" stroke="#D400D8" stroke-width="2.2" stroke-linecap="round" stroke-linejoin="round" opacity="1"/>
<path d="M526.6 2250.3 L528.7 2282.4" fill="none" stroke="#FF4DFF" stroke-width="0.9" stroke-linecap="round" stroke-linejoin="round" opacity="0.6"/>
<path d="M528.7 2282.4 L492.3 2303.8" fill="none" stroke="#D400D8" stroke-width="2.2" stroke-linecap="round" stroke-linejoin="round" opacity="1"/>
<path d="M528.7 2282.4 L492.3 2303.8" fill="none" stroke="#FF4DFF" stroke-width="0.9" stroke-linecap="round" stroke-linejoin="round" opacity="0.6"/>
<path d="M603.7 2250.3 L595.1 2282.4" fill="none" stroke="#D400D8" stroke-width="2.2" stroke-linecap="round" stroke-linejoin="round" opacity="1"/>
<path d="M603.7 2250.3 L595.1 2282.4" fill="none" stroke="#FF4DFF" stroke-width="0.9" stroke-linecap="round" stroke-linejoin="round" opacity="0.6"/>
<path d="M595.1 2282.4 L548 2295.3" fill="none" stroke="#D400D8" stroke-width="2.2" stroke-linecap="round" stroke-linejoin="round" opacity="1"/>
<path d="M595.1 2282.4 L548 2295.3" fill="none" stroke="#FF4DFF" stroke-width="0.9" stroke-linecap="round" stroke-linejoin="round" opacity="0.6"/>
<path d="M548 2295.3 L528.7 2282.4" fill="none" stroke="#D400D8" stroke-width="2.2" stroke-linecap="round" stroke-linejoin="round" opacity="1"/>
<path d="M548 2295.3 L528.7 2282.4" fill="none" stroke="#FF4DFF" stroke-width="0.9" stroke-linecap="round" stroke-linejoin="round" opacity="0.6"/>
<path d="M676.6 2258.8 L678.7 2291" fill="none" stroke="#D400D8" stroke-width="2.2" stroke-linecap="round" stroke-linejoin="round" opacity="1"/>
<path d="M676.6 2258.8 L678.7 2291" fill="none" stroke="#FF4DFF" stroke-width="0.9" stroke-linecap="round" stroke-linejoin="round" opacity="0.6"/>
<path d="M678.7 2291 L650.8 2314.6" fill="none" stroke="#D400D8" stroke-width="2.2" stroke-linecap="round" stroke-linejoin="round" opacity="1"/>
<path d="M678.7 2291 L650.8 2314.6" fill="none" stroke="#FF4DFF" stroke-width="0.9" stroke-linecap="round" stroke-linejoin="round" opacity="0.6"/>
<path d="M650.8 2314.6 L614.4 2312.4" fill="none" stroke="#D400D8" stroke-width="2.2" stroke-linecap="round" stroke-linejoin="round" opacity="1"/>
<path d="M650.8 2314.6 L614.4 2312.4" fill="none" stroke="#FF4DFF" stroke-width="0.9" stroke-linecap="round" stroke-linejoin="round" opacity="0.6"/>
<path d="M614.4 2312.4 L595.1 2282.4" fill="none" stroke="#D400D8" stroke-width="2.2" stroke-linecap="round" stroke-linejoin="round" opacity="1"/>
<path d="M614.4 2312.4 L595.1 2282.4" fill="none" stroke="#FF4DFF" stroke-width="0.9" stroke-linecap="round" stroke-linejoin="round" opacity="0.6"/>
<path d="M710.8 2250.3 L725.8 2269.6" fill="none" stroke="#D400D8" stroke-width="2.2" stroke-linecap="round" stroke-linejoin="round" opacity="1"/>
<path d="M710.8 2250.3 L725.8 2269.6" fill="none" stroke="#FF4DFF" stroke-width="0.9" stroke-linecap="round" stroke-linejoin="round" opacity="0.6"/>
<path d="M725.8 2269.6 L717.3 2291" fill="none" stroke="#D400D8" stroke-width="2.2" stroke-linecap="round" stroke-linejoin="round" opacity="1"/>
<path d="M725.8 2269.6 L717.3 2291" fill="none" stroke="#FF4DFF" stroke-width="0.9" stroke-linecap="round" stroke-linejoin="round" opacity="0.6"/>
<path d="M717.3 2291 L678.7 2291" fill="none" stroke="#D400D8" stroke-width="2.2" stroke-linecap="round" stroke-linejoin="round" opacity="1"/>
<path d="M717.3 2291 L678.7 2291" fill="none" stroke="#FF4DFF" stroke-width="0.9" stroke-linecap="round" stroke-linejoin="round" opacity="0.6"/>
<path d="M777.3 2231 L755.8 2265.3" fill="none" stroke="#D400D8" stroke-width="2.2" stroke-linecap="round" stroke-linejoin="round" opacity="1"/>
<path d="M777.3 2231 L755.8 2265.3" fill="none" stroke="#FF4DFF" stroke-width="0.9" stroke-linecap="round" stroke-linejoin="round" opacity="0.6"/>
<path d="M755.8 2265.3 L725.8 2269.6" fill="none" stroke="#D400D8" stroke-width="2.2" stroke-linecap="round" stroke-linejoin="round" opacity="1"/>
<path d="M755.8 2265.3 L725.8 2269.6" fill="none" stroke="#FF4DFF" stroke-width="0.9" stroke-linecap="round" stroke-linejoin="round" opacity="0.6"/>
<path d="M800.8 2248.1 L800.8 2267.4" fill="none" stroke="#D400D8" stroke-width="2.2" stroke-linecap="round" stroke-linejoin="round" opacity="1"/>
<path d="M800.8 2248.1 L800.8 2267.4" fill="none" stroke="#FF4DFF" stroke-width="0.9" stroke-linecap="round" stroke-linejoin="round" opacity="0.6"/>
<path d="M800.8 2267.4 L766.6 2278.1" fill="none" stroke="#D400D8" stroke-width="2.2" stroke-linecap="round" stroke-linejoin="round" opacity="1"/>
<path d="M800.8 2267.4 L766.6 2278.1" fill="none" stroke="#FF4DFF" stroke-width="0.9" stroke-linecap="round" stroke-linejoin="round" opacity="0.6"/>
<path d="M766.6 2278.1 L755.8 2265.3" fill="none" stroke="#D400D8" stroke-width="2.2" stroke-linecap="round" stroke-linejoin="round" opacity="1"/>
<path d="M766.6 2278.1 L755.8 2265.3" fill="none" stroke="#FF4DFF" stroke-width="0.9" stroke-linecap="round" stroke-linejoin="round" opacity="0.6"/>
<path d="M841.5 2273.8 L800.8 2267.4" fill="none" stroke="#D400D8" stroke-width="2.2" stroke-linecap="round" stroke-linejoin="round" opacity="1"/>
<path d="M841.5 2273.8 L800.8 2267.4" fill="none" stroke="#FF4DFF" stroke-width="0.9" stroke-linecap="round" stroke-linejoin="round" opacity="0.6"/>
<path d="M766.6 2278.1 L758 2306" fill="none" stroke="#D400D8" stroke-width="2.2" stroke-linecap="round" stroke-linejoin="round" opacity="1"/>
<path d="M766.6 2278.1 L758 2306" fill="none" stroke="#FF4DFF" stroke-width="0.9" stroke-linecap="round" stroke-linejoin="round" opacity="0.6"/>
<path d="M758 2306 L730.1 2310.3" fill="none" stroke="#D400D8" stroke-width="2.2" stroke-linecap="round" stroke-linejoin="round" opacity="1"/>
<path d="M758 2306 L730.1 2310.3" fill="none" stroke="#FF4DFF" stroke-width="0.9" stroke-linecap="round" stroke-linejoin="round" opacity="0.6"/>
<path d="M730.1 2310.3 L717.3 2291" fill="none" stroke="#D400D8" stroke-width="2.2" stroke-linecap="round" stroke-linejoin="round" opacity="1"/>
<path d="M730.1 2310.3 L717.3 2291" fill="none" stroke="#FF4DFF" stroke-width="0.9" stroke-linecap="round" stroke-linejoin="round" opacity="0.6"/>
<path d="M800.8 2267.4 L830.8 2286.7" fill="none" stroke="#D400D8" stroke-width="2.2" stroke-linecap="round" stroke-linejoin="round" opacity="1"/>
<path d="M800.8 2267.4 L830.8 2286.7" fill="none" stroke="#FF4DFF" stroke-width="0.9" stroke-linecap="round" stroke-linejoin="round" opacity="0.6"/>
<path d="M830.8 2286.7 L835.1 2312.4" fill="none" stroke="#D400D8" stroke-width="2.2" stroke-linecap="round" stroke-linejoin="round" opacity="1"/>
<path d="M830.8 2286.7 L835.1 2312.4" fill="none" stroke="#FF4DFF" stroke-width="0.9" stroke-linecap="round" stroke-linejoin="round" opacity="0.6"/>
<path d="M835.1 2312.4 L818 2344.6" fill="none" stroke="#D400D8" stroke-width="2.2" stroke-linecap="round" stroke-linejoin="round" opacity="1"/>
<path d="M835.1 2312.4 L818 2344.6" fill="none" stroke="#FF4DFF" stroke-width="0.9" stroke-linecap="round" stroke-linejoin="round" opacity="0.6"/>
<path d="M818 2344.6 L779.4 2338.1" fill="none" stroke="#D400D8" stroke-width="2.2" stroke-linecap="round" stroke-linejoin="round" opacity="1"/>
<path d="M818 2344.6 L779.4 2338.1" fill="none" stroke="#FF4DFF" stroke-width="0.9" stroke-linecap="round" stroke-linejoin="round" opacity="0.6"/>
<path d="M779.4 2338.1 L758 2306" fill="none" stroke="#D400D8" stroke-width="2.2" stroke-linecap="round" stroke-linejoin="round" opacity="1"/>
<path d="M779.4 2338.1 L758 2306" fill="none" stroke="#FF4DFF" stroke-width="0.9" stroke-linecap="round" stroke-linejoin="round" opacity="0.6"/>
<path d="M548 2295.3 L556.6 2344.6" fill="none" stroke="#D400D8" stroke-width="2.2" stroke-linecap="round" stroke-linejoin="round" opacity="1"/>
<path d="M548 2295.3 L556.6 2344.6" fill="none" stroke="#FF4DFF" stroke-width="0.9" stroke-linecap="round" stroke-linejoin="round" opacity="0.6"/>
<path d="M556.6 2344.6 L498.7 2366" fill="none" stroke="#D400D8" stroke-width="2.2" stroke-linecap="round" stroke-linejoin="round" opacity="1"/>
<path d="M556.6 2344.6 L498.7 2366" fill="none" stroke="#FF4DFF" stroke-width="0.9" stroke-linecap="round" stroke-linejoin="round" opacity="0.6"/>
<path d="M614.4 2312.4 L603.7 2344.6" fill="none" stroke="#D400D8" stroke-width="2.2" stroke-linecap="round" stroke-linejoin="round" opacity="1"/>
<path d="M614.4 2312.4 L603.7 2344.6" fill="none" stroke="#FF4DFF" stroke-width="0.9" stroke-linecap="round" stroke-linejoin="round" opacity="0.6"/>
<path d="M603.7 2344.6 L556.6 2344.6" fill="none" stroke="#D400D8" stroke-width="2.2" stroke-linecap="round" stroke-linejoin="round" opacity="1"/>
<path d="M603.7 2344.6 L556.6 2344.6" fill="none" stroke="#FF4DFF" stroke-width="0.9" stroke-linecap="round" stroke-linejoin="round" opacity="0.6"/>
<path d="M650.8 2314.6 L650.8 2353.1" fill="none" stroke="#D400D8" stroke-width="2.2" stroke-linecap="round" stroke-linejoin="round" opacity="1"/>
<path d="M650.8 2314.6 L650.8 2353.1" fill="none" stroke="#FF4DFF" stroke-width="0.9" stroke-linecap="round" stroke-linejoin="round" opacity="0.6"/>
<path d="M650.8 2353.1 L620.8 2361.7" fill="none" stroke="#D400D8" stroke-width="2.2" stroke-linecap="round" stroke-linejoin="round" opacity="1"/>
<path d="M650.8 2353.1 L620.8 2361.7" fill="none" stroke="#FF4DFF" stroke-width="0.9" stroke-linecap="round" stroke-linejoin="round" opacity="0.6"/>
<path d="M620.8 2361.7 L603.7 2344.6" fill="none" stroke="#D400D8" stroke-width="2.2" stroke-linecap="round" stroke-linejoin="round" opacity="1"/>
<path d="M620.8 2361.7 L603.7 2344.6" fill="none" stroke="#FF4DFF" stroke-width="0.9" stroke-linecap="round" stroke-linejoin="round" opacity="0.6"/>
<path d="M730.1 2310.3 L728 2348.8" fill="none" stroke="#D400D8" stroke-width="2.2" stroke-linecap="round" stroke-linejoin="round" opacity="1"/>
<path d="M730.1 2310.3 L728 2348.8" fill="none" stroke="#FF4DFF" stroke-width="0.9" stroke-linecap="round" stroke-linejoin="round" opacity="0.6"/>
<path d="M728 2348.8 L698 2370.3" fill="none" stroke="#D400D8" stroke-width="2.2" stroke-linecap="round" stroke-linejoin="round" opacity="1"/>
<path d="M728 2348.8 L698 2370.3" fill="none" stroke="#FF4DFF" stroke-width="0.9" stroke-linecap="round" stroke-linejoin="round" opacity="0.6"/>
<path d="M698 2370.3 L650.8 2353.1" fill="none" stroke="#D400D8" stroke-width="2.2" stroke-linecap="round" stroke-linejoin="round" opacity="1"/>
<path d="M698 2370.3 L650.8 2353.1" fill="none" stroke="#FF4DFF" stroke-width="0.9" stroke-linecap="round" stroke-linejoin="round" opacity="0.6"/>
<path d="M779.4 2338.1 L760.1 2361.7" fill="none" stroke="#D400D8" stroke-width="2.2" stroke-linecap="round" stroke-linejoin="round" opacity="1"/>
<path d="M779.4 2338.1 L760.1 2361.7" fill="none" stroke="#FF4DFF" stroke-width="0.9" stroke-linecap="round" stroke-linejoin="round" opacity="0.6"/>
<path d="M760.1 2361.7 L728 2348.8" fill="none" stroke="#D400D8" stroke-width="2.2" stroke-linecap="round" stroke-linejoin="round" opacity="1"/>
<path d="M760.1 2361.7 L728 2348.8" fill="none" stroke="#FF4DFF" stroke-width="0.9" stroke-linecap="round" stroke-linejoin="round" opacity="0.6"/>
<path d="M818 2344.6 L841.5 2368.1" fill="none" stroke="#D400D8" stroke-width="2.2" stroke-linecap="round" stroke-linejoin="round" opacity="1"/>
<path d="M818 2344.6 L841.5 2368.1" fill="none" stroke="#FF4DFF" stroke-width="0.9" stroke-linecap="round" stroke-linejoin="round" opacity="0.6"/>
<path d="M841.5 2398.1 L809.4 2406.7" fill="none" stroke="#D400D8" stroke-width="2.2" stroke-linecap="round" stroke-linejoin="round" opacity="1"/>
<path d="M841.5 2398.1 L809.4 2406.7" fill="none" stroke="#FF4DFF" stroke-width="0.9" stroke-linecap="round" stroke-linejoin="round" opacity="0.6"/>
<path d="M809.4 2406.7 L766.6 2396" fill="none" stroke="#D400D8" stroke-width="2.2" stroke-linecap="round" stroke-linejoin="round" opacity="1"/>
<path d="M809.4 2406.7 L766.6 2396" fill="none" stroke="#FF4DFF" stroke-width="0.9" stroke-linecap="round" stroke-linejoin="round" opacity="0.6"/>
<path d="M766.6 2396 L760.1 2361.7" fill="none" stroke="#D400D8" stroke-width="2.2" stroke-linecap="round" stroke-linejoin="round" opacity="1"/>
<path d="M766.6 2396 L760.1 2361.7" fill="none" stroke="#FF4DFF" stroke-width="0.9" stroke-linecap="round" stroke-linejoin="round" opacity="0.6"/>
<path d="M835.1 2312.4 L841.5 2310.3" fill="none" stroke="#D400D8" stroke-width="2.2" stroke-linecap="round" stroke-linejoin="round" opacity="1"/>
<path d="M835.1 2312.4 L841.5 2310.3" fill="none" stroke="#FF4DFF" stroke-width="0.9" stroke-linecap="round" stroke-linejoin="round" opacity="0.6"/>
<path d="M556.6 2344.6 L545.9 2368.1" fill="none" stroke="#D400D8" stroke-width="2.2" stroke-linecap="round" stroke-linejoin="round" opacity="1"/>
<path d="M556.6 2344.6 L545.9 2368.1" fill="none" stroke="#FF4DFF" stroke-width="0.9" stroke-linecap="round" stroke-linejoin="round" opacity="0.6"/>
<path d="M545.9 2368.1 L556.6 2404.6" fill="none" stroke="#D400D8" stroke-width="2.2" stroke-linecap="round" stroke-linejoin="round" opacity="1"/>
<path d="M545.9 2368.1 L556.6 2404.6" fill="none" stroke="#FF4DFF" stroke-width="0.9" stroke-linecap="round" stroke-linejoin="round" opacity="0.6"/>
<path d="M556.6 2404.6 L552.3 2426" fill="none" stroke="#D400D8" stroke-width="2.2" stroke-linecap="round" stroke-linejoin="round" opacity="1"/>
<path d="M556.6 2404.6 L552.3 2426" fill="none" stroke="#FF4DFF" stroke-width="0.9" stroke-linecap="round" stroke-linejoin="round" opacity="0.6"/>
<path d="M552.3 2426 L515.9 2441" fill="none" stroke="#D400D8" stroke-width="2.2" stroke-linecap="round" stroke-linejoin="round" opacity="1"/>
<path d="M552.3 2426 L515.9 2441" fill="none" stroke="#FF4DFF" stroke-width="0.9" stroke-linecap="round" stroke-linejoin="round" opacity="0.6"/>
<path d="M515.9 2441 L492.3 2432.4" fill="none" stroke="#D400D8" stroke-width="2.2" stroke-linecap="round" stroke-linejoin="round" opacity="1"/>
<path d="M515.9 2441 L492.3 2432.4" fill="none" stroke="#FF4DFF" stroke-width="0.9" stroke-linecap="round" stroke-linejoin="round" opacity="0.6"/>
<path d="M620.8 2361.7 L612.3 2400.3" fill="none" stroke="#D400D8" stroke-width="2.2" stroke-linecap="round" stroke-linejoin="round" opacity="1"/>
<path d="M620.8 2361.7 L612.3 2400.3" fill="none" stroke="#FF4DFF" stroke-width="0.9" stroke-linecap="round" stroke-linejoin="round" opacity="0.6"/>
<path d="M612.3 2400.3 L560.9 2404.6" fill="none" stroke="#D400D8" stroke-width="2.2" stroke-linecap="round" stroke-linejoin="round" opacity="1"/>
<path d="M612.3 2400.3 L560.9 2404.6" fill="none" stroke="#FF4DFF" stroke-width="0.9" stroke-linecap="round" stroke-linejoin="round" opacity="0.6"/>
<path d="M560.9 2404.6 L556.6 2404.6" fill="none" stroke="#D400D8" stroke-width="2.2" stroke-linecap="round" stroke-linejoin="round" opacity="1"/>
<path d="M560.9 2404.6 L556.6 2404.6" fill="none" stroke="#FF4DFF" stroke-width="0.9" stroke-linecap="round" stroke-linejoin="round" opacity="0.6"/>
<path d="M698 2370.3 L704.4 2406.7" fill="none" stroke="#D400D8" stroke-width="2.2" stroke-linecap="round" stroke-linejoin="round" opacity="1"/>
<path d="M698 2370.3 L704.4 2406.7" fill="none" stroke="#FF4DFF" stroke-width="0.9" stroke-linecap="round" stroke-linejoin="round" opacity="0.6"/>
<path d="M704.4 2406.7 L676.6 2428.1" fill="none" stroke="#D400D8" stroke-width="2.2" stroke-linecap="round" stroke-linejoin="round" opacity="1"/>
<path d="M704.4 2406.7 L676.6 2428.1" fill="none" stroke="#FF4DFF" stroke-width="0.9" stroke-linecap="round" stroke-linejoin="round" opacity="0.6"/>
<path d="M676.6 2428.1 L625.1 2419.6" fill="none" stroke="#D400D8" stroke-width="2.2" stroke-linecap="round" stroke-linejoin="round" opacity="1"/>
<path d="M676.6 2428.1 L625.1 2419.6" fill="none" stroke="#FF4DFF" stroke-width="0.9" stroke-linecap="round" stroke-linejoin="round" opacity="0.6"/>
<path d="M625.1 2419.6 L612.3 2400.3" fill="none" stroke="#D400D8" stroke-width="2.2" stroke-linecap="round" stroke-linejoin="round" opacity="1"/>
<path d="M625.1 2419.6 L612.3 2400.3" fill="none" stroke="#FF4DFF" stroke-width="0.9" stroke-linecap="round" stroke-linejoin="round" opacity="0.6"/>
<path d="M766.6 2396 L740.8 2417.4" fill="none" stroke="#D400D8" stroke-width="2.2" stroke-linecap="round" stroke-linejoin="round" opacity="1"/>
<path d="M766.6 2396 L740.8 2417.4" fill="none" stroke="#FF4DFF" stroke-width="0.9" stroke-linecap="round" stroke-linejoin="round" opacity="0.6"/>
<path d="M740.8 2417.4 L704.4 2406.7" fill="none" stroke="#D400D8" stroke-width="2.2" stroke-linecap="round" stroke-linejoin="round" opacity="1"/>
<path d="M740.8 2417.4 L704.4 2406.7" fill="none" stroke="#FF4DFF" stroke-width="0.9" stroke-linecap="round" stroke-linejoin="round" opacity="0.6"/>
<path d="M809.4 2406.7 L818 2438.8" fill="none" stroke="#D400D8" stroke-width="2.2" stroke-linecap="round" stroke-linejoin="round" opacity="1"/>
<path d="M809.4 2406.7 L818 2438.8" fill="none" stroke="#FF4DFF" stroke-width="0.9" stroke-linecap="round" stroke-linejoin="round" opacity="0.6"/>
<path d="M818 2438.8 L796.5 2462.4" fill="none" stroke="#D400D8" stroke-width="2.2" stroke-linecap="round" stroke-linejoin="round" opacity="1"/>
<path d="M818 2438.8 L796.5 2462.4" fill="none" stroke="#FF4DFF" stroke-width="0.9" stroke-linecap="round" stroke-linejoin="round" opacity="0.6"/>
<path d="M796.5 2462.4 L751.6 2456" fill="none" stroke="#D400D8" stroke-width="2.2" stroke-linecap="round" stroke-linejoin="round" opacity="1"/>
<path d="M796.5 2462.4 L751.6 2456" fill="none" stroke="#FF4DFF" stroke-width="0.9" stroke-linecap="round" stroke-linejoin="round" opacity="0.6"/>
<path d="M751.6 2456 L740.8 2417.4" fill="none" stroke="#D400D8" stroke-width="2.2" stroke-linecap="round" stroke-linejoin="round" opacity="1"/>
<path d="M751.6 2456 L740.8 2417.4" fill="none" stroke="#FF4DFF" stroke-width="0.9" stroke-linecap="round" stroke-linejoin="round" opacity="0.6"/>
<path d="M841.5 2441 L818 2438.8" fill="none" stroke="#D400D8" stroke-width="2.2" stroke-linecap="round" stroke-linejoin="round" opacity="1"/>
<path d="M841.5 2441 L818 2438.8" fill="none" stroke="#FF4DFF" stroke-width="0.9" stroke-linecap="round" stroke-linejoin="round" opacity="0.6"/>
<path d="M556.6 2404.6 L612.3 2400.3" fill="none" stroke="#D400D8" stroke-width="2.2" stroke-linecap="round" stroke-linejoin="round" opacity="1"/>
<path d="M556.6 2404.6 L612.3 2400.3" fill="none" stroke="#FF4DFF" stroke-width="0.9" stroke-linecap="round" stroke-linejoin="round" opacity="0.6"/>
<path d="M625.1 2419.6 L620.8 2436.7" fill="none" stroke="#D400D8" stroke-width="2.2" stroke-linecap="round" stroke-linejoin="round" opacity="1"/>
<path d="M625.1 2419.6 L620.8 2436.7" fill="none" stroke="#FF4DFF" stroke-width="0.9" stroke-linecap="round" stroke-linejoin="round" opacity="0.6"/>
<path d="M620.8 2436.7 L593 2456" fill="none" stroke="#D400D8" stroke-width="2.2" stroke-linecap="round" stroke-linejoin="round" opacity="1"/>
<path d="M620.8 2436.7 L593 2456" fill="none" stroke="#FF4DFF" stroke-width="0.9" stroke-linecap="round" stroke-linejoin="round" opacity="0.6"/>
<path d="M593 2456 L565.1 2451.7" fill="none" stroke="#D400D8" stroke-width="2.2" stroke-linecap="round" stroke-linejoin="round" opacity="1"/>
<path d="M593 2456 L565.1 2451.7" fill="none" stroke="#FF4DFF" stroke-width="0.9" stroke-linecap="round" stroke-linejoin="round" opacity="0.6"/>
<path d="M565.1 2451.7 L552.3 2426" fill="none" stroke="#D400D8" stroke-width="2.2" stroke-linecap="round" stroke-linejoin="round" opacity="1"/>
<path d="M565.1 2451.7 L552.3 2426" fill="none" stroke="#FF4DFF" stroke-width="0.9" stroke-linecap="round" stroke-linejoin="round" opacity="0.6"/>
<path d="M676.6 2428.1 L672.3 2458.1" fill="none" stroke="#D400D8" stroke-width="2.2" stroke-linecap="round" stroke-linejoin="round" opacity="1"/>
<path d="M676.6 2428.1 L672.3 2458.1" fill="none" stroke="#FF4DFF" stroke-width="0.9" stroke-linecap="round" stroke-linejoin="round" opacity="0.6"/>
<path d="M672.3 2458.1 L644.4 2462.4" fill="none" stroke="#D400D8" stroke-width="2.2" stroke-linecap="round" stroke-linejoin="round" opacity="1"/>
<path d="M672.3 2458.1 L644.4 2462.4" fill="none" stroke="#FF4DFF" stroke-width="0.9" stroke-linecap="round" stroke-linejoin="round" opacity="0.6"/>
<path d="M644.4 2462.4 L620.8 2436.7" fill="none" stroke="#D400D8" stroke-width="2.2" stroke-linecap="round" stroke-linejoin="round" opacity="1"/>
<path d="M644.4 2462.4 L620.8 2436.7" fill="none" stroke="#FF4DFF" stroke-width="0.9" stroke-linecap="round" stroke-linejoin="round" opacity="0.6"/>
<path d="M751.6 2456 L721.6 2481.7" fill="none" stroke="#D400D8" stroke-width="2.2" stroke-linecap="round" stroke-linejoin="round" opacity="1"/>
<path d="M751.6 2456 L721.6 2481.7" fill="none" stroke="#FF4DFF" stroke-width="0.9" stroke-linecap="round" stroke-linejoin="round" opacity="0.6"/>
<path d="M721.6 2481.7 L691.6 2475.3" fill="none" stroke="#D400D8" stroke-width="2.2" stroke-linecap="round" stroke-linejoin="round" opacity="1"/>
<path d="M721.6 2481.7 L691.6 2475.3" fill="none" stroke="#FF4DFF" stroke-width="0.9" stroke-linecap="round" stroke-linejoin="round" opacity="0.6"/>
<path d="M691.6 2475.3 L672.3 2458.1" fill="none" stroke="#D400D8" stroke-width="2.2" stroke-linecap="round" stroke-linejoin="round" opacity="1"/>
<path d="M691.6 2475.3 L672.3 2458.1" fill="none" stroke="#FF4DFF" stroke-width="0.9" stroke-linecap="round" stroke-linejoin="round" opacity="0.6"/>
<path d="M565.1 2451.7 L552.3 2481.7" fill="none" stroke="#D400D8" stroke-width="2.2" stroke-linecap="round" stroke-linejoin="round" opacity="1"/>
<path d="M565.1 2451.7 L552.3 2481.7" fill="none" stroke="#FF4DFF" stroke-width="0.9" stroke-linecap="round" stroke-linejoin="round" opacity="0.6"/>
<path d="M552.3 2481.7 L515.9 2483.8" fill="none" stroke="#D400D8" stroke-width="2.2" stroke-linecap="round" stroke-linejoin="round" opacity="1"/>
<path d="M552.3 2481.7 L515.9 2483.8" fill="none" stroke="#FF4DFF" stroke-width="0.9" stroke-linecap="round" stroke-linejoin="round" opacity="0.6"/>
<path d="M515.9 2483.8 L515.9 2441" fill="none" stroke="#D400D8" stroke-width="2.2" stroke-linecap="round" stroke-linejoin="round" opacity="1"/>
<path d="M515.9 2483.8 L515.9 2441" fill="none" stroke="#FF4DFF" stroke-width="0.9" stroke-linecap="round" stroke-linejoin="round" opacity="0.6"/>
<path d="M515.9 2483.8 L492.3 2494.5" fill="none" stroke="#D400D8" stroke-width="2.2" stroke-linecap="round" stroke-linejoin="round" opacity="1"/>
<path d="M515.9 2483.8 L492.3 2494.5" fill="none" stroke="#FF4DFF" stroke-width="0.9" stroke-linecap="round" stroke-linejoin="round" opacity="0.6"/>
<path d="M593 2456 L616.6 2488.1" fill="none" stroke="#D400D8" stroke-width="2.2" stroke-linecap="round" stroke-linejoin="round" opacity="1"/>
<path d="M593 2456 L616.6 2488.1" fill="none" stroke="#FF4DFF" stroke-width="0.9" stroke-linecap="round" stroke-linejoin="round" opacity="0.6"/>
<path d="M552.3 2494.5 L552.3 2481.7" fill="none" stroke="#D400D8" stroke-width="2.2" stroke-linecap="round" stroke-linejoin="round" opacity="1"/>
<path d="M552.3 2494.5 L552.3 2481.7" fill="none" stroke="#FF4DFF" stroke-width="0.9" stroke-linecap="round" stroke-linejoin="round" opacity="0.6"/>
<path d="M644.4 2462.4 L638 2494.5" fill="none" stroke="#D400D8" stroke-width="2.2" stroke-linecap="round" stroke-linejoin="round" opacity="1"/>
<path d="M644.4 2462.4 L638 2494.5" fill="none" stroke="#FF4DFF" stroke-width="0.9" stroke-linecap="round" stroke-linejoin="round" opacity="0.6"/>
<path d="M691.6 2475.3 L693.7 2494.5" fill="none" stroke="#D400D8" stroke-width="2.2" stroke-linecap="round" stroke-linejoin="round" opacity="1"/>
<path d="M691.6 2475.3 L693.7 2494.5" fill="none" stroke="#FF4DFF" stroke-width="0.9" stroke-linecap="round" stroke-linejoin="round" opacity="0.6"/>
<path d="M796.5 2462.4 L805.1 2494.5" fill="none" stroke="#D400D8" stroke-width="2.2" stroke-linecap="round" stroke-linejoin="round" opacity="1"/>
<path d="M796.5 2462.4 L805.1 2494.5" fill="none" stroke="#FF4DFF" stroke-width="0.9" stroke-linecap="round" stroke-linejoin="round" opacity="0.6"/>
<g fill="#3FF3F6"><circle cx="566.7" cy="2405.7" r="1.5"/><circle cx="795.8" cy="2375" r="1.1"/><circle cx="744.3" cy="2461.2" r="1.7"/><circle cx="496.9" cy="2246.8" r="1"/><circle cx="775" cy="2432.9" r="1.6"/><circle cx="823.8" cy="2428.6" r="1.1"/><circle cx="662.1" cy="2415" r="1.4"/><circle cx="597.8" cy="2286.4" r="1.2"/><circle cx="713.5" cy="2242.3" r="1.3"/><circle cx="837" cy="2304.6" r="1.6"/><circle cx="594.4" cy="2213" r="1.2"/><circle cx="802.8" cy="2201.7" r="1.3"/><circle cx="779.3" cy="2226.4" r="1.3"/><circle cx="654" cy="2150.8" r="1.3"/><circle cx="570.5" cy="2324.8" r="1.5"/><circle cx="828" cy="2188.4" r="1.7"/><circle cx="562.9" cy="2449.6" r="1.2"/><circle cx="539.8" cy="2490.9" r="1.4"/><circle cx="565.9" cy="2366.7" r="1.4"/><circle cx="617.5" cy="2405.4" r="1.2"/><circle cx="510.4" cy="2201.3" r="1.1"/><circle cx="831.3" cy="2355.8" r="1.3"/><circle cx="736.2" cy="2156.6" r="1.3"/><circle cx="689.4" cy="2395.4" r="1.7"/><circle cx="789.6" cy="2162.6" r="1.2"/><circle cx="728.1" cy="2347.6" r="1.5"/><circle cx="578.3" cy="2179.6" r="1"/><circle cx="672" cy="2453.9" r="1.2"/><circle cx="791.3" cy="2240.5" r="1.2"/><circle cx="682.9" cy="2169.2" r="1.6"/><circle cx="817.7" cy="2342.5" r="1.4"/><circle cx="543.8" cy="2168.5" r="1.2"/><circle cx="517.2" cy="2287.1" r="1"/><circle cx="761.9" cy="2294.2" r="1.2"/><circle cx="618.1" cy="2439.2" r="1.6"/><circle cx="804.6" cy="2470.2" r="1.5"/><circle cx="799.1" cy="2475.6" r="1.1"/><circle cx="724.9" cy="2478.3" r="1.4"/><circle cx="645.9" cy="2351.2" r="1.5"/><circle cx="805.7" cy="2190.5" r="1"/><circle cx="775.9" cy="2337.3" r="1.2"/><circle cx="596" cy="2180.5" r="0.9"/><circle cx="766.2" cy="2395.4" r="1"/><circle cx="838.3" cy="2312.8" r="1.5"/><circle cx="793.1" cy="2461.8" r="1.2"/><circle cx="536.1" cy="2243.2" r="0.9"/><circle cx="545.6" cy="2294.2" r="1.8"/><circle cx="506.3" cy="2226.8" r="1.1"/><circle cx="615.4" cy="2487.8" r="1.5"/><circle cx="502.1" cy="2467.9" r="1.3"/><circle cx="535.7" cy="2151.9" r="1"/><circle cx="604.8" cy="2473.3" r="1.1"/><circle cx="718.8" cy="2300.4" r="1.8"/><circle cx="677.6" cy="2464.1" r="1.5"/><circle cx="641.5" cy="2413.5" r="1.1"/><circle cx="732.6" cy="2165.7" r="1.3"/><circle cx="610.7" cy="2227.4" r="0.9"/><circle cx="641.2" cy="2470.8" r="1.6"/><circle cx="643.3" cy="2466.6" r="1"/><circle cx="785.5" cy="2192.2" r="1"/><circle cx="700.4" cy="2169.8" r="1.5"/><circle cx="670.7" cy="2422" r="1.7"/><circle cx="559" cy="2437.1" r="1"/><circle cx="676.2" cy="2248.4" r="1.2"/><circle cx="714.4" cy="2240.5" r="1.3"/><circle cx="551.3" cy="2428.7" r="1.3"/><circle cx="496.5" cy="2490.7" r="1"/><circle cx="528.5" cy="2277" r="1.4"/><circle cx="839.7" cy="2308.8" r="1"/><circle cx="692.3" cy="2293" r="1"/><circle cx="608.9" cy="2176.8" r="1.5"/><circle cx="736.8" cy="2429.8" r="1.7"/><circle cx="616.2" cy="2161.2" r="1.6"/><circle cx="523.9" cy="2422.2" r="1.2"/><circle cx="816" cy="2203.4" r="1.7"/><circle cx="667" cy="2424.6" r="0.9"/><circle cx="813.8" cy="2443.7" r="1.2"/><circle cx="759.6" cy="2296.4" r="1.4"/><circle cx="830.4" cy="2319.4" r="0.9"/><circle cx="522.8" cy="2185.5" r="1.6"/><circle cx="648.4" cy="2297.9" r="1"/><circle cx="612.3" cy="2316.6" r="1.3"/><circle cx="534.5" cy="2284" r="1.6"/><circle cx="712.1" cy="2481.1" r="1.6"/><circle cx="761" cy="2322.6" r="1.4"/><circle cx="708.5" cy="2282.1" r="0.9"/><circle cx="610.8" cy="2300.6" r="1.2"/><circle cx="632.1" cy="2442.7" r="1.4"/><circle cx="765.6" cy="2304.6" r="1.4"/><circle cx="744.5" cy="2411" r="1.7"/><circle cx="686" cy="2216.1" r="1.1"/><circle cx="773.3" cy="2330.5" r="1.1"/><circle cx="631.8" cy="2366.2" r="1.3"/><circle cx="804" cy="2451.8" r="1.6"/><circle cx="689.1" cy="2298.4" r="0.9"/><circle cx="647.9" cy="2404.1" r="1.5"/><circle cx="560.1" cy="2466.6" r="1.3"/><circle cx="839.7" cy="2311.5" r="1.4"/><circle cx="605.9" cy="2447" r="0.9"/><circle cx="687.7" cy="2221.4" r="1.3"/><circle cx="564.3" cy="2187.2" r="1.8"/><circle cx="623.5" cy="2432.4" r="1"/><circle cx="835.6" cy="2311.4" r="1.4"/><circle cx="822.5" cy="2282.9" r="1.2"/><circle cx="559" cy="2471.1" r="1.6"/><circle cx="716" cy="2243.8" r="1.8"/><circle cx="840" cy="2312.7" r="1.7"/><circle cx="819.8" cy="2396.5" r="1.6"/><circle cx="668" cy="2300.8" r="1.6"/><circle cx="800.1" cy="2252.7" r="1.6"/><circle cx="763.5" cy="2292.1" r="1.1"/><circle cx="745.5" cy="2437.2" r="1.4"/><circle cx="702.3" cy="2150.2" r="1.6"/><circle cx="639.6" cy="2234.6" r="1.3"/><circle cx="586.7" cy="2198.6" r="1.7"/><circle cx="648.7" cy="2195.5" r="1"/><circle cx="761.3" cy="2498.2" r="1.6"/><circle cx="676.8" cy="2362.1" r="1.5"/><circle cx="610.7" cy="2408.7" r="1.2"/><circle cx="759" cy="2451.1" r="1.7"/><circle cx="824.2" cy="2204.6" r="1.4"/><circle cx="773.8" cy="2346" r="1.5"/><circle cx="665.6" cy="2186.3" r="1.4"/><circle cx="673.1" cy="2183.2" r="1.5"/><circle cx="664" cy="2187.1" r="1.4"/><circle cx="604.8" cy="2255.7" r="1.3"/><circle cx="676.2" cy="2163.3" r="1.2"/><circle cx="774.1" cy="2150.3" r="1.3"/><circle cx="639.5" cy="2279.8" r="1"/><circle cx="499" cy="2492.5" r="1.4"/><circle cx="729.3" cy="2168.1" r="1.2"/><circle cx="699.5" cy="2290.1" r="1.4"/><circle cx="517.6" cy="2189.7" r="1.8"/><circle cx="746.3" cy="2411.3" r="1.3"/><circle cx="601.9" cy="2239.7" r="1.5"/><circle cx="785.3" cy="2200.6" r="1"/><circle cx="544.5" cy="2294.3" r="1.2"/><circle cx="742.1" cy="2355.8" r="1.8"/><circle cx="785.9" cy="2271.8" r="1.4"/><circle cx="595" cy="2399.9" r="1"/><circle cx="615.3" cy="2441.3" r="1.5"/><circle cx="616.2" cy="2353.5" r="1.3"/><circle cx="822.2" cy="2187.7" r="1.1"/><circle cx="816" cy="2435.3" r="1.7"/><circle cx="666.6" cy="2426.9" r="1.3"/><circle cx="794.9" cy="2291.5" r="1"/><circle cx="700.3" cy="2385" r="1.2"/><circle cx="829.3" cy="2281.5" r="1.2"/><circle cx="678" cy="2460.2" r="1.7"/><circle cx="830" cy="2415" r="1.7"/><circle cx="809.3" cy="2452.7" r="1.2"/><circle cx="641.8" cy="2218.2" r="1.3"/><circle cx="791.2" cy="2204.3" r="1.7"/><circle cx="699.2" cy="2180" r="1.6"/><circle cx="829.4" cy="2266.2" r="1.4"/><circle cx="641.4" cy="2195.7" r="1.6"/><circle cx="800.6" cy="2472.1" r="1.1"/><circle cx="659.6" cy="2361.7" r="1.3"/><circle cx="747.7" cy="2305.3" r="1.2"/><circle cx="784.6" cy="2361.4" r="1.7"/><circle cx="637" cy="2261.2" r="1.1"/><circle cx="691" cy="2487.4" r="1.6"/><circle cx="679.9" cy="2438.5" r="1.6"/><circle cx="768.4" cy="2397.1" r="0.9"/><circle cx="555.9" cy="2337.1" r="1.5"/><circle cx="802.7" cy="2491.5" r="1.4"/><circle cx="781.5" cy="2220" r="1.3"/><circle cx="778.8" cy="2336.8" r="1.7"/><circle cx="668.8" cy="2253.6" r="1.2"/><circle cx="694.8" cy="2306.7" r="1.5"/><circle cx="706.4" cy="2289" r="1.1"/><circle cx="658.7" cy="2214.6" r="1.1"/><circle cx="692.4" cy="2480" r="1.8"/><circle cx="549.3" cy="2358.5" r="1.2"/><circle cx="590.2" cy="2281.6" r="1.7"/><circle cx="640" cy="2485.7" r="1.5"/><circle cx="596" cy="2176" r="1.7"/><circle cx="556" cy="2400.4" r="1.3"/><circle cx="764.2" cy="2194.6" r="1.7"/><circle cx="496.6" cy="2225.2" r="1.3"/><circle cx="509.1" cy="2200.2" r="1.3"/><circle cx="705.9" cy="2166" r="1"/><circle cx="771.6" cy="2393.9" r="1.7"/><circle cx="649.1" cy="2268.8" r="1.4"/><circle cx="524.2" cy="2185.3" r="1.3"/><circle cx="748.7" cy="2456.6" r="1.1"/><circle cx="530.6" cy="2190.1" r="1.6"/><circle cx="643" cy="2222.3" r="1.3"/><circle cx="667.3" cy="2459.1" r="1.5"/><circle cx="800.7" cy="2253.2" r="1.1"/><circle cx="531.9" cy="2433.9" r="1.6"/><circle cx="742.2" cy="2245.6" r="1"/><circle cx="564.4" cy="2290" r="1"/><circle cx="762.9" cy="2378.6" r="1.6"/><circle cx="642.3" cy="2211.4" r="0.9"/><circle cx="611.3" cy="2445.4" r="1.4"/><circle cx="803.7" cy="2473.1" r="0.9"/><circle cx="525.1" cy="2343.6" r="1.3"/><circle cx="573.6" cy="2165.5" r="1.8"/><circle cx="717.5" cy="2289.5" r="1.7"/><circle cx="611.3" cy="2370.2" r="0.9"/><circle cx="735.7" cy="2484.3" r="1.6"/><circle cx="757.7" cy="2360.3" r="1.7"/><circle cx="641.5" cy="2232.6" r="1.1"/><circle cx="672.5" cy="2220.2" r="1.1"/><circle cx="617.2" cy="2277.1" r="1.1"/><circle cx="579.3" cy="2169.1" r="0.9"/><circle cx="677.7" cy="2468.7" r="1.7"/><circle cx="617.1" cy="2155.7" r="1.3"/><circle cx="683.7" cy="2178" r="1.5"/><circle cx="688" cy="2366.2" r="1.4"/><circle cx="700.6" cy="2479" r="1.8"/><circle cx="516.5" cy="2463" r="1.1"/><circle cx="657.2" cy="2256.1" r="1.2"/><circle cx="771.9" cy="2418.4" r="1.5"/><circle cx="679.1" cy="2184.2" r="1.8"/><circle cx="721.4" cy="2296.2" r="1.3"/><circle cx="587.2" cy="2352.4" r="0.9"/><circle cx="822.5" cy="2335" r="1.6"/><circle cx="507.1" cy="2310.8" r="1.2"/><circle cx="839.3" cy="2469.2" r="1.1"/><circle cx="841.4" cy="2452.6" r="0.9"/><circle cx="561.1" cy="2388.1" r="1.5"/><circle cx="815.5" cy="2239.3" r="1.6"/><circle cx="785.8" cy="2338.3" r="1.3"/><circle cx="623.7" cy="2441.7" r="1"/><circle cx="826.3" cy="2203.1" r="1.4"/><circle cx="533.2" cy="2482.2" r="1.5"/><circle cx="792.4" cy="2161.4" r="1.3"/><circle cx="787.5" cy="2203.1" r="1.5"/><circle cx="709.1" cy="2365.1" r="1.3"/><circle cx="826" cy="2335.4" r="1.3"/><circle cx="831" cy="2199.4" r="1.6"/><circle cx="590.7" cy="2338" r="1"/><circle cx="548.3" cy="2302.7" r="1.8"/><circle cx="758.6" cy="2438.6" r="1.3"/><circle cx="620.6" cy="2437.1" r="1"/><circle cx="635.7" cy="2251.2" r="1.6"/><circle cx="528.2" cy="2356.1" r="1.3"/><circle cx="711.4" cy="2470.7" r="1.5"/><circle cx="576.1" cy="2448.8" r="0.9"/><circle cx="497" cy="2363.8" r="1.1"/><circle cx="809.4" cy="2412.7" r="0.9"/><circle cx="676" cy="2362.1" r="1.7"/><circle cx="630.4" cy="2440" r="1.1"/><circle cx="626.7" cy="2455.2" r="1"/><circle cx="521.2" cy="2389.5" r="1.3"/><circle cx="754.5" cy="2359.2" r="1"/><circle cx="805.1" cy="2407.6" r="1.1"/><circle cx="503.1" cy="2224.1" r="1.1"/><circle cx="695.5" cy="2340.1" r="1"/><circle cx="753.2" cy="2456.4" r="1.2"/><circle cx="554" cy="2479.3" r="1.6"/><circle cx="534.8" cy="2387.5" r="1.7"/><circle cx="836.7" cy="2413.7" r="1.6"/><circle cx="510.1" cy="2378.2" r="1.3"/><circle cx="529.6" cy="2459.4" r="1.3"/><circle cx="667" cy="2295.3" r="1.4"/><circle cx="763.1" cy="2234.2" r="1.6"/><circle cx="679" cy="2284" r="1.3"/><circle cx="535.2" cy="2288.9" r="1.8"/><circle cx="806.2" cy="2270" r="1.4"/><circle cx="735.1" cy="2224.5" r="1.6"/><circle cx="697.7" cy="2326" r="1.7"/><circle cx="513.1" cy="2444.6" r="1.5"/><circle cx="746.6" cy="2437.2" r="1.1"/><circle cx="591.1" cy="2175" r="1.7"/><circle cx="570.1" cy="2305.6" r="1.5"/><circle cx="728.8" cy="2312.5" r="1.1"/><circle cx="574.6" cy="2280.3" r="1"/><circle cx="609" cy="2305.6" r="1"/><circle cx="823.9" cy="2271.3" r="1.1"/><circle cx="730.5" cy="2314.4" r="1.4"/><circle cx="612.5" cy="2312.2" r="1"/><circle cx="499.5" cy="2301.2" r="1.5"/><circle cx="785.8" cy="2195.1" r="1.2"/><circle cx="589.5" cy="2424" r="1.3"/><circle cx="719.1" cy="2261.6" r="1.7"/><circle cx="617.2" cy="2196.8" r="1.6"/><circle cx="583" cy="2286.7" r="1.5"/><circle cx="633.5" cy="2355.9" r="1.7"/><circle cx="684" cy="2466" r="0.9"/><circle cx="719.8" cy="2227" r="1.2"/><circle cx="747.6" cy="2410.2" r="1.2"/><circle cx="629.1" cy="2382.1" r="1.7"/><circle cx="776" cy="2397.9" r="1.8"/><circle cx="510.7" cy="2191.4" r="1.2"/><circle cx="621.3" cy="2364.8" r="0.9"/><circle cx="552.2" cy="2403.2" r="0.9"/><circle cx="768.3" cy="2247.3" r="1.4"/><circle cx="537.7" cy="2174.4" r="1.6"/><circle cx="765.7" cy="2282" r="1"/><circle cx="554.2" cy="2203.3" r="1.1"/><circle cx="617.5" cy="2229.4" r="1.7"/><circle cx="723.7" cy="2301.2" r="1.3"/><circle cx="715.6" cy="2417.8" r="1.5"/><circle cx="786.2" cy="2488.6" r="1.3"/><circle cx="550.6" cy="2330.1" r="1.4"/><circle cx="798.1" cy="2470.9" r="1"/><circle cx="804.2" cy="2338" r="1.1"/><circle cx="637.1" cy="2431.7" r="1"/><circle cx="690.9" cy="2494.9" r="1.2"/><circle cx="597.5" cy="2282.5" r="1.4"/><circle cx="566.9" cy="2229.7" r="1.6"/><circle cx="528" cy="2396" r="1.5"/><circle cx="717" cy="2238.9" r="1.5"/><circle cx="762.8" cy="2440.9" r="1.1"/><circle cx="526.6" cy="2419.5" r="1.5"/><circle cx="767.4" cy="2355.1" r="1"/><circle cx="831.4" cy="2171.5" r="1.5"/><circle cx="794.6" cy="2168.8" r="1.3"/><circle cx="531" cy="2438.1" r="1.7"/><circle cx="667" cy="2216.5" r="1.7"/><circle cx="723.7" cy="2414.3" r="1.7"/><circle cx="570.2" cy="2404.8" r="1.5"/><circle cx="503" cy="2491" r="1.2"/><circle cx="771.6" cy="2381.2" r="0.9"/><circle cx="665.3" cy="2250.7" r="1.4"/><circle cx="682.1" cy="2155" r="1.3"/><circle cx="825.6" cy="2442.8" r="1"/><circle cx="760.5" cy="2273.1" r="1.1"/><circle cx="782.8" cy="2214.7" r="1.7"/><circle cx="712" cy="2249.1" r="1.6"/><circle cx="723.4" cy="2300.7" r="1"/><circle cx="801.6" cy="2256.2" r="1.5"/><circle cx="756.2" cy="2478.5" r="1.3"/><circle cx="636.7" cy="2410.2" r="1.5"/><circle cx="578.7" cy="2180" r="1.7"/><circle cx="729.6" cy="2322.1" r="1.3"/><circle cx="608.8" cy="2294.8" r="1.5"/><circle cx="809" cy="2266.2" r="1.6"/><circle cx="539.7" cy="2470.9" r="1.5"/><circle cx="675.4" cy="2458.9" r="1.4"/><circle cx="772" cy="2219.2" r="1.7"/><circle cx="549.9" cy="2345.9" r="1.5"/><circle cx="545.9" cy="2404.8" r="1"/><circle cx="755.8" cy="2151.8" r="1.6"/><circle cx="736.4" cy="2156.4" r="1.1"/><circle cx="702.2" cy="2387.8" r="1.5"/><circle cx="611.6" cy="2384.1" r="1.7"/><circle cx="785.7" cy="2398.9" r="1.1"/><circle cx="698" cy="2179.7" r="1.6"/><circle cx="825.8" cy="2328.2" r="1.1"/><circle cx="841.3" cy="2478.9" r="1.7"/><circle cx="558.5" cy="2404.7" r="1.7"/><circle cx="659" cy="2360.7" r="0.9"/><circle cx="813.8" cy="2270.5" r="1.1"/><circle cx="707.2" cy="2303.7" r="1.5"/><circle cx="528.7" cy="2280" r="1.4"/><circle cx="682" cy="2392.1" r="1.6"/><circle cx="614.7" cy="2485" r="1.6"/><circle cx="782.4" cy="2348.7" r="1.1"/><circle cx="568.8" cy="2331" r="1.1"/><circle cx="765.5" cy="2319.5" r="1"/><circle cx="679.1" cy="2296.4" r="1.8"/><circle cx="812" cy="2276.6" r="1.3"/><circle cx="621.7" cy="2362.2" r="0.9"/><circle cx="798.3" cy="2154.8" r="1.3"/><circle cx="654.2" cy="2465.3" r="1"/><circle cx="666.4" cy="2319.4" r="1.5"/><circle cx="765.4" cy="2299.5" r="1.5"/><circle cx="571" cy="2194" r="1.2"/><circle cx="536.2" cy="2395.7" r="1.5"/><circle cx="768" cy="2394.4" r="1.5"/><circle cx="506.8" cy="2440.1" r="0.9"/><circle cx="822.6" cy="2475.8" r="1.1"/><circle cx="534.3" cy="2302" r="1.6"/><circle cx="780.4" cy="2175.2" r="1.5"/><circle cx="814" cy="2404" r="1.8"/><circle cx="692.4" cy="2461.4" r="1.4"/><circle cx="534.3" cy="2352.8" r="1.4"/><circle cx="706.9" cy="2252.8" r="1"/><circle cx="750.5" cy="2252.5" r="1.1"/><circle cx="828.8" cy="2182.8" r="1"/><circle cx="731.9" cy="2184.6" r="1.4"/><circle cx="812.4" cy="2203.4" r="1.4"/><circle cx="514.2" cy="2485" r="1.8"/><circle cx="542.7" cy="2467" r="1"/><circle cx="713.3" cy="2479.6" r="1.1"/><circle cx="508.6" cy="2440" r="1.4"/><circle cx="744.7" cy="2440.6" r="1.1"/><circle cx="589.6" cy="2453.9" r="1.5"/><circle cx="560.4" cy="2440.4" r="1.3"/><circle cx="710.1" cy="2154.2" r="1.7"/><circle cx="514.1" cy="2431.2" r="0.9"/><circle cx="744.2" cy="2177.6" r="1.2"/><circle cx="643.9" cy="2471.2" r="1.1"/><circle cx="557" cy="2472.6" r="1.2"/><circle cx="675.3" cy="2266.9" r="1.7"/><circle cx="799.7" cy="2476.8" r="1.4"/><circle cx="621.9" cy="2427.9" r="1.5"/><circle cx="716" cy="2240.7" r="1.5"/><circle cx="654.8" cy="2267.2" r="1.5"/><circle cx="549.6" cy="2278.1" r="1.1"/><circle cx="668.4" cy="2307.8" r="1.4"/><circle cx="795.8" cy="2475" r="1.7"/><circle cx="800.8" cy="2253.7" r="1.7"/><circle cx="604.4" cy="2427.4" r="1.1"/><circle cx="550.9" cy="2358.5" r="1.5"/><circle cx="713.1" cy="2155.6" r="1.3"/><circle cx="707.2" cy="2362.7" r="1.7"/><circle cx="703.8" cy="2395.8" r="1.1"/><circle cx="619.4" cy="2243.5" r="1.6"/><circle cx="577.7" cy="2155.3" r="1.7"/><circle cx="516.5" cy="2457.8" r="1.6"/><circle cx="513.1" cy="2191.5" r="1"/><circle cx="570.3" cy="2191.1" r="1.1"/><circle cx="635.1" cy="2315.9" r="1.2"/><circle cx="748.1" cy="2355.2" r="1.4"/><circle cx="739" cy="2226.3" r="1.7"/><circle cx="681.9" cy="2202.5" r="1.6"/><circle cx="821.9" cy="2204" r="1"/><circle cx="549.2" cy="2355.5" r="1.1"/><circle cx="587.2" cy="2374.4" r="0.9"/><circle cx="537.4" cy="2208.7" r="1.6"/><circle cx="698" cy="2179.6" r="1.4"/><circle cx="494.8" cy="2225.7" r="1.4"/><circle cx="512.8" cy="2484.4" r="1.7"/><circle cx="724.6" cy="2270.4" r="1.5"/><circle cx="506.1" cy="2213.3" r="1.6"/><circle cx="530.3" cy="2391.9" r="0.9"/><circle cx="534.8" cy="2254.1" r="1.3"/><circle cx="494.8" cy="2223.6" r="1"/><circle cx="790.4" cy="2422.1" r="1.7"/><circle cx="744" cy="2267.9" r="1"/><circle cx="697.1" cy="2411.2" r="1.1"/><circle cx="706.8" cy="2291.7" r="1.7"/><circle cx="578.8" cy="2180.9" r="1.3"/><circle cx="522.3" cy="2359.6" r="1"/><circle cx="818.8" cy="2350.2" r="0.9"/><circle cx="572.2" cy="2223.4" r="1.3"/><circle cx="841.4" cy="2471.3" r="1.4"/><circle cx="639.9" cy="2316.7" r="1.7"/><circle cx="777.6" cy="2358.8" r="0.9"/><circle cx="759.3" cy="2316.1" r="1.4"/><circle cx="582.4" cy="2334.9" r="1.7"/><circle cx="807.1" cy="2155" r="1.5"/><circle cx="782.5" cy="2458.7" r="1.3"/><circle cx="723.6" cy="2177.1" r="1.2"/><circle cx="684.4" cy="2468.5" r="1.5"/><circle cx="637.2" cy="2357.1" r="1.4"/><circle cx="541.8" cy="2472.1" r="1.8"/><circle cx="670.6" cy="2263.9" r="1.8"/><circle cx="597.8" cy="2462.4" r="1.8"/><circle cx="797.8" cy="2245.3" r="1.1"/><circle cx="601.4" cy="2305.2" r="1"/><circle cx="713.9" cy="2184.5" r="1.4"/><circle cx="698.2" cy="2395.3" r="1.4"/><circle cx="646.7" cy="2246.7" r="1.2"/><circle cx="743.2" cy="2412.8" r="1.5"/><circle cx="590.8" cy="2465.5" r="1.7"/><circle cx="831.6" cy="2416.6" r="1"/><circle cx="731.6" cy="2461.1" r="1.3"/><circle cx="598.7" cy="2270.2" r="1.1"/><circle cx="541.4" cy="2429.1" r="1.1"/><circle cx="499.9" cy="2151.1" r="1.6"/><circle cx="673.3" cy="2444.5" r="1.6"/><circle cx="831.5" cy="2171.1" r="1.6"/><circle cx="602.1" cy="2251" r="1.5"/><circle cx="649.4" cy="2312.6" r="1"/><circle cx="801.2" cy="2248.5" r="1.4"/><circle cx="668.3" cy="2380.3" r="1.7"/><circle cx="646.3" cy="2398.8" r="1.8"/><circle cx="595" cy="2401" r="1.7"/><circle cx="529" cy="2279.1" r="0.9"/><circle cx="816.4" cy="2249" r="1.3"/><circle cx="742" cy="2415.3" r="1.3"/><circle cx="679.4" cy="2291.8" r="1"/><circle cx="724.7" cy="2492.3" r="1.2"/><circle cx="688.6" cy="2470" r="1.2"/><circle cx="699.8" cy="2475" r="0.9"/><circle cx="840.6" cy="2274" r="1"/><circle cx="814.9" cy="2343.4" r="1.2"/><circle cx="772.5" cy="2448.2" r="1.4"/><circle cx="828.2" cy="2396.7" r="1.3"/><circle cx="810.7" cy="2201.9" r="0.9"/><circle cx="627.1" cy="2162.3" r="1.8"/><circle cx="502.2" cy="2306.5" r="1.3"/><circle cx="501.7" cy="2322.1" r="1.6"/><circle cx="738.7" cy="2226.2" r="1.3"/></g>
</g>
<ellipse cx="505" cy="2239" rx="8" ry="5.5" fill="#FF00FF"/>
<ellipse cx="720" cy="2165" rx="4" ry="3" fill="#FF00FF"/>
<circle cx="841" cy="2272" r="6" fill="#3FF3F6"/>
<rect x="772.5" y="2486.4" width="42.3" height="6.6" fill="#fff"/>
<text x="916" y="1974" font-size="66" font-weight="bold">f</text>
<line x1="1136.6" y1="2010.6" x2="1136.6" y2="2475.4" stroke="#000" stroke-width="2.2"/>
<line x1="1130.6" y1="2320.1" x2="1136.6" y2="2320.1" stroke="#000" stroke-width="1.8"/>
<text x="1129.6" y="2332.6" font-size="35.5" text-anchor="end">100</text>
<line x1="1130.6" y1="2165.9" x2="1136.6" y2="2165.9" stroke="#000" stroke-width="1.8"/>
<text x="1129.6" y="2178.4" font-size="35.5" text-anchor="end">200</text>
<line x1="1130.6" y1="2011.6" x2="1136.6" y2="2011.6" stroke="#000" stroke-width="1.8"/>
<text x="1129.6" y="2024.1" font-size="35.5" text-anchor="end">300</text>
<line x1="1131.6" y1="2474.4" x2="1377.7" y2="2474.4" stroke="#000" stroke-width="2.2"/>
<line x1="1176.8" y1="2474.4" x2="1176.8" y2="2480.9" stroke="#000" stroke-width="1.8"/>
<path d="M1156 2474.4 V2353.9 H1196.7 V2474.4" fill="none" stroke="#000" stroke-width="3.2"/>
<line x1="1176.8" y1="2319" x2="1176.8" y2="2388" stroke="#000" stroke-width="2.4"/>
<line x1="1166.8" y1="2319" x2="1186.8" y2="2319" stroke="#000" stroke-width="2.4"/>
<line x1="1166.8" y1="2388" x2="1186.8" y2="2388" stroke="#000" stroke-width="2.4"/>
<circle cx="1176.8" cy="2292.3" r="10.4" fill="#000"/>
<circle cx="1176.8" cy="2358.3" r="10.4" fill="#000"/>
<circle cx="1176.8" cy="2411.3" r="10.4" fill="#000"/>
<line x1="1256.3" y1="2474.4" x2="1256.3" y2="2480.9" stroke="#000" stroke-width="1.8"/>
<path d="M1235.7 2474.4 V2092.9 H1277 V2474.4" fill="none" stroke="#0000FF" stroke-width="3.2"/>
<line x1="1256.3" y1="2070" x2="1256.3" y2="2114" stroke="#0000FF" stroke-width="2.4"/>
<line x1="1246.3" y1="2070" x2="1266.3" y2="2070" stroke="#0000FF" stroke-width="2.4"/>
<line x1="1246.3" y1="2114" x2="1266.3" y2="2114" stroke="#0000FF" stroke-width="2.4"/>
<rect x="1246.5" y="2038.8" width="20" height="20" fill="#0000FF"/>
<rect x="1237.6" y="2112.6" width="20" height="20" fill="#0000FF"/>
<rect x="1262" y="2097.7" width="20" height="20" fill="#0000FF"/>
<line x1="1336.6" y1="2474.4" x2="1336.6" y2="2480.9" stroke="#000" stroke-width="1.8"/>
<path d="M1315.8 2474.4 V2114.3 H1356.3 V2474.4" fill="none" stroke="#FF0000" stroke-width="3.2"/>
<line x1="1336.6" y1="2094" x2="1336.6" y2="2135.7" stroke="#FF0000" stroke-width="2.4"/>
<line x1="1326.6" y1="2094" x2="1346.6" y2="2094" stroke="#FF0000" stroke-width="2.4"/>
<line x1="1326.6" y1="2135.7" x2="1346.6" y2="2135.7" stroke="#FF0000" stroke-width="2.4"/>
<polygon points="1310,2102.5 1332,2102.5 1321,2082.5" fill="#FF0000"/>
<polygon points="1334.5,2104 1356.5,2104 1345.5,2084" fill="#FF0000"/>
<polygon points="1325.6,2166.4 1347.6,2166.4 1336.6,2146.4" fill="#FF0000"/>
<path d="M1176.8 2034 V2024.4 H1256.3 V2034" fill="none" stroke="#231F20" stroke-width="2"/>
<path d="M1176.8 2009.5 V1989.3 H1336.6 V2009.5" fill="none" stroke="#231F20" stroke-width="2"/>
<text x="1184" y="2034" font-size="47">***</text>
<text x="1223.8" y="2000" font-size="47">***</text>
<text transform="translate(1031,2239) rotate(-90)" font-size="37.3" text-anchor="middle">no. of BODIPY 493/503 puncta</text>
<line x1="1611" y1="2008.3" x2="1611" y2="2473.5" stroke="#000" stroke-width="2.2"/>
<line x1="1605" y1="2356.7" x2="1611" y2="2356.7" stroke="#000" stroke-width="1.8"/>
<text x="1604" y="2369.2" font-size="35.5" text-anchor="end">0.2</text>
<line x1="1605" y1="2240.9" x2="1611" y2="2240.9" stroke="#000" stroke-width="1.8"/>
<text x="1604" y="2253.4" font-size="35.5" text-anchor="end">0.4</text>
<line x1="1605" y1="2125.1" x2="1611" y2="2125.1" stroke="#000" stroke-width="1.8"/>
<text x="1604" y="2137.6" font-size="35.5" text-anchor="end">0.6</text>
<line x1="1605" y1="2009.3" x2="1611" y2="2009.3" stroke="#000" stroke-width="1.8"/>
<text x="1604" y="2021.8" font-size="35.5" text-anchor="end">0.8</text>
<line x1="1606" y1="2472.5" x2="1852.6" y2="2472.5" stroke="#000" stroke-width="2.2"/>
<line x1="1651" y1="2472.5" x2="1651" y2="2479" stroke="#000" stroke-width="1.8"/>
<path d="M1631 2472.5 V2296.7 H1671.5 V2472.5" fill="none" stroke="#000" stroke-width="3.2"/>
<line x1="1651" y1="2278.7" x2="1651" y2="2314.7" stroke="#000" stroke-width="2.4"/>
<line x1="1641" y1="2278.7" x2="1661" y2="2278.7" stroke="#000" stroke-width="2.4"/>
<line x1="1641" y1="2314.7" x2="1661" y2="2314.7" stroke="#000" stroke-width="2.4"/>
<circle cx="1635.6" cy="2265.9" r="10.4" fill="#000"/>
<circle cx="1661" cy="2292.2" r="10.4" fill="#000"/>
<circle cx="1651" cy="2330.5" r="10.4" fill="#000"/>
<line x1="1731.2" y1="2472.5" x2="1731.2" y2="2479" stroke="#000" stroke-width="1.8"/>
<path d="M1711 2472.5 V2165 H1751.7 V2472.5" fill="none" stroke="#0000FF" stroke-width="3.2"/>
<line x1="1731.2" y1="2150" x2="1731.2" y2="2181.4" stroke="#0000FF" stroke-width="2.4"/>
<line x1="1721.2" y1="2150" x2="1741.2" y2="2150" stroke="#0000FF" stroke-width="2.4"/>
<line x1="1721.2" y1="2181.4" x2="1741.2" y2="2181.4" stroke="#0000FF" stroke-width="2.4"/>
<rect x="1705.8" y="2132" width="20" height="20" fill="#0000FF"/>
<rect x="1731" y="2144.5" width="20" height="20" fill="#0000FF"/>
<rect x="1721.4" y="2186.4" width="20" height="20" fill="#0000FF"/>
<line x1="1811.3" y1="2472.5" x2="1811.3" y2="2479" stroke="#000" stroke-width="1.8"/>
<path d="M1791.3 2472.5 V2180 H1831.7 V2472.5" fill="none" stroke="#FF0000" stroke-width="3.2"/>
<line x1="1811.3" y1="2162.9" x2="1811.3" y2="2195.8" stroke="#FF0000" stroke-width="2.4"/>
<line x1="1801.3" y1="2162.9" x2="1821.3" y2="2162.9" stroke="#FF0000" stroke-width="2.4"/>
<line x1="1801.3" y1="2195.8" x2="1821.3" y2="2195.8" stroke="#FF0000" stroke-width="2.4"/>
<polygon points="1800.3,2157.5 1822.3,2157.5 1811.3,2137.5" fill="#FF0000"/>
<polygon points="1790.7,2207 1812.7,2207 1801.7,2187" fill="#FF0000"/>
<polygon points="1816.2,2207 1838.2,2207 1827.2,2187" fill="#FF0000"/>
<path d="M1650.5 2035.3 V2026.3 H1730.2 V2035.3" fill="none" stroke="#231F20" stroke-width="2"/>
<path d="M1651 2005.4 V1987.7 H1808.6 V2005.4" fill="none" stroke="#231F20" stroke-width="2"/>
<text x="1663" y="2035" font-size="47">***</text>
<text x="1703" y="1999" font-size="47">***</text>
<text transform="translate(1476,2240) rotate(-90)" font-size="37.2" text-anchor="middle">size of BODIPY 493/503</text>
<text transform="translate(1523,2239) rotate(-90)" font-size="37" text-anchor="middle">puncta (<tspan font-family="Liberation Serif">μ</tspan>m<tspan font-size="22" dy="-14">2</tspan><tspan dy="14">)</tspan></text>
<text x="1867.6" y="2195" font-size="32">n=3</text>
<text x="1867.6" y="2233.8" font-size="32" fill="#0000FF">n=3</text>
<text x="1867.6" y="2274.8" font-size="32" fill="#FF0000">n=3</text>
</svg>
</body></html>
